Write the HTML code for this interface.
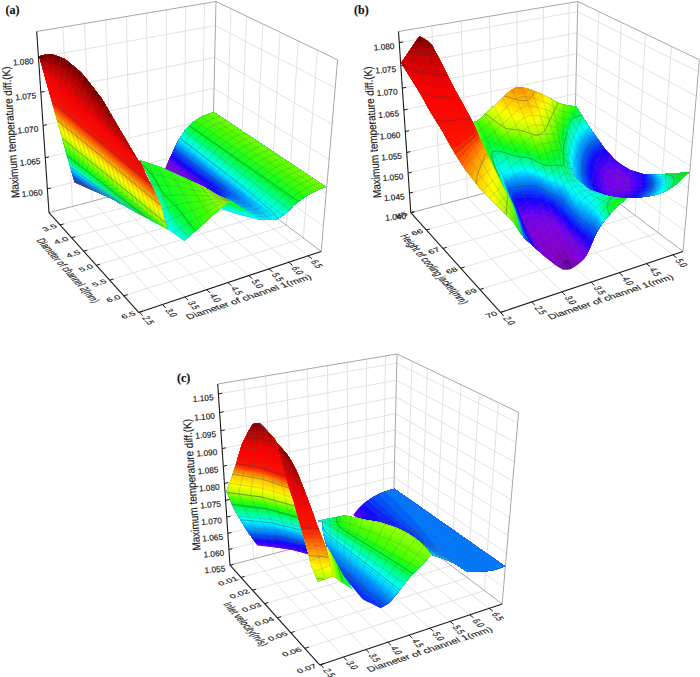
<!DOCTYPE html><html><head><meta charset="utf-8"><style>html,body{margin:0;padding:0;background:#fff}svg{display:block}text{font-family:"Liberation Sans",sans-serif;stroke:#222;stroke-width:0.18px}</style></head><body>
<svg width="700" height="677" viewBox="0 0 700 677">
<rect width="700" height="677" fill="#fff"/>
<g><line x1="72.6" y1="206.5" x2="62.8" y2="27.1" stroke="#e2e2e2" stroke-width="1" />
<line x1="72.6" y1="206.5" x2="162.5" y2="304.5" stroke="#e2e2e2" stroke-width="1" />
<line x1="92.2" y1="201.3" x2="84.5" y2="23.5" stroke="#e2e2e2" stroke-width="1" />
<line x1="92.2" y1="201.3" x2="184.9" y2="297" stroke="#e2e2e2" stroke-width="1" />
<line x1="111.4" y1="196.2" x2="105.6" y2="19.9" stroke="#e2e2e2" stroke-width="1" />
<line x1="111.4" y1="196.2" x2="206.7" y2="289.7" stroke="#e2e2e2" stroke-width="1" />
<line x1="130.2" y1="191.2" x2="126.3" y2="16.5" stroke="#e2e2e2" stroke-width="1" />
<line x1="130.2" y1="191.2" x2="228" y2="282.6" stroke="#e2e2e2" stroke-width="1" />
<line x1="148.7" y1="186.3" x2="146.5" y2="13.1" stroke="#e2e2e2" stroke-width="1" />
<line x1="148.7" y1="186.3" x2="248.7" y2="275.6" stroke="#e2e2e2" stroke-width="1" />
<line x1="166.7" y1="181.5" x2="166.3" y2="9.8" stroke="#e2e2e2" stroke-width="1" />
<line x1="166.7" y1="181.5" x2="269" y2="268.9" stroke="#e2e2e2" stroke-width="1" />
<line x1="184.4" y1="176.9" x2="185.6" y2="6.6" stroke="#e2e2e2" stroke-width="1" />
<line x1="184.4" y1="176.9" x2="288.7" y2="262.2" stroke="#e2e2e2" stroke-width="1" />
<line x1="201.7" y1="172.3" x2="204.5" y2="3.4" stroke="#e2e2e2" stroke-width="1" />
<line x1="201.7" y1="172.3" x2="308" y2="255.8" stroke="#e2e2e2" stroke-width="1" />
<line x1="225.8" y1="179.7" x2="230.9" y2="8.7" stroke="#e2e2e2" stroke-width="1" />
<line x1="59.9" y1="224.9" x2="225.8" y2="179.7" stroke="#e2e2e2" stroke-width="1" />
<line x1="239.9" y1="190.3" x2="246.5" y2="16.2" stroke="#e2e2e2" stroke-width="1" />
<line x1="71.5" y1="237.7" x2="239.9" y2="190.3" stroke="#e2e2e2" stroke-width="1" />
<line x1="254.7" y1="201.4" x2="262.9" y2="24" stroke="#e2e2e2" stroke-width="1" />
<line x1="83.6" y1="251.2" x2="254.7" y2="201.4" stroke="#e2e2e2" stroke-width="1" />
<line x1="270.2" y1="213" x2="280.1" y2="32.3" stroke="#e2e2e2" stroke-width="1" />
<line x1="96.3" y1="265.3" x2="270.2" y2="213" stroke="#e2e2e2" stroke-width="1" />
<line x1="286.4" y1="225.2" x2="298.3" y2="41" stroke="#e2e2e2" stroke-width="1" />
<line x1="109.7" y1="280.2" x2="286.4" y2="225.2" stroke="#e2e2e2" stroke-width="1" />
<line x1="303.4" y1="238" x2="317.4" y2="50.1" stroke="#e2e2e2" stroke-width="1" />
<line x1="123.8" y1="295.9" x2="303.4" y2="238" stroke="#e2e2e2" stroke-width="1" />
<line x1="47.3" y1="188.9" x2="212.7" y2="147.2" stroke="#e2e2e2" stroke-width="1" />
<line x1="212.7" y1="147.2" x2="323.4" y2="226.3" stroke="#e2e2e2" stroke-width="1" />
<line x1="45.2" y1="157.7" x2="213.4" y2="118.2" stroke="#e2e2e2" stroke-width="1" />
<line x1="213.4" y1="118.2" x2="326.2" y2="193.6" stroke="#e2e2e2" stroke-width="1" />
<line x1="43" y1="125.5" x2="214" y2="88.3" stroke="#e2e2e2" stroke-width="1" />
<line x1="214" y1="88.3" x2="329.1" y2="159.6" stroke="#e2e2e2" stroke-width="1" />
<line x1="40.8" y1="92.2" x2="214.7" y2="57.5" stroke="#e2e2e2" stroke-width="1" />
<line x1="214.7" y1="57.5" x2="332.1" y2="124.3" stroke="#e2e2e2" stroke-width="1" />
<line x1="38.4" y1="57.6" x2="215.4" y2="25.6" stroke="#e2e2e2" stroke-width="1" />
<line x1="215.4" y1="25.6" x2="335.2" y2="87.7" stroke="#e2e2e2" stroke-width="1" />
<line x1="36.7" y1="31.5" x2="216" y2="1.5" stroke="#a8a8a8" stroke-width="1" />
<line x1="216" y1="1.5" x2="337.6" y2="59.8" stroke="#a8a8a8" stroke-width="1" />
<line x1="212.2" y1="169.5" x2="216" y2="1.5" stroke="#a8a8a8" stroke-width="1" />
<line x1="321.2" y1="251.4" x2="337.6" y2="59.8" stroke="#a8a8a8" stroke-width="1" />
<line x1="49" y1="212.7" x2="212.2" y2="169.5" stroke="#a8a8a8" stroke-width="1" />
<line x1="212.2" y1="169.5" x2="321.2" y2="251.4" stroke="#a8a8a8" stroke-width="1" /></g>
<g transform="translate(0 0)">
<clipPath id="c1"><path d="M213.8 112.2l5.9 3.9 5.9 4 5.9 3.9 5.9 3.9 5.9 4 5.9 3.9 5.9 3.9 5.9 4 5.9 3.9 5.9 3.9 5.9 3.9 5.9 4 5.9 3.9 5.9 3.9 5.9 4 5.9 3.9 5.9 3.9 5.9 4 5.9 3.9-2.6 .9-2.6 1-2.6 1-2.6 1.2-2.6 1.3-3.3 1.8-3.4 2.1-3.3 2.2-3.2 2.4-3.1 2.3-2.9 2.5-2.7 2.8-2.7 2.7-2.7 2.5-2.6 1.8-2.2 1.3-2 1.2-2 1.1-2.2 .7-2.5 .3-2.3 0-2.5 0-2.7-.1-2.9-.2-3.1-.3-4.7-3.1-4.7-3-4.7-3.1-4.7-3.1-4.7-3-4.7-3.1-5.1-2.4-5.2-2.2-4.9-2.7-4.8-2.9-4.8-2.9-5-2.5-5.1-2.4-5.1-2.3-5.1-2.3-5.1-2.4-5.1-2.4-5.1-2.3-5.1-2.4 1.4-3 1.4-3 1.3-3 1.4-2.8 1.3-2.8 1.7-3.5 1.6-3.5 1.6-3.4 1.7-3.1 1.6-2.8 1.9-2.8 1.8-2.6 1.8-2.5 2-2.2 2-2.1 2.2-2.1 2.3-1.9 2.5-1.8 2.5-1.7 2.7-1.5 2.2-1.1 2.4-1 2.4-.9 2.6-.8 2.6-.8Z"/></clipPath>
<g clip-path="url(#c1)" fill-rule="evenodd">
<rect x="161" y="109" width="168" height="114" fill="#8300d5"/>
<path d="M162 109l167 0 0 114-168 0 0-25.7 .3-.3 0-1 1-1 0-1 1-1 0-2 1-1 0-1 1-1 0-1 1-1 0-1 1-1 0-1 1-1 0-1 1-1 0-2 1-1 0-1 1-1 0-1 1-1-.3-.7-1 .2-.5-.5-.1-1-4.4-3.5-1 0-1-1-1 0-1-1-1 0 0-56.5Z" fill="#7e00e2"/>
<path d="M162 109l167 0 0 114-168 0 0-1 1-1 0-1 1-1 0-1 1-1 0-1 1-1 0-1 1-1 0-1 1-1 0-2 1-1 0-1 1-1 0-1 1-1 0-1 1-1 0-1 1-1 0-1 1-1 0-1 1-1 0-2 1-1 0-1 1-1 0-1 1-1 0-1 1-1 0-1 1-1 0-1 1-1 0-2 1-1 0-2-1 0-2-2 1-1-12-9.5-1-1.7-2 0-1-1-1 0-1-1 0-52.8ZM177 174.6l.4 .4-.4 .2-.2-.2Z" fill="#7b00ec"/>
<path d="M162 109l167 0 0 114-161.3 0 1-1 0-1 1-1 0-1 1-1 0-1 1-1 0-1 1-1 0-2 1-1 0-1 1-1 0-1 1-1 0-1 1-1 0-1 1-1 0-2 1-1 0-1 1-1 0-1 1-1 0-1 1-1 0-1 1-1 0-1 1-1 0-2 1-1 0-1 1-1 0-1 1-1 0-1 .5-1-.2-.4-1 .1-1-1.2-1 .1-1-1.5-1 .4-.3-.5 .3-.4 4 1.5 1.7-.1-19.7-15.4-1 .6-1-1.1-2 0-1-1-1 0-1-1 0-52.1ZM180 176.9l.4 .1-.4 .1Z" fill="#7500f5"/>
<path d="M162 109l167 0 0 114-148.5 0 0-1 1-1 0-1 1-1 0-1 1-1 0-2 1-1 0-1 1-1 0-1 1-1 0-1 1-1 0-1 1-1 0-1 1-1 0-2 1-1 0-1 1-1 0-1 1-1 0-1 1-1 0-1 1-1 0-2 1-1 0-1 1-1 0-1-.5-1.1-1 0-1-1.1-1 .1-2-2.7-1 .3-.5-.5 .5-.6 4.2 1.6 1.8 .3 .5-.3-27.5-21.2-1-.3-1-1-1 0-1-1-1 0-1-1-2 0 0-49.5ZM186 179.9l.2 .1-.2 .1ZM188 180.7l.9 .3-.9 .3-.2-.3Z" fill="#5b00f8"/>
<path d="M162 109l167 0 0 114-144 0 1-1 0-1 1-1 0-1 1-1 0-1 1-1 0-1 1-1 0-1 1-1 0-1 1-1 0-1 1-1 0-1 1-1 0-1 1-1 0-1 1-1 0-1 1-1 0-1 1-1 0-1 1-1 0-1 1-1 0-1 1-1 0-1 1-1 0-1-1-.3-1-1.1-1 .1-1-1.1-1 .1-1-1.4-1 .1-.4-.4 .4-.8 7.8 2.8 1.2 .3 .7-.3-3.2-3-31.5-24-.6-1-1.4-1.2-1 0-1-1-1 0-1-1-1 0-1-1-1 0 0-45.8ZM192 183ZM193 183.4l1 .3 .6 .3-1.6 .4-.4-.4Z" fill="#4100fa"/>
<path d="M162 109l167 0 0 114-141.1 0 1-1 0-1 1-1 0-1 2-2 0-1 1-1 0-1 2-2 0-1 2-2 0-1 1-1 0-1 2-2 0-1 1-1 0-1 2-2 0-1 1-1 0-1 2-2 0-1 1-1-.9-.3-2-2.3-1 .2-1-1.3-1 .1-.4-.4 .4-.7 7.2 2.7 1.4 0-1.6-3.1-4.4-3.9-32.9-25-.7-.4-1 .6-1-1-1 0-1-1-1 0-1-1-1 0-1-1-1 0 0-45.2ZM195 185l.1 0-.1 0ZM197 185.7l.8 .3-.8 .2ZM199 186.5l1 .3 .4 .2-1.4 .3-.3-.3Z" fill="#2700fd"/>
<path d="M162 109l167 0 0 114-134.2 0 0-1 1-1 0-1 2-2 0-1 1-1 0-1 2-2 0-1 1-1 0-1 2-2 0-1 2-2 0-1 1-1 0-1 2-2 0-1 1-1 0-1 2-2-.8-1.4-1 .1-1-1.1-1 0-1-1.1-1-.1-1.2-1.4 .2-.4 8 2.8 1 .7 .3-.1-.1-1-.6-2-3.6-4.3-4.5-3.7-34.3-26-1.2-.5-1-1-1 0-1-1-1 0-1-1-1 0-1-1-1 0-1-1 0-41.5ZM203 188.8l.5 .2-.5 .1Z" fill="#1306ff"/>
<path d="M162 109l167 0 0 114-126.5 0 1-1 0-1 1-1 0-1 1-1 0-1 1-1 0-1 1-1 0-1 2-2 0-1 1-1 0-1 1-1 0-1 1-1 0-1 1-1 0-1 1-1 0-1 2-2 0-1-1.5-1.4-1 .1-1-1.2-1 .1-.4-.6 .4-.9 5.2 1.9 1.1-1 .4-1 0-1-3-4-4.5-4-39.7-30 .6-1-1.1-1.1-1 0-1-1-1 0-1-1-1 0-1-1-2 0-1-1-1 0 0-38.9ZM206 190.8l.7 .2-.7 .1ZM208 191.5l1 .4 .3 .1-1.3 .2-.2-.2ZM210 192.3l1 .4 .8 .3-1.8 .3-.3-.3Z" fill="#0d1eff"/>
<path d="M162 109l167 0 0 114-118 0 1-1 0-1 1-1 0-2 1-1 0-1 1-1 0-1 1-1 0-2 1-1 0-1 1-1 0-1 1-1 0-2 1-1 0-1 1-1 0-1-1-1-1 0-2-2.1-1.3-.9 .3-.6 5 1.6 1.2-3 0-1-.6-2-3.7-4-4.9-4-40-30.2-1-.3-1-1-1 0-1-1-1 0-1-1-1 0-1-1-2 0-1-1-1 0 0-38.5ZM212 193.8l.4 .2-.4 .1ZM214 194.6l1 .4-1 .2-.2-.2Z" fill="#0835ff"/>
<path d="M162 109l167 0 0 114-117.7 0 1-1 0-1 1-1 0-2 1-1 0-1 1-1 0-1 1-1 0-2 1-1 0-1 1-1 0-1 1-1 0-2 1-1 0-1 1-1 0-1-1.3-1.7-1 .1-.4-.4 .4-.7 3 1.2 1 0 0-1-.5-.5 3.3-2 .3-1-2.1-4-4.2-4-45.8-34.6-1-.3-1 .9-1-1-1 0-1-1-1 0-1-1-1 0-1-1-2 0-1-1-1 0 0-38ZM223.3 199l.7 .3 .3-.3-.3-.2ZM218 196.9l.2 .1-.2 .1Z" fill="#034cff"/>
<path d="M162 109l167 0 0 114-117.3 0 1-1 0-1 1-1 0-2 1-1 0-1 1-1 0-1 1-1 0-2 1-1 0-1 1-1 0-1 1-1 0-2 1-1 0-1 1-1 .3-1.8 5 2 .7-.2-3.8-3 4.1-2.6 1-.3 .3-2.1-2.3-2.3-2-2.6-3.6-3.1-46.6-35-.2-1-.6-.4-2 0-1-1-1 0-1-1-1 0-1-1-1 0-1-1-1 0-1-1-1 0-1-1 0-33.6ZM221 198.9l.3 .1-.3 .1Z" fill="#0063ff"/>
<path d="M162 109l167 0 0 114-113 0 1-1 0-1 1-1 0-1 1-1 0-1 1-1 0-1 1-1 0-1 1-1 0-2 1-1 0-1 1-1 0-1 1-1 0-1 1-1 .4-1 1.6 .2 3 1.2 .4-.4-4.4-3.5-1.1-.5 .1-.3 7.3-1.7 1.7-1-1-.9-1 .4-1.5-3.5-5.1-5-51.4-38.9-3 .1-1-1-1 0-1-1-1 0-1-1-1 0-1-1-1 0-1-1-1 0-1-1 0-33.2Z" fill="#0078ff"/>
<path d="M162 109l167 0 0 114-112.6 0 1-1 0-1 1-1 0-1 1-1 0-1 1-1 0-1 1-1 0-1 1-1 0-2 1-1 0-1 1-1 0-1 1-1 0-1 1.6-1.6 1 .1 1 .8 1 .1 1 .8 3 1.2 .7-.4-6.7-5.1 1-.5 2-.3 3 .9 5 .5 1.4-.5 .2-1-.6-.4-2-3.6-.9-1-9.6-8-51.3-39-.6-1-1.6-1.3-1 0-1-1-1 0-1-1-1 0-1-1-1 0-1-1-1 0-1-1-1 0-1-1-1 0 0-29.7ZM235.5 206l.5 .2 .2-.2-.2-.1Z" fill="#008cff"/>
<path d="M162 109l167 0 0 114-112.2 0 1-1 0-1 1-1 0-1 1-1 0-1 1-1 0-1 1-1 0-1 1-1 0-2 1-1 0-1 1-1 0-1 1-1 0-1 1.2-1.2 1 0 1 1 1 0 2 1.5 1 .2 1 .7 4 1.3 .3-.5-6.8-5-.5-.7-.7-.3 .7-.4 8 2.9 3 .6 4-.1 .6-1-.2-1-1.4-1.2-2-3.4-4.3-4.4-14.7-11.6-47-35.8-2-.3-1-1-1 0-1-1-1 0-1-1-1 0-1-1-1 0-1-1-1 0-1-1-1 0-1-1-1 0 0-29.3ZM238.6 208l.4 .1 .3-.1-.3-.2Z" fill="#00a1ff"/>
<path d="M162 109l167 0 0 114-109.2 0 1-1 0-1 1-1 0-1 2-2 0-1 2-2 0-1 2-2 0-1 2-2 0-1 1.2-1.2 2 .1 1 1 1 0 1 .6 1 .1 1 .8 1 .2 1 .7 1 .2 .7-.5-4.1-3 .4-.9 6 2 5 .7 2 .1 2-2-3-3.4-.8-1.5-9.2-8.9-62.5-48.1-.2-1-1.3-1.1-1 0-1-1-1 0-1-1-1 0-2-2-1 0-1-1-1 0-1-1-1 0-1-1-1 0-1-1 0-24.9ZM241.9 210l.1 .1 1.1-.1-1.1-.2ZM235 203.8l.5 .2-.5 .1ZM237 204.6l.8 .4-.8 .2-.4-.2Z" fill="#00b7ff"/>
<path d="M162 109l167 0 0 114-96.8 0 2-2 0-1 2-2 0-1 2-2 0-1 1-1 0-1 1.8-1.8 1 .4 1 0 3 2.3 .4-.9-1.4-1.3-1-.4-1.3-1.3 .3-.4 7 2.2 6 .8 1-.2 1-.7 1 .1 .4-.8-.3-1-4.1-5-14-12.9-63-48.7-1 0-1-1-1 0-1-1-1 0-1-1-1 0-2-2-1 0-1-1-1 0-1-1-1 0-1-1-1 0-1-1 0-24.4Z" fill="#00cdff"/>
<path d="M162 109l167 0 0 114-89.4 0 1-1 0-1 2-2 0-1 2-2 0-1 1.4-1.3 2 0 1 .9 .9-.6-.9-.7-.2-.3 .2-.4 7 1.9 6 .9 1-.4 2 .2 .5-1.2-.4-2-2.1-2.2-2-2.8-4.1-4-14.9-13-63.3-49-.7-2.1-1 0-1-1-1 0-2-2-1 0-1-1-1 0-2-2-1 0-1-1-1 0-2-2-1 0-1-1 0-19.9ZM250.7 215l0 1 .3 .1 .2-1.1-.2-.3Z" fill="#00e3ff"/>
<path d="M162 109l167 0 0 114-82.1 0 0-1 2-2 0-1 3.1-3.1 1 1 2-.3 1.3 .4-1.2 1 .9 .3 1-1.1 7 1.7 7 .5 .5-.4 .4-1 .3-2-.5-1-4.3-5-4.2-4-10.2-8.9-12-9.8-61-47.6-1-.1-1-1.2-1 0-1-1-1 0-2-2-1 0-1-1-1 0-2-2-1 0-1-1-1 0-2-2-1 0-1-1 0-19.4Z" fill="#00f9ff"/>
<path d="M162 109l167 0 0 114-45.9 0-1-1 0-1-2-2-.1-1.1-1-.1-3-2.8-1.5-2-4.3-4-15.4-13-74.2-58-.3-1-2.3-2.1-1 0-2-2-1 0-2-2-1 0-2-2-1 0-2-2-1 0-2-2-1 0-1-1 0-14.9Z" fill="#00ffed"/>
<path d="M162 109l167 0 0 114-42.1 0-2-2 0-1-1-1 0-1-1-1-.1-1-.6-1-15-12-85.2-66.2-2-.5-2-2-1 0-2-2-1 0-2-2-1 0-2-2-1 0-2-2-1 0-2-2-1 0-1-1 0-14.3Z" fill="#00ffd4"/>
<path d="M162 109l167 0 0 114-32.9 0-2-2 0-1-7.1-7.2-1 .7-33-24.6-70.3-53.9-.3-1-2.4-2.2-1 0-2-2-1 0-2-2-1 0-3-3-1 0-2-2-1 0-2-2-1 0-2-2 0-9.8Z" fill="#00ffbb"/>
<path d="M162 109l167 0 0 114-32 0-2-2 0-1-7-7 .9-1-.9-.9-15-10.6-22-16.2-67-50.6-2-.5-2-2-1 0-2-2-1 0-2-2-1 0-3-3-1 0-2-2-1 0-2-2-1 0-2-2 0-9.2Z" fill="#00ffa2"/>
<path d="M162 109l167 0 0 114-25.3 0-5.7-5.7-1 0-6.3-6.3 1.6-2-.3-.2-2 .2-31-22.1-74-54.8-.4-1.1-.6-.4-1 0-3-3-1 0-3-3-1 0-4-4-1 0-3-3-1 0-3-3-1 0-1-1 0-4.6Z" fill="#00ff84"/>
<path d="M164 109l165 0 0 114-20.5 0-14-14 0-1 .8-1-.3-.5-3 .3-5.4-3.8-46.6-33.2-54.7-39.8 .8-1-2.1-2.1-1 0-6-6-1 0-6-6-1 0-5.9-5.9Z" fill="#00ff65"/>
<path d="M164 109l165 0 0 114-17.7 0-4-4 0-1-7-7 0-1-3-3 .2-1 .8-1-.3-.7-3 .4-1-.2-49-34.5-57.2-41-1.8-.8-2-2-1 0-6-6-1 0-6-6-1 0-5.2-5.2ZM299.5 204l.5 .1 0-.1 0-.1Z" fill="#00ff45"/>
<path d="M170 109l159 0 0 114-14.8 0-3-3 0-1-3-3 0-1-3-3 0-1-4-4 0-1-1-1 .4-1 .8-1-.4-1-3 .5-1.7-.5-108.3-75.6-16-16-1 0-1.4-1.4ZM301.1 202l1.9 .2 .1-.2-.1-.3Z" fill="#01ff27"/>
<path d="M176 109l153 0 0 114-10.8 0-2-2 0-1-3-3 0-1-3-3 0-1-2-2 0-1-3-3 0-1-2-2 .4-1 1.4-1.8 1 .1 0-.9-5 .8-1.2-.2-109.8-75.6-2.4-2.4 0-1-12-12Z" fill="#13ff1d"/>
<path d="M182 109l147 0 0 114-7.8 0 0-1-2-2 0-1-2-2 0-1-2-2 0-1-2-2 0-1-2-2 0-1-2-2 0-1-2-2 0-1-.6-1 1.4-1.7 1 .1 .2-.4-.2-.9-5 .7-1-.2-109.2-74.6-.8-.3-.4-.7-5-5 0-1-5-5 0-1-1-1ZM309.8 197l.2 0Z" fill="#26ff13"/>
<path d="M187 109l142 0 0 114-3.7 0-2-2 0-1-1-1 0-1-2-2 0-1-2-2 0-1-1-1 0-1-2-2 0-1-2-2 0-1-1-1 0-1-2-2 0-1-.6-1 1.3-1.5 1 0 1.1-1.5-.1-.3-5 .7-1.5-.4-109.5-74.2-2-.7-2.1-2.1 0-1-3-3 0-1-3-3Z" fill="#38ff08"/>
<path d="M196 109l133 0 0 114-1.4 0 0-1-2-2 0-1-1-1 0-1-1-1 0-1-1-1 0-1-2-2 0-1-1-1 0-1-1-1 0-1-1-1 0-1-1-1 0-1-2-2 0-1-1-1 0-1-.7-1 1.1-1.3 1 0 1.3-1.7-.3-.6-4 .5-1-.3-106-71.8-5-3-.5-.8 0-1-1-1 0-1-1-1 0-1-1-1 0-1-1-1Z" fill="#4cff00"/>
<path d="M206 109l123 0 0 108.4-.4-.4 0-1-1-1 0-2-1-1 0-1-1-1 0-1-1-1 0-1-1-1 0-1-1-1 0-2-1-1 0-1-1-1 0-1-1-1 0-1-1-1 0-1-1-1 2.1-2 .3-1 1 .1 0-.3-3 .4-1.6-.2-108.8-75-.4-1-1-1 0-2-1-1 0-1Z" fill="#66ff00"/>
<path d="M329 111.1l0 .9 0 88.7-.7-.7 0-2-1-1 0-2-1-1 0-2-1-1 0-2-1.3-1.8-.7-.2-18.1-13 .8-.3 .6-.7-.6-.7-1 1.5-5.3-3.8 1-1-.7-.9-1 1.4-3.4-2.5-1.3-1 .6-1-.8-1 0-1 2-2 0-1 2-2 0-1 2-2 0-1 2-2 0-1 2-2 0-1 2-2 0-1 2-2 0-1 2-2 0-1 2-2 0-1 2-2 0-1 2-2 0-1 2-2 0-1 2-2 0-1 2-2 0-1 2-2 0-1 2-2 0-1 2-2 0-1ZM293 164.2l0 .8 0 .1-.2-.1Z" fill="#80ff00"/>
<path d="M174.4 223l0-1 1-1 0-2 1-1 0-1 1-1 0-1 1-1 0-1 1-1 0-1 1-1 0-1 1-1 0-2 1-1 0-1 1-1 0-1 1-1 0-1 1-1 0-1 1-1 0-2 1-1 0-1 1-1 0-1 1-1 0-1 1-1 0-1 1-1 0-2-.4-1.2-1 0-1-1.1-1 .1-1-1.6-1 .3-.5-.5 .5-.6 4 1.2 .3 .4 .7 .2 .7-.2-23.1-18-.3-1-1.3-1.2-1 0-1-1-1 0-1-1-2 0M182 177.9l.2 .1-.2 .1 0-.2M184 178.7l.9 .3-.9 .3-.3-.3 .3-.3M211.7 223l1-1 0-1 1-1 0-2 1-1 0-1 1-1 0-1 1-1 0-2 1-1 0-1 1-1 0-1 1-1 0-2 1-1 0-1 1-1 0-1 .3-.7 5 2 .9-.3-.9-.4-.4-.6-1.4-1-.2-.5-1.1-.5 3.1-1.5 1-.8 1-.3 .3-.4 .3-2-2.6-2.6-1.8-2.4-3.6-3-46.6-35-.3-1-.7-.4-2 0-1-1-1 0-1-1-1 0-1-1-1 0-1-1-1 0-1-1-1 0-1-1M221 198.9l.2 .1-.2 0 0-.1M229 202M280.5 223l-1-1 0-1-1-1 0-1-2-2-2.5-3.4-5-4.8-9-7.8-17.2-14-62.8-48.9-1-.1 1-1-2-2-1 0-2-2-1 0-2-2-1 0-2-2-1 0-2-2-1 0-2-2-1 0-1-1M314.6 223l-3-3 0-1-3-3 0-1-3-3 0-1-4-4 0-1-1-1 .4-1.3 1-1.1 1 0 1.1-1.6-.1-.3-4 .7-2-.1-108-75.1-1-.2 1-1-3-3 0-1-12-12" fill="none" stroke="rgba(55,55,55,0.5)" stroke-width="0.8"/>
<path d="M213.8 112.2l5.9 3.9 5.9 4 5.9 3.9 5.9 3.9 5.9 4 5.9 3.9 5.9 3.9 5.9 4 5.9 3.9 5.9 3.9 5.9 3.9 5.9 4 5.9 3.9 5.9 3.9 5.9 4 5.9 3.9 5.9 3.9 5.9 4 5.9 3.9M207.4 114.3l5.9 3.9 5.9 4 5.9 3.9 5.9 4 5.9 3.9 5.9 4 5.8 3.9 5.9 4 5.9 3.9 5.9 4 5.9 3.9 5.9 4 5.9 3.9 5.9 4 5.9 3.9 5.9 4 5.9 3.9 5.9 4 5.9 3.9M201.6 116.8l5.9 4 5.8 3.9 5.9 4 5.8 4 5.9 4 5.8 3.9 5.9 4 5.9 4 5.8 4 5.9 3.9 5.8 4 5.9 4 5.9 4 5.8 3.9 5.9 4 5.8 4 5.9 4 5.8 3.9 5.9 4M195.1 120.9l5.8 4 5.8 4 5.7 4.1 5.8 4 5.7 4 5.8 4 5.8 4 5.7 4.1 5.8 4 5.7 4 5.8 4 5.8 4 5.7 4.1 5.8 4 5.7 4 5.8 4 5.8 4.1 5.7 4 5.8 4M189.4 125.8l5.6 4.1 5.7 4 5.6 4.1 5.7 4.1 5.6 4 5.7 4.1 5.6 4.1 5.6 4 5.7 4.1 5.6 4.1 5.7 4.1 5.6 4 5.6 4.1 5.7 4.1 5.6 4 5.7 4.1 5.6 4.1 5.7 4 5.6 4.1M184.5 131.3l5.5 4.2 5.6 4.1 5.5 4.1 5.6 4.1 5.5 4.1 5.5 4.1 5.6 4.1 5.5 4.1 5.5 4.1 5.5 4.1 5.6 4.2 5.5 4.1 5.5 4.1 5.6 4.2 5.5 4.1 5.5 4.2 5.5 4.1 5.6 4.2 5.5 4.1M179.9 138l5.4 4.1 5.5 4 5.4 4.1 5.4 4.1 5.4 4.1 5.5 4 5.4 4.1 5.4 4.1 5.4 4.1 5.5 4 5.4 4.1 5.4 4.1 5.4 4.1 5.5 4 5.4 4.1 5.4 4.1 5.4 4.1 5.5 4 5.4 4.1M175.8 145.6l5.4 3.9 5.3 3.9 5.3 3.9 5.4 3.9 5.3 3.9 5.3 3.9 5.4 3.9 5.3 3.9 5.4 3.9 5.3 3.8 5.4 3.8 5.4 3.9 5.4 3.9 5.4 3.7 5.4 3.8 5.4 3.8 5.4 3.7 5.4 3.7 5.4 3.7M171.7 154.3l5.2 3.5 5.3 3.5 5.2 3.5 5.3 3.6 5.2 3.5 5.3 3.5 5.2 3.5 5.3 3.5 5.2 3.5 5.3 3.5 5.3 3.4 5.3 3.4 5.4 3.4 5.3 3.4 5.3 3.4 5.3 3.4 5.4 3.4 5.3 3.4 5.3 3.4M168.3 161.4l5.2 3 5.2 3.1 5.1 3 5.2 3 5.2 3 5.2 3 5.2 3 5.1 3 5 3.2 5.1 3.2 5.2 3.1 5.2 2.8 5.3 2.8 5 3.1 5.1 3.2 5.1 3.2 5.1 3.1 5.1 3.4 5.1 3.3M164.9 168.9l5.1 2.4 5.1 2.3 5.1 2.4 5.1 2.4 5.1 2.3 5.1 2.3 5.1 2.4 5 2.5 4.8 2.9 4.8 2.9 4.9 2.7 5.2 2.2 5.1 2.4 4.7 3.1 4.7 3 4.7 3.1 4.7 3.1 4.7 3 4.7 3.1M213.8 112.2l-2.6 .8-2.6 .8-2.4 .9-2.4 1-2.2 1.1-2.7 1.5-2.5 1.7-2.5 1.8-2.3 1.9-2.2 2.1-2 2.1-2 2.2-1.8 2.5-1.8 2.6-1.9 2.8-1.6 2.8-1.7 3.1-1.6 3.4-1.6 3.5-1.7 3.5-1.3 2.8-1.4 2.8-1.3 3-1.4 3-1.4 3M220 116.4l-2.6 .7-2.6 .9-2.4 .9-2.4 1-2.2 1.1-2.7 1.5-2.6 1.7-2.5 1.9-2.4 1.9-2.2 2.1-2.1 2.1-2 2.3-1.9 2.4-1.9 2.6-1.9 2.8-1.7 2.7-1.6 3.1-1.7 3.3-1.7 3.3-1.7 3.3-1.3 2.6-1.4 2.7-1.4 2.6-1.4 2.8-1.4 2.7M226.3 120.5l-2.7 .8-2.5 .8-2.5 1-2.4 1-2.2 1.1-2.8 1.5-2.6 1.7-2.6 1.9-2.4 2-2.3 2.1-2.1 2.1-2 2.3-2 2.4-1.9 2.6-1.9 2.8-1.8 2.7-1.7 3-1.7 3.1-1.7 3.2-1.7 3.1-1.4 2.4-1.4 2.5-1.5 2.4-1.4 2.4-1.4 2.5M232.5 124.6l-2.6 .8-2.6 .9-2.5 .9-2.4 1.1-2.2 1.1-2.8 1.5-2.7 1.8-2.6 1.9-2.5 2-2.3 2.1-2.2 2.1-2.1 2.3-2 2.5-1.9 2.6-2 2.7-1.8 2.6-1.7 2.9-1.8 3.1-1.7 3-1.8 2.9-1.4 2.3-1.5 2.2-1.4 2.2-1.5 2.1-1.5 2.2M238.7 128.8l-2.6 .8-2.6 .9-2.5 .9-2.4 1.1-2.3 1.1-2.8 1.6-2.7 1.7-2.6 1.9-2.6 2.1-2.4 2.1-2.2 2.1-2.1 2.4-2 2.4-2.1 2.6-2 2.7-1.8 2.6-1.8 2.8-1.7 2.9-1.8 2.9-1.8 2.7-1.5 2.1-1.5 2-1.5 1.9-1.5 1.9-1.5 1.9M244.9 133l-2.6 .7-2.6 .9-2.4 1-2.5 1-2.3 1.2-2.8 1.6-2.8 1.7-2.7 2-2.6 2-2.4 2.2-2.3 2.2-2.1 2.3-2.1 2.4-2.1 2.6-2.1 2.7-1.8 2.5-1.8 2.8-1.8 2.8-1.9 2.7-1.8 2.6-1.5 1.8-1.5 1.8-1.5 1.7-1.6 1.6-1.5 1.5M251.2 137.1l-2.7 .8-2.5 .9-2.5 1-2.5 1-2.3 1.2-2.9 1.6-2.8 1.8-2.7 1.9-2.7 2.1-2.5 2.2-2.3 2.2-2.2 2.3-2.1 2.5-2.1 2.6-2.1 2.6-1.9 2.5-1.9 2.7-1.8 2.7-1.9 2.6-1.9 2.3-1.5 1.6-1.5 1.5-1.6 1.5-1.5 1.4-1.6 1.2M257.4 141.2l-2.6 .9-2.6 .9-2.5 .9-2.5 1.1-2.3 1.2-3 1.6-2.8 1.8-2.8 2-2.7 2.1-2.5 2.2-2.4 2.2-2.2 2.4-2.2 2.4-2.1 2.6-2.2 2.6-1.9 2.4-1.9 2.6-1.9 2.6-1.9 2.5-1.9 2.1-1.6 1.4-1.6 1.3-1.5 1.3-1.6 1.1-1.6 .9M263.6 145.4l-2.6 .8-2.6 .9-2.5 1-2.4 1.1-2.4 1.2-3 1.6-2.9 1.8-2.8 2.1-2.7 2.1-2.7 2.2-2.4 2.2-2.2 2.4-2.3 2.5-2.2 2.5-2.2 2.6-1.9 2.4-1.9 2.5-2 2.5-1.9 2.3-2 1.9-1.6 1.3-1.6 1.1-1.7 1.1-1.7 .9-1.6 .8M269.8 149.6l-2.6 .8-2.6 .9-2.5 1-2.4 1.1-2.5 1.2-3 1.6-2.9 1.9-2.9 2-2.7 2.1-2.7 2.2-2.4 2.3-2.4 2.4-2.2 2.5-2.3 2.6-2.3 2.5-1.9 2.3-2 2.4-1.9 2.4-2 2.1-2 1.8-1.7 1.1-1.7 1.1-1.8 .9-1.8 .8-1.8 .7M276.1 153.7l-2.6 .8-2.6 .9-2.6 1.1-2.4 1.1-2.5 1.1-3 1.7-3 1.9-2.9 2.1-2.8 2.1-2.7 2.2-2.5 2.3-2.4 2.5-2.3 2.5-2.3 2.5-2.3 2.5-2 2.2-2 2.3-1.9 2.2-2 2-2.1 1.6-1.8 1-1.8 .9-1.8 .8-1.9 .7-1.9 .5M282.3 157.8l-2.6 .9-2.6 .9-2.5 1-2.5 1.1-2.5 1.2-3.1 1.7-3 1.9-3 2.1-2.8 2.2-2.8 2.2-2.5 2.3-2.5 2.5-2.3 2.6-2.4 2.5-2.3 2.4-2 2.1-2 2.2-2 2.1-2 1.9-2.1 1.3-1.8 .8-1.8 .7-1.9 .6-2 .5-2 .2M288.5 162l-2.6 .8-2.6 1-2.5 1-2.5 1.1-2.5 1.2-3.1 1.7-3.1 2-3 2.1-2.9 2.2-2.8 2.2-2.6 2.4-2.5 2.5-2.4 2.5-2.4 2.6-2.4 2.3-2 2.1-2 2.1-2 2-2 1.6-2.2 1.1-1.8 .5-1.9 .5-2 .3-2 .3-2 .1M294.8 166.2l-2.7 .8-2.6 .9-2.5 1.1-2.5 1.1-2.5 1.2-3.2 1.8-3.1 1.9-3.1 2.1-2.9 2.3-2.9 2.2-2.6 2.4-2.5 2.5-2.5 2.6-2.4 2.5-2.4 2.3-2.1 2-2 2-2 1.8-2.1 1.5-2.2 .9-1.9 .3-1.9 .3-2.1 .3-2.1 .2-2.2 0M301 170.3l-2.6 .8-2.6 1-2.6 1.1-2.5 1.1-2.5 1.2-3.2 1.8-3.2 1.9-3.1 2.2-3 2.2-2.9 2.3-2.7 2.4-2.6 2.6-2.5 2.6-2.5 2.5-2.4 2.2-2.1 1.8-2 1.9-2 1.7-2.1 1.3-2.3 .7-1.9 .3-2.1 .2-2.2 .2-2.3 .1-2.4 0M307.2 174.4l-2.6 .9-2.6 1-2.6 1-2.5 1.2-2.6 1.2-3.2 1.8-3.2 2-3.1 2.1-3.1 2.3-3 2.3-2.7 2.4-2.6 2.6-2.6 2.7-2.5 2.5-2.5 2.1-2.1 1.7-2 1.8-2 1.5-2.1 1.2-2.4 .5-2 .2-2.2 .1-2.3 .1-2.5 .1-2.5 0M313.4 178.6l-2.6 .9-2.6 .9-2.6 1.1-2.5 1.2-2.6 1.2-3.2 1.8-3.3 2-3.2 2.2-3.1 2.3-3 2.3-2.8 2.4-2.7 2.7-2.6 2.7-2.5 2.5-2.6 2-2.1 1.6-2 1.6-2 1.4-2.2 1-2.3 .4-2.2 .1-2.3 0-2.4 0-2.6 0-2.7 0M319.7 182.8l-2.6 .8-2.7 1-2.5 1.1-2.6 1.1-2.6 1.3-3.3 1.8-3.3 2.1-3.2 2.2-3.2 2.3-3.1 2.3-2.8 2.5-2.7 2.7-2.7 2.7-2.6 2.5-2.5 1.9-2.2 1.5-2 1.4-2 1.2-2.2 .9-2.4 .3-2.2 0-2.4 0-2.6 0-2.8-.1-2.9-.1M325.9 186.9l-2.6 .9-2.6 1-2.6 1-2.6 1.2-2.6 1.3-3.3 1.8-3.4 2.1-3.3 2.2-3.2 2.4-3.1 2.3-2.9 2.5-2.7 2.8-2.7 2.7-2.7 2.5-2.6 1.8-2.2 1.3-2 1.2-2 1.1-2.2 .7-2.5 .3-2.3 0-2.5 0-2.7-.1-2.9-.2-3.1-.3" fill="none" stroke="rgba(95,95,95,0.45)" stroke-width="0.5"/>
</g></g>
<g transform="translate(0 0)">
<clipPath id="c2"><path d="M228.8 200l3.3 2.1 3.4 2.1 3.3 2.1 3.3 2.2 3.3 2.1 3.3 2.2 3.3 2.2 3.3 2.2 3.3 2.2 0 .1 0 .1-4.2-1-4.1-1.1-4.2-1-4.1-1-4.1-1.2-4.1-1.3-4.1-1.3-4-1.4-4.1-1.3 1.3-1.7 1.3-1.6 1.3-1.7 1.1-1.3 1.1-1.4 1.1-1.3Z"/></clipPath>
<g clip-path="url(#c2)" fill-rule="evenodd">
<rect x="218" y="197" width="44" height="26" fill="#00c9ff"/>
<path d="M219 197l43 0 0 26-10.7 0 0-3 1-1-1.3-1.1-2-.3-1 .3-1-1.3-1.7-.6-.3-.1-1 .8-1-1.3-7-1.9-.9 .5 0 2-1 1 0 2-1 1 0 2-1 1-14.1 0 0-26Z" fill="#00e3ff"/>
<path d="M219 197l43 0 0 22.6-4 .1-3.9-1.7-1.1-.4-1 .1-1.1-.7-1.9-.6-1 0-.3-.4-5.7-1.7-14-3.3-.7 1 0 1-1 1 0 2-1 1 0 2-1 1 0 2-1 1-5.3 0 0-26Z" fill="#00f9ff"/>
<path d="M219 197l43 0-.1 15-2 2 0 1-2 2 .3 2-.2 0-5-2-13-4.1-8-2-9-1.8-1-1.2-1 0-3-3 0-7.9Z" fill="#00ffed"/>
<path d="M219 197l43 0 0 13.3-.7 .7 0 1-2 2 0 1-2 2 0 1-.3 .2-1-.7-1-.2-1-.6-13-4.3-8-2.1-10-2.3-1-.6-1 0-3-3 0-7.4Z" fill="#00ffd4"/>
<path d="M219 197l43 0 0 6.7-.3 .3 0 1-2 2 0 1-2 2 0 1-2 2 0 1-1.7 1.7-1 .3-14-4.9-16-4.3-4-4-1 0 0-5.8Z" fill="#00ffbb"/>
<path d="M219 197l43 0 0 6.2-.8 .8 0 1-2 2 0 1-2 2 0 1-2 2 0 1-1.2 1.2-2-.1-1-.8-1 0-12-4.4-12-3.2-2-.5-1 .1-4-4-1 0 0-5.3Z" fill="#00ffa2"/>
<path d="M219 197l1 0 41.6 0-1 1 0 1-2 2 0 1-2 2 0 1-2 2 0 1-2 2 0 1-2.6 2.8-15.7-5.8-9.3-2.6-4-3.6-1 0-2-2 0-2.8Z" fill="#00ff84"/>
<path d="M219 197l1 0 41 0-1 1 0 1-2 2 0 1-2 2 0 1-2 2 0 1-2 2 0 1-2 2-1-.9-2 .1-15-5.7-8-2.2-3-3-1 0-2-2 0-2.3Z" fill="#00ff65"/>
<path d="M219 197l37.4 0 0 1-2 2 0 1-2 2 0 1-2 2 0 1-2 2 0 1-1.4 1.5-15-5.8-6-1.9-4-4-1 0-2.8-2.8Z" fill="#00ff45"/>
<path d="M219 197l1 0 32.8 0-2 2 0 1-2 2 0 1-2 2 0 1-2 2 0 1-.8 .9-12-5-5-1.7-1 .1-4-4.1-1 0-2.2-2.2Z" fill="#01ff27"/>
<path d="M222 197l1 0 29.2 0-2 2 0 1-2 2 0 1-2 2 0 1-2 2-.2 1.2-1-.1-1-.8-14-5.7-1-.9-1 0-4.7-4.7Z" fill="#13ff1d"/>
<path d="M222 197l1 0 24 0-2 2 0 1-2 2 0 1-1 1 0 1-2 2-2-1.6-1 .1-10-4.3-1 0Z" fill="#26ff13"/>
<path d="M224 197l13.7 0 0 1-2 2 0 1-1.7 1.7-1 .1-5-1.9-3-3.2-1 0-.7-.7Z" fill="#38ff08"/>
<path d="M224 197l1 0 8.4 0-2 2 0 1-.4 .4-1 .1-2-.3-3-3.1Z" fill="#4cff00"/>
</g></g>
<g transform="translate(0 0)">
<clipPath id="c3"><path d="M139.7 160.2l2.3 4.4 2.3 4.5 2.4 4.4 2.3 4.4 1.9 4.6 1.8 4.7 1.9 4.7 1.8 4.6 1.9 4.6 1.8 4.7 1.8 4.6 1.6 4.8 1.5 4.8 1.5 4.7 1.6 4.8 4.1 2.8 4.1 2.9 4.1 2.8 4.1 2.9 1.6-1.5 1.7-1.4 1.6-1.5 1.6-1.5 1.7-1.5 1.7-1.5 1.8-1.5 1.7-1.5 3.1-2.9 3.2-2.9 3.2-2.8 3.1-2.9 2.7-2.5 2.8-2.6 2.8-2.5 2.7-2.5 1.1-1 1.2-1 1.1-.9 1.1-1 .8-.8 .9-.7 .9-.8 .8-.8-.1-.1-2.7-1.2-2.8-1.1-2.8-1.2-2.7-1.2-3.5-2.2-3.6-2.1-3.5-2.1-3.5-2.2-4.3-2-4.3-2-4.4-1.9-4.3-2-5.5-2.6-5.5-2.5-5.5-2.5-5.5-2.6-3.7-1.3-3.8-1.4-3.7-1.4-3.7-1.3-2.6-.8-2.6-.9-2.5-.8-2.6-.8Z"/></clipPath>
<g clip-path="url(#c3)" fill-rule="evenodd">
<rect x="136" y="157" width="97" height="87" fill="#00ffff"/>
<path d="M137 157l96 0 0 87-71.3 0 0-1 2-2 0-1 2-2 0-1 2-2 0-1 2.9-3-2.1-2-1.1-2-.4-1.6-1.7-1.4 .7-1.1-1-.5-1 0-1 1-2 0-1 1-2 0-1 1-2 0-1 1-2 0-1 1-2 0-1 1-3 0-1 1-2 0-1 1-2 0-1 1-2 0 0-74.4Z" fill="#00ffed"/>
<path d="M137 157l96 0 0 87-53.1 0 0-1 3-3-.6-1-11.6-11-4.3-9-3.7-9-1.7-3-.4 1 1.7 6-.3 .3-.3-.3 .2-1-1.5-1 .3-2-1.3-1-.2-1-1.1-1 0-2-1.1-.2-1 0-1 1-2 0-1 1-1 0-1 1-2 0-1 1-1 0-1 1-2 0-1 1-1 0-1 1-2 0-1 1-1 0 0-55.8ZM163 216.3l.2 .7-.2 .2-.2-.2Z" fill="#00ffd4"/>
<path d="M137 157l96 0 0 87-42 0-2-2 0-1-2-2-1 1-.4-1-6.5-6-6.9-7-4.3-8-4.2-9-5.7-9.8-.5 .8 1 4-.5 .3-.4-.3 .1-1-1.3-1 .2-2-1.6-1-1 1-2 0-1 1-1 0-1 1-2 0-1 1-1 0-1 1-2 0-1 1-1 0-1 1-2 0-1 1 0-50ZM156.8 198l.2 .6 .3-.6-.3-.4ZM159 205.9l.3 1.1-.3 .2-.2-.2Z" fill="#00ffbb"/>
<path d="M137 157l96 0 0 87-39 0-2-2 0-1-3-3-1-.1-3.6-2.9-10-10-4.5-7-6.9-13-8-13.1-.3 .1-.3 1 .5 2-.9 .5-.8-.5 .2-2-1.2-1 .1-1-2.3-.3-1 1-1 0-1 1-2 0-1 1-1 0-1 1-2 0-1 1-1 0-1 1-1 0 0-39.7ZM153.9 191l.1 .5 0-.7ZM155 195.4l.5 1.6-.5 .3-.3-.3ZM156 199Z" fill="#00ffa2"/>
<path d="M137 157l96 0 0 87-35.9 0-3-3 0-1-3.1-3.1-1-.2-4-3.2-10-10.2-6-8.3-10.7-19-3.3-5-4-5.4-.4 .4 0 1-.6 .6-.6-.6 .1-1-1.5-.3-1 1-1 0-1 1-2 0-1 1-1 0-1 1-2 0-1 1-1 0-1 1 0-34.7ZM152 188.5l.4 1.5-.4 .2-.6-.2Z" fill="#00ff84"/>
<path d="M137 157l96 0 0 87-32.9 0-5-5 0-1-3.1-3.2-1-.2-3.3-2.6-10.7-10.9-3-3.6-4-5.4-4.4-8.1-7.6-12.6-4.4-6.4-4.6-5.5-.3 .5 .3 2.2-1-.6-2 0-1 1-1 0-1 1-2 0-1 1-1 0-1 1-2 0 0-28.6Z" fill="#00ff65"/>
<path d="M137 157l96 0 0 87-29.8 0-4-4 0-1-5.2-5.2-1-.5-2.3-2.3-8.7-9.1-7-6.5-3-3.1-10.7-18.3-5.3-8.3-4-5.6-6-6.8-.5 .7 .7 1 .1 1-1.3 1.3-1 0-1 1-1 0-1 1-1 0-1 1-1 0-1 1-1 0 0-24.3Z" fill="#00ff45"/>
<path d="M137 157l96 0 0 87-26.8 0-4-4 0-1-8.9-9-10.3-12.4-16-16.7-11.4-18.9-3.6-5.3-4-4.9-4-3.7-1 .1-1-.5-1 0-2 2-1 0-1 1-1 0 0-13.7Z" fill="#01ff27"/>
<path d="M137 157l96 0 0 87-23.8 0-4-4 0-1-7-7 0-1-1.2-1.4-1-.3-10-14.3-11-14.1-6.4-6.9-7.6-6.6-1-1.3-.3-1.1-7.1-12-3.8-5-4.8-4.6-3-2-2 1.7-1 0-1 1-1 0 0-7.1Z" fill="#13ff1d"/>
<path d="M159 157l74 0 0 87-18.6 0-5-5 0-1-9.4-9.4-.9-.6-.1-.7-6-9.6-16-25-13-17.5-8-9.7-.2-.5 1-1 0-2 1-1 0-2 1-1 0-1Z" fill="#26ff13"/>
<path d="M187 157l46 0 0 87-7 0-11-11 0-1-9-9-2-.1-27.5-47.9 .5-1 1 0 1 1 0-2 1-1 0-1 1-1 0-1 1-1 0-2 1-1 0-1 1-1 0-1 1-1 0-1 1-1 0-1Z" fill="#38ff08"/>
<path d="M200 157l33 0 0 87-1.4 0-2-2 0-1-10-10 0-1-11.2-11 .3-1-10.4-21-8.5-16-.8-.2-.7-.8 2.3-2 0-2 1-1 0-1 1-1 0-1 1-1 0-1 1-1 0-1 1-1 0-2 1-1 0-1 1-1 0-1 1-1 0-1 1-1 0-1Z" fill="#4cff00"/>
<path d="M210 157.1l23-.1 0 76.9-8.9-8.9 0-1-9.1-9.1-1.8-.9-16.7-30 .5-.6 1 .8 .1-2.2 1-1 0-1 1-1 0-2 1-1 0-1 1-1 0-1 1-1 0-1 1-1 0-1 1-1 0-2 1-1 0-1 1-1 0-1 1-1 0-1 1-1 0-1Z" fill="#66ff00"/>
<path d="M215 157.7l.7-.7 17.3 0 0 71.3-2.3-2.3 0-1-11-11 0-1-2.3-2 .1-1-4.7-8-5.6-9-4.8-7 .3-1 1-1 0-2 1-1 0-1 1-1 0-1 1-1 0-1 1-1 0-2 1-1 0-1 1-1 0-1 1-1 0-1 1-1 0-1 1-1 0-1 1-1 0-2 1-1 0-1Z" fill="#80ff00"/>
<path d="M233 159.5l0 .5 0 58-2-2 0-1-7-7 0-1-1 0-5.1-8-4.4-6 .9-1 .1-2 1-1 0-1 1-1 0-1 2-2 0-1 1-1 0-1 2-2 0-1 2-2 0-1 1-1 0-1 2-2 0-1 1-1 0-1 2-2 0-1 1-1 0-1 2-2 0-1ZM214.4 193l.6 .5 .4-.5-.4-.4ZM216.8 194l.2 .1 0-.3Z" fill="#9aff00"/>
<path d="M206.7 244l-4-4 0-1-7-7-.3-1-.7-1-11.7-15.1-9.5-10.9-9.5-9.6-8-13.5-2.6-3.9-3.7-5-3.7-4.1-4-3.4-.9 .5 1 1-.1 1-1 0-2 2-1 0-1 1-1 0" fill="none" stroke="rgba(55,55,55,0.5)" stroke-width="0.8"/>
<path d="M139.7 160.2l2.3 4.4 2.3 4.5 2.4 4.4 2.3 4.4 1.9 4.6 1.8 4.7 1.9 4.7 1.8 4.6 1.9 4.6 1.8 4.7 1.8 4.6 1.6 4.8 1.5 4.8 1.5 4.7 1.6 4.8 4.1 2.8 4.1 2.9 4.1 2.8 4.1 2.9M147.4 162.7l1.9 4.1 2 4.1 1.9 4.1 1.9 4.1 1.8 4.2 1.8 4.1 1.8 4.2 1.9 4.1 1.8 4.2 1.9 4.1 1.8 4.2 1.7 4.1 2.3 3.9 2.4 3.8 2.3 3.8 3 3.4 3 3.3 3.2 3.2 3.6 2.8M157.4 166.2l1.8 3.6 1.8 3.6 1.7 3.5 1.8 3.6 1.7 3.6 1.8 3.6 1.8 3.6 1.8 3.5 1.8 3.6 1.8 3.6 1.7 3.5 1.8 3.6 2.2 3.4 2.1 3.3 2.2 3.4 2.2 3.3 2.2 3.3 2.3 3.3 2.5 2.9M170.4 171.5l1.6 2.8 1.6 2.9 1.6 2.9 1.7 2.9 1.6 2.8 1.6 2.9 1.6 2.9 1.6 2.9 1.6 2.8 1.6 2.9 1.6 2.9 1.7 2.9 1.6 2.9 1.6 2.8 1.6 2.9 1.6 2.9 1.6 2.9 1.6 2.8 1.6 2.9M186.9 179.1l1.2 2 1.3 2 1.2 2.1 1.3 2 1.2 2 1.3 2 1.2 2 1.2 2.1 1.3 2 1.2 2 1.3 2 1.2 2.1 1.2 2 1.3 2 1.2 2 1.3 2 1.2 2.1 1.3 2 1.2 2M199.9 185l1 1.3 1 1.3 1 1.4 .9 1.3 1 1.3 1 1.3 1 1.3 1 1.3 1 1.3 1 1.3 1 1.3 1 1.4 1 1.3 1 1.3 1 1.3 1 1.3 1 1.3 1 1.3 1 1.3M211.2 191.3l.7 .7 .7 .8 .6 .7 .7 .8 .6 .7 .7 .8 .7 .7 .6 .8 .7 .7 .6 .7 .7 .8 .6 .7 .7 .8 .7 .7 .6 .8 .7 .7 .6 .8 .7 .7 .7 .7M221 196.8l.4 .3 .3 .3 .3 .3 .3 .3 .3 .3 .3 .4 .3 .3 .3 .3 .3 .3 .3 .3 .3 .3 .3 .3 .3 .3 .3 .4 .3 .3 .3 .3 .3 .3 .3 .3 .3 .3M229.3 200.3l.1 .1M139.7 160.2l2.6 .8 2.5 .8 2.6 .9 2.6 .8 3.7 1.3 3.7 1.4 3.8 1.4 3.7 1.3 5.5 2.6 5.5 2.5 5.5 2.5 5.5 2.6 4.3 2 4.4 1.9 4.3 2 4.3 2 3.5 2.2 3.5 2.1 3.6 2.1 3.5 2.2 2.7 1.2 2.8 1.2 2.8 1.1 2.7 1.2M146 172.2l2.2 .6 2.2 .5 2.2 .5 2.2 .6 3.7 .7 3.7 .8 3.7 .8 3.7 .8 5.2 1.8 5.1 1.7 5.2 1.8 5.2 1.8 4.1 1.3 4.1 1.3 4.1 1.4 4.1 1.3 3.2 1.7 3.1 1.7 3.2 1.7 3.2 1.7 2.5 .9 2.5 .9 2.4 .9 2.5 .9M151.7 184.5l2 .2 2 .2 2 .2 2 .1 3.6 .2 3.7 .2 3.7 .3 3.6 .2 4.9 1 4.8 1 4.8 1 4.8 1 3.9 .7 3.9 .6 3.9 .7 3.8 .7 2.9 1.3 2.8 1.2 2.9 1.3 2.8 1.3 2.2 .6 2.2 .6 2.2 .6 2.2 .6M156.7 197.2l2-.3 2-.3 1.9-.3 2-.3 3.6-.3 3.6-.4 3.6-.3 3.6-.3 4.5 .2 4.5 .2 4.5 .2 4.5 .3 3.7 0 3.6 0 3.7 .1 3.6 0 2.5 .9 2.5 .8 2.5 .8 2.5 .8 1.9 .3 2 .4 1.9 .3 1.9 .3M161.7 209.8l2-.8 1.9-.7 2-.7 2-.8 3.6-.9 3.5-.9 3.5-.9 3.6-.9 4.1-.5 4.2-.6 4.1-.5 4.2-.6 3.4-.6 3.4-.6 3.5-.5 3.4-.6 2.1 .3 2.2 .4 2.1 .4 2.2 .3 1.7 .1 1.6 0 1.7 .1 1.7 .1M165.9 222.7l2.4-1.4 2.5-1.5 2.5-1.4 2.4-1.4 3.2-1.3 3.2-1.3 3.2-1.3 3.2-1.3 3.8-1.3 3.8-1.3 3.8-1.3 3.9-1.4 3.2-1.2 3.2-1.3 3.2-1.2 3.2-1.2 1.8-.1 1.8-.1 1.8-.1 1.8-.1 1.4-.2 1.4-.2 1.4-.2 1.4-.2M173.4 233.1l2.3-1.6 2.4-1.7 2.4-1.7 2.4-1.6 2.6-1.6 2.5-1.5 2.6-1.5 2.6-1.5 3.5-2.1 3.5-2.1 3.4-2.1 3.5-2.1 3-1.9 3-1.9 3-1.8 2.9-1.9 1.5-.5 1.5-.6 1.4-.5 1.5-.5 1.1-.5 1.1-.5 1.2-.5 1.1-.5M184.5 240.9l1.6-1.5 1.7-1.4 1.6-1.5 1.6-1.5 1.7-1.5 1.7-1.5 1.8-1.5 1.7-1.5 3.1-2.9 3.2-2.9 3.2-2.8 3.1-2.9 2.7-2.5 2.8-2.6 2.8-2.5 2.7-2.5 1.1-1 1.2-1 1.1-.9 1.1-1 .8-.8 .9-.7 .9-.8 .8-.8" fill="none" stroke="rgba(95,95,95,0.45)" stroke-width="0.5"/>
</g></g>
<g transform="translate(0 0)">
<clipPath id="c4"><path d="M39.2 56.3l6.6-1.7 6.4-.4 6.4 2.3 6.3 2.4 5.2 4.3 5.2 4.4 5.2 4.3 4.4 5.1 4.2 5.3 4.1 5.3 4.2 5.4 4.1 5.3 3.5 5.8 3.4 5.8 3.4 5.9 3.4 5.8 3.4 5.9 3.4 5.8 3.5 5.8 3.5 5.8 3.4 5.8 3.5 5.8 3.5 5.8 .1-.3 .1-.4 .2-.3 .1-.3 1.5 3.5 1.6 3.5 1.5 3.5 1.5 3.5 1.7 3.2 1.7 3.2 1.8 3.3 1.7 3.2 2.1 4.8 2.2 4.8 2.1 4.8 2.1 4.8 .9 3.6 .9 3.5 .9 3.6 .9 3.6 .7 2 .7 2 .8 1.9 .7 2-2.3-1.3-2.4-1.2-2.3-1.2-2.3-1.3-5.4-2.9-5.4-2.8-5.3-2.8-5.4-2.9-6.4-3.6-6.5-3.5-6.4-3.6-6.4-3.6-9.2-4-9.1-4-9.2-4.1-9.2-4-.1-.1-.8-2.7-.8-2.7-.7-2.8-.8-2.7-.7-2.6-.8-2.7-.7-2.6-.7-2.6-.8-2.8-.8-2.7-.7-2.7-.8-2.8-.4-1.4-.3-1.4-.4-1.3-.4-1.4-.4-1.5-.4-1.6-.5-1.5-.4-1.5-1.2-4.2-1.2-4.2-1.2-4.2-1.2-4.2-1.1-4-1.2-4-1.1-4-1.1-4-1.1-4-1.1-4-1.2-4-1.1-4-1.2-4.2-1.1-4.2-1.2-4.2-1.2-4.2-1.2-4.1-1.1-4.1-1.1-4.2-1.2-4.1Z"/></clipPath>
<g clip-path="url(#c4)" fill-rule="evenodd">
<rect x="36" y="51" width="135" height="182" fill="#1400ff"/>
<path d="M37 51l134 0 0 182-113.6 0 1-1 0-1 1-1 0-1 1-1 0-1 1-1 0-2 1-1 0-1 1-1 0-1 1-1 0-2 1-1 0-1 1-1 0-1 1-1 0-1 1-1 0-2 1-1 0-1 1-1 0-1 1-1 0-2 1-1 0-2 1-1 0-1 1-1 0-3 1-1 0-3 1-1 0-3 .3-1-1.7-1.2-4-.2-1 1-2 0-1 1-3 0-1 1-2 0-1 1-3 0-1 1-2 0-1 1-3 0-1 1-2 0-1 1-3 0-1 1-2 0-1 1-3 0 0-140.6Z" fill="#0d1eff"/>
<path d="M37 51l134 0 0 182-113.2 0 1-1 0-1 1-1 0-1 1-1 0-1 1-1 0-2 1-1 0-1 1-1 0-1 1-1 0-2 1-1 0-1 1-1 0-1 1-1 0-1 1-1 0-2 1-1 0-1 1-1 .1-1 .9-1 .1-2 1-1 0-2 1-1 0-1 1-1 0-3 1-1 0-3 1-1 0-3 .1-.2 1 1 1-.2 1 1 1.2-.6-6.2-4.3-1 .4-3 0-1 1-2 0-1 1-3 0-1 1-2 0-1 1-3 0-1 1-2 0-1 1-3 0-1 1-2 0-1 1-3 0-1 1-2 0-1 1-3 0 0-140.1ZM73.9 180l.1 .1 0-.1Z" fill="#0835ff"/>
<path d="M37 51l134 0 0 182-102.7 0 1-1 0-1 1-1 0-1 1-1 0-1 1-1 0-2 1-1 0-1 1-1 0-1 1-1 0-2 1-1 0-1 1-1 0-1 1-1 0-1 1-1 0-2 1-1 0-1 1-1 0-2 1-1 0-2 1-1 0-2 1-1 0-3 1-1 .4-5-11.7-8.2-2-.2-1 1-3 0-1 1-3 0-1 1-2 0-1 1-3 0-1 1-2 0-1 1-3 0-1 1-2 0-1 1-3 0-1 1-2 0-1 1-3 0 0-137.6Z" fill="#034cff"/>
<path d="M37 51l134 0 0 182-102.2 0 1-1 0-1 1-1 0-1 1-1 0-1 1-1 0-2 1-1 0-1 1-1 0-1 1-1 0-2 1-1 0-1 1-1 0-1 1-1 0-1 1-1 0-2 1-1 0-1 1-1 0-2 1-1 0-2 1-1 0-2 1-1 0-3 1-1 0-3 .2-.3 1 0 1 .7 1 .1 1.2-.5-16.2-11.3-2 .3-1 1-3 0-1 1-3 0-1 1-2 0-1 1-3 0-1 1-2 0-1 1-3 0-1 1-2 0-1 1-3 0-1 1-2 0-1 1-3 0 0-137Z" fill="#0063ff"/>
<path d="M37 51l134 0 0 182-91.7 0 1-1 0-1 1-1 0-1 1-1 0-2 1-1 0-1 1-1 0-1 1-1 0-1 1-1 0-2 1-1 0-1 1-1 0-1 1-1 0-2 1-1 0-1 1-1 0-2 1-1 0-2 1-1 0-3 1-1 0-4-.6-1 .9-1-21.6-15.1-1-.4-1 1-3 0-1 1-2 0-1 1-3 0-1 1-2 0-1 1-3 0-1 1-2 0-1 1-3 0-1 1-2 0-1 1-3 0-1 1-2 0-1 1 0-135.5Z" fill="#0078ff"/>
<path d="M37 51l134 0 0 182-91.2 0 1-1 0-1 1-1 0-1 1-1 0-2 1-1 0-1 1-1 0-1 1-1 0-1 1-1 0-2 1-1 0-1 1-1 0-1 1-1 0-2 1-1 0-1 1-1 0-2 1-1 0-2 1-1 0-3 1-1 0-4 .2-.4 1 .7 2 .1 1.2-.4-27.2-19-4 0-1 1-2 0-1 1-3 0-1 1-2 0-1 1-3 0-1 1-2 0-1 1-3 0-1 1-2 0-1 1-3 0-1 1-2 0-1 1 0-133Z" fill="#008cff"/>
<path d="M37 51l134 0 0 182-80.8 0 1-1 0-1 1-1 0-1 1-1 0-2 1-1 0-1 1-1 0-1 1-1 0-2 1-1 0-1 1-1 0-1 1-1 .1-2 1-1 0-2 1-1 0-2 1-1 0-2 1-1 .1-5-.4-.5-1-.1-.4-.4 .4-.7 1 0 .6-.3-31.6-22.1-1 .6-3 0-1 1-2 0-1 1-3 0-1 1-2 0-1 1-3 0-1 1-2 0-1 1-3 0-1 1-2 0-1 1-3 0-1 1-2 0-1 1 0-132.5Z" fill="#00a1ff"/>
<path d="M37 51l134 0 0 182-80.3 0 1-1 0-1 1-1 0-1 1-1 0-2 1-1 0-1 1-1 0-1 1-1 0-2 1-1 0-1 1-1 0-1 1-1 0-2 1-1 0-2 1-1 .1-2 1-1 0-2 1-1 .2-4.8 1-.3 2 .3 1.2-.2-1.2-.5-.2-.5-35.8-25-2 0-1 1-3 0-1 1-3 0-1 1-2 0-1 1-3 0-1 1-2 0-1 1-3 0-1 1-3 0-1 1-2 0-1 1-3 0 0-129Z" fill="#00b7ff"/>
<path d="M37 51l134 0 0 182-74.8 0 1-1 0-1 1-1 0-1 1-1 0-1 1-1 0-1 2-2 0-1 1-1 0-1 1-1 0-1 1-1 0-1 1-1 0-1 1-1 0-1 1-1 0-1 1-1 0-1 1-1 0-2 1-1 .1-3-.3-.4-1-.1-1-1.2-.8-.3 .8-.3 3 .5 .1-.2-1.1-.2-.2-.8-1.8-1.3-37-25.9-1-.3-2 0-1 1-3 0-1 1-3 0-1 1-2 0-1 1-3 0-1 1-2 0-1 1-3 0-1 1-3 0-1 1-2 0-1 1-3 0 0-128.5Z" fill="#00cdff"/>
<path d="M37 51l134 0 0 182-74.3 0 1-1 0-1 1-1 0-1 1-1 0-1 1-1 0-1 2-2 0-1 1-1 0-1 1-1 0-1 1-1 0-1 1-1 0-1 1-1 0-1 1-1 0-1 1-1 0-1 1-1 0-2 1-1 .3-3 1-.4 1 .1 .4-.7-42.4-30.1-3 .2-1 1-3 0-1 1-3 0-1 1-2 0-1 1-3 0-1 1-2 0-1 1-3 0-1 1-3 0-1 1-2 0-1 1-3 0 0-128.1Z" fill="#00e3ff"/>
<path d="M37 51l134 0 0 182-66.8 0 1-1 0-1 2-2 0-1 1-1 0-1 1-1 0-1 2-2 0-1 1-1 0-1 1-1 0-2 1-1 0-1 1-1 0-1 1-1 0-1 1-1 0-1 1-1-.2-2.4-1-1.1-1-.5 1.7-1-1.2-1-46.5-33.4-1 0-1 1-2 0-1 1-3 0-1 1-3 0-1 1-2 0-1 1-3 0-1 1-2 0-1 1-3 0-1 1-3 0-1 1-2 0-1 1 0-126.6Z" fill="#00f9ff"/>
<path d="M37 51l134 0 0 182-66.3 0 1-1 0-1 2-2 0-1 1-1 0-1 1-1 0-1 2-2 0-1 1-1 0-1 1-1 0-2 1-1 0-1 1-1 0-1 1-1 0-1 1-1 0-1 1-1 0-2 .3-1 1 .7 1.2-.7-50.2-36.7-2-.1-1 1-2 0-1 1-3 0-1 1-3 0-1 1-2 0-1 1-3 0-1 1-2 0-1 1-3 0-1 1-3 0-1 1-2 0-1 1 0-126.2Z" fill="#00ffed"/>
<path d="M37 51l134 0 0 182-57.9 0 0-1 1-1 0-1 2-2 0-1 1-1 0-1 1-1 0-1 1-1 0-1 1-1 0-1 1-1 0-1 1-1 0-2 1-1 0-1 1-1 0-1 1-1 .2-1-1.5-1 .3-1-1.1 .3-.2-.3 .7-1-53.5-39.3-4 0-1 1-2 0-1 1-3 0-1 1-3 0-1 1-2 0-1 1-3 0-1 1-2 0-1 1-3 0-1 1-3 0-1 1 0-123.7Z" fill="#00ffd4"/>
<path d="M37 51l134 0 0 182-57.4 0 0-1 1-1 0-1 2-2 0-1 1-1 0-1 1-1 0-1 1-1 0-1 1-1 0-1 1-1 0-1 1-1 0-2 1-1 0-1 1-1 0-1 1.4-1.7 .7-.3 .1-1-1.8-1.5-55-40.8-1 .6-3 0-1 1-2 0-1 1-3 0-1 1-3 0-1 1-2 0-1 1-3 0-1 1-2 0-1 1-3 0-1 1-3 0-1 1 0-123.3Z" fill="#00ffbb"/>
<path d="M37 51l134 0 0 182-49.9 0 1-1 0-1 1-1 0-1 2-2 0-1 1-1 0-1 1-1 0-1 1-1 0-2 1-1 0-1 1-1 0-2 1-1 0-1 .4-1-.9-1-.2-1-60.1-45-1.3-1.3-2 .1-1 1-3 0-1 1-2 0-1 1-3 0-1 1-3 0-1 1-2 0-1 1-3 0-1 1-2 0-1 1-3 0-1 1-1 0 0-120.8Z" fill="#00ffa2"/>
<path d="M37 51l134 0 0 182-49.4 0 1-1 0-1 1-1 0-1 2-2 0-1 1-1 0-1 1-1 0-1 1-1 0-2 1-1 0-1 1-1 0-2 1-1 0-1 .4-.5 1.6-.5-1.6-1.6-23-17.4-40-29.9-2 .3-1 1-3 0-1 1-2 0-1 1-3 0-1 1-3 0-1 1-2 0-1 1-3 0-1 1-2 0-1 1-3 0-1 1-1 0 0-120.4ZM67.7 159l.3 .5 .3-.5-.3-.3ZM133.7 212l.3 .3 .6-.3-.6-.7Z" fill="#00ff84"/>
<path d="M37 51l134 0 0 182-41.9 0 1-1 0-1 2-2 0-1 1-1 0-1 1-1 0-1 1-1 0-1 1-1 0-1 1-1 0-4 1.4-1-12.5-10-12.2-9-4.8-3.9-4.5-3.1-10.5-8.3-2.7-1.7-9.3-7-2.1-2-1.7-1-4.8-4-1.7-1-1.7-1.5-1.3-.5-.5-1 .4-1-.6-.6-2 2.5-2 0-1 1-3 0-1 1-2 0-1 1-3 0-1 1-2 0-1 1-3 0-1 1-2 0-1 1-3 0-1 1-2 0 0-117.9Z" fill="#00ff65"/>
<path d="M37 51l134 0 0 182-41.1 0 1-1 0-1 2-2 0-1 1-1 0-1 1-1 0-1 1-1 0-1 1-1 0-1 1-1 0-4 1.1-.2 1 1 1-.2 .3-.6-72.3-55.6-1-1.3-2 2-2 0-1 1-3 0-1 1-2 0-1 1-3 0-1 1-2 0-1 1-3 0-1 1-2 0-1 1-3 0-1 1-2 0 0-117.1ZM141.4 216l.6 .6 .4-.6-.4-.3Z" fill="#00ff45"/>
<path d="M37 51l134 0 0 182-34.3 0 1-1 0-1 1-1 0-1 1-1 0-1 2-2 0-1 1-1 0-1 1-1 0-3 1.5-1-78.2-60.7-1 1-2 0-1 1-3 0-1 1-2 0-1 1-3 0-1 1-2 0-1 1-3 0-1 1-2 0-1 1-3 0-1 1-2 0 0-114.3ZM145.7 218l.3 .3 .3-.3-.3-.2Z" fill="#01ff27"/>
<path d="M37 51l134 0 0 182-27.6 0 1-1 0-1 1-1 0-1 1-1 0-1 1-1 0-1 1-1 0-4 .7-1-82.1-64.5-3 .1-1 1-2 0-1 1-3 0-1 1-3 0-1 1-2 0-1 1-3 0-1 1-2 0-1 1-3 0-1 1-2 0 0-111.6ZM149.8 220l.2 .2 .2-.2-.2-.2Z" fill="#13ff1d"/>
<path d="M37 51l134 0 0 182-20.8 0 1-1 0-1 1-1 0-1 1-1 0-1 1-1 0-4-87.2-69.1-1-1.2-2 .1-1 1-2 0-1 1-3 0-1 1-2 0-1 1-3 0-1 1-3 0-1 1-2 0-1 1-3 0-1 1-2 0 0-108.8Z" fill="#26ff13"/>
<path d="M37 51l134 0 0 182-16 0 0-1 2-2 0-1 1-1 0-1 1-1 0-1-.9-1-1.1 0-2 2-.3-1 0-2 .3-.6 1 1.1 .9-.5-90.9-72.6-1-.4-2 0-1 1-2 0-1 1-3 0-1 1-3 0-1 1-2 0-1 1-3 0-1 1-3 0-1 1-2 0-1 1-1 0 0-107Z" fill="#38ff08"/>
<path d="M37 51l134 0 0 182-12.4 0 0-1 2-2 0-1 1-1 .3-2-96.9-78.1-1 .5-2 0-1 1-3 0-1 1-3 0-1 1-2 0-1 1-3 0-1 1-3 0-1 1-2 0-1 1-3 0 0-104.4Z" fill="#4cff00"/>
<path d="M37 51l134 0 0 182-6.9 0 0-1 2-2-.1-1.3-1.5-1.7-99.5-80.8-1-.3-2 0-1 1-3 0-1 1-3 0-1 1-2 0-1 1-3 0-1 1-3 0-1 1-2 0-1 1-3 0 0-101.9Z" fill="#66ff00"/>
<path d="M37 51l134 0 0 176.4-2 0-1 1-.7-.4-103.3-84.3-1-.4-1 1-2 0-1 1-3 0-1 1-2 0-1 1-3 0-1 1-3 0-1 1-2 0-1 1-3 0-1 1-1 0 0-100.3Z" fill="#80ff00"/>
<path d="M37 51l134 0 0 173.2-1 1-2 0-1 1-104-85.3-1-.1-1 1-2 0-1 1-3 0-1 1-2 0-1 1-3 0-1 1-3 0-1 1-2 0-1 1-3 0-1 1 0-97.8Z" fill="#9aff00"/>
<path d="M37 51l134 0 0 170-1 0-1 1-2 0-.1 1-.9 .5-103-84.3-3 0-1 1-3 0-1 1-2 0-1 1-3 0-1 1-2 0-1 1-3 0-1 1-3 0-1 1-1 0 0-95.2Z" fill="#b2ff00"/>
<path d="M37 51l134 0 0 166.8-1 1-3 0-2 2.2-103-84.5-2 0-1 1-3 0-1 1-2 0-1 1-3 0-1 1-2 0-1 1-3 0-1 1-2 0-1 1-2 0 0-92.5Z" fill="#c9ff00"/>
<path d="M37 51l134 0 0 166.2-1 1-3 0-1 1-1 .2-104.8-86.4-2.2-.1-1 1-3 0-1 1-2 0-1 1-3 0-1 1-2 0-1 1-3 0-1 1-2 0-1 1 0-88.9Z" fill="#dfff00"/>
<path d="M37 51l134 0 0 163.6-3 0-1 1-2 0-1 1-103-84.5-3 .3-1 1-3 0-1 1-2 0-1 1-3 0-1 1-2 0-1 1-3 0-1 1-2 0-1 1 0-88.4Z" fill="#f5ff00"/>
<path d="M37 51l134 0 0 160-2 0-1 1-3 0-2 2-103-84.6-1-1.6-1 1-2 0-1 1-3 0-1 1-2 0-1 1-3 0-1 1-2 0-1 1-3 0-1 1-1 0 0-83.8Z" fill="#fff600"/>
<path d="M37 51l134 0 0 159.4-2 0-1 1-3 0-1 1-1 .2-1-1.2-102-83.8-1-.4-1 1-2 0-1 1-3 0-1 1-2 0-1 1-3 0-1 1-2 0-1 1-3 0-1 1-1 0 0-83.2Z" fill="#ffe500"/>
<path d="M37 51l134 0 0 155.7-1 0-1 1-3 0-1 1-4 .1-102-83.8-1-1.5-1 1.2-3 0-1 1-2 0-1 1-3 0-1 1-2 0-1 1-3 0-1 1-2 0-1 1 0-79.7Z" fill="#ffd400"/>
<path d="M37 51l134 0 0 155.1-1 0-1 1-3 0-1 1-3.2-.1-.8-.9-103-84.8-.7 .7-.3 1.1-3 0-1 1-2 0-1 1-3 0-1 1-2 0-1 1-3 0-1 1-2 0-1 1 0-79.1Z" fill="#ffc300"/>
<path d="M37 51l134 0 0 148.5-1 1-1 0-1 1-1 0-1 1-1 0-1 1-2 0-1 1-1 0-100-82.3-3-2.9-1 .2-1 1-3 0-1 1-2 0-1 1-3 0-1 1-2 0-1 1-3 0-1 1-1 0 0-74.5Z" fill="#ffaf00"/>
<path d="M37 51l134 0 0 144-1 0-1 1-1 0-1 1-2 0-1 1-1 0-1 1-1 0-1 1-1.1 0-.5 1-.4 .1-101-83.1-1.9-2-1.1 1-3 0-1 1-2 0-1 1-3 0-1 1-2 0-1 1-3 0-1 1 0-71Z" fill="#ff9b00"/>
<path d="M37 51l134 0 0 143.4-1 0-1 1-1 0-1 1-2 0-1 1-1 0-1 1-1 0-1 1-2 .3-1-1.1-101-83.2-1 0-1 1-3 0-1 1-2 0-1 1-3 0-1 1-2 0-1 1-3 0-1 1 0-70.4Z" fill="#ff8600"/>
<path d="M37 51l134 0 0 137.8-1 0-1 1-1 0-1 1-1 0-1 1-1 0-1 1-2 0-1 1-1 0-1 1-1.4 .2-.6 1-100-82.3-1.6-1.7-.4-.2-1 1-3 0-1 1-2 0-1 1-3 0-1 1-2 0-1 1-3 0 0-65.8Z" fill="#ff7100"/>
<path d="M37 51l134 0 0 137.2-1 0-1 1-1 0-1 1-1 0-1 1-1 0-1 1-2 0-1 1-1 0-1 1-2 .3-101-83.4-1 .1-1 1-3 0-1 1-2 0-1 1-3 0-1 1-2 0-1 1-3 0 0-65.2Z" fill="#ff5a00"/>
<path d="M37 51l134 0 0 131.7-1 1-1 0-1 1-2 0-1 1-1 0-1 1-1 0-1 1-1 0-1 1-2 0-1 1-1 0-1 1.2-100.3-82.9-.7-.3-1 1-3 0-1 1-2 0-1 1-3 0-1 1-3 0-1 1-1 0 0-61.7Z" fill="#ff4200"/>
<path d="M37 51l134 0 0 131.1-1 1-1 0-1 1-2 0-1 1-1 0-1 1-1 0-1 1-1 0-1 1-2 0-1 1-1 0-1 1.1-.3-1.2-.7-.7-82.9-68.3-6.1-5.3-7-5.5-2-2-1-.6-2 1.5-3 0-1 1-2 0-1 1-3 0-1 1-3 0-1 1-1 0 0-61.1Z" fill="#ff2b00"/>
<path d="M37 51l134 0 0 125.4-1 0-1 1-1 0-1 1-1 0-1 1-1 0-1 1-1 0-2 2-1 0-1 1-1 0-1 1-1 0-1 1-1 0-1 1-4-3.7-95-79-1-.3-1 1-3 0-1 1-3 0-1 1-2 0-1 1-3 0-1 1 0-57.4Z" fill="#ff1400"/>
<path d="M37 51l134 0 0 120.6-2 2-1 0-1 1-1 0-1 1-1 0-1 1-1 0-1 1-1 0-1 1-1 0-2 2-1 0-1 1-1 0-1 1-1 0-1-.7-1 .2-97.3-82.1-.7-.4-1 0-1 1-2 0-1 1-3 0-1 1-2 0-1 1-3 0 0-52.6Z" fill="#ff1000"/>
<path d="M37 51l134 0 0 116.8-1 1-1 0-1 1-1 0-2 2-1 0-1 1-1 0-1 1-1 0-1 1-1 0-1 1-1 0-1 1-1 0-2 2-1 0-1 1-2 .1-97.3-82.9-.4-1-1.3-.2-1 1-2 0-1 1-3 0-1 1-2 0-1 1-2 0 0-48.8Z" fill="#ff0c00"/>
<path d="M37 51l134 0 0 116-1 1-1 0-1 1-1 0-2 2-1 0-1 1-1 0-1 1-1 0-1 1-1 0-1 1-1 0-1 1-1 0-2 2-1 0-1 1-1.1 0 .1-1-1-1-1 .7-96-82.8-2 .1-1 1-2 0-1 1-3 0-1 1-2 0-1 1-2 0 0-48ZM146.7 176l.3 .4 .2-.4-.2-.2Z" fill="#ff0800"/>
<path d="M37 51l134 0 0 112.2-1 1-1 0-1 1-1 0-1 1-1 0-1 1-1 0-2 2-1 0-1 1-1 0-1 1-1 0-1 1-1 0-1 1-1 0-1 1-1 0-2 2.1-1-1.1-1 .2-.5-.4 1.2-1-.7-.7-1 1-1-1.4-2-1-2-2.4-2.4-1.5-2.6-2.8-2.1-1.2-1.9-2.4-2.7-1.6-1.3-2-2-.9-2-2.5-2-1.1-2.2-2.5-2.8-1.7-2-2.6-2-1-2-2.6-2-.8-2-2.6-2.9-1.7-1.4-2-3.1-2-1.6-2.1-2-1-2-2.6-2-.9-2-2.6-2-.9-1.1-.9-1.3-2-2.6-1.5-2-2.5-2.1-1-1.9-2.6-2-.8-.7-.6-1.3-2.2-2-.7-2.6-3.1-1.4-.5-1-.8-2-2.6-2.3-1.1-1.7-2.5-2-.7-.8-.8-1.2-2.1-2.3-.9-1.7-2.4-.8-.6-1.2-.3-2 1.5-2 0-1 1-3 0-1 1-3 0-1 1 0-44.2ZM144.9 172l.1 .1 .1-.1-.1-.1Z" fill="#ff0400"/>
<path d="M37 51l134 0 0 106.6-1 1-1 0-1 1-1 0-1 1-2 0-1 1-1 0-1 1-1 0-1 1-2 0-1 1-1 0-1 1-1 0-1 1-1 0-1 1-2 0-1 1-1 0-1 1-2-.3-4.8-4.3-1.2-.7-1-1.3-89-80.1-2 .4-1 1-3 0-1 1-2 0-1 1-1 0 0-35.3Z" fill="#ff0000"/>
<path d="M37 51l134 0 0 98.5-1 0-1 1-1 0-1 1-1 0-1 1-1 0-1 1-2 0-1 1-1 0-1 1-1 0-1 1-2 0-1 1-1 0-1 1-1 0-1 1-2 0-1 1-1 0-1 1-1 0-1 1.3-1 0 0 .7 .5 .5-.5 .4-3-.8-.7-.6 .3-2-1.6-2.6-3-2-1-1.6-3-2.2-1-1.6-3-2.2-2-2.4-2-1.4-2-2.3-2-1.5-2-2.2-2.5-2-1.5-1.8-2.7-2.2-64.3-60.2-.8-.8-.1-1-1.1 .9-3 0-1 1-2 0 0-21.9Z" fill="#f00000"/>
<path d="M37 51l134 0 0 79.7-2 2-1 0-2 2-1 0-6 6-1 0-8 8-1 0-8 8-1 0-1 1-2 .5-3.1-2.2-1.9-3.1-1.6-.9-2.4-3.4-1-.6-3-3.5-16-16.2-34-33.5-14-12.8-9-7.2-7-4.4-1-.1-1 1-3 0-1 1-2 0 0-21.3ZM135 153ZM139 161.5l1 .9 .2 .6-.2 .3-1.2-.3-.5-1ZM141 161.8l.4 .2-.9 0Z" fill="#de0000"/>
<path d="M37 51l134 0 0 79.3-2 2-1 0-2 2-1 0-6 5.9-1 0-8 8-1 0-8 8-1 0-1 1-1 .1-2-1.3 .6-1-.6-.6-1 1.6-2.6-4-1.9-2-2.5-3.4-19.3-21.6-32.7-34-13-11.8-9-6.6-5-2.9-6-2.4-1-.9-1 .2-1 1-2 0-1 1-1 0 0-17.6ZM129.9 145l.1 .1 .1-.1ZM131 147ZM132.7 150l.3 .6 .4-.6-.4-.4ZM133.6 152l.7 1 .3 1 .4 .2 .6-1.2-1-1-.6-.3Z" fill="#cd0000"/>
<path d="M37 51l134 0 0 72.8-1 1-1 0-2 2-1 0-1 1-1 0-2 2-1 0-1 1-1 0-2 2-1 0-1 1-1 0-2 2-1 0-1 1-1 0-2 2-1 0-1 1-1 0-2 2-1 0-1 1-1 0-2 2-1 0-1 1-1 0-1 1-2.5-.8 .3-1-1.8-1.6-1 1-15-18.6-32-35.5-5-5.2-13-11.4-11-6.5-5-1.7-5-1-.8-.5-.2-1-1 0-1 1-3 0 0-13ZM124.8 137l.2 .3 .2-.3-.2-.2ZM125.8 139l.2 .2 .1-.2-.1-.1ZM126.5 140l.9 2 .6 .8 .7-.8-.3-1-1.4-1.5ZM129 144.6l.2 .4-.2 .7-.6-.7ZM130 146.9l0 .1 0 .1-.1-.1Z" fill="#b40000"/>
<path d="M37 51l134 0 0 56.2-2 2-1 0-1 1-1 0-2 2-1 0-1 1-1 0-2 2-1 0-1 1-1 0-2 2-1 0-1 1-1 0-2 2-1 0-1 1-1 0-2 2-1 0-1 1-1 0-2 2-1 0-1 1-1 0-2 2-1 0-1 1-1 0-2 2-1 0-1 1-1 0-1 1-1.8-.2 .7-1-1.3-1 .3-1-1.2-1 .2-1-1.9-1.4-1 .9-12-15-25-29-4.2-4.5-13.8-11.9-8-4.5-4-1.8-2-.5-5-.7-4 .1-2 1.6-3 0 0-12.3ZM115.9 122l.1 .1 0-.1ZM118.4 127l.6 .6 .5-.6-.5-.5ZM120 129.6l.3 .4-.3 .9-.7-.9ZM121 131.7l.1 .3-.1 .3-.2-.3Z" fill="#980000"/>
<path d="M37 51l134 0 0 34.2-1 0-2 2-1 0-1 1-1 0-1 1-1 0-2 2-1 0-1 1-1 0-2 2-1 0-1 1-1 0-1 1-1 0-2 2-1 0-1 1-1 0-1 1-1 0-2 2-1 0-1 1-1 0-2 2-1 0-1 1-1 0-1 1-1 0-2 2-1 0-1 1-1 0-2 2-1 0-1 1-1 0-1 1-1 0-2 2-1 0-1 1-1 0-1 .9-1-.7-.7-1.4-1.3-1 .7-1-.7-.7-1 .5-26-31.9-5-5.6-15-12.7-10-4.4-2-.7-4-.3-5 .2-3 .6-2-.3-1 1-1 0 0-8.7Z" fill="#7c0000"/>
<path d="M68.8 233l1-1 0-1 1-1 0-1 1-1 0-1 1-1 0-2 1-1 0-1 1-1 0-1 1-1 0-2 1-1 0-1 1-1 0-1 1-1 0-1 1-1 .1-2 1-1 0-1 1-1 0-2 1-1 0-2 1-1 0-2 1-1 0-3 1-1 0-3 .1-.2 1 0 1 .7 1 .1 1-.1 .3-.5-16.3-11.4-1 .4-1 0-1 1-3 0-1 1-3 0-1 1-2 0-1 1-3 0-1 1-2 0-1 1-3 0-1 1-2 0-1 1-3 0-1 1-2 0-1 1-3 0M104.5 233l1-1 0-1 2-2 0-1 1-1 0-1 1-1 0-1 2-2 0-1 1-1 0-1 1-1 0-2 1-1 0-1 1-1 0-1 1-1 0-1 1-1 0-1 1-1 0-3 1.2-1-1.2-1-47.5-34.5-2-.2-1 1-2 0-1 1-3 0-1 1-3 0-1 1-2 0-1 1-3 0-1 1-2 0-1 1-3 0-1 1-3 0-1 1-2 0-1 1M121 204l-.3 0 .3 .1 0-.1M143 233l1-1 0-1 1-1 0-1 1-1 0-1 1-1 0-1 1-1 .2-5-80.2-62.7-1-.3-1-1-2 0-1 1-2 0-1 1-3 0-1 1-3 0-1 1-2 0-1 1-3 0-1 1-2 0-1 1-3 0-1 1-2 0M171 220.8l-1 0-1 1-2 0-.5 1.2-.5 .3-103-84.3-2-2-1 0-1 1-3 0-1 1-2 0-1 1-3 0-1 1-2 0-1 1-3 0-1 1-2 0-1 1-2 0M171 199.6l-1 1-1 0-1 1-1 0-1 1-1 0-1 1-2 0-1 1-1 .2-102-83.9-.4-.9-.6-.5-1 .1-1 1-3 0-1 1-2 0-1 1-3 0-1 1-2 0-1 1-3 0-1 1-1 0M171 176l-1 0-1 1-1 0-1 1-1 0-1 1-1 0-1 1-1 0-2 2-1 0-1 1-1 0-1 1-1 0-1 1-1 0-1 1 0-2-1-1-1 .7-98-82-1 .3 1 1-1 1-3 0-1 1-3 0-1 1-2 0-1 1-3 0-1 1M171 130.3l-2 2-1 0-2 2-1 0-6 5.9-1 0-8 8-1 0-8 8-1 0-1 1-1 0-1.7-1.2 .4-1-1.2-1 .3-1-.8-.9-1-.5-.5 .4 .7 1 .1 1-.3 .2-.6-1.2-2.7-3-2.1-3-12.1-14-11.5-12.6-25-26.3-5-5-12.4-11.1-7.6-5.4-5-3-3-1.1-2-1.1-2-.5-1-.6-1 .2-1 1-2 0-1 1-1 0M130 144.8l-.2 .2 .2 .4 .2-.4-.2-.2M131 146.9l-.2 .1 .2 .2 .3-.2-.3-.1M132 149l-.1 0 .1 0M133 149.5l-.4 .5 .4 .8 .5-.8-.5-.5M135 154.4l.3 .6-.3 .7-.5-.7 .5-.6" fill="none" stroke="rgba(55,55,55,0.5)" stroke-width="0.8"/>
<path d="M39.2 56.3l1.2 4.1 1.1 4.2 1.1 4.1 1.2 4.1 1.2 4.2 1.2 4.2 1.1 4.2 1.2 4.2 1.1 4 1.2 4 1.1 4 1.1 4 1.1 4 1.1 4 1.2 4 1.1 4 1.2 4.2 1.2 4.2 1.2 4.2 1.2 4.2 .4 1.5 .5 1.5 .4 1.6 .4 1.5 .4 1.4 .4 1.3 .3 1.4 .4 1.4 .8 2.8 .7 2.7 .8 2.7 .8 2.8 .7 2.6 .7 2.6 .8 2.7 .7 2.6 .8 2.7 .7 2.8 .8 2.7 .8 2.7M46.4 54.6l.5 5.6 .5 5.6 .5 5.6 .5 5.6 1.2 4.2 1.2 4.1 1.2 4.2 1.1 4.2 1.2 3.9 1.1 4 1.2 4 1.2 3.9 1.1 4.1 1.2 4 1.2 4 1.1 4.1 1.2 4.1 1.2 4.2 1.2 4.2 1.2 4.2 .4 1.5 .5 1.5 .4 1.6 .4 1.5 .3 1.3 .2 1.2 .3 1.3 .2 1.2 .5 2.5 .5 2.5 .5 2.5 .5 2.5 .3 2.3 .4 2.3 .4 2.4 .4 2.3 .3 2.4 .3 2.4 .3 2.4 .3 2.4M53.5 54.7l-.2 6.6-.1 6.6-.1 6.7-.1 6.6 1.2 4.1 1.2 4.2 1.2 4.1 1.2 4.1 1.2 4 1.2 3.9 1.1 3.9 1.2 3.9 1.2 4.1 1.3 4.1 1.2 4.1 1.2 4 1.2 4.2 1.1 4.1 1.2 4.2 1.2 4.1 .4 1.6 .5 1.5 .4 1.6 .5 1.6 .1 1.1 .1 1.1 .1 1.2 .2 1.1 .2 2.2 .1 2.2 .2 2.2 .2 2.2 .1 2.1 0 2 .1 2 0 2.1-.2 2.1-.1 2-.2 2.1-.2 2.1M60.4 57.2l-.7 7-.7 7.1-.7 7-.8 7.1 1.3 4.1 1.2 4.1 1.2 4.1 1.2 4.1 1.2 3.9 1.3 3.9 1.2 3.9 1.2 3.9 1.2 4.1 1.3 4.1 1.3 4.1 1.2 4.1 1.2 4.1 1.2 4.1 1.1 4.1 1.2 4.2 .4 1.5 .5 1.6 .5 1.6 .4 1.6 0 1 0 1 0 1 0 1-.1 2-.1 1.9-.1 2-.1 1.9-.3 1.8-.3 1.7-.3 1.7-.3 1.8-.6 1.7-.7 1.8-.6 1.8-.7 1.7M66.9 60.5l-1.2 7.3-1.2 7.3-1.2 7.2-1.2 7.3 1.2 4.1 1.3 4 1.2 4.1 1.3 4.1 1.2 3.8 1.3 3.9 1.2 3.8 1.2 3.9 1.3 4.1 1.4 4.2 1.3 4.1 1.3 4.2 1.1 4.1 1.2 4 1.1 4.1 1.2 4.1 .4 1.6 .5 1.6 .5 1.6 .5 1.7-.1 .8-.2 .9-.1 .9-.2 .9-.4 1.6-.4 1.7-.4 1.7-.4 1.7-.6 1.4-.6 1.5-.7 1.4-.6 1.5-1.1 1.4-1.1 1.4-1.2 1.5-1.1 1.4M72.6 65.3l-1.5 7.1-1.5 7.1-1.4 7.2-1.5 7.1 1.2 4 1.3 4.1 1.3 4 1.2 4 1.3 3.8 1.2 3.9 1.3 3.8 1.3 3.8 1.3 4.2 1.4 4.2 1.4 4.2 1.3 4.2 1.2 4 1.1 4.1 1.1 4 1.2 4.1 .4 1.6 .5 1.6 .5 1.7 .5 1.6-.2 .7-.3 .8-.3 .7-.2 .8-.7 1.4-.7 1.4-.7 1.4-.7 1.5-1 1.1-.9 1.2-1 1.1-1 1.2-1.6 1.1-1.6 1.1-1.6 1.1-1.6 1.1M78.3 70l-1.8 7-1.7 7-1.8 7-1.7 7 1.2 4 1.3 4 1.3 4 1.3 4 1.3 3.8 1.2 3.8 1.3 3.7 1.3 3.8 1.5 4.2 1.4 4.3 1.4 4.2 1.4 4.2 1.1 4 1.1 4.1 1.1 4 1.1 4 .6 1.7 .5 1.6 .5 1.7 .5 1.6-.4 .7-.4 .6-.4 .6-.4 .6-1 1.2-1 1.1-.9 1.2-1 1.1-1.3 .9-1.4 .8-1.3 .9-1.3 .8-2.1 .8-2 .8-2.1 .8-2.1 .8M83.4 75.3l-1.9 6.7-1.9 6.7-1.9 6.8-1.9 6.7 1.3 4 1.3 3.9 1.3 4 1.3 4 1.3 3.7 1.3 3.7 1.4 3.8 1.3 3.7 1.5 4.3 1.4 4.3 1.5 4.2 1.4 4.3 1.1 4 1.1 4 1.1 4 1.1 4 .6 1.6 .5 1.7 .5 1.7 .5 1.7-.5 .5-.5 .5-.5 .5-.6 .5-1.2 .8-1.3 .9-1.3 .9-1.3 .9-1.6 .6-1.7 .5-1.6 .6-1.7 .5-2.5 .5-2.6 .5-2.5 .5-2.6 .4M88.1 81l-1.9 6.4-2 6.3-1.9 6.4-1.9 6.3 1.3 3.9 1.3 4 1.3 3.9 1.3 3.9 1.4 3.7 1.4 3.7 1.3 3.7 1.4 3.8 1.5 4.3 1.5 4.3 1.5 4.3 1.5 4.3 1.1 3.9 1.1 4 1 4 1.1 3.9 .6 1.7 .5 1.7 .5 1.7 .6 1.7-.7 .4-.6 .4-.7 .3-.6 .4-1.6 .6-1.6 .6-1.5 .7-1.6 .6-2 .2-2 .3-2 .3-2 .2-3 .2-3 .1-3 .2-3.1 .1M92.6 86.9l-1.9 5.9-1.9 5.9-1.9 6-1.9 5.9 1.3 3.9 1.3 3.9 1.4 3.9 1.3 3.9 1.4 3.7 1.4 3.6 1.3 3.7 1.4 3.7 1.6 4.3 1.5 4.4 1.6 4.3 1.5 4.3 1.1 4 1.1 3.9 1 3.9 1.1 4 .6 1.7 .5 1.7 .6 1.7 .5 1.7-.8 .3-.7 .2-.8 .3-.8 .2-1.9 .4-1.8 .3-1.9 .4-1.8 .3-2.4 0-2.3 0-2.4-.1-2.3 0-3.5-.2-3.5-.1-3.5-.2-3.5-.2M97.2 92.7l-1.9 5.5-1.9 5.6-1.9 5.5-1.9 5.5 1.3 3.9 1.3 3.8 1.4 3.9 1.3 3.9 1.4 3.6 1.5 3.6 1.4 3.7 1.4 3.6 1.6 4.4 1.6 4.4 1.6 4.3 1.6 4.4 1 3.9 1.1 3.9 1 3.9 1.1 3.9 .6 1.8 .5 1.7 .6 1.7 .6 1.8-.9 .1-.9 .1-1 .2-.9 .1-2.1 .1-2.2 0-2.1 .1-2.2 .1-2.7-.3-2.6-.3-2.7-.4-2.7-.3-4-.5-3.9-.5-4-.5-4-.5M101.7 98.6l-1.9 5.1-1.9 5.1-1.9 5.1-1.9 5.1 1.4 3.8 1.4 3.9 1.3 3.8 1.4 3.8 1.4 3.6 1.4 3.6 1.5 3.6 1.4 3.6 1.7 4.4 1.6 4.4 1.7 4.5 1.6 4.4 1.1 3.9 1 3.8 1.1 3.9 1 3.9 .6 1.7 .6 1.8 .5 1.8 .6 1.7-1 0-1.1 0-1 0-1 0-2.5-.2-2.4-.1-2.5-.2-2.4-.2-3-.6-3.1-.7-3-.6-3-.6-4.4-.8-4.5-.8-4.4-.8-4.4-.8M105.5 104.9l-1.7 4.6-1.7 4.6-1.7 4.5-1.7 4.6 1.4 3.8 1.4 3.8 1.3 3.8 1.4 3.8 1.5 3.6 1.5 3.5 1.4 3.6 1.5 3.5 1.7 4.5 1.7 4.4 1.7 4.5 1.7 4.5 1 3.8 1 3.8 1.1 3.9 1 3.8 .6 1.8 .6 1.8 .6 1.8 .6 1.8-1.2-.2-1.2-.1-1.1-.1-1.2-.1-2.7-.5-2.8-.4-2.7-.5-2.8-.4-3.3-1-3.4-.9-3.3-.9-3.4-.9-4.9-1.1-4.9-1.2-4.9-1.1-4.9-1.1M109.2 111.3l-1.5 4-1.4 4.1-1.5 4-1.5 4 1.4 3.8 1.4 3.7 1.4 3.8 1.4 3.8 1.5 3.5 1.4 3.5 1.5 3.5 1.5 3.5 1.8 4.5 1.7 4.5 1.8 4.5 1.7 4.5 1 3.8 1 3.9 1.1 3.8 1 3.8 .6 1.8 .6 1.8 .6 1.8 .6 1.8-1.3-.3-1.3-.2-1.3-.3-1.3-.2-3-.7-3-.7-3.1-.8-3-.7-3.7-1.2-3.7-1.2-3.7-1.2-3.7-1.2-5.4-1.5-5.4-1.4-5.4-1.5-5.3-1.4M112.9 117.7l-1.2 3.5-1.3 3.5-1.3 3.4-1.2 3.5 1.4 3.7 1.4 3.8 1.4 3.7 1.4 3.7 1.5 3.5 1.6 3.5 1.5 3.5 1.5 3.5 1.8 4.5 1.8 4.5 1.8 4.6 1.8 4.5 1 3.8 1 3.8 1 3.8 1 3.7 .6 1.9 .6 1.8 .6 1.8 .7 1.8-1.5-.3-1.4-.4-1.4-.4-1.4-.4-3.4-.9-3.3-1-3.3-1-3.3-1-4.1-1.5-4-1.5-4.1-1.5-4-1.5-5.9-1.8-5.8-1.8-5.9-1.8-5.8-1.7M116.7 124.1l-1.1 2.9-1.1 3-1 2.9-1.1 2.9 1.5 3.7 1.4 3.7 1.4 3.7 1.4 3.7 1.6 3.4 1.6 3.5 1.5 3.4 1.6 3.5 1.8 4.6 1.8 4.5 1.9 4.6 1.8 4.6 1 3.7 1 3.8 1 3.7 1 3.8 .6 1.8 .6 1.9 .7 1.8 .6 1.9-1.5-.5-1.6-.5-1.5-.5-1.6-.5-3.6-1.3-3.6-1.2-3.7-1.3-3.6-1.2-4.4-1.8-4.3-1.8-4.4-1.8-4.4-1.8-6.3-2.1-6.4-2.1-6.3-2.1-6.3-2.1M120.4 130.5l-.9 2.4-.8 2.4-.8 2.3-.9 2.4 1.5 3.7 1.4 3.6 1.4 3.7 1.5 3.7 1.6 3.4 1.6 3.4 1.5 3.4 1.6 3.4 1.9 4.6 1.9 4.6 1.9 4.6 1.9 4.6 .9 3.8 1 3.7 1 3.7 .9 3.7 .7 1.9 .7 1.9 .6 1.8 .7 1.9-1.7-.6-1.7-.6-1.7-.7-1.7-.6-3.9-1.5-3.9-1.5-3.9-1.5-3.9-1.6-4.7-2.1-4.8-2.1-4.7-2.1-4.7-2.1-6.8-2.4-6.8-2.4-6.8-2.4-6.8-2.4M124.1 136.9l-.6 1.8-.6 1.9-.7 1.8-.6 1.8 1.5 3.6 1.4 3.7 1.5 3.6 1.4 3.6 1.6 3.4 1.6 3.4 1.7 3.4 1.6 3.3 1.9 4.7 1.9 4.6 2 4.7 1.9 4.6 1 3.7 .9 3.7 1 3.7 .9 3.7 .7 1.9 .7 1.9 .6 1.9 .7 1.8-1.8-.7-1.8-.8-1.8-.7-1.8-.8-4.2-1.7-4.2-1.8-4.2-1.8-4.2-1.8-5.1-2.4-5.1-2.4-5-2.4-5.1-2.4-7.3-2.7-7.3-2.7-7.2-2.8-7.3-2.7M128 143.3l-.5 1.2-.4 1.3-.5 1.3-.4 1.3 1.4 3.6 1.5 3.6 1.5 3.6 1.5 3.6 1.6 3.3 1.7 3.4 1.6 3.3 1.6 3.3 2 4.7 2 4.7 2 4.7 2 4.7 .9 3.7 .9 3.6 1 3.7 .9 3.6 .7 2 .7 1.9 .7 1.9 .7 1.9-2-.9-1.9-.9-2-.8-1.9-.9-4.5-2.1-4.5-2-4.5-2.1-4.5-2-5.4-2.7-5.4-2.7-5.4-2.7-5.4-2.7-7.8-3-7.7-3.1-7.8-3.1-7.7-3M131.8 149.6l-.3 .8-.2 .7-.3 .8-.3 .7 1.5 3.6 1.5 3.5 1.5 3.6 1.5 3.6 1.7 3.3 1.6 3.3 1.7 3.3 1.7 3.3 2 4.7 2 4.7 2.1 4.7 2 4.8 .9 3.6 1 3.6 .9 3.7 .9 3.6 .7 1.9 .7 2 .7 1.9 .7 1.9-2.1-1-2-1-2.1-1-2.1-1-4.8-2.3-4.7-2.3-4.8-2.3-4.8-2.3-5.8-3-5.7-3-5.8-3-5.7-3-8.2-3.4-8.3-3.3-8.2-3.4-8.2-3.4M135.6 156l-.1 .2 0 .2-.1 .2-.1 .2 1.5 3.5 1.5 3.6 1.5 3.5 1.6 3.5 1.7 3.3 1.7 3.3 1.6 3.2 1.7 3.3 2.1 4.7 2.1 4.8 2.1 4.8 2.1 4.7 .9 3.6 .9 3.6 .9 3.6 .9 3.6 .7 2 .7 2 .7 1.9 .8 2-2.2-1.2-2.2-1.1-2.2-1.1-2.2-1.1-5.1-2.6-5.1-2.6-5.1-2.6-5.1-2.6-6-3.3-6.1-3.2-6.1-3.3-6.1-3.3-8.7-3.7-8.7-3.7-8.7-3.7-8.7-3.7M139.4 162.3l.1-.3 .1-.4 .2-.3 .1-.3 1.5 3.5 1.6 3.5 1.5 3.5 1.5 3.5 1.7 3.2 1.7 3.2 1.8 3.3 1.7 3.2 2.1 4.8 2.2 4.8 2.1 4.8 2.1 4.8 .9 3.6 .9 3.5 .9 3.6 .9 3.6 .7 2 .7 2 .8 1.9 .7 2-2.3-1.3-2.4-1.2-2.3-1.2-2.3-1.3-5.4-2.9-5.4-2.8-5.3-2.8-5.4-2.9-6.4-3.6-6.5-3.5-6.4-3.6-6.4-3.6-9.2-4-9.1-4-9.2-4.1-9.2-4" fill="none" stroke="rgba(95,95,95,0.45)" stroke-width="0.5"/>
</g></g>
<g><line x1="49" y1="212.7" x2="36.7" y2="31.5" stroke="#1a1a1a" stroke-width="1.1" />
<line x1="49" y1="212.7" x2="138.7" y2="312.4" stroke="#1a1a1a" stroke-width="1.1" />
<line x1="138.7" y1="312.4" x2="321.2" y2="251.4" stroke="#1a1a1a" stroke-width="1.1" />
<line x1="47.3" y1="188.9" x2="51" y2="188" stroke="#1a1a1a" stroke-width="1" />
<text transform="translate(42.8 195.1) rotate(-5)" font-size="8.3" text-anchor="end" fill="#1c1c1c">1.060</text>
<line x1="45.2" y1="157.7" x2="48.9" y2="156.9" stroke="#1a1a1a" stroke-width="1" />
<text transform="translate(40.7 163.9) rotate(-5)" font-size="8.3" text-anchor="end" fill="#1c1c1c">1.065</text>
<line x1="43" y1="125.5" x2="46.8" y2="124.7" stroke="#1a1a1a" stroke-width="1" />
<text transform="translate(38.5 131.7) rotate(-5)" font-size="8.3" text-anchor="end" fill="#1c1c1c">1.070</text>
<line x1="40.8" y1="92.2" x2="44.6" y2="91.4" stroke="#1a1a1a" stroke-width="1" />
<text transform="translate(36.3 98.4) rotate(-5)" font-size="8.3" text-anchor="end" fill="#1c1c1c">1.075</text>
<line x1="38.4" y1="57.6" x2="42.3" y2="56.9" stroke="#1a1a1a" stroke-width="1" />
<text transform="translate(33.9 63.8) rotate(-5)" font-size="8.3" text-anchor="end" fill="#1c1c1c">1.080</text>
<line x1="59.9" y1="224.9" x2="63.6" y2="224" stroke="#1a1a1a" stroke-width="1" />
<text transform="matrix(0.9478 -0.3169 0.4659 0.5175 57.73 227.24)" font-size="10.0" text-anchor="end" fill="#1c1c1c" >3.5</text>
<line x1="71.5" y1="237.7" x2="75.2" y2="236.7" stroke="#1a1a1a" stroke-width="1" />
<text transform="matrix(0.9478 -0.3169 0.4659 0.5175 69.26 240.04)" font-size="10.0" text-anchor="end" fill="#1c1c1c" >4.0</text>
<line x1="83.6" y1="251.2" x2="87.3" y2="250.1" stroke="#1a1a1a" stroke-width="1" />
<text transform="matrix(0.9478 -0.3169 0.4659 0.5175 81.36 253.48)" font-size="10.0" text-anchor="end" fill="#1c1c1c" >4.5</text>
<line x1="96.3" y1="265.3" x2="100.1" y2="264.2" stroke="#1a1a1a" stroke-width="1" />
<text transform="matrix(0.9478 -0.3169 0.4659 0.5175 94.08 267.61)" font-size="10.0" text-anchor="end" fill="#1c1c1c" >5.0</text>
<line x1="109.7" y1="280.2" x2="113.6" y2="279" stroke="#1a1a1a" stroke-width="1" />
<text transform="matrix(0.9478 -0.3169 0.4659 0.5175 107.47 282.48)" font-size="10.0" text-anchor="end" fill="#1c1c1c" >5.5</text>
<line x1="123.8" y1="295.9" x2="127.8" y2="294.6" stroke="#1a1a1a" stroke-width="1" />
<text transform="matrix(0.9478 -0.3169 0.4659 0.5175 121.59 298.16)" font-size="10.0" text-anchor="end" fill="#1c1c1c" >6.0</text>
<line x1="138.7" y1="312.4" x2="142.8" y2="311.1" stroke="#1a1a1a" stroke-width="1" />
<text transform="matrix(0.9478 -0.3169 0.4659 0.5175 136.48 314.71)" font-size="10.0" text-anchor="end" fill="#1c1c1c" >6.5</text>
<line x1="139.5" y1="312.1" x2="142.7" y2="315.7" stroke="#1a1a1a" stroke-width="1" />
<text transform="matrix(0.4659 0.5175 -0.9478 0.3169 141.80 317.85)" font-size="10.0" text-anchor="start" fill="#1c1c1c" >2.5</text>
<line x1="162.5" y1="304.5" x2="165.8" y2="308" stroke="#1a1a1a" stroke-width="1" />
<text transform="matrix(0.4659 0.5175 -0.9478 0.3169 164.77 310.17)" font-size="10.0" text-anchor="start" fill="#1c1c1c" >3.0</text>
<line x1="184.9" y1="297" x2="188.3" y2="300.4" stroke="#1a1a1a" stroke-width="1" />
<text transform="matrix(0.4659 0.5175 -0.9478 0.3169 187.16 302.69)" font-size="10.0" text-anchor="start" fill="#1c1c1c" >3.5</text>
<line x1="206.7" y1="289.7" x2="210.2" y2="293" stroke="#1a1a1a" stroke-width="1" />
<text transform="matrix(0.4659 0.5175 -0.9478 0.3169 208.98 295.39)" font-size="10.0" text-anchor="start" fill="#1c1c1c" >4.0</text>
<line x1="228" y1="282.6" x2="231.5" y2="285.8" stroke="#1a1a1a" stroke-width="1" />
<text transform="matrix(0.4659 0.5175 -0.9478 0.3169 230.26 288.28)" font-size="10.0" text-anchor="start" fill="#1c1c1c" >4.5</text>
<line x1="248.7" y1="275.6" x2="252.4" y2="278.8" stroke="#1a1a1a" stroke-width="1" />
<text transform="matrix(0.4659 0.5175 -0.9478 0.3169 251.01 281.34)" font-size="10.0" text-anchor="start" fill="#1c1c1c" >5.0</text>
<line x1="269" y1="268.9" x2="272.7" y2="271.9" stroke="#1a1a1a" stroke-width="1" />
<text transform="matrix(0.4659 0.5175 -0.9478 0.3169 271.26 274.57)" font-size="10.0" text-anchor="start" fill="#1c1c1c" >5.5</text>
<line x1="288.7" y1="262.2" x2="292.5" y2="265.3" stroke="#1a1a1a" stroke-width="1" />
<text transform="matrix(0.4659 0.5175 -0.9478 0.3169 291.03 267.96)" font-size="10.0" text-anchor="start" fill="#1c1c1c" >6.0</text>
<line x1="308" y1="255.8" x2="311.9" y2="258.7" stroke="#1a1a1a" stroke-width="1" />
<text transform="matrix(0.4659 0.5175 -0.9478 0.3169 310.33 261.50)" font-size="10.0" text-anchor="start" fill="#1c1c1c" >6.5</text><text transform="matrix(0.8957 -0.2995 0.5125 0.5692 250.69 299.08)" font-size="11.4" text-anchor="middle" fill="#1c1c1c" >Diameter of channel 1(mm)</text>
<text transform="matrix(0.4123 0.4580 -0.9478 0.3169 64.41 271.85)" font-size="11.4" text-anchor="middle" fill="#1c1c1c" >Diameter of channel 2(mm)</text>
<text transform="translate(14.6 132.0) rotate(-94.2) scale(0.885 1)" font-size="11.3" text-anchor="middle" fill="#1c1c1c">Maximum temperature diff.(K)</text></g>
<g><line x1="440.9" y1="204.8" x2="431.8" y2="25.9" stroke="#e2e2e2" stroke-width="1" />
<line x1="440.9" y1="204.8" x2="531.7" y2="302" stroke="#e2e2e2" stroke-width="1" />
<line x1="467.4" y1="197.7" x2="461" y2="21" stroke="#e2e2e2" stroke-width="1" />
<line x1="467.4" y1="197.7" x2="561.9" y2="291.9" stroke="#e2e2e2" stroke-width="1" />
<line x1="493.1" y1="190.9" x2="489.3" y2="16.3" stroke="#e2e2e2" stroke-width="1" />
<line x1="493.1" y1="190.9" x2="591" y2="282.1" stroke="#e2e2e2" stroke-width="1" />
<line x1="518.2" y1="184.3" x2="516.8" y2="11.7" stroke="#e2e2e2" stroke-width="1" />
<line x1="518.2" y1="184.3" x2="619.2" y2="272.7" stroke="#e2e2e2" stroke-width="1" />
<line x1="542.5" y1="177.8" x2="543.4" y2="7.3" stroke="#e2e2e2" stroke-width="1" />
<line x1="542.5" y1="177.8" x2="646.4" y2="263.6" stroke="#e2e2e2" stroke-width="1" />
<line x1="566.2" y1="171.6" x2="569.2" y2="3" stroke="#e2e2e2" stroke-width="1" />
<line x1="566.2" y1="171.6" x2="672.7" y2="254.8" stroke="#e2e2e2" stroke-width="1" />
<line x1="593.1" y1="183.9" x2="598.8" y2="11.6" stroke="#e2e2e2" stroke-width="1" />
<line x1="426.3" y1="230" x2="593.1" y2="183.9" stroke="#e2e2e2" stroke-width="1" />
<line x1="613.5" y1="199.1" x2="621.3" y2="22.4" stroke="#e2e2e2" stroke-width="1" />
<line x1="442.9" y1="248.4" x2="613.5" y2="199.1" stroke="#e2e2e2" stroke-width="1" />
<line x1="635.2" y1="215.4" x2="645.5" y2="34" stroke="#e2e2e2" stroke-width="1" />
<line x1="460.7" y1="268.2" x2="635.2" y2="215.4" stroke="#e2e2e2" stroke-width="1" />
<line x1="658.3" y1="232.8" x2="671.4" y2="46.4" stroke="#e2e2e2" stroke-width="1" />
<line x1="479.9" y1="289.5" x2="658.3" y2="232.8" stroke="#e2e2e2" stroke-width="1" />
<line x1="409.4" y1="193.1" x2="574.4" y2="151.1" stroke="#e2e2e2" stroke-width="1" />
<line x1="574.4" y1="151.1" x2="684.8" y2="230.7" stroke="#e2e2e2" stroke-width="1" />
<line x1="408.1" y1="173" x2="574.8" y2="132.4" stroke="#e2e2e2" stroke-width="1" />
<line x1="574.8" y1="132.4" x2="686.6" y2="209.6" stroke="#e2e2e2" stroke-width="1" />
<line x1="406.7" y1="152.5" x2="575.3" y2="113.3" stroke="#e2e2e2" stroke-width="1" />
<line x1="575.3" y1="113.3" x2="688.4" y2="188" stroke="#e2e2e2" stroke-width="1" />
<line x1="405.2" y1="131.5" x2="575.7" y2="93.8" stroke="#e2e2e2" stroke-width="1" />
<line x1="575.7" y1="93.8" x2="690.3" y2="165.9" stroke="#e2e2e2" stroke-width="1" />
<line x1="403.8" y1="110" x2="576.1" y2="74" stroke="#e2e2e2" stroke-width="1" />
<line x1="576.1" y1="74" x2="692.3" y2="143.2" stroke="#e2e2e2" stroke-width="1" />
<line x1="402.3" y1="88.1" x2="576.6" y2="53.7" stroke="#e2e2e2" stroke-width="1" />
<line x1="576.6" y1="53.7" x2="694.2" y2="119.9" stroke="#e2e2e2" stroke-width="1" />
<line x1="400.8" y1="65.6" x2="577.1" y2="32.9" stroke="#e2e2e2" stroke-width="1" />
<line x1="577.1" y1="32.9" x2="696.3" y2="96.1" stroke="#e2e2e2" stroke-width="1" />
<line x1="399.2" y1="42.6" x2="577.5" y2="11.7" stroke="#e2e2e2" stroke-width="1" />
<line x1="577.5" y1="11.7" x2="698.4" y2="71.6" stroke="#e2e2e2" stroke-width="1" />
<line x1="398.5" y1="31.5" x2="577.8" y2="1.5" stroke="#a8a8a8" stroke-width="1" />
<line x1="577.8" y1="1.5" x2="699.4" y2="59.8" stroke="#a8a8a8" stroke-width="1" />
<line x1="574" y1="169.5" x2="577.8" y2="1.5" stroke="#a8a8a8" stroke-width="1" />
<line x1="683" y1="251.4" x2="699.4" y2="59.8" stroke="#a8a8a8" stroke-width="1" />
<line x1="410.8" y1="212.7" x2="574" y2="169.5" stroke="#a8a8a8" stroke-width="1" />
<line x1="574" y1="169.5" x2="683" y2="251.4" stroke="#a8a8a8" stroke-width="1" /></g>
<g transform="translate(0 0)">
<clipPath id="c5"><path d="M576 106.4l2.7 4.2 2.7 4.2 2.8 4.1 2.7 4.2 2.8 4.1 2.8 4.2 2.8 4.1 2.9 4 2.9 4.1 3 4.1 3.2 3.7 3.4 3.7 3.3 3.7 3.7 3.3 4.2 2.8 4.1 2.7 4.3 2.5 4.8 1.5 4.7 1.5 4.8 1.5 5 0 5-.1 5-.2 5-.2 4.9-.3 5-.4 5-.5 4.9-.5 5-.5-4 3.9-4 3.9-4.1 3.8-4.6 3.2-4.6 3.2-5 2.4-5.2 2-5.4 1.4-5.5 .7-5.6 .8-5.5 .4-5.6 .3-5.6-.1-5.6-.6-5.5-.6-5.6-.7-5.3-1.6-5.3-1.9-5.2-1.8-4.9-2.6-4.3-3.6-4.3-3.6-3.6-4.1-2.5-5-2.5-5-1.5-5.3-1.2-5.5-1.2-5.4-1.2-5.5 .2-3.4 .3-3.4 .5-3.4 .6-3.3 .7-3.3 .7-3.2 .9-3.2 1-3.1 1.3-3.2 1.5-3 1.6-3.1 1.7-3Z"/></clipPath>
<g clip-path="url(#c5)" fill-rule="evenodd">
<rect x="562" y="103" width="131" height="98" fill="#7b00ec"/>
<path d="M563 103l130 0 0 98-131 0 0-98ZM617 176l-1 .2-2 1.2-1 2-.2 1.6 .7 3 1.2 2 1.8 2 1.4 1 1.1 0 1.5-1 1.8-2 .6-2-.2-1-.8-3-1.8-3-1.1-1.1Z" fill="#7500f5"/>
<path d="M563 103l130 0 0 98-131 0 0-98ZM611.7 169l-3.7 1.1-2.8 1.9-1.2 3-.3 3 .3 2.9 1.8 5.1 2.2 4.5 3.6 1.5 7.4 1.4 5-1.3 4-2.3 1.8-1.8 .8-3-.6-4-1.2-3-4.9-5-3.9-2.9-4-1.4Z" fill="#5b00f8"/>
<path d="M563 103l130 0 0 98-82.3 0 0-4 .3-.4 5-.1 1-.3 7-.5 1-.4 4-1.9 4.8-3.4 1.1-2 .5-2-.2-4-.6-3-1.6-3-3-3.6-5.6-4.4-7.4-4.5-5-.8-4 .2-3.1 1.1-2.9 2.6-1.4 2.4-.9 3-.3 3 .1 4 1.1 5 2.4 6 3.5 5-1.7 2 0 2-1 1 0 1-41.8 0 0-98Z" fill="#4100fa"/>
<path d="M563 103l130 0 0 98-65.8 0 0-3 .3-1 2.5-1.2 5-3.4 2-2.4 1.3-2 .6-2 .1-3-.3-3-.9-3-1.8-3-2.8-3-1.5-1-6.7-3.9-12-8.3-4-.2-4 .4-3.6 2-2.4 2.6-1.4 2.4-1.1 3-.7 5 .1 4 .7 4 1.5 5 1.9 4 2.3 4-.3 .6-1-.8-1 .1-.1 2.1-1 1 0 2-1 1 0 1-35.9 0 0-98ZM652.4 118l-1 1 0 1-7 7 0 1-1.4 1.4-1 .3-9 9 0 .3 1 0 2 2 1 0 1 1 1 0 1 1 1 0 1 .7 .7-.7 0-1 1-1 0-2 1-1 0-1 1-1 0-1 1-1 0-2 1-1 0-1 1-1 0-1 1-1 0-1 1-1 0-1 1-1 .4-3 1-1-.1-1.6Z" fill="#2700fd"/>
<path d="M563 103l130 0 0 98-60 0 0-3.2-1.1-.8 3.1-2 3.3-3 2.6-3 1.1-2 .6-2-.2-5-.6-3-.8-2-1.8-2-1.2-.3-11.5-6.7-16.5-12-2-1.1-1 0-5 1.2-3 2.1-2 1.8-2.2 3-1.8 4-.7 5 .1 4 .8 5 1.4 5 1.6 4 2.2 4 1.1 1-.2 3-1 1 0 2-1 1 0 1-35.3 0 0-98ZM655.4 111l.6 0 0-.6ZM654.4 112l-3.4 3.4-1 0-10 10-1 0-10 10-1 0 0 .6 1 1 1 0 1 1 1 0 1 1.1 1 0 2 2 1 0 1 1 1 0 1 1 1 0 2 1.9 1 0 1 1 .9 0 1-1 0-2 1-1 0-2 1-1 0-3 1-1 .2-3 .8-1 .2-5 1-1 .1-5 1-1-.1-2 .9-1 0-2 1-1 0-1.6Z" fill="#1306ff"/>
<path d="M563 103l130 0 0 98-59.3 0 0-3 .3-.6 2-1 4-3.3 3.7-4.1 1.4-2 .5-2 0-3-.9-7-1.4-1-5-2-8.6-5-24.7-18-2 .4-3 1.6-4.5 3-1.9 2-1.5 2-1.8 4-.9 5-.1 4 .5 5 2.8 10 2.5 5-.5 1 0 1-1 1 0 2-1 1 0 2-1 1 0 1-29.6 0 0-98ZM657.8 106l.2 .1 0-.3ZM655.8 107l-3.8 3.8-1 0-5 4.5-1.7 .7-5.3 5.3-1 0-6 6-1 0-5 5-1 0-1 1 0 .7 1 0 1 1 1 0 2 2.1 1 0 1 1 1 0 1 1 1 0 2 2 1 0 1 1 1 0 1 1 1 0 2 2 1 0 1 1 1-.1 1 1 1.2 0 0-1 1-1 0-6 1-1 .1-6 .8-1 .1-5 1-1 .1-5 1-1-.1-2 .9-1 0-2 1-1 0-1 1-1 0-2 1-1-.1-1.2Z" fill="#0d1eff"/>
<path d="M563 103l130 0 0 98-54.8 0 0-3-.3-1 2.6-2 4.8-5 1.6-2 1.1-2 .3-2-.3-3-1.7-6-6.4-3-6.9-4-30-21.5-1.9 .5-4.1 1.9-4 2.6-1.3 1.5-1.7 2.9-1.7 4.1-1 4-.5 4 .3 5 1.5 8 2.9 8-.5 .9-1 .1-1 1 0 1-1 1 0 1-1 1 0 1-2 2 0 1-1 1 0 1-22 0 0-98ZM657.4 106l.6 .1 0-.7ZM655.4 107l-3.4 3.4-1 0-3 3-1 .2-1.4 1.4-1.6 .6-3 3-1 0-2 2-1 0-3 3-1 0-3 3-1 0-2 2-1 0-3 3-1 0-.4 .4 .4 0 2 2.1 1 0 1 1 1 0 2 2 1 0 1 1 1 0 1 1 1 0 2 2.1 1 0 1 1 1 0 1 1 1 0 2 1.9 1 0 1 1 1 0 1 1 1.4-.1 0-1 1-1 0-6 1-1 .1-6 .7-1 .1-5 1-1 0-5 1-1 0-2 .9-1 0-2 1-1 0-1 1-1-.1-2 1-1-.1-1.6-1 0Z" fill="#0835ff"/>
<path d="M563 103l130 0 0 98-54.2 0 .2-3.4 2-.9 7.5-7.7 1.5-2.5 .3-2.5-.3-3.4-.9-2.6-1.5-3-6.2-3-5.2-3-33.2-23.8-2-1-6 2.1-2.1 1.7-2.9 3.4-1.5 2.6-1.7 4-1 4-.6 4-.1 7 .7 4 1.4 6 1.8 5 .7 1-.3 1-1 1 0 1-1 1 0 1-1 1 0 1-2 2 0 1-1 1 0 1-21.4 0 0-98ZM657.1 106l.9 .2 .2-.2-.2-.9ZM655.1 107l-3.1 3.1-1 0-3 3-1 0-1.9 1.9-1.1 .1-3 3-1 0-2 2-1 0-3 3-1 0-3 3-1 0-2 2-1 0-3 3-1 0-.9 .9 .9 .1 2 2 1 0 1 1 1 0 2 2.1 1 0 1 1 1 0 1 1 1 0 2 2 1 0 1 1 1 0 1 1 1 0 2 2 1 0 1 1 1-.1 1 1 1.6-.1 0-1 1-1 0-6 1-1 .1-6 .6-1 .1-5 1-1 0-5 1-1 0-2 .9-1 0-2 1-1 0-1 1-1-.1-2 1-1-.2-1.9-1 0Z" fill="#034cff"/>
<path d="M563 103l90.6 0-1.6 1.6-1 0-2 2-1 0-3 3-1 0-2 2-1 0-3 3-1 0-3 3-1 0-2 2-1 0-3 3-1 0-2 2-1 0-3 3-1 0-2 2 0 .4 1 0 1 1 1 0 1 1 1 .1 2 2.1 1 0 1 1 1 0 2 2 1 0 1 1 1 0 1 1 1 0 2 2.1 1-.1 1 1 1 0 1 1 1 0 2 2 1 0 1 1 1 0 1 1 1.8-.2 0-1 1-1 0-6 1-1 0-6 .6-1 .1-5 1-1 0-5 1-1 0-2 .8-1 0-2 1-1 0-1 1-1 0-2 1-1 0-1 1-1-.2-1 1-1 0-1 33.9 0 0 98-48.8 0 0-4-.2-.7-.4-.3 6.4-6.2 1-1.8 .7-2 .1-3-.4-3-.7-2-1.9-3-9.4-5-39.4-28.1-4 1-3 1.7-2 1.7-2.2 2.7-1.7 3-2 5-1.5 7-.1 8 .5 5 2.4 9-.4 .5-1 .3-2.1 2.2 0 1-5 5 0 1-5 5-10.9 0 0-98ZM643 196.6l.2 .4-.2 .2-.3-.2Z" fill="#0063ff"/>
<path d="M563 103l90 0-1 1-1 0-2 2-1 0-3 3-1 0-2 2-1 0-3 3-1 0-3 3-1 0-2 2-1 0-3 3-1 0-2 2-1 0-3 3-1 0-2 2-.1 1 1.1 .1 1 1 1 0 1 1 1 .1 2 2 1 0 1 1 1 0 2 2.1 1 0 1 1 1-.1 1 1.1 1 0 2 2 1 0 1 1 1 0 1 1 1 0 2 2 1 0 1 1 1-.1 1 1 1 0 2 1.8 1 0 0-17 .6-1 0-5 1-1 0-5 1-1 0-2 .8-1 0-2 1-1 0-1 1-1 0-2 1-1 0-1 1-1-.2-1 .9-1 0-1 33.9 0 0 98-48.4 0 0-4 .4-.8 6-5.6 1.4-2.6 .8-2 .2-3-.5-3-2-4-.8-1-7.4-4-11.7-8-18-13.1-13-9.1-2-1-3 .7-2.8 1.5-3.2 3-3.3 5-1.7 3.8-1 3.2-1.1 7 0 8 1.1 8 1.9 6-.5 1-2 2 0 1-5 5 0 1-5 5-10.4 0 0-98Z" fill="#0078ff"/>
<path d="M563 103l81.5 0-2.5 2.5-1 0-3 3-1 0-2 2-1 0-3 3-1 0-2 2-1 0-3 3-1 0-2 2-1 0-3 3-1 0-2 2-1 0-1 1-.1 .5 1.1 .1 1 1 1 0 2 2.1 1 0 1 1 1 0 1 1 1 0 2 2.1 1 0 1 1 1 0 2 2 1 0 1 1 1 0 1 1 1 0 2 2 1 0 1 1 1 0 1 1 1 0 2 2 1 0 1 1 1 0 1 1 1 0 2 1.8 1.3-.1 0-17 .4-1 0-5 1-1 0-5 1-1 0-2 .8-1 0-2 1-1 0-1 1-1 0-2 1-1 0-1 1-1-.2-1 .9-1 0-1 33.8 0 0 98-48.1 0 .1-4.1 2-.6 4-3.8 1.9-2.5 1.5-3 .6-3-.3-3-.6-2-1.8-3-.9-1-5.5-3-10.4-7-33.4-24-5.1-3.3-1-.1-2 .6-3 1.6-3 2.7-2 2.5-1.8 3-1.7 4-1 3-1.1 6-.3 8 .8 8 1.4 6-.3 .5-1-.7-2.1 2.2 0 1-5 5 0 1-5 5 0 1-3 3-3.9 0 0-98Z" fill="#008cff"/>
<path d="M563 103l74.9 0-1.9 1.9-1 0-2 2-1 0-3 3-1 0-2 2-1 0-2 2-1 0-2 2-1 0-3 3-1 0-2 2-1 0-2 2-1 0-1.1 1.1 2.1 2 1 0 1 1.1 1 0 1 1 1 0 2 2.1 1 0 1 1 1 0 1 1 1 .1 2 2 1 0 1 1 1 0 2 2 1 0 1 1 1 0 1 1.1 1 0 2 2 1 0 1 1 1 0 1 1 1 0 2 2 1-.1 1 1.1 1-.1 1 1 1 0 2 1.8 1.5-.1 0-17 .3-1 0-5 1-1 0-5 1-1 0-2 .8-1 0-2 1-1 0-1 1-1-.1-2 1-1 0-1 1-1-.1-1 .9-1 0-1 33.7 0 0 98-42.7 0 0-3-1-1-.4-1 3.1-2.8 1.7-2.2 1.7-3 1-3 .1-3-.5-2-.9-2-1.5-2-.9-1-3.5-2-10.6-7-29.6-21-2.3-2-11.7-7.7-3 1.1-2 1.2-3.8 3.4-3.4 5-1.4 3-1.3 4-1.3 7-.3 8 .8 9 .9 4 .5 1-.3 1-2 2 0 1-5 5 0 1-5 5 0 1-3 3-3.4 0 0-98Z" fill="#00a1ff"/>
<path d="M563 103l74.4 0-1.4 1.4-1 0-2 2-1 0-3 3-1 0-2 2-1 0-2 2-1 0-2 2-1 0-3 3-1 0-2 2-1 0-2 2-1 0-1.6 1.6 .6 .1 2 2 1 0 1 1.1 1 0 1 1 1 0 2 2.1 1 0 1 1 1 0 1 1 1 0 2 2.1 1 0 1 1 1 0 2 2 1 0 1 1 1 0 1 1 1 0 2 2 1 0 1 1 1 0 1 1 1 0 2 2 1 0 1 1 1 0 1 1 1 0 2 1.8 1.8-.2 .1-23 1-1 0-5 1-1 0-2 .8-1 0-2 1-1 0-1 1-1-.1-2 1-1 0-1 1-1-.1-1 .9-1 0-1 33.6 0 0 98-42.3 0 0-3-1-1 .3-.7 2-1.5 3.2-3.8 1.7-3 1-3 .2-2-.2-2-.7-2-1.3-2-1.9-2-10.9-7-19.9-14-9.7-7-.5-.8-1.6-1.2-10.1-7-7.3-4.5-1 0-2 .7-3 1.9-2.1 1.9-2.7 3-1.3 2-2.3 5-1.9 7-.7 6-.1 8 .3 4 1.2 7-.4 .7-.7-.7 .2-1-.5-.1-6 6-1 0-7 7-1 0 0-88.9Z" fill="#00b7ff"/>
<path d="M563 103l68 0-1 1-1 0-2 2-1 0-2 2-1 0-2 2-1 0-2 2-1 0-3 3-1 0-2 2-1 0-2 2-1 0-2 2-1 0 0 1 1 1 1 0 1 1 1 .1 2 2.1 1-.1 1 1.1 1 0 1 1 1 0 2 2.1 1 0 1 1 1 0 1 1 1 .1 2 2 1 0 1 1 1 0 2 2 1 0 1 1 1 0 1 1.1 1-.1 2 2.1 1 0 1 1 1 0 1 1 1 0 2 1.9 1 0 1 1 1 0 1 1 1 0 2 1.9 1-.1 1 .8 1 0 2 2 1 0 0-4-1-1 0-24-1-1 0-5 .7-1 0-2 1-1 0-1 1-1 0-2 1-1 0-1 1-1-.1-1 .8-1 0-1 33.6 0 0 98-37 0 0-2-1-1 0-2.1-1-.1-.7-.8 1.9-2 2.2-3 1-2 1-3 .1-4-.8-2-1.3-2-3.4-3-7.8-5-27-19-1.3-1-.4-1-8.8-6-.7-.8-14.3-9.2-1.7-.6-5 2.7-3.4 2.9-3.6 4.8-2.2 5.2-1.6 6-.8 7 .1 9 .5 6.3 .7 2.7-.3 1-5.4 5.4-1 0-7 7-1 0 0-88.4Z" fill="#00cdff"/>
<path d="M563 103l67.5 0-.5 .5-1 0-2 2-1 0-2 2-1 0-2 2-1 0-2 2-1 0-3 3-1 0-2 2-1 0-2 2-1 0-2 2-1 0-.5 .5 .4 1 1.1 1.1 1 0 1 1 1 .1 2 2 1 0 1 1.1 1 0 1 1 1 0 2 2.1 1 0 1 1 1 0 1 1 1 0 2 2.1 1 0 1 1 1 0 2 2 1 0 1 1 1 0 1 1 1 0 2 2 1 0 1 1 1 0 1 1 1 0 2 2 1 0 1 1 1 0 1 1 1 0 2 1.8 1 0 1 .8 1 0 2 2 1.3-.1 0-4-1-1 0-24-1-1 0-5 .5-1 0-2 1-1 0-1 1-1 0-2 1-1 0-1 1-1-.1-1 .8-1 0-1 33.5 0 0 98-36.6 0 0-2-1-1 0-2-.5-1 2.1-2.3 1.9-2.7 1.5-3 .8-3 .1-2-.4-2-2-3-2.1-2-22-15-11.2-8-1.3-2-7.5-5-2-2-13.8-8.9-8-4.6-3.4 1.5-4.6 3.3-2.5 2.7-1.4 2-2.1 4.2-2 6.9-1 5.9-.3 7 .7 11-.4 .6-1 .2-1 1-1 0-1 1-1 0-1 1-1 0-1 1-1 0-1 1-1 0-1 1 0-77.8Z" fill="#00e3ff"/>
<path d="M563 103l67.1 0-1.1 .1-2 2-1 0-2 2-1 0-2 2-1 0-2 2-1 0-3 3-1 0-2 2-1 0-2 2-1 0-2 2-1 0-.9 .9 1.9 2.2 1 0 1 1 1 .1 2 2 1 0 1 1.1 1 0 1 1 1 0 2 2 1 0 1 1 1 0 1 1 1 .1 2 2 1 0 1 1 1 0 2 2 1 0 1 1 1 0 1 1 1 0 2 2.1 1-.1 1 1.1 1-.1 1 1.1 1-.1 2 2 1 0 1 1 1 0 1 1 1 0 2 1.9 1 0 1 .8 1 0 2 2 1.6-.2 0-4-1-1 0-24-1-1 0-5 .3-3 1-1 0-1 1-1 0-2 1-1 0-1 1-1-.1-1 .8-1 0-1 33.4 0 0 98-36.2 0 0-2-1-1-.1-3 1.7-1 2.3-3 2.2-4 .9-3 .2-2-.4-2-2.1-3-3.5-2.9-17.9-12.1-11.1-8 0-1-1.1-1-5.9-4-1.6-2-9.5-6-4.1-3-15.8-9.3-3.5 1.3-2.5 1.5-3 2.4-3.4 4.1-1.9 4-2.3 9-1.1 8 .2 13 .7 2 0 1-1.2 1.1-1 0-1 1-1 0-1 1-1 0-1 1-1 0-1 1-1 0-1 1 0-77.1Z" fill="#00f9ff"/>
<path d="M563 103l58.6 0-.6 .6-1 0-2 2-1 0-3 3-1 0-2 2-1 0-2 2-1 0-2 2-1 0-2 2-1 0-2 2-1 0-.1 .4 1.1 .1 1 1 1 0 1 1 1 0 2 2.2 1-.1 1 1.1 1 .1 2 2 1 0 1 1 1 0 1 1 1 0 2 2.1 1 0 1 1 1 0 1 1 1 0 2 2.1 1 0 1 1 1 0 2 2 1 0 1 1 1 0 1 1 1 0 2 2 1 0 1 1 1 0 1 1 1 0 2 2 1 0 1 1 1 0 1 1 1-.1 2 1.9 1 0 1 .9 1-.1 2 2.1 1.9-.3 0-4-1-1 0-24-1-1 .1-8 1-1 0-1 1-1 0-2 1-1 0-1 1-1-.1-1 .8-1 0-1 33.3 0 0 98-29.8 0 0-1-1-1 0-1-1-1 0-2-1.5-2 3.3-5 1.4-4 .2-2-.3-2-2.2-3-3.1-2.5-15.5-10.5-9.7-7-1.1-1 .4-1-1.1-.5-.4-.5-5.7-4-.1-1-9.3-6-.5-.7-1-.4-.7-.9-25.3-15.2-1 .1-2 .9-4 2.2-3.5 3-2.3 3-2.7 7-1.8 8-.5 4-.4 9 .3 5 .4 1-.5 .4-1 0-1 1-1 0-1 1-1 0-1 1-1 0-1 1-1 0 0-70.4ZM568.9 164l.1 .3 .3-.3-.3-.1Z" fill="#00ffed"/>
<path d="M563 103l58.2 0-1.2 .2-2 2-1 0-3 3-1 0-2 2-1 0-2 2-1 0-2 2-1 0-2 2-1 0-2 2-1 0-.2 .8 1.2 .2 1 1 1 0 1 1 1 0 2 2.1 1 0 1 1 1 .1 2 2 1 0 1 1.1 1 0 1 1 1 0 2 2.1 1-.1 1 1 1 0 1 1 1 .1 2 2 1 0 1 1 1 0 2 2 1 0 1 1 1 0 1 1 1 0 2 2 1 0 1 1 1 0 1 1 1 0 2 2 1 0 1 1 1 0 1 1 1 0 2 1.9 1 0 1 .8 1 0 2 2 1 0 1 .8 1 0 1 1 1-.1 1 1.1 .1-8.1-1-1 0-26-1-1 0-14 .6-1 0-1 33.3 0 0 98-29.4 0 0-1-1-1 0-1-1-1 0-2-1-1 3.9-6 1.3-3 .5-4-.7-2-.8-1-3.6-3-13.4-9-9.5-7-.8-1 .2-1-4.3-3-.4-.5-1.1-.5 .2-1-8.1-5.6-1-.4-.4-1-.6-.2-.8-.8-13.3-8-.9-1-1-.2-.8-.8-17.2-9.8-1.1-.2-5.9 2.9-4 3.1-2 2.5-2.2 5.5-2 8-.9 7-.2 10-.7 .4-1 1.3-1 0-1 1-3 0-1 1 0-63.7Z" fill="#00ffd4"/>
<path d="M563 103l49.7 0-1.7 1.7-1 0-2 2-1 0-2 2-1 0-2 2-1 0-2 2-1 0-2 2-1 0-1.3 1.3 1.3 1.1 1 0 2 2.2 1 0 1 1 1 0 1 1 1 0 2 2.1 1 0 1 1 1 .1 2 2 1 0 1 1.1 1-.1 1 1.1 1-.1 2 2.1 1 0 1 1 1 0 1 1 1 0 2 2.1 1-.1 1 1.1 1-.1 2 2.1 1 0 1 1 1 0 1 1 1 0 2 2 1 0 1 1 1 0 1 1 1 0 2 2 1 0 1 1 1-.1 1 1.1 1-.1 2 2 1-.1 1 .9 1 0 2 2 1 0 1 .8 1 0 1 1 1 0 1 1 .4-.2 0-8-1-1 0-26-1-1 0-14 .4-1 0-1 33.2 0 0 98-22.9 0-1-1 0-1-1-1 0-1-1-1 0-1-1-1 0-2-1.1-.2-.9-.8 2.5-4 1.1-3 .2-4-.3-1-.8-1-14.7-10-9.4-7-.2-2-4.4-3 0-1-.7-1-6.3-4-1.2-1-.4-1-1.4-1-10-6-1.4-1-.7-.9-1-.3-.8-.8-28.2-16-3 1.2-5 2.6-2.5 2.2-1.5 2-1.9 4-2.5 10-.7 5-.4 9-2.5 1.9-4 0 0-56.9Z" fill="#00ffbb"/>
<path d="M563 103l49.3 0-1.3 1.3-1 0-2 2-1 0-2 2-1 0-2 2-1 0-2 2-1 0-2 2-1 0-1.7 1.7 .7 .2 1 1 1 0 2 2.2 1 0 1 1 1 0 1 1 1 0 2 2.1 1 0 1 1 1 .1 2 2 1 0 1 1 1 0 1 1 1 0 2 2.1 1-.1 1 1.1 1-.1 1 1.1 1 0 2 2 1 0 1 1 1 0 2 2 1 0 1 1 1 0 1 1 1 0 2 2 1 0 1 1 1 0 1 1 1 0 2 2 1 0 1 1 1 0 1 1 1 0 2 1.9 1 0 1 .9 1 0 2 2 1 0 1 .8 1 0 1 1 1 0 1 1 .6-.3 0-8-1-1 0-26-1-1 0-14 .3-2 33.1 0 0 98-22.5 0-1-1 0-1-1-1 0-1-1-1 0-1-1-1 0-2-1.2-1 1-1 1.3-2 1.8-4 .3-4-.3-1-.6-1-10.9-7-9.5-7-.4-.6-1-.4 1-1-1-1.2-2.6-1.8-.5-1-.1-1-6.1-4-1.2-2-9.8-6-.7-.8-.7-.2-.5-1-.8-.3-.8-.7-38.2-21.8-3 .9-4 1.8-3.1 2.1-1.8 2-1.6 3-2.6 10-1.2 8-.5 10-1.2 1.1-4 0 0-56.1ZM565.7 153l.3 .8 .5-.8-.5-.3Z" fill="#00ffa2"/>
<path d="M563 103l40.8 0-1.8 1.8-1 0-2 2-1 0-2 2-1 0-2 2-1 0-2 2-1.2 .2 2.2 2.1 1 0 1 1 1 .2 1 1 1 0 2 2.2 1 0 1 1 1 0 1 1 1 0 2 2.1 1 0 1 1 1 0 2 2.1 1-.1 1 1.1 1 0 1 1 1 0 2 2 1 0 1 1 1 0 1 1 1 0 2 2.1 1-.1 1 1.1 1-.1 2 2.1 1 0 1 1 1-.1 1 1.1 1 0 2 2 1 0 1 1 1 0 1 1 1 0 2 2 1 0 1 1 1-.1 1 1 1 0 2 2 1 0 1 .9 1 0 2 2 1 0 1 .8 1 0 1 1 1 0 1 1 .9-.4 0-8-1-1 0-26-1-1 .1-16 33 0 0 98-22.1 0-1-1 0-1-1-1 0-1-1-1 0-1-1-1 0-2-1-1 1.1-.2 .8-.8 2.8-5 .7-2 .1-2-.1-2-.5-1-3-2-4.1-2-10.9-8-.6-1 .9-1-2.6-2-.8-1 .4-1-5.6-4 .1-1-.6-.2-.5-.8-8.1-5-1.6-2-49.8-28.6-1 0-2.1 .6-5.9 2.6-2 1.6-2 2.8-1.5 4-2 9-.6 4-.5 9-1.4 1.3-1 0-1 1-1 0 0-51.3ZM565 147l-1 1 1 0Z" fill="#00ff84"/>
<path d="M563 103l40.3 0-1.3 1.3-1 0-2 2-1 0-2 2-1 0-2 2-1 0-2 2-1 0-.7 .7 .7 .2 2 2.1 1-.1 1 1.1 1 .2 1 1 1-.1 2 2.2 1 0 1 1 1 0 1 1 1 0 2 2.1 1 0 1 1 1 0 2 2 1 0 1 1 1 0 1 1 1 0 2 2.1 1 0 1 1 1 0 1 1 1 0 2 2 1 0 1 1 1 0 2 2 1 0 1 1 1 0 1 1 1 0 2 2 1 0 1 1 1 0 1 1 1 0 2 2 1 0 1 1 1 0 1 1 1 0 2 1.9 1 0 1 1 1-.1 2 2.1 1-.1 1 .9 1 0 1 1 1 0 2 1.6 1 0 1 1 1 0 1 1 .2-3.1-1-1 0-18-1-1 0-18-1-1 0-13 29.8 0 0 98-13.5 0-2-2 0-1-2-2 0-1-2-2 0-1-3-3-.2-1 1.4-2 1.2-3 .3-3-.4-2-.8-1.1-6.7-2.9-8-6 .2-1 .5-1-1-.4-1-1.5-.5-.1 .7-1-.8-1-2.9-2-.7-1 .2-1-1-.3-.5-.7-5-3-.5-.6-1.1-.4-.3-1-.8-1-1.6-1-58.2-33.5-1-.3-6 1.9-3 1.8-2.2 2.1-2 4-1.4 6-1.3 7-.5 7-2.6 2.4-1 0 0-45.4Z" fill="#00ff65"/>
<path d="M563 103l32.8 0-.8 .8-1 0-1 1-1 0-2 2-1 0-2 2-1 0-2.1 2.2 1.1 .1 1 1 1 0 1 1 1 .3 2 2.1 1-.1 1 1.1 1 .1 1 1 1 0 2 2.1 1 0 1 1 1 0 1 1 1 0 2 2.1 1-.1 1 1 1 .1 2 2 1 0 1 1 1 0 1 1 1 0 2 2 1 0 1 1 1 0 1 1 1 0 2 2.1 1-.1 1 1 1 0 2 2.1 1-.1 1 1.1 1-.1 1 1.1 1-.1 2 2.1 1 0 1 1 1-.1 1 1.1 1-.1 2 2.1 1-.1 1 1.1 1-.1 1 1 1 0 2 2 1 0 1 .9 1 0 2 2 1 0 1 .9 1 0 1 1 1 0 2 1.7 1 0 1 1 1 0 1 1 .5-.3 0-3-1-1 0-18-1-1 0-18-1-1 0-13 29.5 0 0 98-7 0-2-2 0-1-3-3 0-1-2-2 0-1-2-2 0-1-2-2-1-.1-.3-.9 .8-2 .4-2-.1-3-.4-1-1.4-1.2-6-1.8-5.1-4 .8-1-.1-1-1-1 .4-1-.1-1-.9-.4-1-1.2-1-.4 .2-1-.2-1-1-.3-1-1-3-1.7-1-1-.2-1-1-1-70.8-40.9-3 .6-3.6 1.3-2.4 1.3-2 1.6-1 1.3-1-1-2 0-1-1-2 0-1-1 0-14.2Z" fill="#00ff45"/>
<path d="M563 103l32.3 0-.3 .3-1 0-1 1-1 0-2 2-1 0-2 2-1 0-2.4 2.7 .4 .4 1 0 1 1 1 0 1 1 1 .2 2 2.1 1-.1 1 1 1 .1 1 1 1 0 2 2.1 1 0 1 1 1 0 1 1 1 0 2 2 1 0 1 1 1 0 2 2.1 1-.1 1 1.1 1 0 1 1 1-.1 2 2.1 1 0 1 1 1 0 1 1 1 0 2 2 1 0 1 1 1 0 2 2 1 0 1 1 1 0 1 1 1 0 2 2 1 0 1 1 1 0 1 1 1 0 2 2 1 0 1 1 1 0 1 1 1 0 2 2 1-.1 1 1 1 0 2 2 1 0 1 .9 1 0 1 1 1 0 2 1.8 1 0 1 1 1 0 1 1 .8-.5 0-3-1-1 0-18-1-1 0-18-1-1 0-13 29.2 0 0 98-6.4 0-2-2 0-1-3-3 0-1-2-2 0-1-2-2 0-1-2-2-.5-1 3-7 .1-1-.5-1-3.7-1.2-5-.7-1.6-1.1-.5-1 1.1-1-.3-1 .5-2-1.2-.8-.6-1.2 .2-1-.8-1-3-2-.7-1-.2-1-1.1-1-80.8-46.9-1-.2-2 .5-5 1.9-1-.7-1 0-1-1-1 0-1-1-1 0-1-1-1 0-1-1-1 0 0-6.6Z" fill="#01ff27"/>
<path d="M563 103l22.7 0-1.7 1.7-1 0-2 2-1 0-1.3 1.3 .3 .4 1-.1 1 1.1 1-.1 2 2.5 1-.1 1 1 1 0 1 1 1 .1 2 2 1 0 1 1 1 0 1 1.1 1-.1 2 2.1 1 0 1 1 1 0 1 1 1 0 2 2 1 0 1 1 1 0 2 2 1 0 1 1 1 0 1 1 1 0 2 2 1 0 1 1 1 0 1 1 1 0 2 2.1 1-.1 1 1 1 0 2 2.1 1-.1 1 1 1 0 1 1 1 0 2 2.1 1-.1 1 1 1 0 1 1 1 0 2 2 1 0 1 1 1 0 1 1 1 0 2 2 1 0 1 1 1 0 2 2 1 0 1 1 1-.1 1 1 1 0 2 1.9 1 0 1 1 1 0 1 1 1-.5 2 2 1.6-.2 0-6-1-1 0-10-1-1 0-9-1-1 0-9-1-1 0-9-1-1 0-9 27.4 0 0 93.8-4.8-4.8 0-1-9-9-.1-1 2.3-4 .4-1-.1-1-1.7-.9-6.8-1.1 1.2-2-.6-1 .2-2-1-.5-1-1.3-.5-.2-.4-2-1.3-1-90.8-52.9-1-.4-4 .9-2-.1-1-1-1 0-1-1-1 0-2-2-1 0-1-1-1 0-1-1 0-1.5Z" fill="#13ff1d"/>
<path d="M567 103l1 0 17.2 0-1.2 1.2-1 0-2 2-1 0-2 1.9-1-.6-3-.1-1-1-1 0-2-2-1 0-1-1-1 0-.4-.4ZM676 103l17 0 0 84.5-9.8-9.5 2.3-4-.5-.9-3.8-1.1 .1-1-.7-1-.5-2-4.7-3 1.6-.8 1 1.1 1-.1 2 2.3 .3-.5 0-4-1-1 0-9-1-1 0-9-1-1 0-9-1-1 0-9-1-1 0-10-1-1 0-8ZM580 108.9l0 .4-.4-.3ZM582 109.8l0 .6-.7-.4ZM583 111ZM585 112l0 .2-.3-.2ZM587 112.9l0 .5-.6-.4ZM589 113.9l0 .6-.9-.5ZM590 115l0 .1-.2-.1ZM592 116l0 .3-.5-.3ZM594 117l0 .4-.8-.4ZM595 118l1-.1 0 .7-1.1-.6ZM597 119l0 .2-.4-.2ZM599 120l0 .4-.6-.4ZM601 121l0 .5-.9-.5ZM602 122l1 0 0 .7-1.2-.7ZM604 123l0 .3-.5-.3ZM606 124l0 .5-.8-.5ZM607 125l1 0 0 .6-1.1-.6ZM609 126l0 .2-.4-.2ZM611 127l0 .4-.7-.4ZM613 128l0 .6-1-.6ZM614 129l1 0 0 .7-1.3-.7ZM616 130l0 .3-.6-.3ZM618 131l0 .5-.9-.5ZM619 132l1 0 0 .7-1.2-.7ZM621 133l1 0 0 .8-1.4-.8ZM623 134l0 .4-.7-.4ZM624 135l1 0 0 .6-1-.6ZM626 136l1 0 0 .8-1.3-.8ZM628 137l0 .4-.6-.4ZM630 138l0 .5-.9-.5ZM631 139l1 0 0 .7-1.2-.7ZM633 140l1 0 0 .9-1.5-.9ZM635 141l0 .5-.8-.5ZM636 142l1 0 0 .6-1.1-.6ZM638 143l1 0 0 .8-1.4-.8ZM640 144l1 0 0 1-1.7-1ZM642 145l0 .6-1-.6ZM643 146l1 0 0 .7-1.2-.7ZM645 147l1 0 0 .9-1.5-.9ZM647 148l1 0 1 1 0 .7-2.8-1.7ZM650 150l1 0 0 .8-1.4-.8ZM652 151l1.1 0-.1 1-1.7-1ZM654 152l0 .6-1-.6ZM655 153l1.1 0-.1 .8-1.3-.8ZM657 154l1-.1 0 1-1.6-.9ZM659 155l1-.1 1.1 1.1-.1 .7-2.9-1.7ZM662 157l1-.1 0 .9-1.4-.8ZM664 157.9l1 0 1 1 1-.3 1.3 1.4-.3 .7-4.7-2.7ZM669 160.8l1-.1 1 1 1-.2 1.4 1.5-.4 .6-4.6-2.6ZM674 163.8l1-.2 .4 .4-.4 .8-1.4-.8Z" fill="#26ff13"/>
<path d="M615 172.8l-2 .6-1 .6-1.3 1-.8 1-.8 2-.1 1 0 2 .5 3 1.9 3 2.7 2 2.9 1.8 1 .4 1-.1 4.6-2.1 2-2 .7-2-.3-3-1.4-3-2.2-3-2.4-2.4-1-.4-2-.4-2 0M653.2 103l-1.2 1.2-1 0-2 2-1 0-3 3-1 0-2 2-1 0-3 3-1 0-3 3-1 0-2 2-1 0-3 3-1 0-2 2-1 0-3 3-1 0-2 2 0 .9 1 0 1 1 1 0 1 1 1 .1 2 2 1 0 1 1 1 0 2 2 1 0 1 1 1 0 1 1.1 1 0 2 2 1 0 1 1 1 0 1 1 1 0 2 1.9 1 0 1 1 1 0 1 1 2-.2 0-1 1-1 0-6 1-1 0-6 .5-1 .1-5 1-1 0-5 1-1 0-2 .8-1 0-2 1-1 0-1 1-1 0-2 1-1 0-1 1-1-.2-1 .9-1 0-1M644.5 201l0-4 .5-1.1 6-5.9 1.7-4 .3-2-.5-4-.8-2-2-3-7.7-4.2-11.5-7.8-30.8-22-.7-.4-1-.2-3 .9-3 1.7-2.2 2-2.3 3-1.7 3-1.3 3-1.4 5-.5 3-.4 7 .3 5 .5 3.6 .7 3.4 1.5 5-2.7 3 0 1-5 5 0 1-5 5M603.1 103l-1.1 1.1-1 0-2 2-1 0-2 2-1 0-2 2-1 0-2 2-1 0-.9 .9 .9 .3 2 2.1 1-.1 1 1.1 1 .1 1 1 1 0 2 2.2 1-.1 1 1 1 0 1 1 1 0 2 2.1 1 0 1 1 1 0 2 2.1 1-.1 1 1.1 1 0 1 1 1 0 2 2 1 0 1 1 1 0 1 1 1 0 2 2 1 0 1 1 1 0 2 2 1 0 1 1 1 0 1 1 1 0 2 2 1 0 1 1 1 0 1 1 1 0 2 2 1 0 1 1 1 0 1 1 1 0 2 2 1 0 1 .9 1 0 2 2 1 0 1 .9 1-.1 1 1.1 1-.1 2 1.7 1 0 1 1 1 0 1 1 .3-.2 0-3-1-1 0-18-1-1 0-18-1-1 0-13M679.8 201l-2-2 0-1-2-2 0-1-2-2 0-1-3-3-.1-1 1.1-1 1.2-2 .7-2 .3-1.5 0-2.5-.2-1-.5-1-1.4-1-3.3-1-2.6-1.1-6.3-4.9 .5-1 .1-1-.3-.4-1.1-.6 .3-2-2.7-2-.5-.8-.5-.2 .3-1-.8-.4-.3-.6-3.7-2.5-1.2-.5-.8-.9-.5-.1-.1-1-.4-.1-.7-.9-65.3-37.6-1-.1-3 .7-3 1.1-2 1.1-2.3 1.8-2.7 4-1 0-1-1-2 0-1-1-1 0" fill="none" stroke="rgba(55,55,55,0.5)" stroke-width="0.8"/>
<path d="M576 106.4l2.7 4.2 2.7 4.2 2.8 4.1 2.7 4.2 2.8 4.1 2.8 4.2 2.8 4.1 2.9 4 2.9 4.1 3 4.1 3.2 3.7 3.4 3.7 3.3 3.7 3.7 3.3 4.2 2.8 4.1 2.7 4.3 2.5 4.8 1.5 4.7 1.5 4.8 1.5 5 0 5-.1 5-.2 5-.2 4.9-.3 5-.4 5-.5 4.9-.5 5-.5M572.7 112.5l2.7 4.3 2.7 4.3 2.7 4.3 2.7 4.4 2.9 4.2 2.9 4.1 2.9 4.2 2.8 4.2 3.1 4 3.1 4.1 3.3 3.9 3.4 3.7 3.9 3.3 4 3.1 4.3 2.8 4.6 2.1 4.7 1.9 4.9 1.3 5 .6 5.1 .8 5.1-.3 5.1-.4 5-.5 5-.6 5-.7 5-.8 4.9-.9 5-1 4.9-1M569.9 118.7l2.7 4.5 2.6 4.5 2.6 4.5 2.5 4.5 2.9 4.3 3 4.1 3 4.3 2.8 4.3 3.3 3.9 3.4 4 3.4 3.9 3.6 3.6 4.3 2.8 4.2 2.9 4.6 2.7 5 1.5 5 1.5 5.1 .9 5.1 .1 5.3 .1 5.2-.4 5.1-.8 5.1-.8 5-1 5-1.1 5-1.1 4.9-1.5 4.9-1.5 4.9-1.5M568 125l2.4 4.7 2.3 4.7 2.4 4.7 2.3 4.7 2.9 4.4 3 4.3 3 4.3 3.1 4.3 3.5 3.8 3.7 3.7 3.8 3.8 4 3.3 4.6 2.5 4.6 2.5 4.7 2.4 5.1 1.1 5.2 1.1 5.2 .6 5.2-.3 5.2-.4 5.3-.5 5.1-1.1 5.1-1.1 5.1-1.4 5-1.5 5.1-1.6 4.8-2 4.9-2 4.8-2.1M566.6 131.5l2 4.9 2 5 2 4.9 2.1 4.9 2.8 4.6 2.9 4.4 3.2 4.3 3.4 4.2 3.8 3.7 4.1 3.5 4.2 3.3 4.4 2.9 5 2.2 5.1 2 4.7 1.9 5.2 .8 5.3 .8 5.2 .3 5.3-.6 5.3-.6 5.3-.6 5.2-1.3 5.2-1.4 5.1-1.8 5-2 4.9-2 4.7-2.6 4.7-2.7 4.7-2.6M565.5 138.2l1.7 5.2 1.6 5.1 1.6 5.2 1.9 5.1 2.7 4.8 2.7 4.7 3.4 4.2 3.8 3.9 4 3.7 4.5 3.1 4.6 2.7 4.9 2.4 5.3 1.9 5.4 1.4 4.9 1.3 5.4 .7 5.4 .4 5.4 0 5.5-.6 5.4-.8 5.4-.7 5.3-1.3 5.2-1.8 5.1-2 4.8-2.6 4.8-2.6 4.4-3.2 4.4-3.3 4.4-3.2M565 145l1.2 5.5 1.2 5.4 1.2 5.5 1.5 5.3 2.5 5 2.5 5 3.6 4.1 4.3 3.6 4.3 3.6 4.9 2.6 5.2 1.8 5.3 1.9 5.3 1.6 5.6 .7 5.5 .6 5.6 .6 5.6 .1 5.6-.3 5.5-.4 5.6-.8 5.5-.7 5.4-1.4 5.2-2 5-2.4 4.6-3.2 4.6-3.2 4.1-3.8 4-3.9 4-3.9M576 106.4l-1.7 3-1.6 3.1-1.5 3-1.3 3.2-1 3.1-.9 3.2-.7 3.2-.7 3.3-.6 3.3-.5 3.4-.3 3.4-.2 3.4M582.6 116.5l-1.7 3.2-1.7 3.2-1.5 3.3-1.4 3.3-1.4 3.4-1.2 3.5-1.2 3.5-1.1 3.5-1 3.6-.9 3.7-.9 3.7-.7 3.8M589.3 126.5l-1.8 3.4-1.6 3.4-1.6 3.4-1.6 3.5-1.5 3.6-1.4 3.7-1.4 3.7-1.3 3.8-1.3 3.9-1.3 3.9-1.2 4-1.1 4.1M596.1 136.5l-1.7 3.4-1.5 3.5-1.6 3.5-1.4 3.6-1.4 3.7-1.4 3.7-1.3 3.8-1.3 3.8-1.3 4-1.2 4-1.1 4.1-1.1 4.1M603.1 146.3l-1.5 3.4-1.4 3.5-1.3 3.5-1.3 3.6-1.1 3.5-1.1 3.6-1 3.6-.9 3.7-.8 3.7-.8 3.8-.7 3.7-.7 3.8M610.9 155.4l-1.4 3.6-1.2 3.5-1.2 3.4-1 3.4-.8 3.4-.6 3.2-.4 3.2-.3 3.2-.4 3.1-.2 3.1-.2 3 0 2.9M619.8 163.5l-1 3.3-.9 3.2-.8 3.1-.6 3-.4 3-.1 2.8 0 2.7 0 2.6 0 2.6 .1 2.4 .1 2.4 .2 2.3M630 169.9l-.6 2.7-.4 2.7-.4 2.6-.2 2.5-.2 2.4 0 2.4 0 2.3 .1 2.2 .3 2.2 .3 2.1 .4 2 .5 1.9M641.4 173.6l-.3 2-.1 2-.2 2 0 1.9 0 2 0 2 0 1.9 .3 1.9 .4 2 .5 1.9 .6 1.9 .7 1.9M653.3 174.5l0 1.5 0 1.5 0 1.5 0 1.6 0 1.6 0 1.7 .2 1.7 .3 1.7 .5 1.8 .7 1.8 .7 1.9 .8 1.9M665.4 174.1l0 1 0 1.1 .1 1.1 0 1.1 .1 1.2 .1 1.3 .1 1.3 .4 1.3 .5 1.4 .7 1.4 .7 1.5 .8 1.5M677.4 173.1l0 .6 0 .6 .1 .6 0 .6 .1 .7 .1 .7 .1 .6 .3 .7 .3 .8 .4 .7 .4 .8 .4 .7M689.4 171.9" fill="none" stroke="rgba(95,95,95,0.45)" stroke-width="0.5"/>
</g></g>
<g transform="translate(0 0)">
<clipPath id="c6"><path d="M473 122.5l2 4.6 2 4.7 2 4.6 2 4.7 2 4.6 2.1 4.6 2.3 4.6 2.2 4.5 2.3 4.5 2.2 4.6 2.3 4.5 2.3 4.5 2.2 4.5 2.3 4.6 2.2 4.5 2.3 4.5 2.3 4.5 2.3 4.5 1.7 4.8 1.5 4.8 1.4 4.9 1.5 4.8 1.4 4.9 1.5 4.8 2.6 4.1 3.7 3.4 3.8 3.4 3.7 3.4 3.8 3.4 3.8 3.4 3.9 3.2 3.9 3.2 3.9 3.2 4.2 2.7 4.4 2.6 1.8 0 1.2 0 .9 0 .5 0 .4 0 .5 0 .7 0 1.4-.4 2.1-1.2 2.7-1.8 3-2.3 3.1-2.6 2.8-2.8 2.4-3.3 2.3-4.6 2.3-5.4 2.5-6 2.8-6 3.2-5.7 3.5-5.1 4.3-5.2 4.6-5.2 4.5-4.6 5-4.7 5.4-4.6-3.8 0-3.7-.1-3.8-.5-3.7-.7-3.7-.8-3.6-1-3.5-1.3-3.6-1.2-3.6-1.3-3.5-1.2-3.1-2.1-2.9-2.4-2.9-2.4-2.9-2.4-2.8-2.5-1.7-3.4-1.7-3.4-1.6-3.3-1.5-3.5-.8-3.7-.8-3.7-.8-3.6-.8-3.7-.8-3.7 .1-3.7 .6-3.8 .7-3.7 .6-3.7 1-3.6 1.3-3.6 1.2-3.5 1.3-3.6 1.3-3.5 1.3-3.6 1.3-3.5-5.6-.6-5.4-1-5-1.3-5.3-2.4-5-3.2-4.7-2.6-4.8-2-4.5-1.9-4.4-1.7-4.2-1.3-4.1-1-4-.3-4.3 .9-4.2 2.5-4.2 3.4-4 4-3.9 3.9-3.8 3.5-4 3.5-4 3.9-3.8 3.7-3.6 3.1-3.2 2-1.6 .6-1.4 .4Z"/></clipPath>
<g clip-path="url(#c6)" fill-rule="evenodd">
<rect x="470" y="84" width="160" height="189" fill="#5f0096"/>
<path d="M471 84l159 0 0 189-52.8 0 0-1-2-2 0-1-1.2-1.2-1.4-.8-2.5-4-2.1-2.5-1-.8-2-.7-1 .3-.4 .7-.4 1 .1 1 1.7 3.9 2 2.2 .7 1.9 0 3-97.7 0 0-189Z" fill="#7e00bd"/>
<path d="M471 84l159 0 0 189-47.8 0 0-1-3-3 0-1-2.2-2.2-1.5-.8-2.3-4-3.2-4.4-6-5.6-3-.9-1 .1-2 1.5-1.4 1.3-1.3 2-.5 3 1.3 6-.7 1 .6 1-.9 1 0 1-2 2 0 1-2 2-81.1 0 0-189Z" fill="#8500ce"/>
<path d="M471 84l159 0 0 189-41.9 0-2-2 0-1-6-6-.1-1.1-1 .8-.9-.7-5.1-8-8-8.6-5-4-4-.7-8 1.5-4 1.2-3 1.4 3.8 8.2 2 3 1.5 3-5 5 0 1-4 4 0 1-2 2-67.3 0 0-189Z" fill="#8200d8"/>
<path d="M471 84l159 0 0 189-41.1 0-2-2 0-1-6-6-.4-3-4.5-7-13-14.1-6-4.7-4-1.4-7-.2-4 .1-3 .6-5 2-.1 .7 5.5 9 2.2 5 .7 3-.3 .4-1-.6-1 .1-1.1 1.1 0 1-8 8 0 1-8 8-52.9 0 0-189Z" fill="#7e00e2"/>
<path d="M471 84l159 0 0 189-34.3 0-13.2-13 .3-1-4.8-7.1-12-13.1-7-6.9-5-4-3-1.2-2-.5-8-.6-4 .2-4 .8-4 1.8 0 2 2 3.9 5.4 8.7 3.6 7.4 .9 2.6-2.4 2 0 1-8 8 0 1-8 8-52.5 0 0-189Z" fill="#7b00ec"/>
<path d="M471 84l159 0 0 189-22.5 0-2.5-2.5-1 0-2-2-1 0-3-3-1 0-2-2-1 0-3-3-1 0-2-2-1 0-1.9-1.5-5.1-7.2-18-19.1-7-6.7-4-2.5-3-.9-10-.9-4 0-4 .7-5 1.9-.1 .7 .8 1 .1 1 3.1 7 8.6 15 1.8 5 .9 1-2.1 2 0 1-8 8 0 1-8 8-52.1 0 0-189Z" fill="#7500f5"/>
<path d="M471 84l159 0 0 189-4-.2-1-1-1 0-1-1-1 0-1-1-1 0-1-1-1 0-1-1-1 0-1-1-1 0-1-1-1 0-1-1-1 0-1-1-1 0-1-1-1 0-1-1-1 0-1-1-1 0-1-1-1 0-1-1-1 0-1-1-1 0-1-1-1 0-1-1-1 0-1-1-1 0-1-1-1-.1-1 .4-5-6.5-9-8.8-14-15.1-6-5.2-4-2.1-4-1.2-9-1.2-5 0-5 .5-4 1.4 0 2.1 .7 1 5.8 14 8.1 14 .8 2-.7 1-3 3 0 1-10 10 0 1-8 8-45.7 0 0-189Z" fill="#5b00f8"/>
<path d="M471 84l159 0 0 189-2.1 0-.9-.9-1 0-1-1-1 0-1-1-1 0-1-1-1 0-1-1-1 0-1-1-1 0-1-1-1 0-1-1-1 0-1-1-1 0-1-1-1 0-1-1-1 0-1-1-1 0-1-1-1 0-1-1-1 0-1-1-1 0-1-1-1 0-1-1-1 0-1-1-1 0-1-1-1 0-1.2-1.1 0-1-.8-1.8-4-4.9-8-7.3-6-6.1-10-10.9-4.2-4-3.8-2.9-5-2.8-4-1.3-10-1.2-5 .5-4 .8-5 1.9 .8 1 0 1 .6 1 .6 2 3.1 7 3.9 9.8 5.5 9.2 3.2 6-.3 1-3 3 0 1-10 10 0 1-8 8-45.4 0 0-189Z" fill="#4100fa"/>
<path d="M471 84l159 0 0 181.5-1-1-1 0-1-1-2 0-1-1-1 0-1-1-1 0-1-1-2 0-1-1-1 0-1-1-1 0-1-1-1 0-1-1-2 0-1-1-1 0-1-1-1 0-1-1-2 0-1-1-1 0-1-1-1 0-1-1-2 0-1-1-1 0-1-1-1.9-.5-2.1-2.9-2.9-3.1-5.1-4.1-5-4.6-16.5-17.3-3.5-3.2-5-3.8-5-2.6-4-1.1-3-.4-7 .1-5 .4-5 .8-4 1.8 .8 1 0 1 .7 1 2 6 6.8 17 6 10 1 2 0 1 1.8 2-.1 1-3 3 0 1-10 10 0 1-8 8-45 0 0-189Z" fill="#2700fd"/>
<path d="M471 84l159 0 0 174.9-1-1-1 0-1-1-2 0-1-1-1 0-1-1-1 0-1-1-2 0-1-1-1 0-1-1-1 0-1-1-2 0-1-1-1 0-1-1-1 0-1-1-2 0-1-1-1 0-1-1-2 0-1-1-1 0-1-1-1 0-2 1.9-.7 .2-.3 1.2-1-3.2-2.6-3-11.4-9.4-17-17.6-6-5.5-6-4.1-4-1.9-4-.9-10-.3-7 .4-5 .8-3 1.1 0 .4 .8 1 0 1 .7 1 9.5 25.8 1.6 3.2 6.2 10-5.1 5 0 1-10 10 0 1-9 9 0 1-39.7 0 0-189Z" fill="#1306ff"/>
<path d="M471 84l159 0 0 174.4-1-1-1 0-1-1-2 0-1-1-1 0-1-1-1 0-1-1-2 0-1-1-1 0-1-1-1 0-1-1-2 0-1-1-1 0-1-1-1 0-1-1-2 0-1-1-1 0-1-1-2 0-1-1-1 0-1-1-1 0-1 .8-.6-.2-.2-1-.8-1-.4-1.4-2-2.3-2-1.8-7-4.9-3-2.5-21-21.3-3-2.7-4-2.6-7-3.3-5-1.1-10-.5-6 .1-5 .8-3 1-.6 .5 .4 2 .7 1 2.6 7 7.9 21.9 2 4.1 5.4 9 1 1-5.1 5 0 1-10 10 0 1-9 9 0 1-39.3 0 0-189Z" fill="#0d1eff"/>
<path d="M471 84l159 0 0 168.9-1-1-2 0-1-1-1 0-1-1-1 0-1-1-1 0-1-1-1 0-1-1-1 0-1-1-2 0-1-1-1 0-1-1-1 0-1-1-1 0-1-1-1 0-1-1-1 0-1-1-1 0-1-1-3 0-.2 1.1-1.8 1.7-2-.8-.4-.9-.1-2-2.5-2.8-12-8.5-22.4-22.7-4.5-3-4.1-2.2-7-3-4-1-10-.8-8 .4-4 .8-3 1.3-.1 1.5 .7 1 .1 1 4.1 10 8.1 23 6.2 11-.1 .9-.9-.9-1.1 0-5 5 0 1-10 10 0 1-9 9 0 1-2 2-33 0 0-189Z" fill="#0835ff"/>
<path d="M471 84l159 0 0 168.4-1-1-2 0-1-1-1 0-1-1-1 0-1-1-1 0-1-1-1 0-1-1-1 0-1-1-2 0-1-1-1 0-1-1-1 0-1-1-1 0-1-1-1 0-1-1-1 0-1-1-1 0-1-1-3 0-.9 .6-.1 1.1-.4-1.1-.6-.3-1 .6-.3-.3 .3-3.3-2-2.5-3-2.5-7-4.2-3-2.1-5-4.7-16-16.8-5-3.4-13-6.4-5-1.6-6-.7-7 0-9 1.5-3 1.1-.2 .6 .1 2 5.9 15 7.6 22 2 4 3.5 6-6.3 6 0 1-10 10 0 1-9 9 0 1-2 2-32.6 0 0-189Z" fill="#034cff"/>
<path d="M471 84l159 0 0 168-1-1-2 0-1-1-1 0-1-1-1 0-1-1-1 0-1-1-1 0-1-1-1 0-1-1-2 0-1-1-1 0-1-1-1 0-1-1-1 0-1-1-1 0-1-1-1 0-1-1-1 0-1-1-2 0-1-1.7-2 1.1-.3-.4 .5-3-.2-1.2-2-2.3-3-2.4-10-6-8-7.5-12.5-13.6-4.5-2.8-17-8.6-5-1.5-6-.4-11 1.1-5 .8-3 1.2 0 .4 1.9 5.8 5.6 14 5.3 15 2.1 7 1.9 4 3.6 6-6.1 6 0 1-10 10 0 1-9 9 0 1-2 2-32.3 0 0-189Z" fill="#0063ff"/>
<path d="M471 84l159 0 0 164.6-1-1-1 0-2-2-1 0-1-1-1 0-1-1-1 0-1-1-1 0-2-2-1 0-1-1-1 0-1-1-1 0-1-1-1 0-2-2-1 0-1-1-1 0-1-1-2-.1-2 1.3-1-.3-2 1.6 .2-5.1-.2-.7-1.9-2.3-2.3-2-9.8-5.5-4-3.1-8-7.6-9-10.5-4-2.5-6-2.8-14-7.4-5-1.5-2-.1-12 .8-8 .9-3 1 0 1.9 3 8.4 4.6 11 5.8 17 2 7 2.9 6-.3 1-8 8 0 1-9 9 0 1-10 10 0 1-3 3-26 0 0-189Z" fill="#0078ff"/>
<path d="M471 84l159 0 0 164.2-1-1-1 0-2-2-1 0-1-1-1 0-1-1-1 0-1-1-1 0-2-2-1 0-1-1-1 0-1-1-1 0-1-1-1 0-2-2-1 0-1-1-1 0-1-1-2.3-.2-.5-1-3.2 2.2-.1-2.2 .5-3-.3-1-1.7-2-3.4-2.9-10-5.7-6-4.6-6-5.8-8-9.7-3.7-2.3-8.3-3.6-14-7.6-2.7-.8-3.3-.3-21 1.1-3.6 1.2 .3 2 3.3 9.2 5.4 12.8 5.3 16 2.2 8 1.7 4 1.2 2-.2 1-8 8 0 1-9 9 0 1-10 10 0 1-3 3-25.6 0 0-189Z" fill="#008cff"/>
<path d="M471 84l159 0 0 160.9-1 0-2-2-1 0-2-2-1 0-3-3-1 0-2-2-1 0-2-2-1 0-3-3-1 0-2-2-1.3 .1-1.7 1.5-1-.6-3 2-1 .3-.1-2.2 .8-3-2-3-2.7-2.4-10-5.9-4-2.7-6-4.7-5-5.2-5.6-7.1-3.4-2.6-10-4.1-10-5.7-5-2.4-5-.7-19 .4-3 .8-3 1.4-.4 1.9 4.4 12 4.5 10 5.9 18 2 8 1.6 4 1.3 2 0 1-8 8 0 1-9 9 0 1-10 10 0 1-3 3-25.3 0 0-189Z" fill="#00a1ff"/>
<path d="M471 84l159 0 0 160.7-1 0-2-2-1 0-2-2-1 0-3-3-1 0-2-2-1 0-2-2-1 0-3-3-1 0-2-2-2 .1-.2-.8-.8-.1-3 2.4-.8-.3-.4-1 .6-2-.2-2-2.1-3-2.1-2.4-2-1.6-8-4.7-9.3-6.3-4.7-4.3-7-8.7-3-2.4-9-3.5-14-7.6-4-1.5-6-.8-13 0-2 .3-5.3 1.5-3.7 1.7 0 2.3 3.1 9 5.4 12 1.8 5 4.8 15 2.9 11.4-1 .5-1 0-1 1-1 0-2 2-1 0-2 2-1 0-2 2-1 0-1 1-1 0-2 2-1 0-2 2-1 0-2 2-1 0-1 1-1 0-2 2-1 0-2 2-1 0-1 1-1 0-2 2-1 0-2 2-1 0-2 2-1 0-1 1-1 0-2 2-1 0-2 2-1 0-2 2 0-185.9ZM600 230.4l.1 .6-.1 .1-.1-.1Z" fill="#00b7ff"/>
<path d="M471 84l159 0 0 160.4-1 0-2-2-1 0-2-2-1 0-3-3-1 0-2-2-1 0-2-2-1 0-3-3-1 0-2-2-1 0-.7-.4 1.3-2-.6-.4-4 3.1-1 .2-.1-1.9 .4-2-.1-1-1.9-3-2.3-2.8-6-5-14-8.7-2-1.5-3-3.1-5.5-6.9-3.5-3.1-10-3.9-13-7-6-2.1-5-.9-11-.1-6 1.1-4 1.4-3.5 1.6-.3 1 .2 2 2.6 8 6.3 14 1.9 5 3.4 11 3 13 .7 1 .2 1-.5 .4-1 0-1 1-1 0-2 2-1 0-2 2-1 0-2 2-1 0-1 1-1 0-2 2-1 0-2 2-1 0-2 2-1 0-1 1-1 0-2 2-1 0-2 2-1 0-1 1-1 0-2 2-1 0-2 2-1 0-2 2-1 0-1 1-1 0-2 2-1 0-2 2-1 0-2 2 0-185.4Z" fill="#00cdff"/>
<path d="M471 84l159 0 0 160.2-1 0-2-2-1 0-2-2-1 0-3-3-1 0-2-2-1 0-2-2-1 0-3-3-1 0-2-2-1.3-.2 1.8-2 0-1 .7-1-.1-1-5.1 4-1-.3-.2-.7 .4-2-.2-1.2-4-6-6-5.7-3-2.5-13-7.6-3-2.8-5.8-7.2-3.2-2.8-4-1.9-8-2.8-11-5.9-4-1.6-5-1.6-4-.6-6-.2-5 .4-6 1.4-4 .9-4 1.7 .9 5 1.1 3.5 8.2 18.5 2.1 6 2.7 9 2.2 9 .3 2-.5 .7-2 0-1 1-2 0-1 1-2 0-1 1-3 0-1 1-2 0-1 1-2 0-1 1-3 0-1 1-2 0-1 1-2 0-1 1-3 0-1 1-2 0-1 1-2 0-1 1-3 0-1 1-2 0-1 1-2 0-1 1-1 0 0-162.7Z" fill="#00e3ff"/>
<path d="M471 84l159 0 0 156-1 0-4-4-1 0-5-5-1 0-4-4-1 0-3.9-4-.1-1.6-5 4-1-.3-.2-1.1 .3-2-2.1-3.7-2-2.8-8-9.1-6-4-8-3.7-3-2.7-6-6.8-3-2.8-4-2-10-3.4-9-4.7-5-2.1-6-2-4-.6-3-.1-3 .1-11 1.5-4 .8-4 1.6 2.1 9.5 8.9 20 2 5.5 3 10.7 .7 3.8 .3 .4 0 1.8-1-1.3-2 1.9-2 0-1 1-2 0-1 1-3 0-1 1-2 0-1 1-2 0-1 1-3 0-1 1-2 0-1 1-2 0-1 1-3 0-1 1-2 0-1 1-2 0-1 1-3 0-1 1-2 0-1 1-2 0-1 1 0-157.8Z" fill="#00f9ff"/>
<path d="M471 84l159 0 0 155.8-1 0-4-4-1 0-5-5-1 0-4-4-1 0-3.7-3.8 0-1 1.8-2 .3-1-.4-.2-6 4.9-1-.1-.2-.6 .1-2-1.6-3-2.6-4-3.8-5-2.9-5-5-5-2-2.6-2.9-2.4-4.1 1-1-.2-4-2.3-7-7.1-4-2.5-4-1.7-9-2.7-14-6.6-5-1.7-5-.9-6 .2-11 1.1-5-.7-4 .4 0 1.6 3.9 13.1 8.6 19 2.5 7 1.6 7 .5 1-.1 3.1-1-1.1-.2 1-.8 .8-2 0-1 1-2 0-1 1-3 0-1 1-2 0-1 1-2 0-1 1-3 0-1 1-2 0-1 1-2 0-1 1-3 0-1 1-2 0-1 1-2 0-1 1-3 0-1 1-2 0-1 1-2 0 0-151.8Z" fill="#00ffed"/>
<path d="M471 84l159 0 0 155.6-1 0-4-4-1 0-5-5-1 0-4-4-1 0-3.6-3.6 0-1 2.8-3-.2-1.7-6 4.8-1-.1-.4-1 .1-1-1.5-3-5.5-9-.9-2-1-4-2.2-3-1-2-.6-3 .1-2 .4-1-1-1-7.5-5.1-5-2.1-3-.8-2-.1-.9 1.1 .9 3-1 .9-3-1.9-2-1.7-6-3.4-3-1.1-10-2.8-14-6.4-5-1.7-6-.8-12 .6-6-1.1-4-1.3-4 .3-.3 1.4 6 18 9.4 21 1.9 5.7 .6 3.3 .5 1-.1 1.9-1-.9-1 .9-2 0-1 1-2 0-1 1-3 0-1 1-2 0-1 1-2 0-1 1-3 0-1 1-2 0-1 1-2 0-1 1-3 0-1 1-2 0-1 1-2 0-1 1-3 0-1 1-2 0-1 1-1 0 0-146.9ZM611 151l0 .1 .1-.1-.1 0ZM609.9 152l.1 .1 .1-.1-.1 0ZM608.9 153l-1 1-.3 1-2.6 2.6 0 .4 1 1 0 1 .3-1 .7-.7 .1-1.3 1-1 0-1 1-1ZM514 216l.1 0-.1 0ZM612.7 217l.3 0 0-.2Z" fill="#00ffd4"/>
<path d="M471 84l159 0 0 155.4-1 0-4-4-1 0-5-5-1 0-4-4-1 0-3.4-3.4 0-1 2.8-3 0-1 1.7-2-.1-1.3-7 5.8-1 0-6.1-12.5-1.3-6 .2-2-1-3-.1-2 .4-2-.8-1-2.3-1.8-17-12-3-1.3-2-.1-2 1.2-1 2.3-1 .2-7-3.2-3-1.1-7-1.4-4-1.2-14-6.3-5-1.8-5-.6-8 .3-3-.3-3-.5-6-2.1-3-.7-4 .5-.7 .9 .4 3 6.3 18 10 22 .4 2 .6 1 .3 3-.3 .8-2-2-.4 1.2-1.6 1.9-2 0-1 1-2 0-1 1-3 0-1 1-2 0-1 1-2 0-1 1-3 0-1 1-2 0-1 1-2 0-1 1-3 0-1 1-2 0-1 1-2 0-1 1-3 0-1 1 0-141.9ZM615 148l0 .2 .2-.2-.2 0ZM614 149l-1 1-1 0-1 .7-4 3.9-1 0-1.4 1.4 .3 2 1 1 0 1 1.1 1 0 1 1 1 0 1 1 1 .2-2 1-1 0-2 1-1 0-2 1-1 0-2 1-1 0-1 1-1 0-2ZM515 212.8l0 .7-.8-.5Z" fill="#00ffbb"/>
<path d="M471 84l159 0 0 155.2-1 0-4-4-1 0-5-5-1 0-4-4-1 0-3.2-3.2 0-1 2.9-3 0-1 1.6-2-.1-1 1-1-.2-.9-7 5.7-1 .1-.8-.9-3.1-7-1.2-4-.8-4 .7-3 1.8-5-.4-1-5.2-7.5-2-2.1-1-.5-2 .6-1-.5-7-6.1-1 .2-11-6.1-2-.2-1 .5-2 3.9-1 .1-7-2.5-4-1-5-.5-4-1.1-4-1.5-10-4.8-5-1.7-5-.6-6 .1-5-.7-7-2.5-5-1.1-1 0-4 1-.1 1.6 .8 4 2.3 7 4.8 12 6.7 15 .7 1 .2 1 .7 1 .2 1 .8 1 .3 2 .7 1-.1 1.5-3-2.8-.4 1.3 1.1 1-.7 .9-2 0-1 1-1 0-1 1-2 0-1 1-2 0-1 1-2 0-1 1-1 0-1 1-2 0-1 1-2 0-1 1-1 0-1 1-2 0-1 1-2 0-1 1-1 0-1 1-2 .1-1 .9-2 .1-1 1-1 0-1 1 0-140ZM618.8 144l-5.8 5.6-1 0-5 4.4-1 0-2 2 .8 1-.1 1 1 1 0 1 1.1 1 0 1 1 1 0 1 2.1 2 0 1 1 1 .1 1.1 .7-.1 1-1 0-2 1-1 0-2 1-1 0-2 1-1 0-2 1-1 0-2 1-1 0-1 1-1 0-2 1-1 0-2 1-2ZM507.8 203l.2 .3 .4-.3-.4-.4ZM508.7 205l.3 .3 .6-.3-.6-.7ZM615.3 213l.7 .1 0-.6Z" fill="#00ffa2"/>
<path d="M471 84l159 0 0 155-1 0-4-4-1 0-5-5-1 0-4-4-1 0-3-3 0-1 3-3 0-1 1.4-2 0-1 2.7-3-.1-1.4-8 6.6-1 .2-.8-.4-2.2-6.3-1.5-5.7 1.2-5 1.2-2 2.1-2-1-1-11-17.3-6-8.5-7-6.4-1 .2-4.4 2-1.6 1.1-2-1.4-2 .5-2-1-1 1.7-1.8 .1 0 2-.6 3-.6 1.1-1 .1-9-2.2-6-.2-3-.6-4-1.6-11-5.3-5-1.5-12-.8-11-3.6-5-.9-1-.1-4 .9-.2 .7 .1 3 2.1 8 10.5 25 1.6 3 .2 1 .8 1 .1 1 .8 1 .1 1 .9 1.4 0 1.1-3-2.9-.6 2.4 .5 1-.9 .9-1 0-1 1-1 0-1 1-1 0-1 1-1 0-1 1-1 0-1 1-1 0-1 1-1 0-1 1-1 0-2 2-1 0-1 1-1 0-1 1-1 0-1 1-1 0-1 1-1 0-1 1-1 0-1 1-1 0-3 1.5-1 0-1 1-1 0-1 1 0-139.4ZM620.8 143l-.8 .6-1 0-.7 .4-5.3 5.2-1 0-2 1.9-2 .2-1 1-2 .3-2 1-.2 1.4 1.9 2-.1 1 1 1 0 1 1.1 1 0 1 1 1 0 1 2.1 2 0 1 1 1 0 1 1.1 1 0 1 1 1 .1 1.1 1-.1 0-2 1-1 0-3 1-1 0-2 .4-1 0-1 1-2 0-3 1-1 0-3 1-1 0-3 1-1 .1-3 .9-1 0-1-.4-.2ZM504.9 196l.1 .1 .1-.1-.1-.2ZM505.8 198l.2 .2 .3-.2-.3-.4ZM506.6 200l.4 .4 .6-.4-.6-.7ZM618 210Z" fill="#00ff84"/>
<path d="M471 84l159 0 0 148.7-2-2-1 0-8-8-1 0-4.7-4.7 .3-1 1-1 0-1 2.7-3 0-1 1.8-2-.1-.7-9 7.2-1 .2-.7-.7-2.5-9 .9-4 1.6-3 2.2-2 0-1-23.5-37-4-5.8-2-2.3-10-8.9-1-.3-3 1.4-1-.5-1 3.1-.4 9.3 .2 9-.5 3-.3 .7-1 .3-6-1.1-5 0-2 .3-4-.4-16-7.4-5-1.1-8-.5-15-4.6-5-.7-4 .9-.5 2.6 .6 4 .7 3 1.8 5 7.1 17 2.5 5 .2 1 .7 1 .1 1 .8 1 .2 1 .8 1.3 0 1.4-3-3.5-.7 1.8 1.2 1-.2 1 1.1 1-.4 .7-1 0-1 1-1 0-1 1-1 0-1 1-1 0-1 1-1 0-1 1-1 0-1 1-1 0-1 1-1 0-1 1-1 0-1 1-1 0-1 1-1 0-1 1-1 0-1 1-1 0-1 1-1 0-1 1-1 0-1 1-1 0-1 1-1 0-1 1-1 0-1 1 0-133.7ZM620.5 143l-.5 .4-14 0-1 .9-7 0-.1 1.7 2 2 0 1 1 1 0 1 1 1 0 1 .9 1-.1 1 1.8 2 0 1 1 1 0 1 1.1 1 0 1 1 1 0 1 2 2 0 1 1 1 0 1 1.1 1 0 1 1 1 0 1 1.3 1.2 .8-.2 0-2 1-1 0-4 1-1 .1-4 .9-1 .1-4 1-1 0-3 1-1 0-3 1-1 0-3 1-1 0-1-.9-.5ZM502.9 191l.1 .1 .1-.1-.1-.1ZM503.9 193l.1 .1 .3-.1-.3-.4Z" fill="#00ff65"/>
<path d="M471 84l159 0 0 148.4-2-2-1 0-8-8-1 0-4.4-4.4 .2-1 1-1 0-1 2.7-3 0-1 1.9-2-.4-1.7-8 6.7-1.1 0-1.6-6 .9-5 1.8-3.5 3.3-2.5-16.3-26-8-11.8-14-22-2-2.6-5.2-4.6-.8-1.8-1.4 2.8-2.6 10-1.2 6-.2 4 .5 5-.3 2 .4 2-1.2 3.2-6-.2-8 1.4-3-.4-5-2.1-7-3.5-4-1.5-11-1.6-5-1.3-12-3.7-6-1-4 0-.2 .7 .5 3 .2 3 1.5 5.9 3.1 8.1 5.2 12 .2 1 1.6 3 .2 1 .8 1 .1 1 .8 1.1 0 1.5-3-3.9-.5 1.3 1 1-.3 1 1.2 1-.2 1 1.1 1-1.3 1.4-1 0-1 1-1 0-1 1-1 0-1 1-1 0-1 1-1 0-1 1-1 0-1 1-1 0-1 1-1 0-1 1-1 0-1 1-1 0-1 1-1 0-1 1-1 0-1 1-1 0-1 1-1 0-1 1-1 0-1 1-1 0-1 1-1 0 0-127.4ZM592 134l0 1 1 1-.1 1 1.9 2 0 1 1 1 0 1 1 1 0 1 .9 1 0 1 2 2 0 1 1 1 0 1 1 1 0 1 .9 1-.1 1 1.9 2 0 1 1 1 0 1 1 1 0 1 1 1 0 1 2.1 2 0 1 1 1 0 1 1 1 0 1 1 1 0 1 2.3 2 0 1 1 1 0 1 1 1 0 1 .7 0 0-3 1-1 0-4 1-1 0-4 1-1 0-4 .5-.5 .5-1.5 0-3 .7-1 0-6 1-1-.2-7.5-1 1-1-.3-1 1-1.5-.2-.5-.5-3 0-1-1-3-.6-2-1-2 0-1-1-2 0-1-1-2 0-1-1-2 0-1-1-2 0-1-1-1 0ZM501 186l-.5 1 .5 .5 .7-.5ZM620.7 206l.3 .1 0-.3ZM619.4 207l.6 .2 0-.7Z" fill="#00ff45"/>
<path d="M471 84l159 0 0 148.1-2-2-1 0-8-8-1 0-4.1-4.1 0-1 1-1 0-1 2.8-3 0-1 1.9-2 0-1 2.6-3-.2-.9-10 8.2-.8-.3-.2-1.8 1-5.4 .9-2.8 1.2-2 1.9-1.4 1.5-1.6-39.5-63.2-7.3-10.8-.7-.4-2 2.4-1.8 3-1.3 3-1.7 6-1.9 9-.2 4 .4 2-.4 3 .3 1-.4 1.3-6 1.2-7 2.5-1 .3-3-.2-5-2-5-2.6-5-1.7-7-1.3-10-2.3-13-4.1-6-2.4-4-.4-.7 .7 .1 1 3.1 13 8 20 1.6 3 .3 2-.4 .1-1-1.4-.5 1.3 1.2 1-.6 1-.1 1 1.1 1 0 2-1.1 .1-1 1-1 0-1 1-1 0-1 1-1 0-1 1-1 0-1 1-1 0-1 1-1 0-2 2-1 0-1 1-1 0-1 1-1 0-1 1-1 0-1 1-1 0-1 1-1 0-1 1-1 0-1 1-1 0-1 1 0-122.1ZM588.9 129l.1 .1 .5-.1-.5-.5ZM589.9 130l0 1 1 1 0 1 .8 1 0 1 1 1-.1 1 2 2 0 1 1 1-.1 1 1.1 1-.1 1 1 1 0 1 2 2 0 1 1 1 0 1 1 1 0 1 .9 1 0 1 1.9 2 0 1 1 1 0 1 1 1 0 1 1 1 0 1 2 2 0 1 1 1 0 1 1.1 1 0 1 1 1 0 1 2.2 2 0 1 1 1 0 1 1 1 0 1 1.3 1 0 1 1.1 1.1 .3-.1 0-4 1-1 0-6 .9-1 0-9 1-2 .3-10 1-1 0-8-.5-.5-2 0-1-1-2 0-1-1-2 0-1-1-1 0-1-1-2 0-1-1-2 0-1-1-2 0-1-1-2 0-1-1-2 0-1-1-2 0-1-1-1 0-1-1-2 0ZM497.7 180l.3 .5 .5-.5-.5-.8ZM498.5 182l.5 .5 .7-.5-.7-1ZM502 184.3l0 .7 0 .3-.3-.3Z" fill="#01ff27"/>
<path d="M471 84l159 0 0 141.4-12.4-12.4 .3-2 2-2 0-1 2.7-3-.1-1 .9-1-.4-.6-8 6.4 .1-1.8 1.9-5 3.7-4 0-1-30.7-49.7-17-30.3-1-.4-5.5 7.4-1.8 3-1.2 3-2.6 9-1 7 0 3-.9 3-13 6.1-4-.3-11.4-4.8-19.6-4.6-4-1.2-6-2.1-10-5.1-5-1-.5 1 .1 1 2.2 9 5.1 14 3.6 9 .7 1 .1 1 .8 1-.1 1.6-1-1.5-.6 .9 1.3 1-.5 2 .4 1-.6 .6-1 0-1 1-1 0-1 1-1 0-1 1-1 0-1 1-1 0-1 1-1 0-1 1-1 0-1 1-1 0-1 1-1 0-1 1-1 0-1 1-1 0-1 1-1 0-1 1-1 0-1 1-1 0 0-110.6ZM583.9 120l1 1 0 1 1 1 0 1 .8 1-.1 1 1.1 1-.1 1 1.9 2 0 1 1 1 0 1 .9 1 0 1 1 1-.1 1 2 2 0 1 1 1 0 1 1 1 0 1 1 1 0 1 2 2 0 1 1 1 0 1 1 1 0 1 .9 1 0 1 2 2 0 1 1 1-.1 1 1.1 1 0 1 1 1 0 1 2 2 0 1 1 1 0 1 1 1 0 1 1 1 0 1 2.1 2 0 1 1 1 0 1 1 1 0 1 1.2 1 0 1 2.3 2 0 1 1 1 0 1 .5 0 0-15 .4-1 0-9 .1-1 .9-1 .1-10 1-1 0-7 3.2-3.9 1 0 1.1-1.1 .2-1-.3-.3-2 0-1-1-2 0-1-1-1 0-1-1-2 0-1-1-2 0-1-1-2 0-1-1-1 0-1-1-2 0-1-1-2 0-1-1-2 0-1-1-1 0-1-1-2 0-1-1-2 0-1-1-1 0-1-1-2 0-1-1-2 0-1-1-1 0ZM494.7 173l.3 .3 .3-.3-.3-.6ZM495.6 175l.4 .4 .5-.4-.5-.7ZM623.6 202l.4 .3 .3-.3-.3-.4Z" fill="#13ff1d"/>
<path d="M471 84l159 0 0 44.7-1-1-2 0-1-1-2 0-1-1-1 0-1-1-2 0-1-1-2 0-1-1-2 0-1-1-1 0-1-1-2 0-1-1-2 0-1-1-1 0-1-1-2 0-1-1-2 0-1-1-2 0-1-1-1 0-1-1-2 0-1-1-2 0-1-1-1 0-1-1-2 0-1-1-2 0-.4 .3 2.1 2-.1 1 1.1 1-.4 1 1 1 0 1 1 1-.1 1 2 2 0 1 1 1 0 1 1 1-.1 1 1 1 0 1 2 2 0 1 1 1 0 1 1 1 0 1 1 1 0 1 2 2 0 1 1 1 0 1 1 1 0 1 1 1-.1 1 2.1 2 0 1 1 1 0 1 1 1-.1 1 1.1 1-.1 1 2 2 0 1 1 1 0 1 1 1 0 1 1 1 0 1 2.1 2-.1 1 1 1 0 1 1.1 1-.1 1 1 1 0 1 2.1 2 0 1 1 1 0 1 1 1 0 1 1 1 0 1 2.1 2 0 1 1 1 0 1 1.2 1-.1 1 1.1 1-.1 1 2.1 2 0 1 .6 .6 .6-.6 0-53 .2-1 1.2-1.2 1 0 2-2.2 0 79.5-9-9 2-2.1-.1-1 2-2-.9-1.7-.5-.3 1.7-2-9.2-15.3-41-73.6-7 8.8-3.4 5.1-1.5 3-3.1 9-.9 4-.7 6-.8 2-.7 1-2.5 2-4.4 2.5-5 2.3-4-.1-10-3.8-10-2.8-12-2.8-5-1.6-5-2.3-4.3-2.4-6.7-4.2-5-1.1-.4 1.3 1.4 7 8.7 23 .6 1 .1 1 .8 1 0 1-.6 1 .4 .4 1.1-.4-.1 1-.9 1-.1 1 1.1 1-.1 1 1.1 1-1.1 .1-1 1-1 0-1 1-1 0-1 1-1 0-1 1-1 0-1 1-1 0-1 1-1 0-1 1-1 0-1 1-1 0-1 1-1 0-1 1-1 0-1 1-1 0-1 1-1 0-1 1 0-105.1ZM490.8 164l.2 .2 .2-.2-.2-.3ZM491.8 166l.2 .3 .3-.3-.3-.3ZM492.6 168l.4 .4 .4-.4-.4-.5ZM624.7 200l.3 .1 .1-.1-.1-.3ZM623 200.6l.2 .4-.6 0ZM622 201.7l.1 .3-.4 0ZM621 202.9l0 .1-.1 0Z" fill="#26ff13"/>
<path d="M471 84l104.6 0 0 4-1 1 0 9-1 1 0 6 .4 1-7.7 10-3.7 6-3.4 9-2.2 9.2-1.8 3.8-1.6 2-2.4 2-3.2 1.8-4 1.8-4 0-20-6.4-14-3.3-5-2.1-4-2.2-4-2.9-8-5.1-5-1.2-.3 .6 .1 1 1.2 6 5 14 2.5 6 .2 1 .3 0 .4 1-.5 1 1.1 .5 .2 .5-.5 1 1.4 1-.8 1-.2 1 1.2 1-.2 1 .3 1-.4 .4-1 0-1 1-1 0-1 1-1 0-1 1-1 0-1 1-1 0-1 1-1 0-1 1-1 0-1 1-1 0-1 1-1 0-1 1-1 0-1 1-1 0 0-93.4Z" fill="#38ff08"/>
<path d="M471 84l104 0 0 4-1 1 0 9-1 1 0 6-1-.8-.8 .8-6 8-3.6 6-2.5 6-3.4 11-1.4 3-1.8 3-1.8 2-2.7 2-3 1.6-3 .9-3-.1-19-6-14-3-8-3.8-8-6.1-8-5.1-5-1.2 .2 3.8 .8 3 6.4 18 0 1 .6 .7 .2 1.3 .7 1-.9 1.5-1 0-1 1-1 0-1 1-1 0-1 1-1 0-1 1-1 0-1 1-1 0-1 1-1 0-1 1-1 0 0-76.5Z" fill="#4cff00"/>
<path d="M471 84l100.5 0 0 4-1 1 0 4-1 1 0 4-1 1-.1 5-5 7-3.5 6-1.8 4-3.3 10-2.1 5-1.7 2.7-1.9 2.3-3.1 2.3-2 1.1-3 .9-4-.2-4.1-1.1-10.9-3.9-17-3.6-5.3-2.5-11.7-9-8-5.2-1 .1-4 1.9-.3 1.2 3.6 11 .1 1 .6 1 .5 3-.5 .5-1 0-1 1-2 0-1 1-1 0-1 1-1 0-1 1 0-35.5 1 1-.4 1 .3 2 1 2 0 2 1 1 0 2 1 1 .1 1.1 2-1.8 1-.3 2-2 0-1-4-4 0-1-5-5 0-22Z" fill="#66ff00"/>
<path d="M471 84l96.9 0 0 2-1 1 0 3-1 1 0 3-1 1 0 3-1 1 .1 2.4 1.6 1.6-3.6 5-3.4 6-2.2 5-3.4 9.3-3 6.6-2 2.6-3 2.5-3 1.5-2 .6-1 0-3-.1-4-1.1-7-2.7-5-1.5-11-1.8-6-1.7-2-1.1-11-8.6-7.8-5.5-1.2-.1-3 1.7-.5-.6 1.8-2 .3-1-4-4 0-1-5.6-5.6 0-21.4ZM470.2 109l0 3 .9 1 .1 3 1 1 0 2 1 1 0 1 .8 1-.7 1 .3 2-.6 .6-1 0-1 1-1 0 0-17.8ZM476 119.6l1 .1 .4 .3-1.4 .8-.4-.8ZM475 120.7l.7 .3-.7 .3-.4-.3Z" fill="#80ff00"/>
<path d="M471 84l96.3 0 0 2-1 1 0 3-1 1 0 3-1 1 0 3-1 1-.3 2.9-3 4.1-3.2 6-8.2 19-2.6 4-2 1.8-3 1.6-3 .5-3-.2-2-.5-6-2.4-6-1.9-5-1-8-.9-4-1.1-3-1.8-17-13-1 0-3 1.7-.4-.8 .4-.7 3.2-3.3-13.2-13.2 0-15.8ZM479 117.8l.7 .2-.7 .4-.2-.4ZM478 119ZM476 120l.2 0-.2 .1Z" fill="#9aff00"/>
<path d="M471 84l94.8 0 0 1-1 1 0 1-1 1 0 1-1 1 0 2-1 1 0 1-1 1 0 1-1 1 0 1-1 1-.2 1 .4 .6 1 .4-4.2 7-4.8 10.8-5.5 11.2-2.5 3.1-2 1.4-3 1.1-1 0-3-.5-10-3.4-5-1.2-13-1.7-7-4.4-13-9.8-1-.2-3 1.5-.4-.9 2-2-13.6-13.6 0-15.4ZM481 115.7l.9 .3-.9 .4-.3-.4ZM480 116.9l.2 .1-.2 .1Z" fill="#b2ff00"/>
<path d="M471 84l94.3 0 0 1-1 1 0 1-1 1 0 1-1 1 0 2-1 1 0 1-1 1 0 1-1 1 0 1-1.3 1.6-.9 .4-2.1 3.8-11 22-2.5 3.2-2.5 1.9-3 .7-4-.7-11-3.2-12.9-1.7-4.1-1.9-8-5.1-8-6-1-.3-2 .7-.7-.4 2.8-3-5-5 0-1-12.1-12.1 0-7.9ZM483 113.9l1-.2 .1 .3-1.1 .4Z" fill="#c9ff00"/>
<path d="M471 84l1 0 90.8 0-2 2 0 1-2 2 0 1-2 2 0 1-1 1 0 1-2 2-.5 1 1 1-.3 .8-11.8 22.2-2.2 2.8-2 1.6-3 .9-4-.5-11-2.5-9-1.2-10-4.5-8-5.1-3.4-2.5-.6-.2-2 .6-.2-.4 .8-1-5-5 0-1-12.6-12.6 0-7.4Z" fill="#dfff00"/>
<path d="M473 84l1 0 88.3 0-2 2 0 1-2 2 0 1-2 2 0 1-1 1 0 1-2.3 2.4-1.6 .6-.7 2-4.2 7-5.5 10.5-2 2.6-2.4 1.9-.6 .4-3 .6-19-2.9-8-3.1-7-3.2-8-4.9-2.6 .1 1.6-1.8 1 0 0-1.2-3-3 0-1-7-7 0-1-8-8 0-1-1-1Z" fill="#f5ff00"/>
<path d="M473 84l1 0 80.8 0-1 1 0 1-1 1 0 1-2 2 0 1-1 1 0 1-1 1 0 1-1.2 1 1 1-.4 1-4.5 7-3.9 8-2.4 3-2.4 1.9-3 .8-4-.3-11-1.5-6-2-8-3.4-7-3.2-3-1.8-1 .2-.4-.7-3-3 0-1-7-7 0-1-8-8 0-1-1-1Z" fill="#fff600"/>
<path d="M479 84l1 0 74.2 0-1 1 0 1-1 1 0 1-2 2 0 1-1 1 0 1-1 1 0 1-2.7 1-2.3 3-1.8 3-2.9 6-2.5 3.8-3 2.1-3 .6-8-.7-6-1.5-8-2.9-12.4-5.4 0-1-.3-1-9-9 0-1-8-8ZM544.7 95l.3 .6 .5-.6-.5-.5Z" fill="#ffe500"/>
<path d="M485 84l61.4 0 0 2-1 1 0 1-1 1 0 1-1 1 0 2-1.6 1-7.3 13-2.5 2.2-4 .9-4-.3-5-1-7-2.3-12-4.6-.9-.9 0-2-15-15Z" fill="#ffd400"/>
<path d="M485 84l56.6 0 0 1-1 1 0 1-1 1 0 1-1 1 0 2-5.6 9.1-3 3.3-3 .9-5-.5-5-1.2-7-2.3-8-3-1 .1-1 .8Z" fill="#ffc300"/>
<path d="M493 84l1 0 42.7 0-1 1 0 1-1 1 0 2-1 1 .5 1-.2 .6-3.1 4.4-2.9 2.9-4 1-4-.5-6-1.4-8-2.5-2 0-11.3-11.5Z" fill="#ffaf00"/>
<path d="M502 84l28.7 0 0 2-1 1-.1 3-1.6 1.8-3 2-3 .7-5-.6-8-2-1-.5-3.4-3.4 0-1-3-3Z" fill="#ff9b00"/>
<path d="M510 84l15.3 0 0 3-.3 .6-2 .8-3 .6-7-.6-1.1-.4 0-1-1-1 0-1Z" fill="#ff8600"/>
<path d="M607.8 273l-2.8-2.8-1 0-2-2-1 0-3-3-1 0-2-2-1 0-3-3-1 0-2-2-1 0-1.4-1.2-.3-2-2.3-3.3-3-3.6-7.1-7.1-12-13-5-5-4.9-3.3-5-1.4-9-.9-4 0-5 .7-2.4 .9-1.6 .7-.1 1.3 5.7 13 7.5 13 1.2 3-.3 .6-1-.7-3.1 3.1 0 1-10 10 0 1-8 8M630 248.7l-1-1-1 0-2-2-1 0-1-1-1 0-1-1-1 0-1-1-1 0-2-2-1 0-1-1-1 0-1-1-1 0-1-1-1 0-2-2-1 0-1-1-1 0-1-1-2 0-1.7 1.3-.1 1-.2 .2-.4-.2-.2-1-.4-.2-2 1.5-.4-.3 .2-3 .3-1-.1-.7-2-2.5-3.6-2.8-9.4-5.4-4.3-3.6-7.2-7-8.7-10-1.3-1-3.5-2.1-19-9.6-5-1.4-3-.2-18 1.7-4 1.3 0 .5 .5 .8 .4 2 2.2 6 4.6 11 5.8 17 2.5 8.1 1.3 2.9 1.8 3 .1 1 1.9 2-6.1 6 0 1-10 10 0 1-9 9 0 1-2 2M630 232.6l-2-2-1 0-8-8-1 0-4.6-4.6 .3-1 1-1 0-1 2.7-3 0-1 1.9-2-.3-1.3-9 7.3-1-.9-2-7.1 1.1-5 1.7-3 2.6-2-.3-1-33.1-51.7-1-1.3-10.1-9-.9-1.9-.2 1.9-.8 2.3-1 4-1.3 6.7-.4 4 .6 8-.3 3 .2 2-.8 1.6-6-.6-3 0-5 .9-3-.4-5-2-9-4.5-2-.7-5-1.1-7-.6-4-1-13-4-4-.6-5 .6 0 4.4 .9 5 .7 2 1.8 5 7.2 17 .6 1 .2 1 .7 1 .2 1 .8 1 .1 1 .8 1 .2 2-.2 .1-2-2.4-.5 1.3 1.2 1-.7 1 0 1 1 1 0 1 1 1-1 0-1 1-1 0-1 1-1 0-1 1-1 0-1 1-1 0-1 1-1 0-1 1-1 0-1 1-1 0-1 1-1 0-1 1-1 0-1 1-1 0-1 1-1 0-1 1-1 0-1 1-1 0-1 1-1 0-1 1-1 0-1 1-1 0-1 1-1 0-1 1M593 136.9l1.9 2.1 0 1 1 1 0 1 1 1 0 1 .9 1 0 1 2 2 0 1 1 1 0 1 1 1 0 1 .9 1-.1 1 1.9 2-.1 1 1.1 1-.1 1 1.1 1 0 1 1 1 0 1 2.1 2 0 1 1 1 0 1 1 1 0 1 1 1 0 1 2.4 2-.1 1 1.1 1-.1 1 1.1 1-.1 1 .3 0 0-3 1-1 0-4 1-1 0-4 1-1 0-4 .9-1 .1-4 .9-1 0-6 1-1-.1-7.1-1 1-1-.6-1 1-1 0-1-.5-3 0-1-1-3-.1-.7-.7-1.3-.3-3 0-1-1-3 0-1-1-3 0-1-.8-2-.2-1-.8-1 0M501 186.5l-.2 .5 .2 .2 .3-.2-.3-.5M502 188.4l-.2 .6 .2 .4 .5-.4-.5-.6M503 190.2l-.4 .8 .4 .4 .7-.4-.7-.8M507 194.8l0 .2 0 .2-.1-.2 .1-.2M620 206.9l-.1 .1 .1 0 0-.1M565.7 84l0 1-1 1 0 1-1 1 0 1-1 1 0 2-1 1 0 1-1 1 0 1-1 1 0 1-1 1-.2 1 .5 .7 .6 .3-1.4 2-2.7 5-8.5 18.4-2 3.6-2 2.4-3 2.1-2 .6-1 .1-3-.5-10-3.4-5-1.2-13-1.6-8-5.2-12-9.1-1 .1-3 1.5-.3-.8 2-2-13.7-13.7M481 115.8l.7 .2-.7 .3-.2-.3 .2-.2M536.9 84l-1 1 0 1-1 1 0 2-1 1 .9 1 0 1-1.8 2.7-2 2.8-2.7 2.5-3.3 1-5-.6-5-1.2-11-3.4-.5-.8-11-11" fill="none" stroke="rgba(55,55,55,0.5)" stroke-width="0.8"/>
<path d="M473 122.5l2 4.6 2 4.7 2 4.6 2 4.7 2 4.6 2.1 4.6 2.3 4.6 2.2 4.5 2.3 4.5 2.2 4.6 2.3 4.5 2.3 4.5 2.2 4.5 2.3 4.6 2.2 4.5 2.3 4.5 2.3 4.5 2.3 4.5 1.7 4.8 1.5 4.8 1.4 4.9 1.5 4.8 1.4 4.9 1.5 4.8 2.6 4.1 3.7 3.4 3.8 3.4 3.7 3.4 3.8 3.4 3.8 3.4 3.9 3.2 3.9 3.2 3.9 3.2 4.2 2.7 4.4 2.6M476.9 121l2.3 4.4 2.4 4.4 2.4 4.4 2.3 4.4 2.4 4.4 2.3 4.4 2.3 4.5 1.8 4.7 1.8 4.7 1.8 4.6 2.1 4.6 2.1 4.6 2 4.6 2 4.6 2.1 4.5 2.1 4.6 2.1 4.5 2.2 4.5 2.3 4.5 2.3 4.4 2.3 4.5 2.6 4.3 2.5 4.4 2.4 4.3 2.7 4.2 3 4.1 3 4 3 4 3 4.1 3.4 3.6 3.5 3.6 3.5 3.6 3.4 3.7 4 2.9 3.9 3M484.9 114.4l2.5 4.4 2.4 4.4 2.5 4.4 2.4 4.4 2.4 4.4 2.4 4.4 2.3 4.5 1.9 4.7 1.9 4.8 2 4.6 2.1 4.6 2.1 4.6 2 4.7 2 4.7 2 4.6 2.1 4.6 2.1 4.6 2.1 4.6 2.3 4.5 2.5 4.4 2.4 4.5 2.5 4.4 2.4 4.5 2.3 4.4 2.3 4.6 2.4 4.4 2.5 4.5 2.4 4.5 2.5 4.5 2.7 4.2 2.8 4.1 2.8 4.2 2.7 4.1 3.1 3.7 2.9 3.7M493.9 105.9l2.3 4.6 2.3 4.6 2.3 4.6 2.4 4.6 2.3 4.6 2.2 4.6 2.3 4.7 2.2 4.6 2.2 4.7 2.3 4.6 2.2 4.6 2.2 4.7 2.1 4.7 2.1 4.7 2.2 4.7 2.1 4.7 2.1 4.6 2.1 4.8 1.9 4.7 2 4.8 2 4.7 2 4.8 1.9 4.8 1.9 4.7 2 4.8 2 4.7 2.1 4.7 2.2 4.7 2.1 4.7 2.2 4.7 2.2 4.6 2.3 4.6 2.2 4.6 2.1 4.7 2 4.7M502.7 97.5l2.3 4.7 2.3 4.7 2.2 4.7 2.3 4.7 2.2 4.7 2.1 4.8 2.1 4.7 2.2 4.8 2.1 4.8 2.1 4.8 2.2 4.9 2.1 4.9 2.1 4.9 2.1 4.8 2.1 4.9 2.1 4.8 2 4.9 1.9 4.9 1.9 4.9 1.8 5 1.9 4.9 1.8 4.9 1.8 4.9 1.9 4.9 1.8 4.9 1.9 4.9 2 4.8 2 4.9 1.9 4.8 1.9 4.9 2 4.9 2.1 4.9 2.1 4.8 1.5 5.2 1.3 5.4M512 89.6l2.2 4.8 2.2 4.7 2.2 4.8 2.2 4.8 2 4.9 1.9 4.9 1.8 4.9 1.9 4.9 1.9 4.9 1.9 5.2 2 5.1 2 5 2 5.1 2 5 2 5 2 5 1.9 5 1.8 5.1 1.8 5 1.7 5.1 1.8 5 1.7 5 1.8 5 1.9 4.9 1.9 5 1.9 4.9 1.9 4.9 1.9 4.9 2 4.9 1.9 4.9 2 4.9 2.2 4.8 2.2 4.8 1.6 5 1.2 5.2M521.6 87.3l2 4.8 2 4.8 2 4.8 2 4.8 1.7 4.9 1.7 4.9 1.6 4.9 1.7 5 1.6 4.9 1.7 4.8 1.8 4.8 1.8 4.7 1.8 4.8 1.8 4.8 1.7 4.8 1.8 4.8 1.6 4.9 1.7 4.8 1.7 4.9 1.7 4.8 1.7 4.9 1.7 4.8 1.8 4.9 2 4.8 2 4.8 1.9 4.8 2 4.8 2 4.9 1.9 4.8 2 4.8 2 4.8 2.4 4.7 2.3 4.6 1.6 4.9 1.3 5.1M530.9 89.6l1.7 4.5 1.7 4.6 1.7 4.5 1.7 4.6 1.5 4.6 1.5 4.6 1.5 4.7 1.5 4.7 1.5 4.7 1.5 4.4 1.6 4.3 1.5 4.3 1.5 4.3 1.3 4.4 1.4 4.3 1.4 4.4 1.3 4.4 1.4 4.4 1.7 4.3 1.7 4.3 1.7 4.4 1.7 4.3 2 4.4 2.1 4.5 2 4.4 2.1 4.5 2 4.5 2 4.5 2 4.5 2 4.5 2.1 4.4 2.3 4.3 2.3 4.4 1.7 4.5 1.4 4.7M541.1 93.7l1.2 4.1 1.3 4.2 1.2 4.1 1.3 4.1 1.2 4.2 1.2 4.2 1.2 4.2 1.3 4.2 1.2 4.2 1.3 4.1 1.2 4 1.2 4 1 4.1 1 4.1 1 4 1 4.1 1 4.1 1.3 4 1.7 3.8 1.6 3.9 1.7 3.8 1.8 3.8 2.2 3.8 2.2 3.8 2.2 3.7 2.2 3.8 2.2 3.8 2.1 3.8 2.2 3.8 2.2 3.8 2.2 3.7 2.4 3.7 2.3 3.7 2 3.8 1.6 4M551.9 99.3l.8 3.9 .7 3.8 .7 3.8 .7 3.8 .7 3.9 .7 3.8 .8 3.7 .7 3.8 .7 3.7 .7 3.9 .7 3.8 .6 3.9 .7 3.8 .9 3.9 .9 3.8 .9 3.8 .9 3.9 .9 3.8 1.6 3.6 1.7 3.6 1.6 3.6 1.7 3.6 2.4 2.9 2.5 2.9 2.5 2.9 2.4 3 2.7 2.8 2.6 2.7 2.7 2.7 2.7 2.7 2.6 2.8 2.7 2.8 2.6 2.8 2.3 3.2 2.2 3.4M563.7 104.4l-.1 3.7-.1 3.6-.1 3.7-.2 3.6-.1 3.7 0 3.6-.1 3.7 .1 3.7 0 3.7 0 3.6 .2 3.7 .4 3.7 .5 3.6 .9 3.6 .9 3.6 .9 3.6 1 3.5 1 3.5 1.5 3.3 1.7 3.3 1.8 3.2 1.8 3.1 2.7 2.5 2.8 2.5 2.8 2.4 2.9 2.1 3.1 1.9 3.3 1.8 3.3 1.7 3.3 1.7 3.2 1.7 3.2 1.8 3.3 1.7 2.8 2 2.9 2.1M576 106.4l-1.3 3.5-1.3 3.6-1.3 3.5-1.3 3.6-1.2 3.5-1.3 3.6-1 3.6-.6 3.7-.7 3.7-.6 3.8-.1 3.7 .8 3.7 .8 3.7 .8 3.6 .8 3.7 .8 3.7 1.5 3.5 1.6 3.3 1.7 3.4 1.7 3.4 2.8 2.5 2.9 2.4 2.9 2.4 2.9 2.4 3.1 2.1 3.5 1.2 3.6 1.3 3.6 1.2 3.5 1.3 3.6 1 3.7 .8 3.7 .7 3.8 .5 3.7 .1 3.8 0M473 122.5l1.4-.4 1.6-.6 3.2-2 3.6-3.1 3.8-3.7 4-3.9 4-3.5 3.8-3.5 3.9-3.9 4-4 4.2-3.4 4.2-2.5 4.3-.9 4 .3 4.1 1 4.2 1.3 4.4 1.7 4.5 1.9 4.8 2 4.7 2.6 5 3.2 5.3 2.4 5 1.3 5.4 1 5.6 .6M476.9 131.5l1.8-.6 1.8-.8 3.5-2.2 3.6-3 3.8-3.6 3.8-3.6 3.9-3.4 3.8-3.4 3.9-3.9 3.9-3.9 4.1-3.4 4.1-2.3 4.1-.9 3.8 .2 3.9 .7 3.9 1.1 4 1.4 4.1 1.5 4.4 1.7 4.2 2.3 4.5 3 4.6 2.3 4.2 1.2 4.4 .9 4.5 .5M480.8 140.6l2.1-.8 2.2-1 3.7-2.4 3.6-3.1 3.7-3.4 3.7-3.4 3.8-3.3 3.8-3.3 3.8-3.8 3.9-3.8 4-3.3 4-2.3 4-.9 3.6 .2 3.5 .5 3.6 .8 3.7 1.1 3.7 1.1 3.9 1.4 3.8 2 4 2.9 3.9 2.1 3.4 1 3.4 .9 3.3 .4M484.8 149.6l2.4-1 2.4-1.2 3.9-2.6 3.7-2.9 3.5-3.3 3.6-3.3 3.7-3.1 3.7-3.2 3.7-3.7 3.8-3.6 3.8-3.2 3.8-2.2 3.7-.9 3.5 .1 3.4 .3 3.4 .5 3.4 .7 3.4 .7 3.6 .9 3.3 1.8 3.5 2.7 3.2 1.9 2.6 1 2.4 .7 2.3 .4M489.1 158.4l2.3-1 2.2-1.2 3.9-2.5 3.8-2.9 3.7-3.3 3.7-3.2 3.7-3.1 3.6-3.1 3.6-3.5 3.5-3.5 3.6-3.1 3.6-2.1 3.6-.8 3.2 0 3.3 .1 3.3 .2 3.2 .2 3.2 .4 3.2 .4 2.9 1.4 2.9 2.5 2.5 1.9 2 .9 1.7 .7 1.5 .4M493.5 167.2l1.8-.9 1.9-1 3.7-2.4 3.9-3 4.1-3.3 4-3.3 3.8-3 3.6-3.1 3.4-3.3 3.4-3.3 3.4-2.9 3.3-2.1 3.4-.9 3.1-.2 3.1-.1 3.2-.1 3.1-.1 2.9 0 2.8-.1 2.5 1.2 2.3 2.2 1.9 1.9 1.4 .9 1.2 .7 .9 .4M497.9 176l1.6-.8 1.7-1 3.6-2.4 4-2.9 4.2-3.3 4.2-3.3 3.8-3 3.5-2.9 3.4-3.1 3.3-3 3.2-2.7 3.2-2.1 3.2-1.3 2.9-.6 2.9-.5 3-.5 2.8-.4 2.7-.2 2.3-.1 2 1 1.8 2 1.5 1.6 1.2 .9 1 .7 .9 .5M502.3 184.8l1.3-.8 1.6-.9 3.4-2.3 4-2.9 4.4-3.2 4.3-3.3 3.9-3 3.4-2.7 3.4-2.9 3.2-2.8 3.1-2.6 3.1-2.1 3-1.5 2.6-1 2.7-1 2.6-.8 2.5-.6 2.4-.5 2.1-.1 1.6 .7 1.6 1.7 1.4 1.4 1.2 .8 1.2 .8 1 .6M506.7 193.6l1.2-.7 1.3-.9 3.3-2.3 4.1-2.8 4.4-3.2 4.4-3.2 4-2.9 3.4-2.7 3.3-2.7 3.1-2.6 3.1-2.4 2.9-2.2 2.8-1.7 2.4-1.3 2.3-1.3 2.3-1.2 2.1-1 2-.7 2-.2 1.6 .6 1.5 1.2 1.4 1.2 1.2 .8 1.1 .8 1 .8M511.1 202.4l1.1-.7 1.2-.9 3.2-2.2 4-2.8 4.5-3.1 4.4-3.2 4-2.8 3.3-2.5 3.2-2.5 3.1-2.5 2.9-2.3 2.8-2.1 2.6-1.9 2.2-1.6 2-1.7 2-1.6 1.8-1.3 1.8-1 1.8-.3 1.5 .4 1.4 .8 1.5 .9 1.4 .7 1.4 .8 1.4 .7M514.7 211.5l1.4-.9 1.7-1.1 3.4-2.3 4-2.7 4.2-3 4.2-2.8 3.7-2.7 3.2-2.4 3.1-2.4 3-2.3 2.9-2.2 2.7-2.1 2.5-2 2.1-2 2-2.2 2-2 1.8-1.8 1.7-1.3 1.7-.5 1.4 .3 1.3 .5 1.4 .6 1.4 .6 1.6 .7 1.8 .8M517.5 220.9l2.4-1.3 2.3-1.4 4-2.6 4-2.6 3.8-2.7 3.6-2.6 3.5-2.5 3.1-2.2 3-2.2 2.9-2.2 2.8-2.1 2.6-2.1 2.5-2.2 2.1-2.3 2-2.6 1.9-2.6 1.8-2.3 1.8-1.6 1.7-.6 1.3 0 1.2 .2 1.5 .2 1.8 .2 2.1 .4 2.5 .4M520.3 230.4l3.6-2 3.1-1.7 4.4-2.8 3.7-2.5 3.4-2.3 3.2-2.3 3.1-2.3 3.1-2.1 2.9-2.1 2.8-2 2.8-2.1 2.6-2.1 2.5-2.3 2.2-2.5 2.1-3 2-3.1 1.9-2.8 1.9-2.1 1.8-1.2 1.4-.5 1.4-.4 1.6-.2 2.1 0 2.5 .1 2.9 .2M524.9 238.7l4-2.1 3.3-1.7 4.2-2.6 3.5-2.3 2.9-2 2.8-2 3-2.2 2.9-2 2.9-2 2.9-1.9 2.7-2.1 2.7-2.1 2.6-2.5 2.2-2.6 2.2-3.3 2.1-3.4 2-3.3 2-2.9 2-1.9 1.7-1.3 1.7-1 1.9-.6 2.3-.3 2.8-.2 3.2-.1M532.2 245.3l3.3-1.4 2.7-1.3 3.6-2.1 3-1.9 2.6-1.8 2.5-1.8 2.7-2 2.8-1.9 2.8-1.8 2.8-1.9 2.8-2 2.7-2.2 2.6-2.5 2.3-2.8 2.2-3.5 2.1-3.9 2.2-3.8 2.2-3.5 2.2-2.8 2-2 2.1-1.7 2.4-1.5 2.7-1 3.2-.8 3.6-.6M539.5 251.9l2.6-.9 2.2-.8 3-1.5 2.5-1.6 2.2-1.5 2.3-1.7 2.4-1.7 2.6-1.8 2.7-1.7 2.7-1.8 2.8-2 2.7-2.2 2.7-2.5 2.3-3 2.2-3.7 2.2-4.2 2.3-4.4 2.3-4.1 2.6-3.7 2.4-3 2.7-2.8 3-2.2 3.1-1.6 3.4-1.4 3.8-1M547 258.2l2.2-.5 1.9-.6 2.4-1 1.9-1.1 1.8-1.1 1.7-1.3 2-1.3 2.4-1.5 2.5-1.6 2.7-1.8 2.8-1.9 2.8-2.3 2.7-2.6 2.3-3.1 2.3-4 2.2-4.6 2.4-4.9 2.5-4.8 2.8-4.4 2.8-3.9 3.3-3.7 3.5-3.3 3.5-2.3 3.8-2.1 4.1-1.6M554.6 264.5l1.9-.3 1.5-.2 1.8-.6 1.4-.6 1.1-.7 1.3-.8 1.6-1 2.1-1.1 2.5-1.5 2.8-1.8 3-2.1 2.9-2.4 2.8-2.7 2.3-3.2 2.3-4.3 2.2-4.9 2.3-5.4 2.6-5.4 2.9-5.1 3.2-4.6 3.7-4.6 4.1-4.2 3.9-3.3 4.2-3 4.6-2.7M563 269.6l1.8 0 1.2 0 .9 0 .5 0 .4 0 .5 0 .7 0 1.4-.4 2.1-1.2 2.7-1.8 3-2.3 3.1-2.6 2.8-2.8 2.4-3.3 2.3-4.6 2.3-5.4 2.5-6 2.8-6 3.2-5.7 3.5-5.1 4.3-5.2 4.6-5.2 4.5-4.6 5-4.7 5.4-4.6" fill="none" stroke="rgba(95,95,95,0.45)" stroke-width="0.5"/>
</g></g>
<g transform="translate(0 0)">
<clipPath id="c7"><path d="M401.2 62.8l3.8 6.2 3.9 6.3 3.9 6.2 3.9 6.2 3.8 6.2 3.5 6.4 3.5 6.4 3.6 6.4 3.9 6.2 3.9 6.2 3.8 6.3 3.5 6.4 3.6 6.4 3.6 6.3 3.9 6.3 3.9 6.2 4 6 4.5 5.9 4.4 5.8 4.5 5.8 4.9 5.3 5.2 5.2 5.2 5.2 5.2 5.2 5.1 5.1 5.2 5.2 4.8 5.5 3.9 6.2 3.9 6.2-2.3-7.5-2.2-7.5-2.3-7.5-2.3-7.5-3.5-7-3.5-7-3.5-7-3.5-7.1-3.5-7-3.5-7-3.5-7-3.5-7-3.2-7.2-3.1-7.2-3.1-7.2-3.2-7.1-3.8-6.9-3.7-6.9-3.8-6.9-3.8-6.8-3.8-6.9-3.6-7-3.5-7-3.5-7-3.5-7-3.7-6.9-3.7-6.9-5.6-5-6.9-3.8-3 4.4-3.1 4.5-3 4.4-3 4.4-3.1 4.5-3 4.4Z"/></clipPath>
<g clip-path="url(#c7)" fill-rule="evenodd">
<rect x="398" y="33" width="127" height="206" fill="#00ff3c"/>
<path d="M399 33l126 0 0 198.9-3 0-.3 2.1-.7 .7-1-.9-1 .1-1 1-1 0-2 2-1 0-1 1-1 0-1.1 1.1-112.9 0 0-206Z" fill="#01ff27"/>
<path d="M399 33l126 0 0 198.3-3 0-1 1.4-2 .9-1 1-1 0-2 2-1 0-1 1-1 0-1.4 1.4-112.6 0 0-206Z" fill="#13ff1d"/>
<path d="M399 33l126 0 0 189.6-1 1-2 0-1 1-2 .1-.5 .3 .4 1 0 4-1.3 1 1.8 2-1.4 1.2-1 0-2 2-1 0-1 1-1 0-1.8 1.8-112.2 0 0-206ZM516.9 230l.1 .1 .1-.1-.1-.1ZM521 232Z" fill="#26ff13"/>
<path d="M399 33l126 0 0 189-1 1-2 0-1 1-2 .2-.6-.2 .5-1-.9-.9-.4 .9 0 5-.6 .6-2-1.3-.2 .7-.8 .9-1 0-1 1-1 0-2 2-1 0-2 2-1 0-1 1-1 0-2 2-1 0-2 2-100 .1 0-206Z" fill="#38ff08"/>
<path d="M399 33l126 0 0 181.4-1 0-1 1-2 0-1 1-2 0-1 1.1-1 .2 0 8.6-2-.9-.2 .6 .9 1-.2 1-.5 .5-1 0-1 1-1 0-2 2-1 0-2 2-1 0-1 1-1 0-2 2-1 0-2 2-1 0-.5 .5-98.5 0 0-206ZM512.9 225l.1 .1 .4-.1-.4-.2Z" fill="#4cff00"/>
<path d="M399 33l126 0 0 173.8-2 0-1 1-2 0-1 1-2 0-1 1-1.4 .2-.5 9 .6 4-.7 1-4-2.5-.2 .5 .6 1 3.8 4-.1 1-1.1 .1-1 1-1 0-2 2-1 0-2 2-1 0-1 1-1 0-2 2-1 0-2 2-1 0-.9 .9-98.1 0 0-206ZM508 220l.1 0-.1-.1ZM508.9 221l.1 .1 .4-.1-.4-.3ZM517 216.8l0 .2-.1 0Z" fill="#66ff00"/>
<path d="M399 33l126 0 0 173.2-2 0-1 1-2 0-1 1-2 0-1 1-2 .4-.9-.6-.1-.7-.8 4.7 0 6 .3 2-.5 .4-5-3.2-.4 .8 2.9 3 .2 1-2.7 2.7-1 0-7 7-1 0-6.3 6.3-93.7 0 0-206Z" fill="#80ff00"/>
<path d="M399 33l126 0 0 162.4-1 1-1 0-1 1-1 0-1 1-1 0-1 1-1 0-1 1-1 0-1 1-1 0-1 1-1 .2-.3 .4-1.1 10 .4 5.1-1 .1-3-1.8-.2 .6 .4 1-.1 1 3 3 0 1-2.1 2.1-1 0-7 7-1 0-6.9 6.9-93.1 0 0-206ZM503.9 215l.1 .1 .2-.1-.2-.1ZM504.8 216l.2 .2 .5-.2-.5-.4Z" fill="#9aff00"/>
<path d="M399 33l126 0 0 153.6-1 1-1 0-1 1-1 0-1 1-1 0-1 1-1 0-1 1-1 0-1 1-1 0-1 1-1 0-1 1-1 0-.4 .4-.8 3-.7 8-.2 8-.4 1-.5 0-1-.6-4-2.9 0 .9 4.3 4.6-21.8 22-85.5 0 0-206ZM499.9 211l.1 .1 .3-.1-.3-.3Z" fill="#b2ff00"/>
<path d="M399 33l126 0 0 145.8-1 0-1 1-1 0-1 1-1 0-1 1-1 0-1 1-1 0-1 1-1 0-1 1-1 0-1 1-1 0-1 1-1 0-1 1-1 0-1.4 1.2 1 1-.5 1 .4 1-.5 .2-.8 5.8-.8 13-.4 .6-1-.4-2-1.4-.5 1.2 1 1-.5 .8-26.2 26.2-75.8 0 0-206Z" fill="#c9ff00"/>
<path d="M399 33l126 0 0 136.8-1 0-1 1-1 0-1 1-1 0-1 1-1 0-1 1-1 0-1 1-1 0-1 1-1 0-1 1-1 0-1 1-1 0-1 1-1 0-1 1-1 0-1 1-1.2 .2-.4 2 1.3 1-1.2 1-1.4 15-.1 7.7-1 .3-3-2.3-.2 .3 .5 1 2.9 3-.1 1 1 1-26.9 27-75.2 0 0-206ZM494.9 205l.1 .1 .2-.1-.2-.1ZM503 185.8l.2 .2-.5 0Z" fill="#dfff00"/>
<path d="M399 33l126 0 0 127.5-1 1-1 0-1 1-1 0-1 1-1 0-1 1-1 0-1 1-1 0-1 1-1 0-1 1-1 0-1 1-1 0-1 1-1 0-1 1-1 0-1 1-1 0-1 1-1 0-1 1-1 0-.5 .5 .4 1-.4 1 1.3 1-.5 1 .7 .2 .8 .8-.8 1-1.5-2-.5-1.3-.8 .3-1.2 26-1 .8-3-2.3-.6 .5 3.9 4-32.9 33-64.4 0 0-206Z" fill="#f5ff00"/>
<path d="M399 33l126 0 0 118.5-1 1-1 0-1 1-1 0-1 1-1 0-1 1-1 0-1 1-1 0-1 1-1 0-1 1-1 0-1 1-1 0-1 1-1 0-1 1-1 0-1 1-1 0-1 1-1 0-1 1-1 0-1 1-1 0-1 1-1 0-.6 1.5 .6 .2 .8 .8-.7 1 .9 .2 .8 .8-.8 .9-2-3.2-.5 .3-.8 5-1.1 25-.6 .4-.5 1.6-38 38-54.5 0 0-206ZM497 172.2l.8 .8-.8 .8-.7-.8ZM498 174.3l.5 .7-.5 .7-.6-.7ZM499 176.6l.4 .4-.4 .5-.4-.5ZM500 178.7l.3 .3-.3 .4-.3-.4Z" fill="#fff600"/>
<path d="M399 33l126 0 0 110.8-1 0-1 1-1 0-1 1-1 0-1 1-1 0-1 1-1 0-1 1-1 0-1 1-1 0-1 1-1 0-1 1-1 0-1 1-1 0-1 1-1 0-1 1-1 0-1 1-2 0-1 1-1 0-1 1-1 0-1 1-1 0-1 1-1.3 .2 1.2 1-.4 1 1.4 1-.9 1-1-.5-.2 .5-2.5 12-.4 2-.9 16-1 .6-44.3 44.4-43.7 0 0-206ZM485 194ZM493 164.1l.9 .9-.9 .9-.8-.9ZM494 166.1l.5 .9-.5 .7-.7-.7ZM495 168.5l.5 .5-.5 .6-.6-.6ZM496 170.6l.4 .4-.4 .5-.4-.5ZM497 172.7l.3 .3-.3 .3-.3-.3ZM498 174.8l.1 .2-.1 .2-.1-.2Z" fill="#ffe500"/>
<path d="M399 33l126 0 0 110.3-1 0-1 1-1 0-1 1-1 0-1 1-1 0-1 1-1 0-1 1-1 0-1 1-1 0-1 1-1 0-1 1-1 0-1 1-1 0-1 1-1 0-1 1-1 0-1 1-2 0-1 1-1 0-1 1-1 0-1 1-1 0-1 1-1 0-1.6 .7-2.6 6-1.5 5-2.3 12-.5 7-.5 .3-1-.7-8 8.2-1 0-12 12-1 0-12 12-1 0-12 12-1 0-5.2 5.2-29.8 0 0-206ZM491 160.4l.6 .6-.6 .7-.8-.7ZM492 162.5l.5 .5-.5 .6-.6-.6ZM493 164.5l.5 .5-.5 .5-.5-.5ZM494 166.6l.2 .4-.2 .3-.3-.3ZM495 168.8l.2 .2-.2 .2-.2-.2ZM496 171Z" fill="#ffd400"/>
<path d="M399 33l126 0 0 101.9-1 0-1 1-1 0-1 1-1 0-1 1-1 0-1 1-1 0-1 1-1 0-1 1-1 0-1 1-1 0-1 1-1 0-1 1-1 0-1 1-1 0-1 1-1 0-1 1-1 0-1 1-1 0-1 1-1 0-1 1-1 0-1 1-1 0-1 1-1 0-1 1-1 0-.1 .1 1 1-.1 1-.7 1 .9 .2 .8 .8-.8 .7-.9-.7-.1-.9-.7 .9-3.1 7-2.9 8-2.8 14-.5 .7-.7-.7 0-1-.3-.1-1 .1-1 1-1 0-3 3-1 0-3 3-1 0-3 3-1 0-4 4-1 0-3 3-1 0-3 3-1 0-3 3-1 0-4 4-1 0-3 3-1 0-3 3-1 0-3 3-1 0-4 4-1 0-3 3-1 0-3 3-1 0-3 3-1 0-4 4-1 0-1 1-7 0 0-206ZM490 158.2l.8 .8-.8 .5-.6-.5ZM491 160.8l.2 .2-.2 .3-.4-.3ZM492 162.8l.2 .2-.2 .2-.2-.2ZM493 164.9l.1 .1-.1 .1-.1-.1Z" fill="#ffc300"/>
<path d="M399 33l126 0 0 101.4-1 0-1 1-1 0-1 1-1 0-1 1-1 0-1 1-1 0-1 1-1 0-1 1-1 0-1 1-1 0-1 1-1 0-1 1-1 0-1 1-1 0-1 1-1 0-1 1-1 0-1 1-1 0-1 1-1 0-1 1-1 0-1 1-1 0-1 1-1 0-1 1-1 0-.6 .6 1.3 1-.7 1.3-.4-.3-.6-1.4-1-.8-4.9 10.2-4.1 11-1.7 8 .3 1 .8 1-1.4 1.2-1 0-3 3-1 0-3 3-1 0-3 3-1 0-4 4-1 0-3 3-1 0-3 3-1 0-3 3-1 0-4 4-1 0-3 3-1 0-3 3-1 0-3 3-1 0-4 4-1 0-3 3-1 0-3 3-1 0-3 3-1 0-4 4-1 0-1.8 1.8-6.2 0 0-206ZM489 156.8l.2 .2-.2 .1-.2-.1Z" fill="#ffaf00"/>
<path d="M399 33l126 0 0 94.9-1 1-1 0-1 1-1 0-1 1-2 0-1 1-1 0-1 1-1 0-1 1-1 0-1 1-2 0-1 1-1 0-1 1-1 0-1 1-1 0-1 1-2 0-1 1-1 0-1 1-1 0-1 1-1 0-1 1-2 0-1 1-1 0-1 1-1 0-1 1-1 0-.2 1.1 1.1 1-.3 1 1.3 1-.7 1 .8 .1 .9 .9-.9 .9-2-3.3-1.1 .4-3.9 7-3.7 8-2.5 7-1.7 6-1.1 .5-3 3-1 0-3 3-1 0-4 4-1 0-3 3-1 0-3 3-1 0-3 3-1 0-4 4-1 0-3 3-1 0-3 3-1 0-3 3-1 0-4 4-1 0-3 3-1 0-3 3-1 0-4 4-1 0-3 3-1 0-3 3-1 0-3 3-1 0-1 1 0-201.5ZM488 153.6l.4 .4-.4 .7-.5-.7Z" fill="#ff9b00"/>
<path d="M399 33l126 0 0 94.5-1 1-1 0-1 1-1 0-1 1-2 0-1 1-1 0-1 1-1 0-1 1-1 0-1 1-2 0-1 1-1 0-1 1-1 0-1 1-1 0-1 1-2 0-1 1-1 0-1 1-1 0-1 1-1 0-1 1-2 0-1 1-1 0-1 1-1 0-1 1-1 0-1 1.5-1-.6-3.9 5.6-4.5 8-3.3 7-2.3 6.5-1 0-1-.7-2 2-1 0-4 4-1 0-3 3-1 0-3 3-1 0-4 4-1 0-3 3-1 0-3 3-1 0-3 3-1 0-4 4-1 0-3 3-1 0-3 3-1 0-3 3-1 0-4 4-1 0-3 3-1 0-3 3-1 0-3 3-1 0-2 2 0-192.8ZM485 147.4l.6 .6-.6 .7-.7-.7ZM486 149.5l.5 .5-.5 .6-.5-.6ZM487 151.6l.4 .4-.4 .4-.3-.4ZM488 153.9l.1 .1-.1 .2-.1-.2Z" fill="#ff8600"/>
<path d="M399 33l126 0 0 94.1-1 1-1 0-1 1-1 0-1 1-2 0-1 1-1 0-1 1-1 0-1 1-1 0-1 1-2 0-1 1-1 0-1 1-1 0-1 1-1 0-1 1-2 0-1 1-1 0-1 1-1 0-1 1-1 0-1 1-2 0-1 1-1 0-1 1-1 0-1 1-1 0-1 1.4-.5-.5 .3-1-1.7-1-.1-.6-.8 .6-7.3 10-4.8 8-3.5 8 1.6 2-2.2 2.1-1 0-4 4-1 0-3 3-1 0-3 3-1 0-4 4-1 0-3 3-1 0-3 3-1 0-3 3-1 0-4 4-1 0-3 3-1 0-3 3-1 0-3 3-1 0-4 4-1 0-3 3-1 0-3 3-1 0-3 3-1 0-2 2 0-192.1ZM485 147.8l.2 .2-.2 .3-.3-.3ZM486 149.9l.1 .1-.1 .1-.1-.1Z" fill="#ff7100"/>
<path d="M399 33l126 0 0 86.6-1 1-1 0-1 1-2 0-1 1-1 0-1 1-1 0-1 1-2 0-1 1-1 0-1 1-1 0-1 1-2 0-1 1-1 0-1 1-1 0-1 1-2 0-1 1-1 0-1 1-1 0-1 1-1 0-1 1-2 0-1 1-1 0-1 1-1 0-1 1-2 0-1 1-1 0-.7 .4 1.2 1-.5 .8-1 0-1 1.1-8.9 11.1-7.3 11-.2 2-.6 1.3-1 0-2 2-1 0-2 2-1 0-2 2-1 0-2 2-1 0-2 2-1 0-2 2-1 0-2 2-1 0-3 3-1 0-2 2-1 0-2 2-1 0-2 2-1 0-2 2-1 0-2 2-1 0-2 2-1 0-2 2-1 0-2 2-1 0-2 2-1 0-2 2-1 0-2 2-1 0-2 2-1 0-2 2 0-177.3ZM482 141.6l.4 .4-.4 .4-.5-.4ZM483 143.7l.3 .3-.3 .2-.2-.2Z" fill="#ff5a00"/>
<path d="M399 33l126 0 0 86.2-1 1-1 0-1 1-2 0-1 1-1 0-1 1-1 0-1 1-2 0-1 1-1 0-1 1-1 0-1 1-2 0-1 1-1 0-1 1-1 0-1 1-2 0-1 1-1 0-1 1-1 0-1 1-1 0-1 1-2 0-1 1-1 0-1 1-1 0-1 1-2 0-1 1-2 0-1-.6-19 20.4-.6 1 .3 1-1.7 1.4-1 0-1 1-1 0-2 2-1 0-1 1-1 0-2 2-1 0-2 2-1 0-1 1-1 0-2 2-1 0-2 2-1 0-1 1-1 0-2 2-1 0-2 2-1 0-1 1-1 0-2 2-1 0-2 2-1 0-1 1-1 0-2 2-1 0-1 1-1 0-2 2-1 0-2 2-1 0-1 1-1 0-2 2-1 0-2 2-1 0-1 1 0-165.4Z" fill="#ff4200"/>
<path d="M399 33l126 0 0 78.8-1 0-1 1-2 0-1 1-1 0-1 1-1 0-1 1-2 0-1 1-1 0-1 1-1 0-1 1-2 0-1 1-1 0-1 1-1 0-1 1-1 0-1 1-2 0-1 1-1 0-1 1-1 0-1 1-2 0-1 1-1 0-1 1-1 0-1 1-2 0-1 1-1 0-1 1-1 0-1 1-1.3 .2-.1 1 .7 1-.3 .5-11 10.1-7.5 6.4-2.5 1.8-1 1.2-1 .5-1 0-2 2-1 0-1 1-1 0-2 2-1 0-2 2-1 0-1 1-1 0-2 2-1 0-2 2-1 0-1 1-1 0-2 2-1 0-2 2-1 0-1 1-1 0-2 2-1 0-2 2-1 0-1 1-1 0-2 2-1 0-1 1-1 0-2 2-1 0-2 2-1 0-1 1-1 0-2 2-1 0-2 2-1 0 0-156.5Z" fill="#ff2b00"/>
<path d="M399 33l126 0 0 78.4-1 0-1 1-2 0-1 1-1 0-1 1-1 0-1 1-2 0-1 1-1 0-1 1-1 0-1 1-2 0-1 1-1 0-1 1-1 0-1 1-1 0-1 1-2 0-1 1-1 0-1 1-1 0-1 1-2 0-1 1-1 0-1 1-1 0-1 1-2 0-1 1-1 0-1 1-1 0-1 1-3 .6-11 8.9-6 4.1-6.4 3-1.6 .6-1 0-1 1-1 0-1 1-1 0-2 2-1 0-1 1-1 0-1 1-1 0-2 2-1 0-1 1-1 0-1 1-1 0-2 2-1 0-1 1-1 0-1 1-1 0-2 2-1 0-1 1-1 0-1 1-1 0-2 2-1 0-1 1-1 0-1 1-1 0-2 2-1 0-1 1-1 0-1 1-1 0-2 2-1 0-1 1-1 0-1 1 0-145.6Z" fill="#ff1400"/>
<path d="M399 33l126 0 0 78-1 0-1 1-2 0-1 1-1 0-1 1-1 0-1 1-2 0-1 1-1 0-1 1-1 0-1 1-2 0-1 1-1 0-1 1-1 0-1 1-1 0-1 1-2 0-1 1-1 0-1 1-1 0-1 1-2 0-1 1-1 0-1 1-1 0-1 1-2 0-1 1-1 0-1 1-1 0-1 1-2 0-.1-1-1.9-1.1-7.5 5.1-4.5 2.6-5 2.4-5 1.8-4 .6-1-.2-1 .3-2 2-1 0-1 1-1 0-1 1-1 0-1 1-1 0-2 2-1 0-1 1-1 0-1 1-1 0-1 1-1 0-2 2-1 0-1 1-1 0-1 1-1 0-2 2-1 0-1 1-1 0-1 1-1 0-1 1-1 0-2 2-1 0-1 1-1 0-1 1-1 0-1 1-1 0-2 2-1 0-1 1-1 0-1 1 0-136.5ZM446.8 140l.2 .2 .4-.2-.4-.3Z" fill="#ff1000"/>
<path d="M399 33l126 0 0 68.6-1 1-2 0-1 1-1 0-1 1-1 0-1 1-1 0-1 1-1 0-1 1-2 0-1 1-1 0-1 1-1 0-1 1-1 0-1 1-1 0-1 1-2 0-1 1-1 0-1 1-1 0-1 1-1 0-1 1-2 0-1 1-1 0-1 1-1 0-1 1-1 0-1 1-1 0-1 1-2 0-1 1-1 0-1 1-1 0-1 1-5 3-7 3.7-11 1.5-7 1.7-1-.4-2 2.4-1 0-2 2-1 0-1 1-1 0-1 1-1 0-1 1-1 0-2 2-1 0-1 1-1 0-1 1-1 0-1 1-1 0-2 2-1 0-1 1-1 0-1 1-1 0-1 1-1 0-2 2-1 0-1 1-1 0-1 1-1 0-1 1-1 0-2 2-1 0-1 1-1 0-1 1-1 0 0-127.5ZM442.8 133l.2 .2 .4-.2-.4-.3Z" fill="#ff0c00"/>
<path d="M399 33l126 0 0 68.1-1 1-2 0-1 1-1 0-1 1-1 0-1 1-1 0-1 1-1 0-1 1-2 0-1 1-1 0-1 1-1 0-1 1-1 0-1 1-1 0-1 1-2 0-1 1-1 0-1 1-1 0-1 1-1 0-1 1-2 0-1 1-1 0-1 1-1 0-1 1-1 0-1 1-1 0-1 1-2 0-1 1-1 0-1 1-1 0-1 1-1.2-.1-.1-1-.7-.7-1-.3-2 .6-3-.2-7 .3-12 2.2-8 .7-1-.4-.9 .8 1 1-.1 1 1.1 1-1.1 0-1 1-1 0-2 2-1 0-1 1-1 0-2 2-1 0-1 1-1 0-2 2-1 0-1 1-1 0-2 2-1 0-1 1-1 0-2 2-1 0-1 1-1 0-2 2-1 0-1 1-1 0-2 2-1 0-1 1-1 0-2 2-1 0-1 1 0-121ZM436.7 123l.3 .9 .5-.9-.5-.4Z" fill="#ff0800"/>
<path d="M399 33l126 0 0 45.7-2 2-1 0-1 1-1 0-1 1-1 0-1 1-1 0-1 1-1 0-2 2-1 0-1 1-1 0-1 1-1 0-1 1-1 0-1 1-1 0-2 2-1 0-1 1-1 0-1 1-1 0-1 1-1 0-1 1-1 0-2 2-1 0-1 1-1 0-1 1-1 0-1 1-1 0-1 1-1 0-2 2-1 0-1 1-1 0-1 1-1 0-1 1-1 0-2 2-1 0-1 1-1.6 .3 .6 1.2-18 1.1-17-1.2-1-.2-2-1.1-1 0-1 1-1 0-1 1-1 0-2 2-1 0-1 1-1 0-1 1-1 0-2 2-1 0-1 1-1 0-1 1-1 0-2 2-1 0-1 1-1 0-1 1-1 0-1 1-1 0-2 2-1 0 0-94.8ZM427.4 108l.6 .6 .6-.6-.6-.6Z" fill="#ff0400"/>
<path d="M399 33l126 0 0 36-1 1-1 0-1 1-1 0-2 2-1 0-1 1-1 0-1 1-1 0-1 1-1 0-2 2-1 0-1 1-1 0-1 1-1 0-1 1-1 0-1 1-1 0-2 2-1 0-1 1-1 0-1 1-1 0-1 1-1 0-2 2-1 0-1 1-1 0-1 1-1 0-1 1-1 0-1 1-1 0-2 2-1 0-1 1-1 0-1 1-1 0-1 1-1 0-2 2-1 0-1 1-1 0-1 1-1 0-1 1-1 .1-.2-1.1-.8-.8-1-.3-12-.3-13-.9-7-1.2-7-1.9-.1 .4-.9 .4-1 1-1 0-2 2-1 0-1 1-1 0-1 1-1 0-1 1-1 0-1 1-1 0-2 2-1 0-1 1-1 0-1 1-1 0-1 1-1 0-1 1 0-77.4Z" fill="#ff0000"/>
<path d="M399 33l126 0 0 18.2-1 1-1 0-1 1-1 0-2 2-1 0-1 1-1 0-1 1-1 0-1 1-1 0-2 2-1 0-1 1-1 0-1 1-1 0-1 1-1 0-1 1-1 0-2 2-1 0-1 1-1 0-1 1-1 0-1 1-1 0-2 2-1 0-1 1-1 0-1 1-1 0-1 1-1 0-2 2-1 0-1 1-1 0-1 1-1 0-1 1-1 0-2 2-1 0-1 1-1 0-1 1-1 0-1 1-1 0-1 1-1 0-2 2-1 0-1 1-1 0-1 1-2 .1-1-.9-12-.1-7-.6-7-1.5-14-3.9-.6 .7-.1 1 .9 1-1.2 .1-1 1-1 0-2 2-1 0-2 2-1 0-1 1-1 0-2 2-1 0-2 2 0-62.1ZM411.7 81l.3 .3 .2-.3-.2-.1Z" fill="#f00000"/>
<path d="M399 33l126 0 0 4.7-1 1-1 0-1 1-1 0-1 1-1 0-1 1-1 0-1 1-1 0-1 1-1 0-1 1-1 0-1 1-1 0-1 1-1 0-1 1-1 0-1 1-1 0-1 1-1 0-1 1-1 0-1 1-1 0-1 1-1 0-1 1-1 0-1 1-1 0-1 1-1 0-1 1-1 0-1 1-1 0-1 1-1 0-1 1-1 0-1 1-1 0-1 1-1 0-1 1-1 0-1 1-1 0-1 1-1 0-1 1-1 0-1 1-1 0-1 1-1 0-1 1-1 0-1 1-1 0-1 1-1 0-1 1-1 0-1 1-1 0-1 1-1 0-1 1-1 0-1 1-1 0-.6 .3-.4 1.5-5-.1-7-.7-14-2.5-8-2.2-8-2.6-1 .6 1 1 0 1-1 1-1 0-2 2-1 0-2 2-1 0 0-44Z" fill="#de0000"/>
<path d="M399 33l1 0 117.2 0-1.2 .2-1 1-1 0-1 1-1 0-1 1-1 0-1 1-1 0-1 1-1 0-1 1-1 0-1 1-1 0-1 1-1 0-1 1-1 0-1 1-1 0-1 1-1 0-1 1-1 0-1 1-1 0-1 1-1 0-1 1-1 0-1 1-1 0-1 1-1 0-1 1-1 0-1 1-1 0-1 1-1 0-1 1-1 0-1 1-1 0-1 1-1 0-1 1-1 0-1 1-1 0-1 1-1 0-1 1-1 0-1 1-1 0-1 1-1 0-1 1-1 0-1 1-1 0-1 1-1 0-1 1-1 0-1 1-1 0-1 1-1 0-1 1.1-.4-.3-.3-1-1.3-.9-20-2.3-13-2.7-6-1.8-1 .3-1-.2-2-2-1 0-1-1 0-24.4Z" fill="#cd0000"/>
<path d="M399 33l1 0 79.8 0-.8 .8-1 0-1 1-1 0-1 1-1 0-1 1-1 0-1 1-1 0-1 1-1 0-2 2-1 0-1 1-1 0-1 1-1 0-1 1-1 0-1 1-1 0-1 1-1 0-2 2-1 0-1 1-1 0-1 1-1 0-1 1-1 0-1 1-1 0-1 1-1 0-1 1-1 0-2 2-.6 .2 .6 1.1-7-.3-8-1-7-.5-8-1.2-1 0-1 .9-1 0-1-1-1 0-2-2-1 0-2-2 0-17Z" fill="#b40000"/>
<path d="M399 33l1 0 62.5 0-.5 .5-1 0-1 1-1 0-1 1-1 0-2 2-1 0-1 1-1 0-1 1-1 0-1 1-1 0-1 1-1 0-1 1-1 0-2 2-1 0-1 1-1 0-1 1-1 0-1 1-1 0-1 1.4-1-.5-3-.3-13 .2-5-.2-1-1.4-1 0-3-3-1 0-2-2-1 0-2-2-1 0-2-2 0-4.7Z" fill="#980000"/>
<path d="M401 33l1 0 35.2 0-4 4 0 1-4.2 4.4-2-1.2-6 .8-5 .1-1 .5-1-.3-2-2-1 0-2-2-1 0-2-2-1 0-2-2-1 0-1.3-1.3Z" fill="#7c0000"/>
<path d="M525 186.5l-1 1-1 0-1 1-1 0-1 1-1 0-1 1-1 0-1 1-1 0-1 1-1 0-1 1-1 0-1 1-1 0-.5 .5-.5 1.5-.5 .5-.1 1-.8 10-.1 6-.5 .6-1-.3-4-2.9-.2 .6 .6 1 3.9 4-21.9 22M500 210.6l-.2 .4 .2 .2 .5-.2-.5-.4M525 134.5l-1 0-1 1-1 0-1 1-1 0-1 1-1 0-1 1-1 0-1 1-1 0-1 1-1 0-1 1-1 0-1 1-1 0-1 1-1 0-1 1-1 0-1 1-1 0-1 1-1 0-1 1-1 0-1 1-1 0-1 1-1 0-1 1-1 0-1 1-1 0-1 1-1 0-.5 .5 1.2 1-.7 1.5-.6-.5-.4-1.2-1 .2-2.9 6-4.4 11-1.2 4-1.5 7.3-.1 .7 .7 1-1.6 1.4-1 0-3 3-1 0-3 3-1 0-3 3-1 0-4 4-1 0-3 3-1 0-3 3-1 0-3 3-1 0-4 4-1 0-3 3-1 0-3 3-1 0-3 3-1 0-4 4-1 0-3 3-1 0-3 3-1 0-3 3-1 0-4 4-1 0-1.6 1.6M489 156.7l.3 .3-.3 .2-.3-.2 .3-.3M490 158.8l.2 .2-.2 .1-.1-.1 .1-.2M525 111.8l-1 0-1 1-2 0-1 1-1 0-1 1-1 0-1 1-2 0-1 1-1 0-1 1-1 0-1 1-2 0-1 1-1 0-1 1-1 0-1 1-1 0-1 1-2 0-1 1-1 0-1 1-1 0-1 1-2 0-1 1-1 0-1 1-1 0-1 1-2 0-1 1-1 0-1 1-1 0-1 1-1 0-.5 .2-.1 1 .2 1-14.7 13-3.9 3.1-3 1.9-1 1 .6 1-.6 .4-1 0-2 2-1 0-1 1-1 0-2 2-1 0-2 2-1 0-1 1-1 0-2 2-1 0-2 2-1 0-1 1-1 0-2 2-1 0-2 2-1 0-1 1-1 0-2 2-1 0-2 2-1 0-1 1-1 0-2 2-1 0-1 1-1 0-2 2-1 0-2 2-1 0-1 1-1 0-2 2-1 0-2 2-1 0M525 87.7l-1 1-1 0-2 2-1 0-1 1-1 0-1 1-1 0-1 1-1 0-1 1-1 0-2 2-1 0-1 1-1 0-1 1-1 0-1 1-1 0-2 2-1 0-1 1-1 0-1 1-1 0-1 1-1 0-1 1-1 0-2 2-1 0-1 1-1 0-1 1-1 0-1 1-1 0-1 1-1 0-2 2-1 0-1 1-1 0-1 1-1 0-1 1-1 0-1 1-.7 .3 .7 1.1-7-.2-5 .4-7 1.2-9 .7-6-.3-1-.5-.5 .6 1.1 1-.6 1.2-1 0-1 1-1 0-2 2-1 0-2 2-1 0-1 1-1 0-2 2-1 0-1 1-1 0-2 2-1 0-2 2-1 0-1 1-1 0-2 2-1 0-2 2-1 0-1 1-1 0-2 2-1 0-2 2-1 0M431 113M434 117.5l-.7 .5 .7 .7 .5-.7-.5-.5M525 60.5l-1 1-1 0-1 1-1 0-1 1-1 0-2 2-1 0-1 1-1 0-1 1-1 0-1 1-1 0-2 2-1 0-1 1-1 0-1 1-1 0-1 1-1 0-2 2-1 0-1 1-1 0-1 1-1 0-1 1-1 0-2 2-1 0-1 1-1 0-1 1-1 0-1 1-1 0-1 1-1 0-2 2-1 0-1 1-1 0-1 1-1 0-1 1-1 0-2 2-1 0-1 1-1 0-1 1-1 0-1 1-1 0-2 2-1 0-.9 .5-.1 .3-20-.7-5-.6-7-1.5-7-2.2-1 0-1-.7-1 .1-1 1-1 0-2 2-1 0-1 1-1 0-2 2-1 0-1 1-1 0-2 2-1 0-2 2-1 0-1 1M525 37.4l-1 1-1 0-1 1-1 0-1 1-1 0-1 1-1 0-1 1-1 0-1 1-1 0-1 1-1 0-1 1-1 0-1 1-1 0-1 1-1 0-1 1-1 0-1 1-1 0-1 1-1 0-1 1-1 0-1 1-1 0-1 1-1 0-1 1-1 0-1 1-1 0-1 1-1 0-1 1-1 0-1 1-1 0-1 1-1 0-1 1-1 0-1 1-1 0-1 1-1 0-1 1-1 0-1 1-1 0-1 1-1 0-1 1-1 0-1 1-1 0-1 1-1 0-1 1-1 0-1 1-1 0-1 1-1 0-1 1-1 0-1 1-1 0-1 1-1 0-1 1-1 0-1 .5-1-.5-5-.2-8-.9-15-2.8-14-4.3-1-.4-.3-.8-.7-.6-2 2.2-1 0-2 2M479.2 33l-.2 .2-1 0-1 1-1 0-1 1-1 0-1 1-1 0-1 1-1 0-1 1-1 0-2 2-1 0-1 1-1 0-1 1-1 0-1 1-1 0-1 1-1 0-1 1-1 0-2 2-1 0-1 1-1 0-1 1-1 0-1 1-1 0-1 1-1 0-1 1-1 0-1 1-1 0-2 2-1.6-1.2-.4-.7-10-.9-13-.5-3-.4-1 .3-1-.4-2-2-1 0-2-2-1 0-2-2-1 0-1-1" fill="none" stroke="rgba(55,55,55,0.5)" stroke-width="0.8"/>
<path d="M401.2 62.8l3.8 6.2 3.9 6.3 3.9 6.2 3.9 6.2 3.8 6.2 3.5 6.4 3.5 6.4 3.6 6.4 3.9 6.2 3.9 6.2 3.8 6.3 3.5 6.4 3.6 6.4 3.6 6.3 3.9 6.3 3.9 6.2 4 6 4.5 5.9 4.4 5.8 4.5 5.8 4.9 5.3 5.2 5.2 5.2 5.2 5.2 5.2 5.1 5.1 5.2 5.2 4.8 5.5 3.9 6.2 3.9 6.2M407.3 53.9l4.8 5.4 4.5 5.9 3.8 6.4 3.8 6.4 3.7 6.5 3.5 6.7 3.6 6.6 3.6 6.5 3.8 6.5 3.9 6.4 3.7 6.5 3.7 6.5 3.6 6.6 3.5 6.6 3.6 6.5 3.6 6.6 3.8 6.4 4.1 6.2 4.1 6.2 4.2 6.3 4.5 5.9 4.6 5.8 4.6 5.8 4.6 5.7 4.6 5.8 4.3 6 3.9 6.1 3.4 6.7 3.3 6.6M413.3 45.1l5.9 4.5 5 5.5 3.8 6.6 3.8 6.7 3.6 6.8 3.5 6.8 3.5 6.8 3.6 6.8 3.8 6.6 3.8 6.7 3.8 6.6 3.7 6.8 3.7 6.7 3.3 6.9 3.4 6.8 3.4 6.9 3.4 6.8 3.8 6.6 3.9 6.6 3.8 6.6 4 6.5 4 6.4 4.1 6.4 4.1 6.4 4 6.4 3.3 6.7 3.1 6.9 2.8 7 2.8 7.1M419.4 36.2l6.9 3.8 5.6 5 3.7 6.9 3.7 6.9 3.5 7 3.5 7 3.5 7 3.6 7 3.8 6.9 3.8 6.8 3.8 6.9 3.7 6.9 3.8 6.9 3.2 7.1 3.1 7.2 3.1 7.2 3.2 7.2 3.5 7 3.5 7 3.5 7 3.5 7 3.5 7.1 3.5 7 3.5 7 3.5 7 2.3 7.5 2.3 7.5 2.2 7.5 2.3 7.5M401.2 62.8l3-4.4 3.1-4.5 3-4.4 3-4.4 3.1-4.5 3-4.4M406.5 71.4l3.7-4.9 3.6-4.9 3.7-5 3.6-4.9 3.7-4.9 3.6-4.9M411.9 80l3.8-5 3.8-4.9 3.8-5 3.8-4.9 3.8-5 3.8-5M417.2 88.6l3.8-4.8 3.7-4.8 3.8-4.8 3.8-4.8 3.7-4.8 3.8-4.8M422.3 97.3l3.7-4.7 3.8-4.6 3.7-4.6 3.7-4.7 3.7-4.6 3.7-4.6M427.2 106.1l3.7-4.5 3.7-4.5 3.7-4.5 3.8-4.4 3.7-4.5 3.7-4.5M432.3 114.9l3.7-4.4 3.7-4.3 3.7-4.4 3.7-4.3 3.7-4.4 3.7-4.3M437.6 123.5l3.7-4.2 3.7-4.2 3.7-4.2 3.6-4.2 3.7-4.2 3.7-4.2M442.8 132.1l3.7-4.1 3.7-4 3.7-4.1 3.7-4 3.6-4.1 3.7-4.1M447.8 140.9l3.7-3.9 3.7-4 3.7-3.9 3.8-4 3.7-3.9 3.7-4M452.7 149.7l3.7-3.8 3.7-3.8 3.7-3.8 3.7-3.8 3.7-3.8 3.7-3.8M458 158.3l3.6-3.5 3.5-3.6 3.5-3.6 3.5-3.6 3.6-3.5 3.5-3.6M463.5 166.8l3.3-3.3 3.4-3.3 3.3-3.4 3.3-3.3 3.4-3.4 3.3-3.3M469.5 175l3.1-3.1 3.1-3.1 3.1-3 3.2-3.1 3.1-3.1 3.1-3M475.6 183l2.9-2.8 2.9-2.8 2.9-2.8 2.9-2.8 2.9-2.8 2.9-2.7M482.1 190.7l2.6-2.5 2.7-2.4 2.6-2.5 2.6-2.4 2.6-2.5 2.7-2.5M489.2 197.9l2.3-2 2.2-2.1 2.3-2 2.2-2.1 2.3-2 2.2-2.1M496.4 205.1l1.8-1.7 1.9-1.6 1.9-1.6 1.8-1.6 1.9-1.7 1.9-1.6M503.5 212.2l1.5-1.2 1.5-1.2 1.5-1.2 1.5-1.2 1.4-1.2 1.5-1.2M510.6 219.4l.8-.7 .9-.7 .9-.7 .8-.7 .9-.6 .9-.7M516.6 227.4l.4-.3 .4-.3 .4-.3 .3-.3 .4-.3 .4-.3M522 236" fill="none" stroke="rgba(95,95,95,0.45)" stroke-width="0.5"/>
</g></g>
<g><line x1="410.8" y1="212.7" x2="398.5" y2="31.5" stroke="#1a1a1a" stroke-width="1.1" />
<line x1="410.8" y1="212.7" x2="500.5" y2="312.4" stroke="#1a1a1a" stroke-width="1.1" />
<line x1="500.5" y1="312.4" x2="683" y2="251.4" stroke="#1a1a1a" stroke-width="1.1" />
<line x1="410.8" y1="212.7" x2="414.3" y2="211.8" stroke="#1a1a1a" stroke-width="1" />
<text transform="translate(406.3 218.9) rotate(-5)" font-size="8.3" text-anchor="end" fill="#1c1c1c">1.040</text>
<line x1="409.4" y1="193.1" x2="413" y2="192.2" stroke="#1a1a1a" stroke-width="1" />
<text transform="translate(404.9 199.3) rotate(-5)" font-size="8.3" text-anchor="end" fill="#1c1c1c">1.045</text>
<line x1="408.1" y1="173" x2="411.7" y2="172.1" stroke="#1a1a1a" stroke-width="1" />
<text transform="translate(403.6 179.2) rotate(-5)" font-size="8.3" text-anchor="end" fill="#1c1c1c">1.050</text>
<line x1="406.7" y1="152.5" x2="410.4" y2="151.6" stroke="#1a1a1a" stroke-width="1" />
<text transform="translate(402.2 158.7) rotate(-5)" font-size="8.3" text-anchor="end" fill="#1c1c1c">1.055</text>
<line x1="405.2" y1="131.5" x2="409" y2="130.7" stroke="#1a1a1a" stroke-width="1" />
<text transform="translate(400.7 137.7) rotate(-5)" font-size="8.3" text-anchor="end" fill="#1c1c1c">1.060</text>
<line x1="403.8" y1="110" x2="407.6" y2="109.2" stroke="#1a1a1a" stroke-width="1" />
<text transform="translate(399.3 116.2) rotate(-5)" font-size="8.3" text-anchor="end" fill="#1c1c1c">1.065</text>
<line x1="402.3" y1="88.1" x2="406.1" y2="87.3" stroke="#1a1a1a" stroke-width="1" />
<text transform="translate(397.8 94.3) rotate(-5)" font-size="8.3" text-anchor="end" fill="#1c1c1c">1.070</text>
<line x1="400.8" y1="65.6" x2="404.7" y2="64.9" stroke="#1a1a1a" stroke-width="1" />
<text transform="translate(396.3 71.8) rotate(-5)" font-size="8.3" text-anchor="end" fill="#1c1c1c">1.075</text>
<line x1="399.2" y1="42.6" x2="403.1" y2="41.9" stroke="#1a1a1a" stroke-width="1" />
<text transform="translate(394.7 48.8) rotate(-5)" font-size="8.3" text-anchor="end" fill="#1c1c1c">1.080</text>
<line x1="410.8" y1="212.7" x2="414.3" y2="211.8" stroke="#1a1a1a" stroke-width="1" />
<text transform="matrix(0.9478 -0.3169 0.4659 0.5175 408.55 215.04)" font-size="10.0" text-anchor="end" fill="#1c1c1c" >65</text>
<line x1="426.3" y1="230" x2="429.9" y2="229" stroke="#1a1a1a" stroke-width="1" />
<text transform="matrix(0.9478 -0.3169 0.4659 0.5175 424.08 232.29)" font-size="10.0" text-anchor="end" fill="#1c1c1c" >66</text>
<line x1="442.9" y1="248.4" x2="446.7" y2="247.4" stroke="#1a1a1a" stroke-width="1" />
<text transform="matrix(0.9478 -0.3169 0.4659 0.5175 440.69 250.74)" font-size="10.0" text-anchor="end" fill="#1c1c1c" >67</text>
<line x1="460.7" y1="268.2" x2="464.6" y2="267.1" stroke="#1a1a1a" stroke-width="1" />
<text transform="matrix(0.9478 -0.3169 0.4659 0.5175 458.50 270.52)" font-size="10.0" text-anchor="end" fill="#1c1c1c" >68</text>
<line x1="479.9" y1="289.5" x2="483.8" y2="288.2" stroke="#1a1a1a" stroke-width="1" />
<text transform="matrix(0.9478 -0.3169 0.4659 0.5175 477.65 291.79)" font-size="10.0" text-anchor="end" fill="#1c1c1c" >69</text>
<line x1="500.5" y1="312.4" x2="504.6" y2="311.1" stroke="#1a1a1a" stroke-width="1" />
<text transform="matrix(0.9478 -0.3169 0.4659 0.5175 498.28 314.71)" font-size="10.0" text-anchor="end" fill="#1c1c1c" >70</text>
<line x1="500.5" y1="312.4" x2="503.7" y2="316" stroke="#1a1a1a" stroke-width="1" />
<text transform="matrix(0.4659 0.5175 -0.9478 0.3169 502.79 318.13)" font-size="10.0" text-anchor="start" fill="#1c1c1c" >2.0</text>
<line x1="531.7" y1="302" x2="535.1" y2="305.4" stroke="#1a1a1a" stroke-width="1" />
<text transform="matrix(0.4659 0.5175 -0.9478 0.3169 534.02 307.69)" font-size="10.0" text-anchor="start" fill="#1c1c1c" >2.5</text>
<line x1="561.9" y1="291.9" x2="565.3" y2="295.2" stroke="#1a1a1a" stroke-width="1" />
<text transform="matrix(0.4659 0.5175 -0.9478 0.3169 564.17 297.60)" font-size="10.0" text-anchor="start" fill="#1c1c1c" >3.0</text>
<line x1="591" y1="282.1" x2="594.6" y2="285.4" stroke="#1a1a1a" stroke-width="1" />
<text transform="matrix(0.4659 0.5175 -0.9478 0.3169 593.29 287.86)" font-size="10.0" text-anchor="start" fill="#1c1c1c" >3.5</text>
<line x1="619.2" y1="272.7" x2="622.8" y2="275.9" stroke="#1a1a1a" stroke-width="1" />
<text transform="matrix(0.4659 0.5175 -0.9478 0.3169 621.45 278.45)" font-size="10.0" text-anchor="start" fill="#1c1c1c" >4.0</text>
<line x1="646.4" y1="263.6" x2="650.1" y2="266.7" stroke="#1a1a1a" stroke-width="1" />
<text transform="matrix(0.4659 0.5175 -0.9478 0.3169 648.68 269.34)" font-size="10.0" text-anchor="start" fill="#1c1c1c" >4.5</text>
<line x1="672.7" y1="254.8" x2="676.6" y2="257.8" stroke="#1a1a1a" stroke-width="1" />
<text transform="matrix(0.4659 0.5175 -0.9478 0.3169 675.04 260.53)" font-size="10.0" text-anchor="start" fill="#1c1c1c" >5.0</text><text transform="matrix(0.8957 -0.2995 0.5125 0.5692 612.49 299.08)" font-size="11.4" text-anchor="middle" fill="#1c1c1c" >Diameter of channel 1(mm)</text>
<text transform="matrix(0.4287 0.4761 -0.9478 0.3169 430.59 270.38)" font-size="11.4" text-anchor="middle" fill="#1c1c1c" >Height of cooling jacket(mm)</text>
<text transform="translate(376.4 132.0) rotate(-94.2) scale(0.885 1)" font-size="11.3" text-anchor="middle" fill="#1c1c1c">Maximum temperature diff.(K)</text></g>
<g><line x1="253.6" y1="559" x2="243.8" y2="379.6" stroke="#e2e2e2" stroke-width="1" />
<line x1="253.6" y1="559" x2="343.5" y2="657" stroke="#e2e2e2" stroke-width="1" />
<line x1="273.2" y1="553.8" x2="265.5" y2="376" stroke="#e2e2e2" stroke-width="1" />
<line x1="273.2" y1="553.8" x2="365.9" y2="649.5" stroke="#e2e2e2" stroke-width="1" />
<line x1="292.4" y1="548.7" x2="286.6" y2="372.4" stroke="#e2e2e2" stroke-width="1" />
<line x1="292.4" y1="548.7" x2="387.7" y2="642.2" stroke="#e2e2e2" stroke-width="1" />
<line x1="311.2" y1="543.7" x2="307.3" y2="369" stroke="#e2e2e2" stroke-width="1" />
<line x1="311.2" y1="543.7" x2="409" y2="635.1" stroke="#e2e2e2" stroke-width="1" />
<line x1="329.7" y1="538.8" x2="327.5" y2="365.6" stroke="#e2e2e2" stroke-width="1" />
<line x1="329.7" y1="538.8" x2="429.7" y2="628.1" stroke="#e2e2e2" stroke-width="1" />
<line x1="347.7" y1="534" x2="347.3" y2="362.3" stroke="#e2e2e2" stroke-width="1" />
<line x1="347.7" y1="534" x2="450" y2="621.4" stroke="#e2e2e2" stroke-width="1" />
<line x1="365.4" y1="529.4" x2="366.6" y2="359.1" stroke="#e2e2e2" stroke-width="1" />
<line x1="365.4" y1="529.4" x2="469.7" y2="614.7" stroke="#e2e2e2" stroke-width="1" />
<line x1="382.7" y1="524.8" x2="385.5" y2="355.9" stroke="#e2e2e2" stroke-width="1" />
<line x1="382.7" y1="524.8" x2="489" y2="608.3" stroke="#e2e2e2" stroke-width="1" />
<line x1="406.8" y1="532.2" x2="411.9" y2="361.2" stroke="#e2e2e2" stroke-width="1" />
<line x1="240.9" y1="577.4" x2="406.8" y2="532.2" stroke="#e2e2e2" stroke-width="1" />
<line x1="420.9" y1="542.8" x2="427.5" y2="368.7" stroke="#e2e2e2" stroke-width="1" />
<line x1="252.5" y1="590.2" x2="420.9" y2="542.8" stroke="#e2e2e2" stroke-width="1" />
<line x1="435.7" y1="553.9" x2="443.9" y2="376.5" stroke="#e2e2e2" stroke-width="1" />
<line x1="264.6" y1="603.7" x2="435.7" y2="553.9" stroke="#e2e2e2" stroke-width="1" />
<line x1="451.2" y1="565.5" x2="461.1" y2="384.8" stroke="#e2e2e2" stroke-width="1" />
<line x1="277.3" y1="617.8" x2="451.2" y2="565.5" stroke="#e2e2e2" stroke-width="1" />
<line x1="467.4" y1="577.7" x2="479.3" y2="393.5" stroke="#e2e2e2" stroke-width="1" />
<line x1="290.7" y1="632.7" x2="467.4" y2="577.7" stroke="#e2e2e2" stroke-width="1" />
<line x1="484.4" y1="590.5" x2="498.4" y2="402.6" stroke="#e2e2e2" stroke-width="1" />
<line x1="304.8" y1="648.4" x2="484.4" y2="590.5" stroke="#e2e2e2" stroke-width="1" />
<line x1="228.9" y1="549.5" x2="393.5" y2="507.2" stroke="#e2e2e2" stroke-width="1" />
<line x1="393.5" y1="507.2" x2="503.7" y2="587.3" stroke="#e2e2e2" stroke-width="1" />
<line x1="227.8" y1="533.4" x2="393.9" y2="492.3" stroke="#e2e2e2" stroke-width="1" />
<line x1="393.9" y1="492.3" x2="505.1" y2="570.4" stroke="#e2e2e2" stroke-width="1" />
<line x1="226.7" y1="517" x2="394.2" y2="477" stroke="#e2e2e2" stroke-width="1" />
<line x1="394.2" y1="477" x2="506.6" y2="553.2" stroke="#e2e2e2" stroke-width="1" />
<line x1="225.6" y1="500.4" x2="394.6" y2="461.6" stroke="#e2e2e2" stroke-width="1" />
<line x1="394.6" y1="461.6" x2="508.1" y2="535.7" stroke="#e2e2e2" stroke-width="1" />
<line x1="224.4" y1="483.5" x2="394.9" y2="445.8" stroke="#e2e2e2" stroke-width="1" />
<line x1="394.9" y1="445.8" x2="509.6" y2="517.8" stroke="#e2e2e2" stroke-width="1" />
<line x1="223.2" y1="466.2" x2="395.3" y2="429.9" stroke="#e2e2e2" stroke-width="1" />
<line x1="395.3" y1="429.9" x2="511.1" y2="499.6" stroke="#e2e2e2" stroke-width="1" />
<line x1="222" y1="448.6" x2="395.6" y2="413.6" stroke="#e2e2e2" stroke-width="1" />
<line x1="395.6" y1="413.6" x2="512.7" y2="481" stroke="#e2e2e2" stroke-width="1" />
<line x1="220.8" y1="430.7" x2="396" y2="397.1" stroke="#e2e2e2" stroke-width="1" />
<line x1="396" y1="397.1" x2="514.3" y2="462" stroke="#e2e2e2" stroke-width="1" />
<line x1="219.6" y1="412.5" x2="396.4" y2="380.3" stroke="#e2e2e2" stroke-width="1" />
<line x1="396.4" y1="380.3" x2="516" y2="442.6" stroke="#e2e2e2" stroke-width="1" />
<line x1="218.3" y1="393.9" x2="396.8" y2="363.1" stroke="#e2e2e2" stroke-width="1" />
<line x1="396.8" y1="363.1" x2="517.7" y2="422.9" stroke="#e2e2e2" stroke-width="1" />
<line x1="217.7" y1="384" x2="397" y2="354" stroke="#a8a8a8" stroke-width="1" />
<line x1="397" y1="354" x2="518.6" y2="412.3" stroke="#a8a8a8" stroke-width="1" />
<line x1="393.2" y1="522" x2="397" y2="354" stroke="#a8a8a8" stroke-width="1" />
<line x1="502.2" y1="603.9" x2="518.6" y2="412.3" stroke="#a8a8a8" stroke-width="1" />
<line x1="230" y1="565.2" x2="393.2" y2="522" stroke="#a8a8a8" stroke-width="1" />
<line x1="393.2" y1="522" x2="502.2" y2="603.9" stroke="#a8a8a8" stroke-width="1" /></g>
<g transform="translate(0 0)">
<clipPath id="c8"><path d="M394.5 488.8l5.8 4.1 5.8 4.1 5.8 4 5.9 4.1 5.8 4.1 5.8 4.1 5.8 4.1 5.8 4 5.8 4.1 5.9 4.1 5.8 4.1 5.8 4 5.8 4.1 5.8 4.1 5.8 4.1 5.9 4.1 5.8 4 5.8 4.1 5.8 4.1-3.2 1.3-3.2 1.1-3.2 1.1-3.2 .7-3.2 .5-3.8 .3-3.9 .3-3.8 .2-3.8 .2-3.7 0-3.3-.7-3.2-1.7-3.1-2.2-3.3-2.4-3.5-2-4-1.7-4.3-1.7-4.4-1.7-4.7-1.6-4.8-1.5-3-3.7-2.9-3.7-3.1-3.6-3.8-2.8-3.8-2.8-3.8-2.9-4.1-2.4-4.2-2.1-4.3-2.1-4.4-1.8-4.5-1.4-4.5-1.5-4.5-1.4-4.6-1.1-4.7-.7-4.7-.8-4.6-1-4.4-1.8-4.4-1.8 1.8-2.4 1.9-2.3 2-2.3 2.1-2 2.1-2 2.1-1.8 2.2-1.7 2.3-1.5 2.3-1.5 2.2-1.3 2.3-1.2 2.2-1.1 2.2-1.1 2.2-.9 2.2-.8 1.9-.6 1.8-.6 1.9-.6 1.9-.5 1.8-.4Z"/></clipPath>
<g clip-path="url(#c8)" fill-rule="evenodd">
<rect x="350" y="485" width="158" height="90" fill="#7a00ef"/>
<path d="M351 485l157 0 0 90-158 0 .1-48 1-1 0-1 1-1 0-2 1-1 0-1 1-1 0-1 1-1-1.6-2-.3-1-2.2-2.2-1 0 0-26.8Z" fill="#7500f5"/>
<path d="M351 485l157 0 0 90-158 0 0-45.3 .7-.7 0-2 1-1 0-1 1-1 0-2 1-1 0-1 1-1 0-1 1-1 .3-1-1-2.9-.7-.1 .7-1-5-5 0-22Z" fill="#5b00f8"/>
<path d="M351 485l157 0 0 90-158 0 0-32.7 .3-.3 0-2 1-1 0-1 1-1 0-2 1-1 0-1 1-1 0-2 1-1 0-1 1-1 0-2 1-1 0-1 1-1 0-2 1-1 .2-1-.6-1-.3-2-1.6-3.3-2-.6-5-5 0-21.1ZM360.9 519l.1 .1 .1-.1-.1-.1Z" fill="#4100fa"/>
<path d="M351 485l157 0 0 90-158 0 0-32.1 .9-.9 0-2 1-1 0-1 1-1 0-2 1-1 0-1 1-1 0-2 1-1 0-1 1-1 0-2 1-1 0-1 1-1 0-2 1.1-1.2 1 1.1 .9-.9-.3-1 .4-2-.6-3-2.4-3.4-1-.3-2-2.1-1 0-5-5 0-17.2ZM362.2 520l.8 .8 .6-.8-.6-.7ZM364.7 521l.3 .3 .3-.3-.3-.3Z" fill="#2700fd"/>
<path d="M351 485l157 0 0 90-156 0 1-1 0-4 1-1 0-3 1-1 0-4 1-1 0-3 1-1 0-4 1-1 0-3 1-1 0-4 1-1 0-3 1-1 0-4 1-1 0-3 1-1 0-4 1-1 0-3 1 1 1-.1 1 1.1 .9-1-1.4-2 .4-4-.8-3-1.2-2-3.9-4.1-1 .3-10-10.1 0-12.1ZM368 523l1 .5 .6-.5-.6-.7ZM370.7 524l.3 .3 .3-.3-.3-.3Z" fill="#1306ff"/>
<path d="M351 485l157 0 0 90-143.3 0 0-2 1-1 0-5 1-1 0-5 1-1 0-5 1-1 0-5 1-1 0-5 1-1 0-5 1-1 0-5 1-1 0-4 1.3-.8 .2 .8 .8 .8 .7-.8-.7-.8-.8-.2-.6-1 0-1 2.4-.8 0-.5-1.1-.7 1.9-1 .9-1 .2-1-2.2-3-3.7-3.8-8-6.7-.8-1.5-2-2 0-1-5-5 0-1-5-5 0-1-1.2-1.2 0-1.8ZM377.9 523l.1 0 .1 0-.1 0ZM376.5 527l.5 .3 .3-.3-.3-.3Z" fill="#0d1eff"/>
<path d="M354 485l154 0 0 90-133.5 0 0-1 1-1 0-1 1-1 0-1 1-1 0-1 1-1 0-1 1-1 0-2 1-1 0-1 1-1 0-1 1-1 0-1 1-1 0-1 1-1 0-1 1-1 0-1 1-1 0-1 1-1 0-2 1-1 0-1 1-1 0-2 1-1 0-1 1-1 0-2 .5-.5 0-.5-1-.1-1-1-1 0-1-1-1 0-4-3.2-1-.4-1.2-1.3-.2-1 1.4-.5 11 1.9 1 .1 1-.4 1 .5 .7-.6 1.3-2-4.3-4-1.7-1-2-2-3-2-8-6.6-11-8.5-1-.5-1-.2-1.1-1.2 0-1-3-3 0-1-4-4 0-1-3-3 0-1ZM398.9 528l.1 .6 1-.2 .2-.4-1.2-.6ZM394 526.8l1 .2 0 .2-1.3-.2Z" fill="#0835ff"/>
<path d="M363 485l145 0 0 90-118.2 0 1.7-2 2.3-5 1-1 0-1 1-1 0-1 2-2 0-1 1-1 0-1 1-1 0-1 1-1 0-1 2-2 0-1 1-1 0-1 1-1 0-1 1-1 0-1 1-1 .3-2-1.1-.1-1-1-1-.1-1-1-1-.2-2-1.9-1 0-1-1.1-1 0-1-1-1-.1-1-1-1-.1-1-1-1-.2-1-1-.8-.2-1.2-1-.4-1 1.4-.5 1 .1 13 2.3 7 3.2 1 .1 1 .8 1.2 0 .7-1 .2-1-2.6-3-12.6-10-9.4-8-17.5-15.7-1-.2-1.1-1.1 0-1-2-2 0-1-2-2 0-1-2-2 0-1-1-1Z" fill="#034cff"/>
<path d="M373 485l135 0 0 90-114.7 0 4-4 0-1 3.6-4 0-1 2-2 0-1 1.9-2 .2-1.2 2.8-2.8 0-1 1.7-2 .3-1 2.7-3 .5-1.5 .5-.5-.5-1.1-1-.1-1-1-1-.1-1-1-1-.1-1-1-1-.2-1-.9-3-1.4-2-1.8-1-.1-1-1-1-.1-1-1-.8-.1-.5-1 .3-.4 2 0 10 1.7 9 4 3 .6 2 .9 2.2 .2-1.3-3-2.9-3.6-5-5-2-1.4-3-3.1-1.4-.9-7.6-7.2-22-22.3-.5-1.5-1-1 0-1-1-1 0-1-1-1 0-1-1-1 0-1-1-1ZM413.4 550l.6 .4 .4-.4-.4-.6Z" fill="#0063ff"/>
<path d="M382 485l126 0 0 90-114.4 0 4-4 0-1 12.4-12.8 2-2 1 0 6.1-6.2-1.1-.1-1-1.2-1 0-1-1-1-.1-1-1.1-1-.1-1-1-1-.1-1-1-1-.2-1-.9-.9-.2-2.1-1.6-1.1-.4-1.1-1 .2-.4 2-.1 8 1.4 15 6.5 3 1 1 0 1 .6 1 .2 1-.3 1 .4 .4-.3-.1-1-1.6-3-1.7-2.5-14-16.8-8-8.9-14-14-11-10.1-1-.4-.2-2.3-1-1 0-1-1-1Z" fill="#0078ff"/>
<path d="M409 542.9l1-.5 1 .1 5 .8 1.9 .7 21.1 9.2 5 2.5 2 1.4 1 0 2 1.9 2 1 2 .4 2 1.1 1.1 1.5 3.9 1.7 1 1.6 1 .8 3.5 1.9 .5 .6 2 .2 1.2 1.2-.2 2-1 1 0 1-74 0 4-4 0-1 14-14.1 1 0 6-6 .5-.9-.5-.5-1-.1-1-1-1-.1-1-1-1-.2-1-.9-.9-.2-2.1-1.7Z" fill="#008cff"/>
<path d="M417 546.4l4 .6 12 5 11 5.1 7 4.1 1 .2 4 3 1.8 .6 1.5 2-.1 1 .8 .8 .1 2.2-3 3 0 1-4.1 0 4-4 0-1 2-2-2-1.7-.6 .7 0 1-2 2 0 1-2 2 0 1-1 1-2.4-.2-.2 .2-54.2 0 .4-.4 1 0 4-4 1 0 4-4 1 0 4-4 1 0 4-4 1 0 4-4 1 0 2.6-2.6-.1-1-.5-.5-1-.1-1-1-1-.1-1-1.1-1-.2-1.3-1ZM453.8 566l-1 1 0 1-1 1 0 1-1 1 .2 1.3 1.3-1.3 0-1 2-2 0-1 1.3-1-.6-.4-1 0ZM449.8 573l0 1 .2 .3 .3-.3 0-1-.3-.2Z" fill="#00a1ff"/>
<path d="M424 550.5l1-.1 1.8 .6 7.2 2.9 15 6.8 1 1.2 1.2 .1-.2 .3-4-.6-.2 .3 .2 .3 1-.1 1 1.4 1-.1 .7 1.5-1 1 0 2-1 1 0 1-1 1 0 1-1 1 0 1-1 1-43.5 0 2.8-2.8 1 0 4-4 1 0 4-4 1 0 4-4 1 0 4-4 1 0 2.2-2.2-1.2-1.4-1-.1-1-1.1-1-.2Z" fill="#00b7ff"/>
<path d="M429 553.6l3.7 1.4 1.2 1 .1 .8 .3-.8 .7-.1 2 2.1 1 0-1 1 0 2-1 1 0 2-1 1 0 2-1 1 0 2-1 1 0 2-1 1 0 1-29.1 0 2.1-2.1 1 0 4-4 1 0 4-4 1 0 4-4 1 0 4-4 1 0Z" fill="#00cdff"/>
<path d="M350 529.4l.4-.4 0-2 1-1 0-1 1-1 0-2 1-1 0-1 1-1 0-1 1-1-1-2-.9-1-2.5-2.5-1 0M393.3 575l4-4 0-1 3.7-4 0-1 2-2 0-1 2-2 0-1 3-3 0-1 1.9-2 .1-1 2.9-3 .1-1.1 .9-.9-.9-1.2-1 0-1-1.1-1-.1-1-.9-1-.2-1-.9-1-.2-1-.9-1-.3-1-.8-1-.4-2-1.7-1-.1-1-1-1-.1-1-1.1-.4 0-.3-1 .7-.3 1 .1 10 1.7 3 1.1 6 2.8 3 .8 2 .8 2 .3 .9-.3-1.6-3-3.3-4-5-5-3-2.4-8-7.5-1-1.3-3-2.6-2-2.4-2.1-1.8-2.7-3-14.2-14.2-.3-.8-1-1 0-1-1-1 0-1-1-1 0-1-1-1 0-1-1-1M414 549.1l-.9 .9 .9 .6 .6-.6-.6-.9" fill="none" stroke="rgba(55,55,55,0.5)" stroke-width="0.8"/>
<path d="M394.5 488.8l5.8 4.1 5.8 4.1 5.8 4 5.9 4.1 5.8 4.1 5.8 4.1 5.8 4.1 5.8 4 5.8 4.1 5.9 4.1 5.8 4.1 5.8 4 5.8 4.1 5.8 4.1 5.8 4.1 5.9 4.1 5.8 4 5.8 4.1 5.8 4.1M389.9 490l5.6 4.1 5.6 4.2 5.7 4.2 5.6 4.1 5.7 4.2 5.6 4.1 5.6 4.2 5.7 4.2 5.6 4.2 5.7 4.1 5.6 4.2 5.6 4.2 5.7 4.1 5.6 4.2 5.7 4.2 5.6 4.2 5.6 4.2 5.7 4.2 5.6 4.2M385.2 491.5l5.5 4.2 5.4 4.2 5.5 4.2 5.5 4.1 5.4 4.2 5.5 4.2 5.4 4.2 5.5 4.2 5.5 4.2 5.4 4.1 5.5 4.2 5.5 4.2 5.4 4.2 5.5 4.2 5.4 4.2 5.5 4.1 5.5 4.2 5.4 4.2 5.5 4.2M379.7 493.8l5.2 4.1 5.3 4.1 5.2 4.2 5.3 4.1 5.2 4.2 5.3 4.1 5.2 4.2 5.3 4.2 5.2 4.2 5.3 4 5.2 4.1 5.3 4.1 5.2 4 5.3 4.1 5.2 4 5.3 4.1 5.2 4 5.3 4.1 5.2 4M374.1 496.6l5 4 5.1 3.9 5 4 5.1 4 5 3.9 5.1 4 5 4 5.1 3.9 5 4 5.1 4 5 4 5.1 3.9 5 4 5.1 4 5 3.9 5.1 4 5 4 5.1 3.9 5 4M368.5 500.2l4.9 3.5 4.9 3.6 4.9 3.6 4.9 3.6 4.9 3.7 4.9 3.7 4.9 3.4 5 3.3 4.9 3.6 4.9 3.7 4.9 3.6 4.9 3.7 4.9 3.7 4.9 3.6 4.9 3.6 5 3.7 4.9 3.6 5 3.5 4.9 3.6M363 504.4l4.8 3 4.8 3.1 4.8 3 4.8 3.1 4.8 3 4.8 3.1 4.8 3 4.7 3.1 4.8 3 4.8 3.1 4.7 3.1 4.8 3.2 4.7 3.1 4.8 3.1 4.7 3.1 4.8 3.1 4.7 3.2 4.8 3.1 4.7 3.1M357.8 509.6l4.6 2.4 4.6 2.4 4.7 2.2 4.7 2.1 4.8 2 4.7 2 4.6 2.6 4.7 2.4 4.6 2.4 4.6 2.4 4.5 2.7 4.5 2.6 4.5 2.7 4.3 2.9 4.4 2.8 4.3 2.9 4.1 3.2 4.1 3.2 4 3.2M353.1 515.4l4.4 1.8 4.4 1.8 4.6 1 4.7 .8 4.7 .7 4.6 1.1 4.5 1.4 4.5 1.5 4.5 1.4 4.4 1.8 4.3 2.1 4.2 2.1 4.1 2.4 3.8 2.9 3.8 2.8 3.8 2.8 3.1 3.6 2.9 3.7 3 3.7M394.5 488.8l-1.8 .4-1.9 .5-1.9 .6-1.8 .6-1.9 .6-2.2 .8-2.2 .9-2.2 1.1-2.2 1.1-2.3 1.2-2.2 1.3-2.3 1.5-2.3 1.5-2.2 1.7-2.1 1.8-2.1 2-2.1 2-2 2.3-1.9 2.3-1.8 2.4M404.5 495.8l-1.9 .5-2 .6-2 .6-2 .6-2 .6-2.3 .8-2.4 .9-2.3 1-2.4 1-2.4 1.1-2.3 1-2.4 1.2-2.3 1.3-2.3 1.3-2.2 1.4-2.3 1.5-2.2 1.7-2.1 1.8-2 1.8-2 2M414.6 502.9l-2.1 .6-2.1 .5-2.1 .7-2.1 .6-2.1 .7-2.5 .8-2.5 .8-2.5 .9-2.5 .9-2.6 .9-2.4 .9-2.4 .9-2.5 .9-2.4 1-2.2 .9-2.4 1.1-2.2 1-2.2 1.1-2.1 1.1-2.1 1.1M424.6 509.9l-2.2 .7-2.2 .6-2.2 .7-2.3 .6-2.2 .7-2.6 .8-2.7 .8-2.6 .8-2.7 .8-2.6 .8-2.6 .6-2.5 .7-2.6 .7-2.4 .5-2.4 .5-2.4 .4-2.3 .3-2.2 .4-2.1 .2-2.1 .2M434.7 517l-2.4 .7-2.3 .7-2.3 .7-2.4 .7-2.4 .6-2.7 .8-2.8 .8-2.9 .8-2.8 .7-2.7 .5-2.7 .4-2.6 .4-2.6 .3-2.6 .3-2.4 0-2.5 0-2.4-.2-2.3-.3-2.2-.5-2.1-.5M444.7 524l-2.4 .8-2.5 .8-2.5 .7-2.4 .7-2.5 .6-3 .8-2.9 .9-3 .7-2.9 .6-2.9 .3-2.7 0-2.8 0-2.7 0-2.6-.1-2.5-.1-2.6-.3-2.5-.7-2.4-.9-2.3-1.2-2.2-1.2M454.8 531.1l-2.6 .8-2.6 .9-2.6 .7-2.6 .7-2.6 .7-3.1 .7-3.1 .8-3.1 .7-3.1 .4-3 .2-2.8-.1-2.9-.2-2.7-.4-2.8-.4-2.6-.6-2.7-.7-2.6-1.1-2.5-1.4-2.5-1.6-2.3-1.8M464.8 538.1l-2.7 1-2.7 .8-2.7 .9-2.7 .7-2.7 .6-3.3 .7-3.2 .6-3.3 .6-3.2 .4-3.2 .2-2.9-.2-2.9-.5-2.9-.7-2.8-.9-2.8-.9-2.8-1.1-2.8-1.4-2.7-1.7-2.7-2-2.5-2M474.9 545.2l-2.9 1-2.8 .9-2.8 .9-2.9 .7-2.8 .6-3.4 .6-3.4 .6-3.4 .5-3.4 .3-3.3 .1-3-.3-3-.7-3-1.1-2.9-1.2-2.9-1.3-3-1.4-3.1-1.6-3-1.9-2.9-2.1-2.9-2.2M484.9 552.2l-2.9 1.1-3 1-2.9 .9-3 .8-3 .5-3.5 .6-3.5 .4-3.6 .4-3.5 .3-3.4 .1-3.2-.4-3.1-1.1-3-1.4-3-1.6-3.1-1.6-3.3-1.6-3.3-1.8-3.3-2-3.3-2.1-3.3-2.2M495 559.3l-3.1 1.1-3.1 1.1-3.1 1-3 .8-3.1 .5-3.7 .4-3.7 .4-3.7 .3-3.7 .2-3.5 0-3.2-.5-3.2-1.3-3.1-1.9-3.1-2-3.3-1.8-3.6-1.7-3.8-1.8-3.8-1.9-3.9-1.9-4-1.9M505 566.3l-3.2 1.3-3.2 1.1-3.2 1.1-3.2 .7-3.2 .5-3.8 .3-3.9 .3-3.8 .2-3.8 .2-3.7 0-3.3-.7-3.2-1.7-3.1-2.2-3.3-2.4-3.5-2-4-1.7-4.3-1.7-4.4-1.7-4.7-1.6-4.8-1.5" fill="none" stroke="rgba(95,95,95,0.45)" stroke-width="0.5"/>
</g></g>
<g transform="translate(0 0)">
<clipPath id="c9"><path d="M317.7 521l5.3-1.3 5.4-1.1 5.4-.9 5.3-1.1 5.4-1 5.3 .8 5.4 1.2 5.3 1.2 5.4 1.1 5.3 .9 5.4 .9 5.3 1.3 5.2 1.7 5.2 1.6 5.2 1.9 4.9 2.5 4.8 2.4 4.7 2.9 4.4 3.3 4.3 3.2 4 3.8 3.4 4.2 3.4 4.3-2.5 2.5-2.4 2.6-2.4 2.5-2.5 2.6-3 3.1-3 3.1-3 3.1-3 3.1-2.4 3.2-2.4 3.1-2.4 3.1-2.4 3.2-2.6 3.2-2.7 3.2-2.7 3.3-2.6 3.2-2.2 1.3-2.1 1.2-2.1 1.3-2.2 1.3-2.3-1.1-2.4-1.1-2.3-1.1-2.3-1.1-2.4-1.1-2.3-1.1-2.3-1.1-2.1-1.4-1.7-2-1.6-2-1.7-2-1.6-2-1.6-2-1.7-2-1.8-1.9-1.8-1.8-1.8-1.8-1.8-1.8-1.9-1.9-2.2-1.2-2.3-1.2-2.3-1.1-2.3-1.2-1.8-6.2-1.9-6.3-1.8-6.3-1.8-6.2-1-4-1-4-1-4-1-4-.2-2.5-.3-2.5-.3-2.5-.2-2.5-.6-.2-.6-.1-.6-.1-.6-.2-.5-.1-.5-.1-.4-.1-.5-.1Z"/></clipPath>
<g clip-path="url(#c9)" fill-rule="evenodd">
<rect x="314" y="512" width="121" height="99" fill="#0d1eff"/>
<path d="M315 512l120 0 0 99-59.9 0 0-1 1-1 0-3-1.1-.3-.2-.7-9.5-6-2.3-1.8-8.8-10.2-3.1-3-5.1-3.8-5-2.7-.9 .5 2.7 3 .2 .9 1 .1-15 15-.4 1-2 2 0 1-3 3 0 1-3 3 0 1-2 2-4.6 0 0-99ZM339.8 577l.2 .3 .1-.3Z" fill="#0835ff"/>
<path d="M315 512l120 0 0 99-49 0 0-1-1-1 0-1-1-1.1-1-.1-17-11.7-2-1.7-11-11.3-2.4-2.1-8.6-6.5-8-4.6-.5 1.1-.5 .2-3 0-1 1-2 0-1 1-3 0-1 1-2 0-1 1-3 0-1 1-1 0 0-63.2Z" fill="#034cff"/>
<path d="M315 512l120 0 0 99-45.7 0 0-1-1-1 0-1-2-2 0-1-.3-.4-1-.1-17-12.3-18-16.2-9-7-9-5.8-.3 .8-.7 .3-4 .1-1 1-2 0-1 1-2 0-1 1-3 0-1 1-2 0 0-56.4Z" fill="#0063ff"/>
<path d="M315 512l120 0 0 99-42.4 0 0-1-2-2 0-1-1-1 0-1-1.6-1.9-21-16.2-15-12.8-10-8-12-8.7-.2 .6-.8 .4-1-.9-1 1-2 0-1 1-3 0-1 1-2 0-1 1-3 0 0-49.5Z" fill="#0078ff"/>
<path d="M315 512l120 0 0 99-32.6 0-2.4-2.4-1 0-5-5-1 0-2-2.3-1-.1-47-38-14-10.9-1 .8-.1-1.1-.9-.5-2 .1-1 1-2 0-1 1-2 0-1 1-3 0-1 1 0-43.6Z" fill="#008cff"/>
<path d="M315 512l120 0 0 99-27 0-5-5-1 0-4-4-1 0-3-3-1.2 0-.8 .8-.6-.8-64.4-52-1 .4-1-.7-2 0-1 1-3 0-1 1-3 0-1 1 0-37.7Z" fill="#00a1ff"/>
<path d="M315 512l120 0 0 99-25.4 0-.6-.6-1 0-5-5.1-1 0-4-3.9-1 0-3.6-3.4-.3-1-67.6-54-.5-1.1-1 .9-2 0-1 1-3 0-1 1-3 0 0-32.8Z" fill="#00b7ff"/>
<path d="M315 512l120 0 0 99-19.7 0-3.3-3.3-1 0-4-4-1 0-5-5-1 0-3-3-1-.5-1 0-70-55.5-1-1.5-1 .7-2 0-1 1-3 0-1 1-2 0 0-28.9Z" fill="#00cdff"/>
<path d="M315 512l120 0 0 99-19.1 0-3.9-3.9-1 0-4-4-1 0-5-5-1 0-3.2-3.1 2-2-.8-.4-1 .6-.6-.2-72.4-57-2-3.1-.2 1.1-.8 1-1 0-1 1-3 0-1 1-1 0 0-25Z" fill="#00e3ff"/>
<path d="M315 512l120 0 0 99-12.5 0-1.5-1.5-1 0-4-4-1 0-5-5-1 0-5-5-1 0-4-4.3-.9-.2-74.1-57.9-1-.8-2-3.1-.6 .8-.1 1 .9 1-.2 2.1-1 0-1 1-3 0-1 1-1 0 0-24.1ZM320 528l0 .1 0-.1 0-.1Z" fill="#00f9ff"/>
<path d="M315 512l120 0 0 99-4.8 0-2.2-2.2-1 0-3-3-1 0-4-4-1 0-3-3-1 0-3-3-1 0-3-3-1 0-3-3-1 0-1-.9-1 .3-68.3-52.2-3.3-3-3.4-4-1-1.8-1.5-4.2-.5-2.3-.9 .3-.6 1-1.5 .7-.5 1.3-3.5 3.4-1 0 0-16.4Z" fill="#00ffed"/>
<path d="M319 512l116 0 0 99-4.1 0-2.9-2.9-1 0-3-3-1 0-4-4-1 0-3-3-1 0-3-3-1 0-3-3-1 0-3-3-1.2-.1 2.2-2.3 .2-.7-.2-.3-2 1.4-.3-.1-68.7-51-4.1-4-2-3-3.4-6-.8-2-2.2-2 0-1-1-1 0-2-1-1 0-2ZM404.8 585l.2 .1 .1-.1-.1-.1Z" fill="#00ffd4"/>
<path d="M325 512l110 0 0 97.4-3-3-1 0-3-3-1 0-3-3-1 0-3-3-1 0-4-4-1 0-3-3-1 0-3-3-1 0-1.3-1.4 1-1-.7-.7-1 .8-.4-.1-70.6-50.9-3.7-4.1-1.9-3-1.4-3-1.2-1-.8-1.3-.1-1.7 1.1-.7 .2-1.3 0-2-1-1 0-3Z" fill="#00ffbb"/>
<path d="M325 512l110 0 0 92.8-3-3-1 0-3-3-1 0-3-3-1 0-3-3-1 0-4-4-1 0-3-3-1 0-3-3.3-1 .8-.6-.3-72.4-50.9-4-4.9-1.4-3.2-1.3-2-.3-1 .4-1-.7-1 0-3-1-1 0-3Z" fill="#00ffa2"/>
<path d="M331 512l104 0 0 92.1-3-3-1 0-3-3-1 0-3-3-1 0-3-3-1 0-4-4-1 0-3-3-1 0-2.1-2.1 0-1 1.1-1.1 .3-.9-.3-.4-2 1.1-74-50.6-3-4.1-1.4-3-.1-1 .5-3 2.2-1-1.1-1 0-5ZM410.9 578l.1 .1 .1-.1-.1-.1ZM409.7 579l.3 .2 .2-.2-.2-.2Z" fill="#00ff84"/>
<path d="M331 512l104 0 0 87.4-3-2.7-1-.3-3-3-1 0-3-3-1 0-3-3-1 0-3-3-1 0-4-4-1 0-.3-.4 2.3-2.4 .3-.6-.3-.4-3 2.3-23.4-15.9-51.6-34-3.6-7 .5-3 .8-1-1.2-1 0-5Z" fill="#00ff65"/>
<path d="M331 512l104 0 0 86.7-1-.3-2.7-2.4-18.3-18.3-1-1.5-1.1 .8-22.9-15.2-43.2-27.8-5.7-4-4.1-3.9-1.3-2.1-.7-2.6-.2-3.4-2-1Z" fill="#00ff45"/>
<path d="M336 512l99 0 0 86.1-1-.1-21-20.9-.2-1.1 .6-1-67.4-42.3-6-4.4-3.1-3.3-.9-2-.9-5 1.4-1-.3-2-1-1 0-2ZM417 571ZM415.9 572l.1 .1 .1-.1-.1-.1ZM414.9 573l.1 .5 .1-.5ZM413.7 574l.3 .5 .5-.5-.5-.1Z" fill="#01ff27"/>
<path d="M336 512l99 0 0 80.4-1 0-18.4-18.4 0-1 2-2-.6-.4-2 1.6-1 .3-36-22.5-31-18.8-4.7-3.2-2-2-1.3-2-1.4-6 0-1-.6-.4-.3-1.6-1-1 0-2ZM418.7 569l.3 .2 .2-.2-.2-.2ZM417.6 570l.4 .5 .3-.5-.3-.3Z" fill="#13ff1d"/>
<path d="M341 512l94 0 0 74.8-1 0-15.8-15.8 .4-1 1-1-.6-.5-2 1.7-1 .4-36-22-32-18.9-5-3.4-1-1.3-2.1-8 1.1-.6 .1-.4 0-3-1-1Z" fill="#26ff13"/>
<path d="M341 512l94 0 0 74.2-1 0-15.2-15.2 .1-1 1-1-.9-.9-1 .7-32-19.2-38.8-22.6-3.2-4.7-1.5-5.3-.5-.2-.4-.8 0-3-1-1Z" fill="#38ff08"/>
<path d="M348 512l87 0 0 68.6-1 0-14-14.3-1 0-32.8-19.3-13.9-9-14.8-9-3.5-2.6-5-4.3-3.8-6.1 .8-.7 1-.1 .1-3.2ZM424.7 562l.3 .3 .3-.3-.3-.3ZM423.7 563l.3 .3 .3-.3-.3-.3ZM422.6 564l.4 .4 .3-.4-.3-.3ZM421.6 565l.4 .4 .4-.4-.4-.4ZM420.3 566l.7 .4 .4-.4-.4-.4Z" fill="#4cff00"/>
<path d="M354 512l81 0 0 63.8-11-11-.1-.8 2-2-.9-.8-3.3 2.8-10.7-8.1-21-13.8-9-5-17.3-9.1-5.7-3.7-4-3.7-3.3-3.6 1.3-.7 .1-1.3 1-1 0-2Z" fill="#66ff00"/>
<path d="M360 512l75 0 0 48.6-4-4-4-1.6-21-11-13-7.5-28-12.6-4.7-2.9-3.1-3 1.2-1 0-3 1-1 0-1Z" fill="#80ff00"/>
<path d="M370 512l65 0 0 6.8-1.2 1.2 0 1-2 2 0 1-3 3 0 1-3 3 0 1-3 3 0 1-3 3 0 1-.8 .8-1 .4-10-4-12-6.3-27-10.1-.8-1.8 0-1 1-1 0-5Z" fill="#9aff00"/>
<path d="M389.4 611l0-1-1-1 0-1-2-2 0-1-.4-.5-1-.3-18-13.2-15.4-14-3.7-3-6.9-5.3-9-5.9-.5 1.2-.5 .3-4 0-1 1-2 0-1 1-2 0-1 1-3 0-1 1-2 0M430 611l-2-2-1 0-3-3-1 0-4-4-1 0-3-3-1 0-3-3-1 0-3-3-1 0-3-3-3 0-42-32.5-27-20.6-6.2-5.9-1-2-1.1-3-.6-2-.1-2-.1 1-.9 2.1-1 .8-.4-.9-.6-.5-.2 .5-3.8 3.7-1 0M435 592.8l-1 0-18.8-18.8 .1-1-.3-.4-1 .8-1 .2-31-19.6-35.6-22-4.4-3-3.1-3-1.5-2-1.2-6 .7-1-.5-1 0-1-1-1 0-2M419 569M418 569.9l-.1 .1 .1 .2 .1-.2-.1-.1M417 570.8l-.3 .2 .3 .3 .3-.3-.3-.2M416 571.7l-.4 .3 .4 .3 .3-.3-.3-.3" fill="none" stroke="rgba(55,55,55,0.5)" stroke-width="0.8"/>
<path d="M317.7 521l5.3-1.3 5.4-1.1 5.4-.9 5.3-1.1 5.4-1 5.3 .8 5.4 1.2 5.3 1.2 5.4 1.1 5.3 .9 5.4 .9 5.3 1.3 5.2 1.7 5.2 1.6 5.2 1.9 4.9 2.5 4.8 2.4 4.7 2.9 4.4 3.3 4.3 3.2 4 3.8 3.4 4.2 3.4 4.3M318.9 521.2l5-.1 5-.1 5 .3 5 .3 5 .3 4.8 1.4 4.7 1.9 4.7 1.8 4.7 1.8 4.7 1.7 4.7 1.7 4.7 1.9 4.7 2 4.7 2 4.6 2.1 4.5 2.3 4.6 2.3 4.4 2.4 4.4 2.6 4.3 2.6 4.2 2.8 4 3 4 3M320.2 521.6l4.6 .9 4.6 1 4.5 1.3 4.5 1.5 4.5 1.4 4.3 2 4.2 2.2 4.2 2.3 4.2 2.3 4.2 2.2 4.2 2.3 4.2 2.2 4.2 2.3 4.2 2.3 4.2 2.2 4.2 2.3 4.2 2.2 4.2 2.3 4.2 2.3 4.2 2.2 4.2 2.3 4.2 2.2 4.2 2.3M321.7 521.9l4 2.1 4 2.1 3.9 2.2 3.9 2.3 4 2.2 3.8 2.4 3.9 2.4 3.9 2.4 3.8 2.3 3.9 2.4 3.9 2.4 3.9 2.4 3.8 2.4 3.9 2.4 3.9 2.4 3.8 2.4 3.9 2.4 3.9 2.4 3.8 2.4 3.9 2.4 3.9 2.4 3.8 2.4 3.9 2.3M322.5 527l3.6 2.4 3.6 2.4 3.6 2.5 3.6 2.5 3.6 2.4 3.5 2.5 3.6 2.5 3.6 2.4 3.6 2.5 3.5 2.5 3.6 2.4 3.6 2.5 3.6 2.5 3.5 2.5 3.6 2.4 3.6 2.5 3.6 2.5 3.5 2.4 3.6 2.5 3.6 2.5 3.6 2.5 3.5 2.4 3.6 2.5M323.5 534l3.3 2.5 3.2 2.5 3.3 2.5 3.3 2.5 3.2 2.5 3.3 2.5 3.3 2.5 3.2 2.5 3.3 2.5 3.3 2.5 3.3 2.6 3.2 2.5 3.3 2.5 3.3 2.5 3.2 2.5 3.3 2.5 3.3 2.5 3.2 2.5 3.3 2.5 3.3 2.5 3.2 2.5 3.3 2.5 3.3 2.5M326 544l2.9 2.4 2.8 2.4 2.9 2.5 2.9 2.4 2.9 2.4 2.8 2.4 2.9 2.4 2.9 2.5 2.8 2.4 2.9 2.4 2.9 2.4 2.9 2.4 2.8 2.5 2.9 2.4 2.9 2.4 2.8 2.4 2.9 2.5 2.9 2.4 2.9 2.4 2.8 2.4 2.9 2.4 2.9 2.5 2.8 2.4M329.7 557.4l2.6 1.9 2.6 1.9 2.5 1.9 2.5 2 2.4 2.2 2.4 2.2 2.4 2.2 2.4 2.1 2.3 2.2 2.3 2.3 2.4 2.2 2.3 2.2 2.3 2.3 2.3 2.2 2.3 2.2 2.5 2.1 2.5 1.9 2.6 1.9 2.6 1.9 2.6 1.9 2.5 1.9 2.6 1.9 2.6 1.9M334.3 573l2.3 1.2 2.3 1.1 2.3 1.2 2.2 1.2 1.9 1.9 1.8 1.8 1.8 1.8 1.8 1.8 1.8 1.9 1.7 2 1.6 2 1.6 2 1.7 2 1.6 2 1.7 2 2.1 1.4 2.3 1.1 2.3 1.1 2.4 1.1 2.3 1.1 2.3 1.1 2.4 1.1 2.3 1.1M317.7 521l.5 .1 .4 .1 .5 .1 .5 .1 .6 .2 .6 .1 .6 .1 .6 .2 .2 2.5 .3 2.5 .3 2.5 .2 2.5 1 4 1 4 1 4 1 4 1.8 6.2 1.8 6.3 1.9 6.3 1.8 6.2M328.9 518.5l.2 1 .2 1 .2 1 .2 1 .1 1.1 .1 1.1 .1 1.1 .1 1.1 0 2.6-.1 2.6 0 2.6 0 2.6 .7 3.9 .6 3.9 .7 4 .7 3.9 1.6 5.6 1.6 5.6 1.6 5.6 1.6 5.6M340.1 516.5l-.1 2-.1 2.1-.2 2.1-.1 2-.4 1.8-.4 1.8-.4 1.8-.3 1.8-.3 2.6-.3 2.7-.2 2.7-.3 2.6 .3 3.9 .4 3.9 .3 3.8 .3 3.9 1.4 5 1.4 5 1.3 5.1 1.4 5M351.3 516.7l-.6 2.9-.5 2.8-.5 2.9-.6 2.8-.8 2.2-.7 2.2-.8 2.2-.8 2.2-.5 2.7-.5 2.8-.5 2.7-.5 2.7 0 3.8 0 3.8 0 3.8 0 3.8 .9 4.7 .9 4.7 .9 4.8 .9 4.7M362.4 519.2l-1 3.4-1.1 3.4-1 3.3-1.1 3.4-1.1 2.3-1 2.3-1.1 2.4-1 2.3-.8 2.8-.7 2.7-.8 2.8-.7 2.8-.3 3.7-.4 3.7-.3 3.7-.3 3.8 .4 4.4 .4 4.4 .5 4.5 .4 4.4M373.7 521.2l-1.6 4-1.6 4.1-1.6 4-1.7 4-1.3 2.5-1.3 2.4-1.4 2.4-1.3 2.4-1 2.9-.9 2.8-1 2.8-1 2.9-.7 3.6-.6 3.7-.7 3.6-.6 3.7-.2 4.2-.1 4.2-.1 4.2-.1 4.2M384.8 523.9l-2.2 4.5-2.1 4.5-2.1 4.5-2.1 4.5-1.6 2.6-1.6 2.5-1.6 2.6-1.6 2.5-1.3 2.9-1.2 2.9-1.2 2.9-1.2 2.8-1 3.6-1 3.6-1 3.6-1 3.5-.6 4.1-.7 4-.7 4-.7 4M395.6 527.5l-2.6 4.8-2.5 4.7-2.6 4.8-2.5 4.8-1.9 2.6-1.9 2.7-1.9 2.6-1.9 2.7-1.4 2.9-1.5 2.9-1.4 3-1.5 2.9-1.3 3.5-1.3 3.5-1.4 3.5-1.3 3.5-1.2 3.8-1.3 3.8-1.2 3.8-1.2 3.8M405.9 532.4l-2.9 4.7-2.8 4.7-2.9 4.7-2.9 4.7-2.1 2.7-2.2 2.8-2.2 2.8-2.1 2.7-1.7 3-1.7 3-1.7 3-1.7 3-1.7 3.4-1.6 3.5-1.7 3.4-1.6 3.4-1.6 3.3-1.5 3.3-1.6 3.3-1.5 3.3M415.5 538.7l-3 4.2-3 4.3-3 4.3-3 4.3-2.5 2.9-2.4 2.8-2.5 2.9-2.4 2.9-1.9 3-1.9 3.1-2 3-1.9 3.1-2 3.3-2 3.4-2 3.4-1.9 3.3-1.8 2.6-1.8 2.7-1.7 2.6-1.8 2.6M424.2 545.9l-2.9 3.6-2.9 3.7-2.9 3.6-3 3.6-2.7 3-2.7 3-2.7 3-2.7 2.9-2.2 3.1-2.2 3.1-2.1 3.1-2.2 3.1-2.3 3.3-2.3 3.3-2.4 3.3-2.3 3.3-1.9 2-2 1.9-1.9 1.9-2 2M431.4 554.8l-2.5 2.5-2.4 2.6-2.4 2.5-2.5 2.6-3 3.1-3 3.1-3 3.1-3 3.1-2.4 3.2-2.4 3.1-2.4 3.1-2.4 3.2-2.6 3.2-2.7 3.2-2.7 3.3-2.6 3.2-2.2 1.3-2.1 1.2-2.1 1.3-2.2 1.3" fill="none" stroke="rgba(95,95,95,0.45)" stroke-width="0.5"/>
</g></g>
<g transform="translate(0 0)">
<clipPath id="c10"><path d="M253.2 423.9l.4 0 .5-.1 .4 0 .5 0 .4-.1 .5 0 .4 0 .5-.1 .4 0 .5 0 .4-.1 .5 0 .4 0 .5-.1 .4 0 2.5 2.6 2.6 2.6 2.5 2.6 3.7 4.9 3.7 5 3.7 4.9 2.3 7 2.3 7 2.3 7 1.3 4.7 1.4 4.6 1.3 4.7 .9 2.7 .9 2.6 .9 2.7 1.1 3.3 1.2 3.4 1.1 3.3 .6 2.3 .7 2.4 .6 2.3 1 3.7 1 3.6 1 3.7 .7 2.3 .6 2.4 .7 2.3 .7 2.7 .8 2.6 .7 2.7 .8 2.7 .7 2.6 .8 2.7 .7 2.3 .6 2.4 .7 2.3 .7 2.7 .6 2.6 .7 2.7-3.5-1-3.5-.9-3.5-1-3.5-.9-3.5-1-3.5-.6-3.6-.5-3.6-.6-3.6-.5-3.6-.6-3.6-.3-3.6-.4-3.6-.4-3.6-.3-3.6-.4-1.6-2.2-1.5-2.2-1.6-2.2-1.9-2.7-1.9-2.6-1.9-2.7-2-3.3-2.1-3.4-2-3.3-1.8-3-1.8-3-1.8-3-1.5-3-1.4-3-1.5-3-1.6-3.9-1.5-3.8-1.6-3.9 .9-2.5 .8-2.4 .9-2.5 1.2-3.3 1.1-3.4 1.2-3.3 .9-2.7 1-2.6 .9-2.7 .8-3 .9-3 .8-3 1.4-4.4 1.3-4.4 1.4-4.4 2.2-4.4 2.3-4.5 2.2-4.4 1.5-2.2 1.4-2.2 1.5-2.2Z"/></clipPath>
<g clip-path="url(#c10)" fill-rule="evenodd">
<rect x="223" y="420" width="91" height="138" fill="#7800f5"/>
<path d="M224 420l90 0 0 138-41.4 0 0-2 1-1 0-6 .7-1-1.3-.4-.6-.6-12.4-1.7-3-.8-1 1.1-1 0-2 2-1 0-3 3-1 0-2 2-1 0-3 3-1 0-2 2-1 0-.4 .4-14.6 0 0-138Z" fill="#5b00f8"/>
<path d="M224 420l90 0 0 138-13.6 0 1-1 0-3 .7-1-1.1-.3-.6-.7-5.9-2-17.5-3.8-20-2.6-.7 .4-.3 1.1-1 0-2 2-1 0-3 3-1 0-2 2-1 0-3 3-1 0-2 2-1 0-.9 .9-14.1 0 0-138Z" fill="#4100fa"/>
<path d="M224 420l90 0 0 132.4-1 1-2 0-18-5.6-10-2.2-8-1.3-19-2-1 .2-1 1-1 0-3 3-1 0-2 2-1 0-3 3-1 0-2 2-1 0-3 3-1 0-1.5 1.5-10.5 0 0-138Z" fill="#2700fd"/>
<path d="M224 420l90 0 0 129.4-1 1-2 0-1 .4-18-5-11-2.4-27-2.6-1 .1-2 2-1 0-2 2-1 0-2 2-1 0-3 3-1 0-2 2-1 0-3 3-1 0-2 2-1 0-1.1 1.1-5.9 0 0-138Z" fill="#1306ff"/>
<path d="M224 420l90 0 0 127.5-3 0-1 1-17.9-4.5-12.1-2.6-26-1.7-3 2.6-1 0-2 2-1 0-2 2-1 0-3 3-1 0-2 2-1 0-3 3-1 0-2 2-1 0-1.7 1.7-5.3 0 0-138Z" fill="#0d1eff"/>
<path d="M224 420l90 0 0 124.7-2 0-1 1-2 0-1 .4-28-6.3-27-1.6-1-.6-2 2.1-1 0-2 2-1 0-3 3-1 0-2 2-1 0-3 3-1 0-2 2-1 0-3 3-1 0-2 2-1 0-1.3 1.3-.7 0 0-138Z" fill="#0835ff"/>
<path d="M224 420l90 0 0 124-2 0-1 1-2 0-26-6.2-5-.9-26-1.5-1 .6 0 1-1 1-1 0-2 2-1 0-3 3-1 0-2 2-1 0-3 3-1 0-2 2-1 0-3 3-1 0-2 2-1 0-2 2 0-138Z" fill="#034cff"/>
<path d="M224 420l90 0 0 121.3-1 1-3 0-1 1-1 .2-1-.6-29-6.5-27-1.7-1 .6-1 0-2 2-1 0-3 3-1 0-2 2-1 0-3 3-1 0-2 2-1 0-2 2-1 0-3 3-1 0-2 2 0-134.3Z" fill="#0063ff"/>
<path d="M224 420l90 0 0 119.7-2 0-1 1-3 0-1 .8-30-6.8-28-1.9-1-.3-1 1.2-1 0-3 3-1 0-2 2-1 0-2 2-1 0-3 3-1 0-2 2-1 0-3 3-1 0-2 2 0-130.7Z" fill="#0078ff"/>
<path d="M224 420l90 0 0 117-1 0-1 1-3 0-1 1-1 0-1 .8-28-6.5-3-.4-28-1.9-1-1-1 1-1 0-1 1-1 0-2 2-1 0-1 1-1 0-2 2-1 0-1 1-1 0-2 2-1 0-2 2-1 0-1 1-1 0-1 1 0-124Z" fill="#008cff"/>
<path d="M224 420l90 0 0 116.4-1 0-1 1-3 0-1 1-2-.1-27-6.4-4-.7-29-2.2-1 1.4-1 0-1 1-1 0-2 2-1 0-1 1-1 0-2 2-1 0-1 1-1 0-2 2-1 0-2 2-1 0-1 1-1 0-1 1 0-123.4Z" fill="#00a1ff"/>
<path d="M224 420l90 0 0 113.8-1 0-1 1-2 0-1 1-3 0-1 .8-27-6.5-4-.7-31-2.6-1 1-1 0-2 2-1 0-1 1-1 0-2 2-1 0-2 2-1 0-1 1-1 0-2 2-1 0-1 1-1 0 0-118.8Z" fill="#00b7ff"/>
<path d="M224 420l90 0 0 113.2-1 0-1 1-2 0-1 1-4 0-28-6.9-4-.7-28-2.3-.5 .7-1.5 .2-1 1-1 0-2 2-1 0-1 1-1 0-2 2-1 0-2 2-1 0-1 1-1 0-2 2-1 0-1 1-1 0 0-118.2Z" fill="#00cdff"/>
<path d="M224 420l90 0 0 110.7-1 1-3 0-1 1-2 0-1 1-1 0-32-7.7-30-2.8-1-.7-1 1.2-1 0-2 2-1 0-2 2-1 0-1 1-1 0-2 2-1 0-1 1-1 0-2 2-1 0-1 1 0-114.7Z" fill="#00e3ff"/>
<path d="M224 420l90 0 0 110.1-1 1-3 0-1 1-2 0-1 1-1-.9-31-7.7-3-.5-29-2.7-.8 .7-.2 1.1-1 0-2 2-1 0-2 2-1 0-1 1-1 0-2 2-1 0-1 1-1 0-2 2-1 0-1 1 0-114.1Z" fill="#00f9ff"/>
<path d="M224 420l90 0 0 108.4-3 0-1 1-3 0-1 1-2 0-33-8.1-31-3.2-1 1.3-1 0-2 2-1 0-1 1-1 0-2 2-1 0-1 1-1 0-2 2-1 0-1 1-1 0 0-109.4Z" fill="#00ffed"/>
<path d="M224 420l90 0 0 105.7-3 0-1 1-2 0-1 1-3 0-1 .7-29-7.3-4-.8-31-3.1-1-.5-1 1-1 0-2 2-1 0-1 1-1 0-2 2-1 0-1 1-1 0-2 2-1 0 0-105.7Z" fill="#00ffd4"/>
<path d="M224 420l90 0 0 105.1-3 0-1 1-2 0-1 1-3 0-31-7.9-4-.8-30-3-2 1.7-1 0-2 2-1 0-1 1-1 0-2 2-1 0-1 1-1 0-2 2-1 0 0-105.1Z" fill="#00ffbb"/>
<path d="M224 420l90 0 0 102.4-2 0-1 1-3 0-1 1-2 0-1 1-1 .1-1-.6-29-7.4-5-1-31-3.2-1 .1-2 2-1 0-1 1-1 0-2 2-1 0-1 1-1 0-2 2-1 0 0-101.4Z" fill="#00ffa2"/>
<path d="M224 420l90 0 0 99.7-1 0-1 1-3 0-1 1-2 0-1 1-2 0-1 .6-30-7.7-5-1-31-3.3-1-.7-1 .1-1 1-1 0-1 1-1 0-1 1-1 0-1 1-1 0-1 1-1 0-1 1 0-96.7Z" fill="#00ff84"/>
<path d="M224 420l90 0 0 99.1-1 0-1 1-3 0-1 1-2 0-1 1-2 0-1-.7-1 .2-34-8.7-32-3.6-2 1.8-1 0-1 1-1 0-1 1-1 0-1 1-1 0-1 1-1 0-1 1 0-96.1Z" fill="#00ff65"/>
<path d="M224 420l90 0 0 96.4-1 1-2 0-1 1-3 0-1 1-2 0-1 1-1 0-32-8.5-4-.8-32-3.8-1 .1-1 1-1 0-1 1-1 0-1 1-1 0-1 1-1 0-1 1-1 0 0-92.4Z" fill="#00ff45"/>
<path d="M224 420l90 0 0 94.7-2 0-1 1-2 0-1 1-3 0-1 1-2 0-1 1.1-31-8.5-5-1.1-32-3.9-1-.7-1 1.1-2 0-1 1-1 0-1 1-1 0-1 1-1 0 0-88.7Z" fill="#01ff27"/>
<path d="M224 420l90 0 0 94.1-2 0-1 1-2 0-1 1-3 0-1 1-2 0-1 1-.9-1.1-33.2-9-4.9-.9-30-3.8-.8 .7-.2 1.1-2 0-1 1-1 0-1 1-1 0-1 1-1 0 0-88.1Z" fill="#13ff1d"/>
<path d="M224 420l90 0 0 91.6-2 0-1 1-3 0-1 1-2 0-1 1-3 0-1 1.1-31-8.6-6-1.3-32-4.2-2 0-1 1-2 0-1 1-1 0-1 1 0-84.6Z" fill="#26ff13"/>
<path d="M224 420l90 0 0 91.2-2 0-1 1-3 0-1 1-2 0-1 1-3 0-1 .5-1-.7-35-9.4-33-4.4-.5 .8-1.5 .2-1 1-2 0-1 1-1 0-1 1 0-84.2Z" fill="#38ff08"/>
<path d="M224 420l90 0 0 87.9-2 0-1 1-2 0-1 1-3 0-1 1-3 0-2 1.8-31-8.5-6-1.3-32-4.2-1-1-2 .2-1 1-1 0-1 1-1 0 0-79.9Z" fill="#4cff00"/>
<path d="M224 420l90 0 0 87.5-2 0-1 1-2 0-1 1-3 0-1 1-3 0-1 1-1 .2-1-.6-31-8.5-5-1.1-33-4.5-1 .5-1 0-1 1-1 0-1 1-1 0 0-79.5Z" fill="#66ff00"/>
<path d="M224 420l90 0 0 87.1-2 0-1 1-2 0-1 1-3 0-1 1-3 0-1 1-1 0-.6-1.1-.4-.2-31-8.6-6-1.3-32-4.2-.5 .3-.3 1-1.2 .1-1 1-1 0-1 1-1 0 0-79.1Z" fill="#80ff00"/>
<path d="M224 420l90 0 0 83.7-1 0-1 1-3 0-1 1-3 0-1 1-2 0-1 1-2 0-1 .8-32-8.9-5-1.1-32-4.3-2-.5-1 0-1 1-1 0-1 1 0-75.7Z" fill="#9aff00"/>
<path d="M224 420l90 0 0 83.3-1 0-1 1-3 0-1 1-3 0-1 1-2 0-1 1-3 .2-1-.6-31-8.6-6-1.3-32-4.3-1 .6-1 0-1 1-1 0-1 1 0-75.3Z" fill="#b2ff00"/>
<path d="M224 420l90 0 0 80.8-2 0-1 1-3 0-1 1-3 0-1 1-2 0-1 1-2 0-1 .6-29-8.1-8-1.9-33-4.5-1-1.1-2 0-1-1 0-68.8Z" fill="#c9ff00"/>
<path d="M224 420l90 0 0 77.8-1 1-3 0-1 1-3 0-1 1-2 0-1 1-3 0-1 1-2 .3-35-9.8-33-4.7-1-.8-1 0-1-1-1 0-1-1 0-65.8Z" fill="#dfff00"/>
<path d="M224 420l90 0 0 75.9-2 0-1 1-3 0-1 1-3 0-1 1-2 0-1 1-3 0-1 1.2-31-9.1-5-1.2-31-4.5-.5-.3-.5-1.1-2 0-1-1-2 0 0-63.9Z" fill="#f5ff00"/>
<path d="M224 420l90 0 0 71-1 1-2 0-1 1-2 0-1 1-2 0-1 1-2 0-1 1-2 0-1 1-1 0-2 1.7-34-10-31.1-4.7-1.9-2-2 0-1-1-1 0-1-1 0-60Z" fill="#fff600"/>
<path d="M224 420l90 0 0 70.2-1 1-2 0-1 1-2 0-1 1-2 0-1 1-2 0-1 1-2 0-1 1-1 0-1 1-1 .1-1-1.2-33-10-30-4.7-2 .8-1-1-2 0-1-1-1 0-1-1 0-59.2Z" fill="#ffe500"/>
<path d="M224 420l90 0 0 67.4-2 0-1 1-2 0-1 1-2 0-1 1-2 0-1 1-2 0-1 1-2 0-1 1-1 0-1 .9-1-.9-32-9.9-29-4.7-1 .1-1-.5-1 0-1-1-2 0-1-1-2 0 0-56.4Z" fill="#ffd400"/>
<path d="M224 420l90 0 0 63.6-1 0-1 1-2 0-1 1-2 0-1 1-2 0-1 1-2 0-1 1-2 0-1 1-2 0-2 2-1-.8-27-8.9-4-1-29-4.8-1-.5-1-1-2 0-1-1-2 0-1-1-1 0 0-52.6ZM231 477.6l.3 .4-.3 .2-.4-.2Z" fill="#ffc300"/>
<path d="M224 420l90 0 0 60.9-2 0-1 1-2 0-1 1-2 0-1 1-2 0-1 1-2 0-1 1-2 0-1 1-2 0-2 1.9-30-10-29-5-2-1.9-2 0-1-1-2 0-1-1-2 0 0-49.9ZM232 474.2l.7 .8-.7 .5-.8-.5Z" fill="#ffaf00"/>
<path d="M224 420l90 0 0 60.4-2 0-1 1-2 0-1 1-2 0-1 1-2 0-1 1-2 0-1 1-2 0-1 1-2 0-1 1-1 .4-27-9.4-4-1.1-27-4.7-1 .2-1-.4-1-1-2 0-1-1-2 0-1-1-2 0 0-49.4ZM232 475Z" fill="#ff9b00"/>
<path d="M224 420l90 0 0 58-2 0-1 1-2 0-1 1-2 0-1 1-2 0-1 1-2 0-1 1-2 0-1 1-2 0-1 1-1.2 0-.1 1-.7 .2-26-9.1-4-1.1-27-4.7-1 1-.9-.3 1.1-1-.1-1-1.1 0-1-1-2 0-1-1-2 0-1-1-2 0 0-47Z" fill="#ff8600"/>
<path d="M224 420l90 0 0 57.5-2 0-1 1-2 0-1 1-2 0-1 1-2 0-1 1-2 0-1 1-2 0-1 1-2 0-1 1-3 .2-25-8.8-4-1.2-26-4.5-2-.7-1 0-1-1-2 0-1-1-2 0-1-1-2 0 0-46.5Z" fill="#ff7100"/>
<path d="M224 420l90 0 0 57-2 0-1 1-2 0-1 1-2 0-1 1-2 0-1 1-2 0-1 1-2 0-1 1-2 0-1 1-2 0-26-9.3-4-1.2-26-4.7-1 .5-2-.3-1-1-2 0-1-1-2 0-1-1-2 0 0-46Z" fill="#ff5a00"/>
<path d="M224 420l90 0 0 54.6-2 0-1 1-2 0-1 1-2 0-1 1-2 0-1 1-2 0-1 1-2 0-1 1-2 0-1 1-3 0-1 .5-27-9.6-26-4.8-2-1.1-2 0-1-1-2 0-1-1-2 0-1-1-2 0 0-43.6Z" fill="#ff4200"/>
<path d="M224 420l90 0 0 54.1-2 0-1 1-2 0-1 1-2 0-1 1-2 0-1 1-2 0-1 1-2 0-1 1-2 0-1 1-4-.1-26-9.5-28-5.4-3 0-1-1-2 0-1-1-2 0-1-1-2 0 0-43.1Z" fill="#ff2b00"/>
<path d="M224 420l90 0 0 51.5-1 0-1 1-3 0-1 1-2 0-1 1-3 0-1 1-2 0-1 1-3 0-1 1-2 0-1 1-3 0-23-8.3-4-1.2-25-4.6-1 .1-1-1-3 0-1-1-3 0-1-1-2 0-1-1 0-40.5Z" fill="#ff1400"/>
<path d="M224 420l90 0 0 46.9-1 0-1 1-3 0-1 1-2 0-1 1-3 0-1 1-2 0-1 1-3 0-1 1-3 0-1 1-2.1 .1-.9 1.7-25-8.7-25-4.1-.8-.9-1.2-.1-1-1-2 0-1-1-3 0-1-1-2 0-1-1-1 0 0-37.9ZM288 476l.2 0-.3 0Z" fill="#ff1000"/>
<path d="M224 420l90 0 0 46.4-1 0-1 1-3 0-1 1-2 0-1 1-3 0-1 1-2 0-1 1-3 0-1 1-3 0-1 1-2 0-27-8.8-24-3.5-2 .3-1-1-2 0-1-1-3 0-1-1-2 0-1-1-1 0 0-37.4Z" fill="#ff0c00"/>
<path d="M224 420l90 0 0 41.8-2 0-1 1-2 0-1 1-3 0-1 1-2 0-1 1-3 0-1 1-2 0-1 1-3 0-1 1-2 0-2 1.6-25-8-23-3-1-.6-1 0-1-1-2 0-1-1-3 0-1-1-3 0-1-1-1 0 0-34.8Z" fill="#ff0800"/>
<path d="M224 420l90 0 0 41.2-2 0-1 1-2 0-1 1-3 0-1 1-2 0-1 1-3 0-1 1-2 0-1 1-3 0-1 1-2 0-1 1-2-1.6-24-7.4-23-2.6-1 .6-1 0-1-1-2 0-1-1-3 0-1-1-3 0-1-1-1 0 0-34.2Z" fill="#ff0400"/>
<path d="M224 420l90 0 0 33.4-1 1-2 0-1 1-2 0-1 1-2 0-1 1-2 0-1 1-2 0-1 1-2 0-1 1-3 0-1 1-2 0-1 1-2 0-1 1-2-1.2-22-6.7-21-1.9-1 0-1 .6-1 0-1-1-3 0-1-1-2 0-1-1-2 0-1-1-2 0-1-1 0-29.2Z" fill="#ff0000"/>
<path d="M224 420l90 0 0 26.4-3 0-1 1-2 0-1 1-2 0-1 1-2 0-1 1-2 0-1 1-2 0-1 1-2 0-1 1-2 0-1 1-2 0-1 1-2 0-1 1-1 .3-1-1-18-5.5-3-.7-19-1.1-.8 .6-.1 1-1.1 0-1-1-2 0-1-1-2 0-1-1-2 0-1-1-3 0-1-1-2 0 0-25Z" fill="#f00000"/>
<path d="M224 420l90 0 0 18.5-2 0-1 1-2 0-1 1-2 0-1 1-2 0-1 1-2 0-1 1-2 0-1 1-2 0-1 1-2 0-1 1-2 0-1 1-2 0-1 1-2 0-1 1-1 0-20-5.8-17-.4-.4-.3 .7-1-1.3-1.1-1 0-1-1-1 0-1-1-1 0-1-1-1 0-1-1-1 0-1-1-1 0-1-1-1 0-1-1-1 0-1-1-1 0-1-1-1 0 0-11.9Z" fill="#de0000"/>
<path d="M224 420l1 0 83.4 0-.4 .4-1 0-3 3-1 0-3 3-1 0-3 3-1 0-3 3-1 0-3 3-1 0-3 3-1 0-3 3-1 0-1 1-1 0-1 .7-15-3.9-2-.3-14.4 .1 .6-1-.1-1-1.1 0-1-1-1 0-1-1-1 0-1-1-1 0-1-1-1 0-1-1-1 0-1-1-1 0-1-1-1 0-1-1-1 0-1-1-1 0-1-1-1 0-1-1 0-6Z" fill="#cd0000"/>
<path d="M224 420l1 0 72.3 0-2.3 2.3-1 0-3 3-1 0-3 3-1 0-3 3-1 0-3 3-1 0-3 3-1 0-1 1.1-2-1.3-12-2.6-11 .4-1-.3-1 1.4-2 0-1-1-1 0-1-1-1 0-1-1-1 0-1-1-1 0-1-1-1 0-1-1-1 0-1-1-1 0-1-1-1 0-1-1-1 0-1-1-1 0-1-1 0-5Z" fill="#b40000"/>
<path d="M224 420l1 0 62.1 0-1.1 1.1-1 0-3 3-1 0-3 3-1 0-3 3-1 0-2 2-1 0-1 1.1-1-1.6-10-1.5-9 .5-.8 1.4-1.2 .1-1-1-1 0-1-1-1 0-1-1-1 0-1-1-1 0-1-1-1 0-1-1-1 0-1-1-1 0-1-1-1 0-1-1-1 0-1-1-1 0-1-1-1 0-1-1-1 0Z" fill="#980000"/>
<path d="M241 420l1 0 29.6 0-6.6 6.6-1 0-1 .8-6-.6-5 .4-1 .4-2-2-1 0-2-2-1 0-2-2-1 0-1.6-1.6Z" fill="#7c0000"/>
<path d="M258 558l0-8 1-1 0-3-1 0-1-1-1 1-1 0-2 2-1 0-3 3-1 0-2 2-1 0-3 3-1 0-2 2-1 0M314 541.3l-1 1-3 0-1 1-1 .1-1-.6-25-5.8-4-.7-27-1.8-1 .8-1 0-2 2-1 0-3 3-1 0-2 2-1 0-3 3-1 0-2 2-1 0-2 2-1 0-3 3-1 0-2 2M314 528.6l-3 0-1 1-3 0-1 1-2 .2-29-7.3-4-.8-30-2.9-1-.4-1 1.2-1 0-2 2-1 0-1 1-1 0-2 2-1 0-1 1-1 0-2 2-1 0-1 1-1 0M314 514.4l-2 0-1 1-2 0-1 1-3 0-1 1-2 0-1 1.1-1-.7-31-8.4-4-.9-33-4.3-1 1.2-2 0-1 1-1 0-1 1-1 0-1 1-1 0M314 503.2l-1 0-1 1-3 0-1 1-3 0-1 1-2 0-1 1-3 .3-1-.8-31-8.6-6-1.3-32-4.3-.4 .5-.6 .2-1 0-1 1-1 0-1 1M314 481l-2 0-1 1-2 0-1 1-2 0-1 1-2 0-1 1-2 0-1 1-2 0-1 1-2 0-2 2-30.2-10-28.8-4.9-.2 .9-.8 .6-1-.6 1-1 0-1-1-1-2 0-1-1-2 0-1-1-2 0M314 471.2l-1 0-1 1-3 0-1 1-2 0-1 1-3 0-1 1-2 0-1 1-3 0-1 1-2 0-1 1-2 .1-.6-.3-.4-.7-23-8.2-4-1.2-24-4-1-.3-1 .6-1-1-3 0-1-1-3 0-1-1-2 0-1-1M288 474.8l-.1 .2 .1 .2 .2-.2-.2-.2M308.2 420l-.2 .2-1 0-3 3.1-1 0-3 2.9-1 0-3 3-1 0-3 3.1-1 0-3 2.9-1 0-3 3-1 0-3 3.1-1 0-1 1-1-.1-1 .4-1-.5-15-3.8-2-.1-12 .3-.6-1.5-1.4-.2-1-1-1 0-1-1-1 0-1-1-1 0-1-1-1 0-1-1-1 0-1-1-1 0-1-1-1 0-1-1-1 0-1-1-1 0-1-1-1 0-1-1" fill="none" stroke="rgba(55,55,55,0.5)" stroke-width="0.8"/>
<path d="M253.2 423.9l.4 0 .5-.1 .4 0 .5 0 .4-.1 .5 0 .4 0 .5-.1 .4 0 .5 0 .4-.1 .5 0 .4 0 .5-.1 .4 0M247.6 432.9l1.5-.1 1.4-.1 1.5-.2 1.5-.1 1.4-.1 1.5-.1 1.5-.2 1.4 .1 1.5 .3 1.4 .2 1.5 .3 1.5 .2 1.4 .3 1.5 .2 1.4 .3M240.6 448.6l2.7 0 2.8 0 2.7 0 2.8 0 2.7 0 2.7 0 2.8 0 2.7 .4 2.6 .7 2.7 .6 2.7 .7 2.6 .7 2.7 .6 2.6 .7 2.7 .6M236.6 461.9l3.5 .5 3.5 .6 3.5 .5 3.5 .5 3.4 .5 3.5 .6 3.5 .5 3.4 .9 3.3 1.2 3.3 1.2 3.4 1.1 3.3 1.2 3.3 1.1 3.4 1.2 3.3 1.1M233.5 471.8l3.9 .7 4 .7 3.9 .7 4 .6 3.9 .7 4 .7 3.9 .7 3.8 1.1 3.8 1.3 3.8 1.3 3.8 1.3 3.8 1.3 3.8 1.3 3.8 1.3 3.8 1.3M229.5 483.1l4.5 .7 4.4 .6 4.5 .7 4.5 .7 4.4 .7 4.5 .7 4.4 .6 4.4 1.1 4.3 1.3 4.3 1.3 4.3 1.3 4.3 1.4 4.4 1.3 4.3 1.3 4.3 1.3M227 492.5l4.8 .6 4.8 .6 4.8 .7 4.8 .6 4.7 .7 4.8 .6 4.8 .7 4.7 1 4.7 1.3 4.6 1.3 4.7 1.3 4.6 1.2 4.7 1.3 4.6 1.3 4.7 1.3M232.5 505.5l4.6 .5 4.7 .6 4.6 .6 4.6 .5 4.7 .6 4.6 .6 4.6 .6 4.6 .9 4.5 1.2 4.5 1.2 4.5 1.3 4.5 1.2 4.5 1.2 4.5 1.2 4.5 1.2M238.2 516.1l4.4 .4 4.4 .5 4.4 .4 4.4 .5 4.4 .4 4.4 .4 4.5 .5 4.3 .8 4.3 1.1 4.3 1.1 4.3 1.1 4.3 1.1 4.3 1.1 4.3 1 4.3 1.1M245 527.4l4.1 .3 4.1 .3 4.2 .3 4.1 .3 4.1 .4 4.2 .3 4.1 .3 4.1 .7 4 1 4 .9 4.1 1 4 1 4 1 4 .9 4.1 1M251.9 537.5l3.8 .3 3.8 .2 3.9 .2 3.8 .2 3.8 .2 3.9 .2 3.8 .2 3.8 .7 3.7 .8 3.7 .9 3.8 .9 3.7 .8 3.8 .9 3.7 .9 3.7 .8M257.6 545.6l3.6 .4 3.6 .3 3.6 .4 3.6 .4 3.6 .3 3.6 .6 3.6 .5 3.6 .6 3.6 .5 3.5 .6 3.5 1 3.5 .9 3.5 1 3.5 .9 3.5 1M253.2 423.9l-1.5 2.2-1.4 2.2-1.5 2.2-2.2 4.4-2.3 4.5-2.2 4.4-1.4 4.4-1.3 4.4-1.4 4.4-.8 3-.9 3-.8 3-.9 2.7-1 2.6-.9 2.7-1.2 3.3-1.1 3.4-1.2 3.3-.9 2.5-.8 2.4-.9 2.5 1.6 3.9 1.5 3.8 1.6 3.9 1.5 3 1.4 3 1.5 3 1.8 3 1.8 3 1.8 3 2 3.3 2.1 3.4 2 3.3 1.9 2.7 1.9 2.6 1.9 2.7 1.6 2.2 1.5 2.2 1.6 2.2M254.3 423.8l-.8 2.1-.8 2.2-.8 2.1-1.2 4.4-1.2 4.4-1.3 4.3-.7 4.9-.7 4.8-.7 4.9-.5 3.2-.4 3.3-.5 3.3-.6 2.7-.6 2.6-.7 2.7-.8 3.3-.8 3.4-.8 3.3-.6 2.4-.6 2.5-.6 2.4 1.5 3.9 1.4 3.8 1.5 3.8 1.3 2.9 1.4 2.9 1.3 2.9 1.6 2.9 1.6 3 1.6 2.9 1.9 3.2 1.8 3.3 1.8 3.2 1.7 2.6 1.7 2.6 1.7 2.6 1.4 2.3 1.4 2.4 1.4 2.3M255.4 423.7l-.1 2.1-.1 2.1-.1 2-.3 4.3-.2 4.3-.2 4.4-.1 5.2-.1 5.3 0 5.3-.1 3.6-.1 3.5-.1 3.6-.3 2.7-.3 2.6-.4 2.7-.4 3.3-.4 3.4-.4 3.3-.4 2.4-.4 2.4-.3 2.4 1.3 3.8 1.4 3.8 1.4 3.8 1.2 2.8 1.2 2.8 1.2 2.8 1.4 2.9 1.4 2.8 1.5 2.9 1.6 3.1 1.6 3.1 1.6 3.1 1.5 2.6 1.4 2.6 1.5 2.5 1.3 2.5 1.3 2.5 1.2 2.4M256.5 423.6l.6 2.1 .5 2 .6 2 .8 4.3 .7 4.3 .8 4.3 .6 5.7 .5 5.7 .6 5.8 .3 3.8 .3 3.9 .3 3.8 0 2.7-.1 2.6 0 2.7 0 3.3-.1 3.4 0 3.3-.1 2.4-.2 2.4-.1 2.4 1.3 3.7 1.3 3.8 1.3 3.8 1 2.6 1.1 2.7 1 2.6 1.3 2.9 1.2 2.8 1.3 2.8 1.4 3 1.4 3 1.3 3 1.3 2.5 1.3 2.5 1.3 2.5 1.1 2.7 1.1 2.7 1.1 2.7M257.7 423.6l1.2 2.2 1.2 2.2 1.2 2.2 1.7 4.5 1.8 4.4 1.7 4.5 1.2 6.2 1.1 6.1 1.2 6.2 .6 4.1 .7 4.2 .6 4.1 .3 2.6 .3 2.7 .3 2.7 .3 3.3 .4 3.3 .3 3.3 .1 2.4 .2 2.4 .1 2.4 1.2 3.7 1.2 3.7 1.2 3.8 .9 2.5 .9 2.6 .9 2.5 1.1 2.8 1.1 2.8 1.1 2.7 1.2 2.9 1.1 2.9 1.2 2.9 1.1 2.4 1.1 2.5 1 2.4 1 2.5 1 2.5 1 2.5M258.8 423.5l1.9 2.4 1.8 2.4 1.9 2.4 2.7 4.7 2.7 4.7 2.8 4.7 1.7 6.6 1.7 6.6 1.7 6.6 1 4.3 1 4.4 1 4.4 .6 2.7 .6 2.7 .6 2.6 .7 3.4 .8 3.3 .7 3.3 .4 2.4 .4 2.3 .3 2.4 1.1 3.7 1.1 3.7 1.1 3.7 .8 2.4 .8 2.5 .8 2.4 .9 2.7 .9 2.7 .9 2.8 1 2.7 1 2.8 1 2.8 .8 2.4 .9 2.4 .9 2.4 .8 2.5 .8 2.6 .9 2.6M259.9 423.4l2.5 2.6 2.6 2.6 2.5 2.6 3.7 4.9 3.7 5 3.7 4.9 2.3 7 2.3 7 2.3 7 1.3 4.7 1.4 4.6 1.3 4.7 .9 2.7 .9 2.6 .9 2.7 1.1 3.3 1.2 3.4 1.1 3.3 .6 2.3 .7 2.4 .6 2.3 1 3.7 1 3.6 1 3.7 .7 2.3 .6 2.4 .7 2.3 .7 2.7 .8 2.6 .7 2.7 .8 2.7 .7 2.6 .8 2.7 .7 2.3 .6 2.4 .7 2.3 .7 2.7 .6 2.6 .7 2.7" fill="none" stroke="rgba(95,95,95,0.45)" stroke-width="0.5"/>
</g></g>
<g transform="translate(0 0)">
<clipPath id="c11"><path d="M326.5 546l1 4.3 .9 4.4 1 4.3 .9 4.3 1 4.3 .9 4.4 1 4.3 3.3 2.2 3.2 2.3 3.3 2.2 3.7 2.6 3.8 2.5 3.7 2.6-1.6-2.2-1.6-2.2-1.6-2.2-1.5-2.3-1.6-2.2-1.6-2.2-1.6-2.2-2.7-4.7-2.7-4.8-2.7-4.7-2.8-5-2.9-5-2.8-5Z"/></clipPath>
<g clip-path="url(#c11)" fill-rule="evenodd">
<rect x="323" y="543" width="35" height="51" fill="#00ff50"/>
<path d="M324 543l34 0 0 22.9-1 0-1 1-1 0-2 2-1 0-1 1-1 0-1 1-1 0-2 2-1 0-1.1 1.1 1.1 .2 1-1 1 0 1-1 .8 .8-1.8 1.8-1.2 .2 0 2 1 1-.8 1.1 1 .3 1.7 1.6-1.3 1 .6 .7 1 .2 1.6 1.1-1.2 1 2.3 4-.4 2-2 2 0 1-26.3 0 0-51ZM343 575ZM345 578ZM347 581l0 .1 0-.2ZM348.8 584l.2 .4 0-1.1ZM351 570.2l.8 .8-.8 .8-.8-.8Z" fill="#01ff27"/>
<path d="M324 543l34 0 0 22.1-1 0-1 1-1 0-2 2-1 0-1 1-1 0-1 1-1 0-2 2-1 0-2.6 2.9 3.6 6 .3 1 .7 1 1.4 3-.8 1 0 2-2 2 0 1-2 2-20.6 0 0-51ZM341.8 573l.2 .4 .1-.4ZM351 571ZM348 573ZM346 574l1 0-1 0ZM344 574.6l1 .4 .6 1-.6 .9-1.4-1.9ZM346 577.8l.2 .2-.2 .3-.3-.3ZM348 580.9l.1 .1-.1 .1-.1-.1Z" fill="#13ff1d"/>
<path d="M324 543l34 0 0 14.5-1 0-2 2-1 0-1 1-1 0-1 1-1 0-3 3-1 0-3 3-1 0-1.6 1.5 1.3 1-1.1 1 .9 3 .2 2 1.2 1 2.7 7-2.8 3 0 1-2 2 0 1-2 2 0 1-15.8 0 0-51ZM339.7 570l.3 .4 0-.7ZM342 571.8l0 .3-.4-.1ZM343 572.4l.6 .6-.6 .6-.5-.6ZM345 575.5l.3 .5-.3 .5-.4-.5Z" fill="#26ff13"/>
<path d="M324 543l34 0 0 8.9-1 0-1 1-1 0-1 1-1 0-2 2-1 0-1 1-1 0-1 1-1 0-2 2-1 0-1 1-1 0-3.2 3.1 1.1 1-.9 1 0 .5 1-.3 1.9 1.8-.9 .8-1-1.3-.7 .5 2.2 6 2.3 8-.8 1-1 0-1 1 0 1-2 2 0 1-2 2 0 1-2 2 0 1-11 0 0-51ZM341 569.8l.2 .2-.2 .3-.3-.3ZM343 572.9l.1 .1-.1 .1-.1-.1Z" fill="#38ff08"/>
<path d="M324 543l34 0 0 8.2-1 0-1 1-1 0-1 1-1 0-2 2-1 0-1 1-1 0-1 1-1 0-2 2-1 0-1 1-1 0-4 3.8-.5 1 4.7 16 .5 1-2.2 2 0 1-2 2 0 1-2 2 0 1-2 2 0 1-10.5 0 0-51ZM335.9 563l.1 .4 .1-.4ZM338 564.5l.5 .5-.5 .6-.7-.6ZM340 567.6l.4 .4-.4 .4-.4-.4Z" fill="#4cff00"/>
<path d="M324 543l34 0 0 1.7-1 1-1 0-1 1-1 0-2 2-1 0-1 1-1 0-1 1-1 0-2 2-1 0-1 1-1 0-1 1-1 0-1 1-1 0-1.3 1.3 0 1-1 1 .1 1-1.3 1 2.7 9 2.5 10 .4 1 1 1-2 2 0 1-2 2 0 1-2 2 0 1-2 2 0 1-10.1 0 0-51ZM336 561.5l1.7 1.5-.7 .7-1-1.4-.7-.3ZM338 564.9l.1 .1-.1 .1-.2-.1ZM340 568Z" fill="#66ff00"/>
<path d="M324 543l34 0 0 1.3-1 1-1 0-1 1-1 0-2 2-1 0-1 1-1 0-1 1-1 0-2 2-1 0-1 1-1 0-1 1-1 0-1 1-1 0-1.7 1.7 0 1-1 1 .1 1-.4 .4-.7-.4-.1-1-.3 0-.2 1 .3 1.7 2 7 2.2 10.3-.6 1 0 1-2 2 0 1-2 2 0 1-2 2 0 1-3 3 0 1-5.6 0 0-51ZM337 562.6l.3 .4-.3 .3-.3-.3Z" fill="#80ff00"/>
<path d="M324 543l25.9 0-.9 .9-1 0-1 1-1 0-1 1-1 0-2 2-1 0-1 1-1 0-1 1-1 0-2 2-1 0-1.1 1.1 0 2-.6 1 1.4 1-1.2 1 3.2 14 1 6 .5 1-.1 2-2 2 0 1-2 2 0 1-2 2 0 1-3 3 0 1-5.1 0 0-51ZM335 559.7l.1 .3-.1 .1-.1-.1Z" fill="#9aff00"/>
<path d="M324 543l25.5 0-.5 .5-1 0-1 1-1 0-1 1-1 0-2 2-1 0-1 1-1 0-1 1-1 0-2 2-1 0-1.5 1.5 0 2-1.2 1 2.7 13 1.2 8-1.5 2 0 1-2 2 0 1-3 3 0 1-2 2 0 1-2 2 0 1-1 1-.7 0 0-51ZM330.9 554l.1 .3 .1-.3Z" fill="#b2ff00"/>
<path d="M324 543l25.2 0-1.2 .2-1 1-1 0-1 1-1 0-2 2-1 0-1 1-1 0-1 1-1 0-2 2-1 0-2 1.8 0 2-.1-1-.9-.9-.8 .9 2 11 1.4 11 .7 1-.1 1-1 1 0 1-2 2 0 1-3 3 0 1-2 2 0 1-2 2 0 1-1.2 1 0-51Z" fill="#c9ff00"/>
<path d="M324 543l13.8 0-.8 .8-1 0-2 2-1 0-1 1-1 0-2.5 2.2 2.5 15.2 .3 4.8-1.3 1.4-3 0-1 1-3 0 0-28.4Z" fill="#dfff00"/>
<path d="M324 543l13.4 0-.4 .4-1 0-2 2-1 0-1 1-1 0-2 1.9-1.4 .7 1.2 8-.8 .6-4 0-1 1 0-15.6Z" fill="#f5ff00"/>
<path d="M358 551.9l-1 0-1 1-1 0-1 1-1 0-2 2-1 0-1 1-1 0-1 1-1 0-2 2-1 0-1 1-1 0-3.2 3.1 1.1 1-.9 1 0 .5 1-.3 1.9 1.8-.9 .8-1-1.3-.7 .5 2.2 6 2.3 8-.8 1-1 0-1 1 0 1-2 2 0 1-2 2 0 1-2 2 0 1M341 569.8l.2 .2-.2 .3-.3-.3 .3-.2M343 572.9l.1 .1-.1 .1-.1-.1 .1-.1" fill="none" stroke="rgba(55,55,55,0.5)" stroke-width="0.8"/>
</g></g>
<g transform="translate(0 0)">
<clipPath id="c12"><path d="M259.9 423.4l4.1 4.2 4.1 4.3 4.1 4.2 3.6 4.6 1.6 5.7 1.6 5.7 1.6 5.7 1.5 5.7 1.6 5.7 1.5 5.7 1.7 5.7 1.9 5.6 1.8 5.6 1.9 5.6 1.7 5.7 1.6 5.7 1.5 5.7 1.6 5.7 1.6 5.7 1.6 5.6 1.6 5.7 1.6 5.7 1.6 5.7 1.6 5.7 1.1 5.8 1.8 5.6 2.1 5.6 2.1 5.5 2.1 5.5 3.9-1.5 3.8-1.5 3.9-1.5 3.9-1.5-1.4-5.8-1.4-5.7-1.4-5.8-1.4-5.8-1.5-5.7-2.2-5.5-2.2-5.5-2.2-5.5-2.2-5.5-2-5.6-2-5.6-2-5.5-2.1-5.6-2.1-5.6-2.1-5.5-2.1-5.5-2.2-5.6-2.1-5.5-2.4-5.4-2.8-5.2-2.8-5.2-3.2-5-3.9-4.5-3.9-4.4-3.9-4.5-3.9-4.4-4-4.5-3.9-4.4-3.9-4.5 0-.1-.1 0Z"/></clipPath>
<g clip-path="url(#c12)" fill-rule="evenodd">
<rect x="256" y="420" width="81" height="166" fill="#89ff00"/>
<path d="M257 420l80 0 0 166-15.8 0-1-1 0-2-1.2-1.3-1 .1-2-1.9-1 1-2 0-1 1-1 0-1 1-2 0-1 1-2 0-1 1-1 0-1 1-46 .1 0-166Z" fill="#9aff00"/>
<path d="M257 420l80 0 0 166-11.2 0 0-2-1-1 0-1-1-1-.2-1-.6-.6-6-.7-2 1.6-2 0-1 1-1 0-1 1-2 0-1 1-2 0-1 1-1 0-1 1-2 0-.7 .7-43.3 0 0-166Z" fill="#b2ff00"/>
<path d="M257 420l80 0 0 166-2.6 0 0-1-1-1 0-2-1-1 0-2-1.4-1.7-15-1.8-2-.7-2 0-1 1-1 0-1 1-2 0-1 1-1 0-1 1-2 0-1 1-2 0-1 1-1 0-1 1-2 0-1 1-1 0-1 1-2 0-1 1-2 0-1 1-1.2 .2-27.8 0 0-166Z" fill="#c9ff00"/>
<path d="M257 420l80 0 0 152.7-2 0-1 1-1 0-.8 .3-.2 .4-17-2-.6 1.6-.4 .2-2 0-1 1-1 0-1 1-2 0-1 1-1 0-1 1-2 0-1 1-2 0-1 1-1 0-1 1-2 0-1 1-1 0-1 1-2 0-1 1-2 0-1 1-1 0-.8 .8-27.2 0 0-166Z" fill="#dfff00"/>
<path d="M257 420l80 0 0 152.2-2 0-1 1-1 0-.4-.2-.6-1.3-1-.2-18-2.4-1-.5-1 1-2 0-1 1-2 0-1 1-1 0-1 1-2 0-1 1-1 0-1 1-2 0-1 1-2 0-1 1-1 0-1 1-2 0-1 1-2 0-1 1-1 0-1 1-2 0-1 1-1 0-1 1-2 0-1 1-2 0-1 1-1 0-1 1-2 0-.4 .4-10.6 0 0-166Z" fill="#f5ff00"/>
<path d="M257 420l80 0 0 146.7-3 0-1 1-1.8 .3-.2 .6-19.3-2.6-.6 1 1 1-1.1 1-2 0-1 1-2 0-1 1-1 0-1 1-2 0-1 1-1 0-1 1-2 0-1 1-2 0-1 1-1 0-1 1-2 0-1 1-2 0-1 1-1 0-1 1-2 0-1 1-1 0-1 1-2 0-1 1-2 0-1 1-1 0-1 1-2 0-1 1-10 0 0-166Z" fill="#fff600"/>
<path d="M257 420l80 0 0 146.2-3 0-1 1-2 .1-1-1.7-19-2.5-1 .4-2 0-1 1-3 0-1 1-2 0-1 1-2 0-1 1-2 0-1 1-2 0-1 1-2 0-1 1-3 0-1 1-2 0-1 1-2 0-1 1-2 0-1 1-2 0-1 1-2 0-1 1-2 0-1 1-3 0-1 1-2 0-1 1-2 0-1 1 0-160.5Z" fill="#ffe500"/>
<path d="M257 420l80 0 0 140.6-3 0-1 1-3 0-.8 .4-.2 .6-19-2.4-1 .8 1 1 0 1-2 0-1 1-3 0-1 1-2 0-1 1-2 0-1 1-2 0-1 1-2 0-1 1-2 0-1 1-3 0-1 1-2 0-1 1-2 0-1 1-2 0-1 1-2 0-1 1-2 0-1 1-2 0-1 1-3 0-1 1-2 0-1 1-2 0-1 1 0-160ZM308 559l1 1 .5-1-.5-.5Z" fill="#ffd400"/>
<path d="M257 420l80 0 0 140.1-3 0-1 1-3 0-.4-.1-.6-1.3-14-1.7-5-.2-1-.4-4 .2-1 1-4 0-1 1-5 0-1 1-5 0-1 1-4 0-1 1-5 0-1 1-4 0-1 1-5 0-1 1-4 0-1 1-4 .2 0-146.8ZM307.7 556l.3 .3 .5-.3-.5-.8Z" fill="#ffc300"/>
<path d="M257 420l80 0 0 134.6-4 0-1 1-3 0-.8 .4-.2 .7-9-1-10-.2-1-1.6-.8 2.1 1.2 1-3.4 .2-1 1-4 0-1 1-5 0-1 1-5 0-1 1-4 0-1 1-5 0-1 1-4 0-1 1-5 0-1 1-4 0-1 1-3 0-1 .3 0-146.5ZM304 545l0-.1ZM304.7 548l.3 .3 .4-.3-.4-.7ZM305.9 550l.3 0-.2-.4ZM306.7 552l-.3 1 .6 .6 .6-.6-.6-1.2Z" fill="#ffaf00"/>
<path d="M257 420l80 0 0 134.1-4 0-1 1-3 0-2-1.4-18-1-1-.4-3-6.3-.6 2 1.3 1-.2 1 1.2 1-1.7 1.7-2 0-1 1-3 0-1 1-2 0-1 1-3 0-1 1-2 0-1 1-3 0-1 1-2 0-1 1-3 0-1 1-2 0-1 1-3 0-1 1-2 0-1 1-3 0-1 1-2 0-1 1-3 0-1 .6 0-146.3ZM301 537l.1 0-.1-.2ZM302.9 542l.2 0-.1-.3ZM304 544l-.3 1 .3 .3 .6-.3Z" fill="#ff9b00"/>
<path d="M257 420l80 0 0 127.6-1 1-3 0-1 1-3 0-1 1-1 .3-19-1.7-1-.3-3-6.4-.5 2.5 1.1 1-.5 1-.1 1 1.1 1 0 1 1 1-1.1 1.1-2 0-1 1-3 0-1 1-2 0-1 1-3 0-1 1-2 0-1 1-3 0-1 1-2 0-1 1-3 0-1 1-2 0-1 1-3 0-1 1-2 0-1 1-3 0-1 1-2 0-1 1-3 0-1 .9 0-146ZM299.9 534l.3 0-.2-.4ZM301 536l-.3 1 .3 .3 .6-.3ZM301.8 539l.6 0-.4-.8ZM302.8 541l-.2 1 .4 .4 .8-.4-.8-1.7Z" fill="#ff8600"/>
<path d="M257 420l80 0 0 127-1 1-3 0-1 1-3 0-1 1-1 .1-.5-2.1-.5-.5-1 .1-10-1.4-8-.5-1-.4-5-10.7-.5 2.4 1.2 1-.1 1 1.2 1-.5 2 1.1 1-.2 2 1.1 1-.3 .5-2 0-1 1-2 0-1 1-3 0-1 1-2 0-1 1-3 0-1 1-2 0-1 1-3 0-1 1-2 0-1 1-3 0-1 1-2 0-1 1-3 0-1 1-2 0-1 1-3 0-1 1-3 0 0-139.5ZM296.9 526l.4 0-.3-.4ZM298.9 531l.4 0-.3-.7ZM299.9 533l-.2 1 .3 .3 .8-.3-.8-1.6Z" fill="#ff7100"/>
<path d="M257 420l80 0 0 119.3-1 1-1 0-1 1-2 0-1 1-1 0-1 1-2 0-1 1-1 .2-1-1-3-.4-7-.7-8-.3-1-.3-5-10.8-.5 3 1.2 1-.4 2 1.1 1-.1 1 1.1 1-1.4 1.9-3 0-1 1-2 0-1 1-3 0-1 1-2 0-1 1-3 0-1 1-2 0-1 1-3 0-1 1-2 0-1 1-3 0-1 1-3 0-1 1-2 0-1 1-3 0-1 1-2 0 0-133.9ZM295.9 523l.5 0-.4-.7ZM296.9 525l-.2 1 .3 .3 .8-.3-.8-1.4ZM297.9 527l-.1 1 .2 .2 .6-.2-.6-1.3ZM299 529l-.4 2 .4 .4 1-.4Z" fill="#ff5a00"/>
<path d="M257 420l80 0 0 113.5-1 0-1 1-1 0-1 1-2 0-1 1-1 0-1 1-2 0-1 1-1 0-1 1.3-1-.6-4-.4-13-.4-1-.2-7-15-.5 2.8 1.2 1-.1 1 1.1 1-.3 2 1.1 1-.2 2 1.1 1-.3 2 1 1 0 1 1 1-1.1 1.2-3 0-1 1-2 0-1 1-3 0-1 1-2 0-1 1-3 0-1 1-2 0-1 1-3 0-1 1-2 0-1 1-3 0-1 1-3 0-1 1-2 0-1 1-3 0-1 1-2 0 0-133.2ZM292 512ZM294 517l.2 0-.2-.3ZM295 519l-.2 1 .2 .2 .5-.2ZM296 521l-.3 2 .3 .3 .9-.3Z" fill="#ff4200"/>
<path d="M257 420l80 0 0 107.7-2 0-1 1-1 0-1 1-2 0-1 1-1 0-1 1-2 0-1 1-1 0-1 1-1.6 .3-.4 .9-17-.7-8-16.8-.4 2.6 1.2 1-.3 2 1.2 1-.4 2 1.2 1-.1 1 1.1 1-.4 2 1.1 1-.1 2 1.1 1-.2 .5-2 0-1 1-3 0-1 1-2 0-1 1-3 0-1 1-3 0-1 1-2 0-1 1-3 0-1 1-2 0-1 1-3 0-1 1-2 0-1 1-3 0-1 1-2 0-1 1-2 0 0-127.5ZM291 509l.1 0-.1-.2ZM292 511l-.2 1 .2 .2 .6-.2ZM292.9 514l.5 0-.4-.9ZM293.9 516l-.1 1 .2 .2 .8-.2-.8-1.7Z" fill="#ff2b00"/>
<path d="M257 420l80 0 0 100.9-1 1-1 0-1 1-2 0-1 1-1 0-1 1-2 0-1 1-1 0-1 1-2 0-1 1-1 0-.4 2.1-.6 .5-17-.7-1-1.2-2-4-7-15-.4 2.4 1.2 1-.2 1 1.2 1-.2 2 1.1 1-.3 2 1.1 1-.1 2 1.1 1-.3 2 1 1 0 1 1 1-.2 .7-1 0-1 1-2 0-1 1-3 0-1 1-2 0-1 1-3 0-1 1-3 0-1 1-2 0-1 1-3 0-1 1-2 0-1 1-3 0-1 1-2 0-1 1-3 0-1 1-1 0 0-121.7ZM287.9 501l.3 0-.2-.3ZM289.9 506l.5 0-.4-.8ZM290.9 508l-.1 1 .2 .2 .7-.2-.7-1.6Z" fill="#ff1400"/>
<path d="M257 420l80 0 0 100.1-1 1-1 0-1 1-2 0-1 1-1 0-1 1-2 0-1 1-1 0-1 1-2 0-1 1-1 0-1 1.1-.3-.2-.1-1-.6-.6-1-.2-16-.9-1-.7-9-18.6-.4 3 1.1 1-.2 2 1 1-.1 1 1.1 1-.1 2 1.1 1-.3 2 1.1 1-.1 2 1 1-.2 .9-3 0-1 1-2 0-1 1-3 0-1 1-3 0-1 1-2 0-1 1-3 0-1 1-2 0-1 1-3 0-1 1-2 0-1 1-3 0-1 1-2 0-1 1-1 0 0-115.9ZM286.9 498l.4 0-.3-.7ZM287.9 500l-.1 1 .2 .3 .7-.3-.7-1.5ZM288.9 502l-.1 1 .2 .2 .6-.2-.6-1.3ZM290 504l-.3 2 .3 .3 1-.3Z" fill="#ff1000"/>
<path d="M257 420l80 0 0 95.3-2 0-1 1-1 0-1 1-2 0-1 1-2 0-1 1-2 0-1 1-2 0-1 1-1 0-1 1-1.8-.3-.2-1.1-1 .6-15-.6-1-.4-1-1.8-10-20.6-.4 2.9 1.1 1-.1 1 1.1 1-.2 2 1.1 1-.2 2 1 1-.1 2 1 1-.1 1 1.1 1-.1 2 1 1-.2 2 1 1 0 2 1 1.1-3 0-1 1-2 0-1 1-3 0-1 1-3 0-1 1-2 0-1 1-3 0-1 1-2 0-1 1-3 0-1 1-2 0-1 1-3 0-1 1-2 0-1 1-1 0 0-115.1ZM283.9 490l.5 0-.4-.7ZM284.9 492l.3 0-.2-.4ZM286 494l-.2 1 .2 .2 .6-.2-.6-1.2ZM287 496l-.3 2 .3 .3 .9-.3Z" fill="#ff0c00"/>
<path d="M257 420l80 0 0 88.4-1 1-2 0-1 1-1 0-1 1-2 0-1 1-2 0-1 1-2 0-1 1-1 0-1 1-2 0-1 1-4 .3-6-.2-5-.8-4-1.1-1-.6-2-3.3-9-18.3-.4 2.6 1.1 1-.2 2 1.1 1-.2 2 1 1-.1 1 1.1 1-.1 2 1 1-.2 2 1.1 1-.1 2 .9 1-1 1-3 0-1 1-2 0-1 1-3 0-1 1-3 0-1 1-2 0-1 1-3 0-1 1-2 0-1 1-3 0-1 1-3 0-1 1-2 0 0-103ZM281.9 484l.2 0-.1-.3ZM283 486l-.2 1 .2 .2 .5-.2ZM283.8 489l-.2 1 .4 .4 .9-.4-.9-1.9ZM284.8 491l-.1 1 .3 .3 .8-.3-.8-1.8Z" fill="#ff0800"/>
<path d="M257 420l80 0 0 82.6-1 0-1 1-1 0-1 1-2 0-1 1-2 0-1 1-2 0-1 1-1 0-1 1-2 0-1 1-2 0-1 1-2 0-1 1-1 .4-8-1.3-4-1.5-3-1.5-2-1.3-2-2.3-3-5.2-7-14.4-.5 2.5 1.2 1-.3 2 1.1 1-.1 1 1.1 1-.2 2 1.1 1-.2 2 1.1 1-.1 2 .9 1 0 1 1 1 0 2 1 1-.1 .6-2 0-1 1-3 0-1 1-2 0-1 1-3 0-1 1-3 0-1 1-2 0-1 1-3 0-1 1-3 0-1 1-2 0-1 1-2 0 0-96.6ZM278.9 476l.2 0-.1-.2ZM280.8 481l.2 .2 .4-.2-.4-.8ZM281.8 483l-.2 1 .4 .4 .8-.4-.8-1.6Z" fill="#ff0400"/>
<path d="M257 420l80 0 0 76.7-1 0-1 1-2 0-1 1-2 0-1 1-2 0-1 1-2 0-1 1-1 0-1 1-2 0-1 1-2 0-1 1-2 0-1 1-1.5 .3-.5 1.1-4-.9-3-1.2-5.3-3-4.7-3.7-1-1.8-2-1.2-3-4.4-6-12.1-.6 2.2 1.2 1-.3 2 1.2 1-.3 2 1.1 1-.1 2 .9 1 0 1 1.1 1-.1 2 1 1-.1 2 1 1 .1 3-3.1 .1-1 1-2 0-1 1-2 0-1 1-3 0-1 1-2 0-1 1-3 0-1 1-2 0-1 1-2 0-1 1-3 0-1 1 0-91.1ZM277.8 473l.2 .2 .3-.2-.3-.7ZM278.8 475l-.2 1 .4 .4 .7-.4-.7-1.5ZM279.9 477l-.3 1 .4 .4 .6-.4-.6-1.4Z" fill="#ff0000"/>
<path d="M257 420l80 0 0 69.8-1 0-1 1-1 0-1 1-2 0-1 1-2 0-1 1-1 0-1 1-2 0-1 1-2 0-1 1-1 0-1 1-2 0-1 1-2 0-1 1-1 0-1.4 1.2-.6 .9-5-2.5-6-4.4-3.6-4-5.4-7.5-.3 1.5-.7 .6-1-.4-1-1-2-3.1-5-10.2-.5 2.1 1 1-.3 2 1.2 1-.1 1 1.1 1-.3 2 1 1-.1 2 1.1 1-.1 .4-1 0-1 1-2 0-1 1-2 0-1 1-2 0-1 1-2 0-1 1-2 0-1 1-2 0-1 1-2 0-1 1-2 0-1 1 0-74.4ZM274.8 465l.5 0-.3-.6ZM275.9 467l.3 0-.2-.4ZM276.9 469l-.3 1 .4 .4 .6-.4-.6-1.2Z" fill="#f00000"/>
<path d="M257 420l80 0 0 62.7-1 1-1 0-1 1-2 0-1 1-1 0-1 1-2 0-1 1-2 0-1 1-1 0-1 1-2 0-1 1-1 0-1 1-2 0-1 1-2 0-1 1-1 0-1 1-1 0-1 .7-4-2.6-6-5.5-3-3.5-8-11-1-.9-.9 1.1-.1 2.4-1-.3-1-.8-2-3.2-4-8.1-.6 2 1.2 1-.2 1 1.3 1-.6 2 1.1 1-.1 2 .4 1-.5 .5-3 0-1 1-3 0-1 1-2 0-1 1-3 0-1 1-3 0-1 1-2 0 0-59.5ZM272.9 459l.3 0-.2-.3ZM273.9 461l-.3 1 .4 .5 .6-.5Z" fill="#de0000"/>
<path d="M257 420l80 0 0 56.3-1 0-1 1-1 0-1 1-2 0-1 1-1 0-1 1-2 0-1 1-2 0-1 1-1 0-1 1-2 0-1 1-1 0-1 1-2 0-1 1-1 0-1 1-2 0-1 1-2 0-1 1.1-1-1.6-5-4.3-5-5.6-6-7.8-5-7.4-3-.4-1 2.6-1-.5-1-1.3-3-5.9-.7 1.8 1.3 1-.6 2.8-1 1-3 0-1 1-2 0-1 1-3 0-1 1-3 0-1 1-1 0 0-47.8ZM269.9 451l.2 0-.1-.2ZM271 453l-.4 1 .4 .4 .5-.4ZM271.6 456l.4 .4 .5-.4-.5-.8Z" fill="#cd0000"/>
<path d="M257 420l80 0 0 43.9-1 1-1 0-1 1-2 0-1 1-2 0-1 1-1 0-1 1-2 0-1 1-1 0-1 1-2 0-1 1-2 0-1 1-1 0-1 1-2 0-1 1-1 0-1 1-2 0-1 1-2 0-1 1-1 0-1 1-1 .2-4-4.1-6-7.4-6-8.5-4-6.3-1 .8-1-.2-1-.6-2-.2-.5 1.4-.5 .3-1-1.2-2-3.8-.7 1.7 .8 1-.1 2 1 1 0 1 1 1.1-3 0-1 1-2 0-1 1-3 0-1 1-3 0-1 1-1 0 0-41.1ZM267 443l.1 0-.1-.1ZM268.5 448l.5 .5 .5-.5-.5-.7ZM300 479.7l.3 .3-.4 0Z" fill="#b40000"/>
<path d="M257 420l40.9 0-3.9 3.9-1 0-3 3-1 0-3 3-1 0-4 4-1 0-3 3-1 0-1 1 0 1.2 1.5 1.9 .5 0 3 0 2-2 1 0 3-3 1 0 3-3 1 0 3-3 1 0 3-3 1 0 3-3 1 0 3-3 1 0 1-1 29 0 0 34.5-1 1-1 0-1 1-1 0-1 1-2 0-1 1-1 0-1 1-1 0-1 1-1 0-1 1-1 0-1 1-2 0-1 1-1 0-1 1-1 0-1 1-1 0-1 1-1 0-1 1-2 0-1 1-1 0-1 1-1 0-1 1-1 0-1 1-1 0-1 1-2-.2-4-4.6-7-8.9-6-8.4-2-3.9-1-1.2-1 .9-2.8-1.2-3.2-2.1-1 1.2-1-.9-.4 1.8 1.2 1-1.8 1.8-2 0-1 1-1 0-1 1-1 0-1 1-1 0-1 1-1 0-1 1 0-32.8ZM265.8 440l.2 .2 .5-.2-.5-.7ZM266.8 442l-.2 1 .4 .4 .9-.4-.3-1-.6-.6Z" fill="#980000"/>
<path d="M257 420l20 0-5 5-1 0-4 4 0 1 2.8 3 .1 1 3.1 3.6 1 0 .3 .4-.8 1 .8 1-.3 .7-1-.5-7-6.3-1-.8-1 .1-.2 .8 1.1 1-.4 2 1.2 1-.4 2 1.2 1-.2 2 1.1 1-.1 1 1 1-1.3 1.3-2 0-1 1-1 0-1 1-1 0-1 1-1 0-1 1-1 0-1 1 0-32.3ZM308 420.6l.6-.6 28.4 0 0 18.2-1 0-1 1-1 0-1 1-1 0-1 1-1 0-1 1-1 0-2 2-1 0-1 1-1 0-1 1-1 0-1 1-1 0-1 1-1 0-1 1-1 0-1 1-1 0-2 2-1 0-1 1-1 0-1 1-1 0-1 1-1 0-1 1-1 0-1 1-1 0-2 2-1 0-1 1-1 0-1 1-1 0-1 1-.4-1.2-11.6-13.4-.4-.6 0-1-.6 0-3.6-4 .6-.3 1 .7 1-.8 2 0 2-2 1 0 3-3 1 0 3-3 1 0 3-3 1 0 3-3 1 0 3-3 1 0 3-3 1 0ZM280.4 447l.6 .5 .4-.5-.4-.4ZM275 440.6l.3 .4-.3 .5-.7-.5Z" fill="#7c0000"/>
<path d="M326 586l0-2-1-1 0-1-1-1 0-1-1-1-6-.7-.3 .7-.7 .3-1 1-2 0-1 1-1 0-1 1-2 0-1 1-2 0-1 1-1 0-1 1-2 0-.7 .7M337 554.7l-4 0-1 1-3 0-.6 .3-.4 1.3-9-1.1-10-.3-1-1.7-.7 1.8 1.3 1-.6 .3-3 0-1 1-4 0-1 1-5 0-1 1-5 0-1 1-4 0-1 1-5 0-1 1-4 0-1 1-5 0-1 1-4 0-1 1-3 0-1 .3M305 547.4l-.2 .6 .2 .2 .3-.2-.3-.6M306 549.9l0 .1 .1 0-.1-.1M307 552l-.5 1 .5 .5 .5-.5-.5-1M337 520.5l-1 1-1 0-1 1-2 0-1 1-1 0-1 1-2 0-1 1-1 0-1 1-2 0-1 1-1 0-1 1.2-1-.3-16-.7-1-.3-4-7.8-6-12.9-.3 2.3 1.1 1-.2 2 1 1-.1 1 1.2 1-.2 2 1.1 1-.3 2 1.1 1-.1 2 1.1 1-.3 2 1 1 0 1 1 1-.1 .3-1 0-1 1-2 0-1 1-3 0-1 1-2 0-1 1-3 0-1 1-3 0-1 1-2 0-1 1-3 0-1 1-2 0-1 1-3 0-1 1-2 0-1 1-3 0-1 1-1 0M288 500.2l-.2 .8 .2 .2 .5-.2-.5-.8M289 502.4l-.1 .6 .1 .1 .3-.1-.3-.6M290 504.6l-.2 1.4 .2 .2 .7-.2-.7-1.4M337 496.2l-1 0-1 1-2 0-1 1-2 0-1 1-2 0-1 1-2 0-1 1-1 0-1 1-2 0-1 1-2 0-1 1-2 0-1 1-2 .2-.6-.4-.4-.7-4-1.7-5-2.8-4.9-3.8-5.1-6.4-1 .2-1-.3-1-.8-2-3-6-12.1-.6 2.4 1.2 1-.2 1 1.2 1-.4 2 1.1 1-.1 2 1 1-.1 2 1 1-.1 2 .5 1-.5 .5-2 0-1 1-2 0-1 1-2 0-1 1-2 0-1 1-2 0-1 1-2 0-1 1-2 0-1 1-2 0-1 1-2 0-1 1M275 464.9l0 .1 0-.1M277 469.3l-.2 .7 .2 .2 .3-.2-.3-.7M278 471.5l-.4 1.5 .4 .5 .7-.5-.7-1.5M337 476.1l-1 0-1 1-1 0-1 1-2 0-1 1-1 0-1 1-2 0-1 1-2 0-1 1-1 0-1 1-2 0-1 1-1 0-1 1-2 0-1 1-1 0-1 1-2 0-1 1-2 0-1 1-.2-1.1-.7-1-5.1-4.4-6-6.8-5.9-7.8-4.1-6.2-1-.7-1-.3-2 0-.8 2.2-.2 .1-1-.8-1-1.4-2-3.9-.7 1-.1 1 1.2 1-.3 2-.1 .6-1 1-3 0-1 1-2 0-1 1-3 0-1 1-3 0-1 1-1 0M270 450.6l-.2 .4 .2 .2 .2-.2-.2-.4M271 452.7l-.5 1.3 .5 .5 .7-.5-.7-1.3M272 454.9l-.5 1.1 .5 .5 .6-.5-.6-1.1" fill="none" stroke="rgba(55,55,55,0.5)" stroke-width="0.8"/>
<path d="M259.9 423.4l4.1 4.2 4.1 4.3 4.1 4.2 3.6 4.6 1.6 5.7 1.6 5.7 1.6 5.7 1.5 5.7 1.6 5.7 1.5 5.7 1.7 5.7 1.9 5.6 1.8 5.6 1.9 5.6 1.7 5.7 1.6 5.7 1.5 5.7 1.6 5.7 1.6 5.7 1.6 5.6 1.6 5.7 1.6 5.7 1.6 5.7 1.6 5.7 1.1 5.8 1.8 5.6 2.1 5.6 2.1 5.5 2.1 5.5M260 423.4l4 4.4 4 4.3 4 4.4 3.7 4.5 2.8 5.1 2.8 5.1 2.7 5 2.3 5.4 2.2 5.4 2.2 5.5 2 5.5 2.1 5.6 2 5.6 2 5.5 1.9 5.6 1.8 5.7 1.8 5.6 1.8 5.6 1.8 5.7 1.8 5.6 1.9 5.6 1.9 5.6 1.9 5.6 1.9 5.6 1.3 5.8 1.6 5.7 1.7 5.6 1.8 5.7 1.7 5.6M260 423.5l3.9 4.5 3.9 4.4 4 4.5 3.9 4.4 3.9 4.5 3.9 4.4 3.9 4.5 3.2 5 2.8 5.2 2.8 5.2 2.4 5.4 2.1 5.5 2.2 5.6 2.1 5.5 2.1 5.5 2.1 5.6 2.1 5.6 2 5.5 2 5.6 2 5.6 2.2 5.5 2.2 5.5 2.2 5.5 2.2 5.5 1.5 5.7 1.4 5.8 1.4 5.8 1.4 5.7 1.4 5.8M259.9 423.4l.1 0 0 .1M267.9 431.6l-.1 .1-.1 .2-.1 .1 0 .1M275.3 440.1l0 .2-.1 .1 0 .2-.1 .1M278.7 451l1-.5 1-.4 1-.4 1-.4M281.7 462l2-.9 2-.9 2-1 2-.9M284.7 473l2.6-1.2 2.7-1.1 2.6-1.2 2.6-1.1M288 483.9l3-1.2 2.9-1.3 3-1.3 3-1.3M291.6 494.8l3.1-1.3 3.1-1.4 3.1-1.3 3.1-1.3M294.9 505.7l3.3-1.3 3.3-1.4 3.3-1.4 3.3-1.4M298 516.7l3.5-1.4 3.5-1.4 3.5-1.5 3.6-1.4M301 527.8l3.8-1.5 3.7-1.5 3.7-1.5 3.8-1.5M304.1 538.8l4-1.6 4-1.6 4-1.6 4-1.5M307.3 549.8l4.2-1.7 4.3-1.7 4.3-1.6 4.3-1.7M309.8 560.9l4.5-1.7 4.5-1.8 4.5-1.7 4.5-1.7M313.6 571.6l4.2-1.6 4.3-1.6 4.2-1.6 4.2-1.6M317.7 582.3l3.9-1.5 3.8-1.5 3.9-1.5 3.9-1.5" fill="none" stroke="rgba(95,95,95,0.45)" stroke-width="0.5"/>
</g></g>
<g><line x1="230" y1="565.2" x2="217.7" y2="384" stroke="#1a1a1a" stroke-width="1.1" />
<line x1="230" y1="565.2" x2="319.7" y2="664.9" stroke="#1a1a1a" stroke-width="1.1" />
<line x1="319.7" y1="664.9" x2="502.2" y2="603.9" stroke="#1a1a1a" stroke-width="1.1" />
<line x1="230" y1="565.2" x2="233.5" y2="564.3" stroke="#1a1a1a" stroke-width="1" />
<text transform="translate(225.5 571.4) rotate(-5)" font-size="8.3" text-anchor="end" fill="#1c1c1c">1.055</text>
<line x1="228.9" y1="549.5" x2="232.5" y2="548.5" stroke="#1a1a1a" stroke-width="1" />
<text transform="translate(224.4 555.7) rotate(-5)" font-size="8.3" text-anchor="end" fill="#1c1c1c">1.060</text>
<line x1="227.8" y1="533.4" x2="231.4" y2="532.5" stroke="#1a1a1a" stroke-width="1" />
<text transform="translate(223.3 539.6) rotate(-5)" font-size="8.3" text-anchor="end" fill="#1c1c1c">1.065</text>
<line x1="226.7" y1="517" x2="230.4" y2="516.2" stroke="#1a1a1a" stroke-width="1" />
<text transform="translate(222.2 523.2) rotate(-5)" font-size="8.3" text-anchor="end" fill="#1c1c1c">1.070</text>
<line x1="225.6" y1="500.4" x2="229.3" y2="499.5" stroke="#1a1a1a" stroke-width="1" />
<text transform="translate(221.1 506.6) rotate(-5)" font-size="8.3" text-anchor="end" fill="#1c1c1c">1.075</text>
<line x1="224.4" y1="483.5" x2="228.2" y2="482.6" stroke="#1a1a1a" stroke-width="1" />
<text transform="translate(219.9 489.7) rotate(-5)" font-size="8.3" text-anchor="end" fill="#1c1c1c">1.080</text>
<line x1="223.2" y1="466.2" x2="227" y2="465.4" stroke="#1a1a1a" stroke-width="1" />
<text transform="translate(218.7 472.4) rotate(-5)" font-size="8.3" text-anchor="end" fill="#1c1c1c">1.085</text>
<line x1="222" y1="448.6" x2="225.9" y2="447.8" stroke="#1a1a1a" stroke-width="1" />
<text transform="translate(217.5 454.8) rotate(-5)" font-size="8.3" text-anchor="end" fill="#1c1c1c">1.090</text>
<line x1="220.8" y1="430.7" x2="224.7" y2="430" stroke="#1a1a1a" stroke-width="1" />
<text transform="translate(216.3 436.9) rotate(-5)" font-size="8.3" text-anchor="end" fill="#1c1c1c">1.095</text>
<line x1="219.6" y1="412.5" x2="223.5" y2="411.8" stroke="#1a1a1a" stroke-width="1" />
<text transform="translate(215.1 418.7) rotate(-5)" font-size="8.3" text-anchor="end" fill="#1c1c1c">1.100</text>
<line x1="218.3" y1="393.9" x2="222.3" y2="393.2" stroke="#1a1a1a" stroke-width="1" />
<text transform="translate(213.8 400.1) rotate(-5)" font-size="8.3" text-anchor="end" fill="#1c1c1c">1.105</text>
<line x1="240.9" y1="577.4" x2="244.6" y2="576.5" stroke="#1a1a1a" stroke-width="1" />
<text transform="matrix(0.9478 -0.3169 0.4659 0.5175 238.73 579.74)" font-size="10.0" text-anchor="end" fill="#1c1c1c" >0.01</text>
<line x1="252.5" y1="590.2" x2="256.2" y2="589.2" stroke="#1a1a1a" stroke-width="1" />
<text transform="matrix(0.9478 -0.3169 0.4659 0.5175 250.26 592.54)" font-size="10.0" text-anchor="end" fill="#1c1c1c" >0.02</text>
<line x1="264.6" y1="603.7" x2="268.3" y2="602.6" stroke="#1a1a1a" stroke-width="1" />
<text transform="matrix(0.9478 -0.3169 0.4659 0.5175 262.36 605.98)" font-size="10.0" text-anchor="end" fill="#1c1c1c" >0.03</text>
<line x1="277.3" y1="617.8" x2="281.1" y2="616.7" stroke="#1a1a1a" stroke-width="1" />
<text transform="matrix(0.9478 -0.3169 0.4659 0.5175 275.08 620.11)" font-size="10.0" text-anchor="end" fill="#1c1c1c" >0.04</text>
<line x1="290.7" y1="632.7" x2="294.6" y2="631.5" stroke="#1a1a1a" stroke-width="1" />
<text transform="matrix(0.9478 -0.3169 0.4659 0.5175 288.47 634.98)" font-size="10.0" text-anchor="end" fill="#1c1c1c" >0.05</text>
<line x1="304.8" y1="648.4" x2="308.8" y2="647.1" stroke="#1a1a1a" stroke-width="1" />
<text transform="matrix(0.9478 -0.3169 0.4659 0.5175 302.59 650.66)" font-size="10.0" text-anchor="end" fill="#1c1c1c" >0.06</text>
<line x1="319.7" y1="664.9" x2="323.8" y2="663.6" stroke="#1a1a1a" stroke-width="1" />
<text transform="matrix(0.9478 -0.3169 0.4659 0.5175 317.48 667.21)" font-size="10.0" text-anchor="end" fill="#1c1c1c" >0.07</text>
<line x1="320.5" y1="664.6" x2="323.7" y2="668.2" stroke="#1a1a1a" stroke-width="1" />
<text transform="matrix(0.4659 0.5175 -0.9478 0.3169 322.80 670.35)" font-size="10.0" text-anchor="start" fill="#1c1c1c" >2.5</text>
<line x1="343.5" y1="657" x2="346.8" y2="660.5" stroke="#1a1a1a" stroke-width="1" />
<text transform="matrix(0.4659 0.5175 -0.9478 0.3169 345.77 662.67)" font-size="10.0" text-anchor="start" fill="#1c1c1c" >3.0</text>
<line x1="365.9" y1="649.5" x2="369.3" y2="652.9" stroke="#1a1a1a" stroke-width="1" />
<text transform="matrix(0.4659 0.5175 -0.9478 0.3169 368.16 655.19)" font-size="10.0" text-anchor="start" fill="#1c1c1c" >3.5</text>
<line x1="387.7" y1="642.2" x2="391.2" y2="645.5" stroke="#1a1a1a" stroke-width="1" />
<text transform="matrix(0.4659 0.5175 -0.9478 0.3169 389.98 647.89)" font-size="10.0" text-anchor="start" fill="#1c1c1c" >4.0</text>
<line x1="409" y1="635.1" x2="412.5" y2="638.3" stroke="#1a1a1a" stroke-width="1" />
<text transform="matrix(0.4659 0.5175 -0.9478 0.3169 411.26 640.78)" font-size="10.0" text-anchor="start" fill="#1c1c1c" >4.5</text>
<line x1="429.7" y1="628.1" x2="433.4" y2="631.3" stroke="#1a1a1a" stroke-width="1" />
<text transform="matrix(0.4659 0.5175 -0.9478 0.3169 432.01 633.84)" font-size="10.0" text-anchor="start" fill="#1c1c1c" >5.0</text>
<line x1="450" y1="621.4" x2="453.7" y2="624.4" stroke="#1a1a1a" stroke-width="1" />
<text transform="matrix(0.4659 0.5175 -0.9478 0.3169 452.26 627.07)" font-size="10.0" text-anchor="start" fill="#1c1c1c" >5.5</text>
<line x1="469.7" y1="614.7" x2="473.5" y2="617.8" stroke="#1a1a1a" stroke-width="1" />
<text transform="matrix(0.4659 0.5175 -0.9478 0.3169 472.03 620.46)" font-size="10.0" text-anchor="start" fill="#1c1c1c" >6.0</text>
<line x1="489" y1="608.3" x2="492.9" y2="611.2" stroke="#1a1a1a" stroke-width="1" />
<text transform="matrix(0.4659 0.5175 -0.9478 0.3169 491.33 614.00)" font-size="10.0" text-anchor="start" fill="#1c1c1c" >6.5</text><text transform="matrix(0.8957 -0.2995 0.5125 0.5692 431.69 651.58)" font-size="11.4" text-anchor="middle" fill="#1c1c1c" >Diameter of channel 1(mm)</text>
<text transform="matrix(0.4356 0.4838 -0.9478 0.3169 241.94 625.51)" font-size="11.4" text-anchor="middle" fill="#1c1c1c" >Inlet velocity(m/s)</text>
<text transform="translate(195.6 484.5) rotate(-94.2) scale(0.885 1)" font-size="11.3" text-anchor="middle" fill="#1c1c1c">Maximum temperature diff.(K)</text></g>
<text x="5.5" y="14" font-size="12" font-weight="bold" style="font-family:'Liberation Serif',serif" fill="#111">(a)</text>
<text x="354" y="14" font-size="12" font-weight="bold" style="font-family:'Liberation Serif',serif" fill="#111">(b)</text>
<text x="177" y="382" font-size="12" font-weight="bold" style="font-family:'Liberation Serif',serif" fill="#111">(c)</text>
</svg></body></html>
